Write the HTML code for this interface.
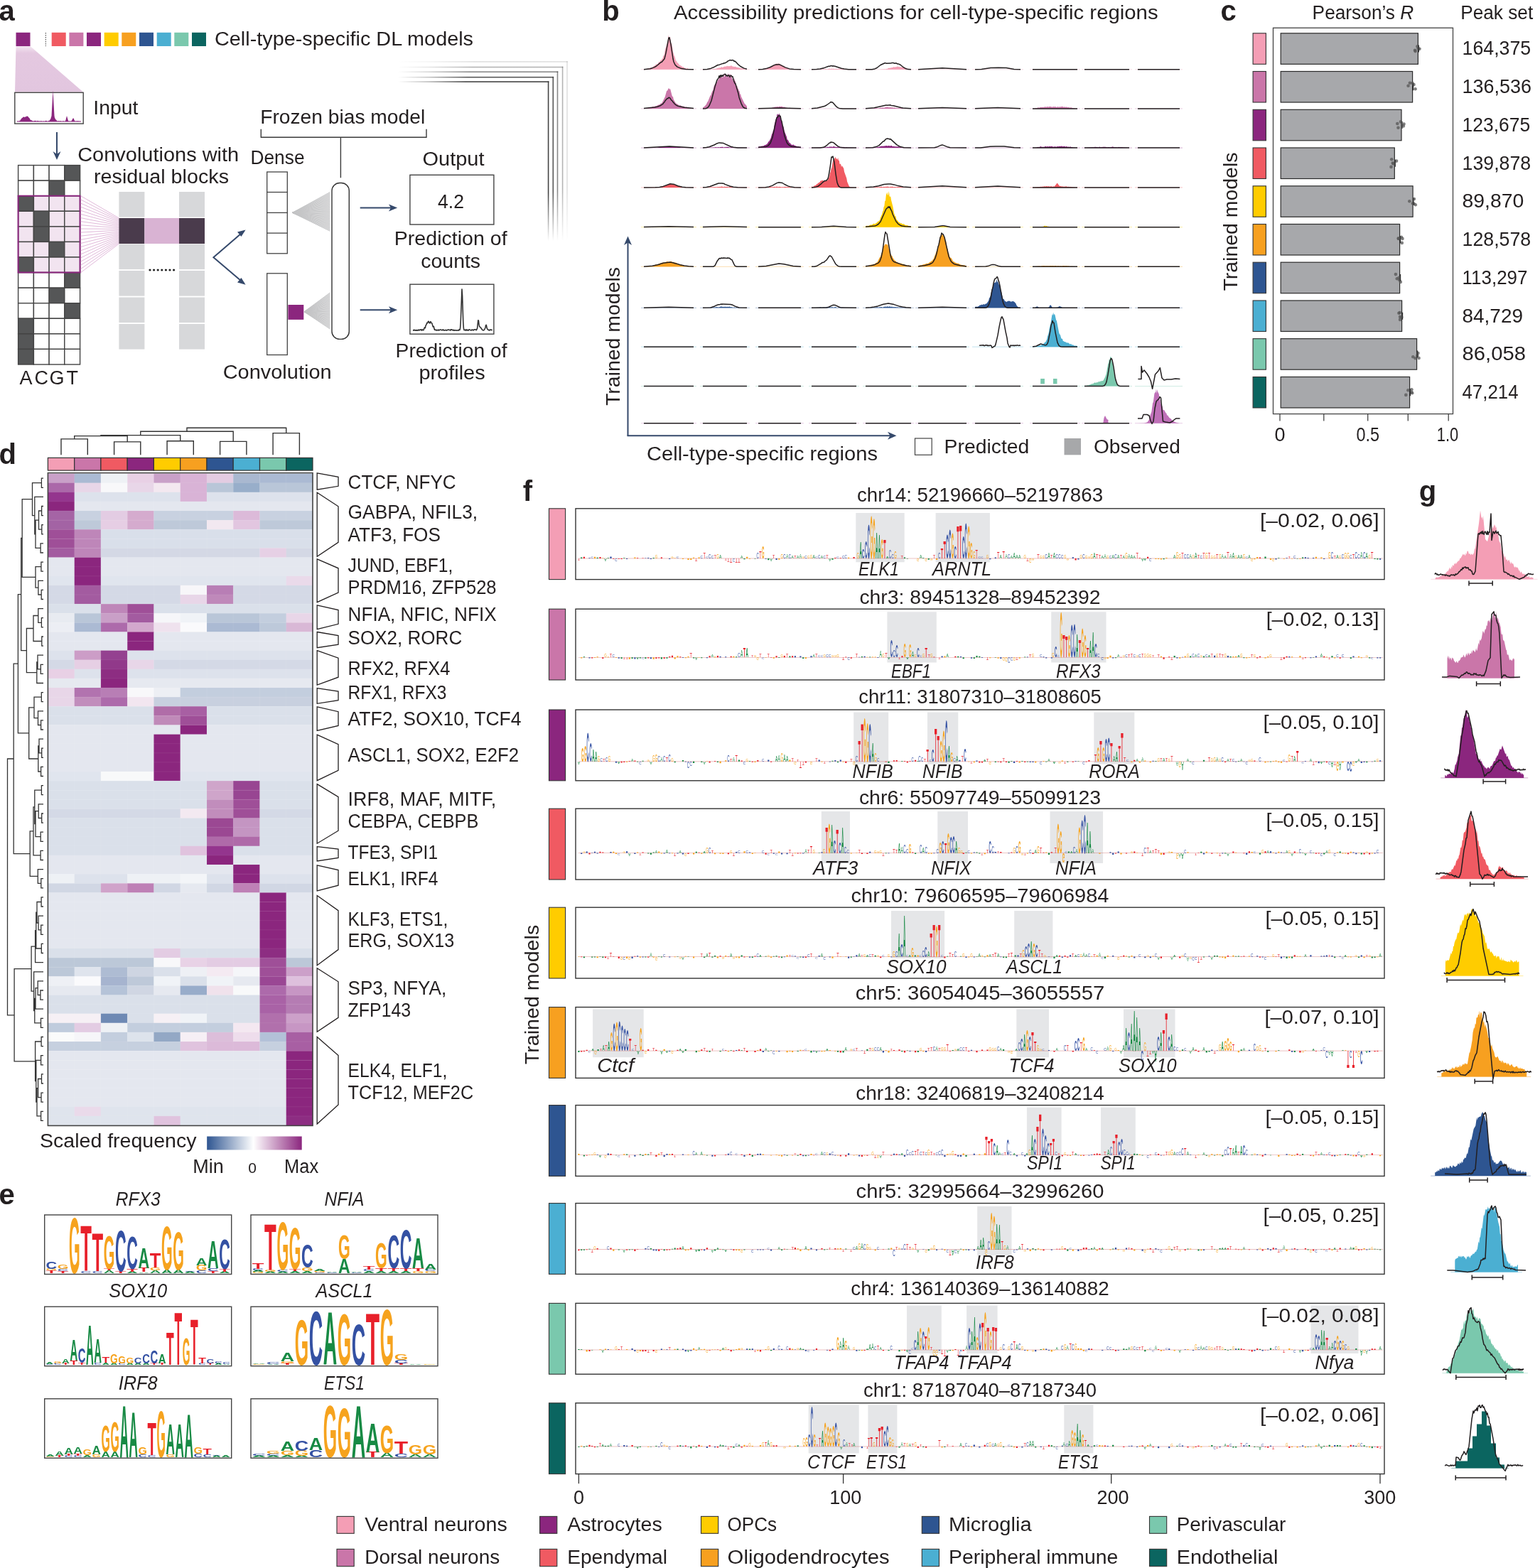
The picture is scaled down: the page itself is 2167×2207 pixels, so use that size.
<!DOCTYPE html>
<html><head><meta charset="utf-8"><title>Figure</title>
<style>
html,body{margin:0;padding:0;background:#fff;overflow:hidden;}
svg{display:block;}
svg{font-family:'Liberation Sans', Arial, sans-serif;font-size:27px;fill:#231f20;}
.L{font-weight:bold;font-size:100px}.M{font-size:100px}.a{fill:#178a44}.c{fill:#3451a3}.g{fill:#f6a31e}.t{fill:#e8202a}
</style></head><body>
<svg width="2167" height="2207" viewBox="0 0 2167 2207">
<rect width="2167" height="2207" fill="#fff"/>
<text x="-1.5" y="29" font-weight="bold" font-size="40">a</text>
<rect x="22.5" y="45.8" width="20" height="19.2" fill="#8B267E"/>
<line x1="64.3" y1="46" x2="64.3" y2="65" stroke="#333" stroke-width="1" stroke-dasharray="1.5,1.5"/>
<rect x="72.7" y="45.8" width="20" height="19.2" fill="#F05A62"/>
<rect x="97.4" y="45.8" width="20" height="19.2" fill="#CA76A9"/>
<rect x="122" y="45.8" width="20" height="19.2" fill="#8B267E"/>
<rect x="146.7" y="45.8" width="20" height="19.2" fill="#FFCC00"/>
<rect x="171.3" y="45.8" width="20" height="19.2" fill="#F7A020"/>
<rect x="196" y="45.8" width="20" height="19.2" fill="#2E5591"/>
<rect x="220.7" y="45.8" width="20" height="19.2" fill="#4BAFD2"/>
<rect x="245.3" y="45.8" width="20" height="19.2" fill="#7AC8AD"/>
<rect x="270" y="45.8" width="20" height="19.2" fill="#0B6560"/>
<text x="302" y="64" textLength="364" lengthAdjust="spacingAndGlyphs">Cell-type-specific DL models</text>
<defs><linearGradient id="trap" x1="0" y1="0" x2="0" y2="1"><stop offset="0" stop-color="#f3e6f1"/><stop offset="0.15" stop-color="#e4c8e0"/><stop offset="1" stop-color="#e2c6df"/></linearGradient></defs>
<polygon points="22.5,65 42.6,65 117,129.5 21,129.5" fill="url(#trap)"/>
<rect x="20.8" y="130.3" width="96.4" height="43.8" fill="#fff" stroke="#444" stroke-width="1.4"/>
<path d="M24,171.5l0,-0.9l0.5,-0.4l0.5,0.2l1,-0.3l0.5,0.6l0.5,-0.1l0.5,-1.2l0.5,0.5l0.5,-0.4l0.5,-1.4l0.5,0.1l0.5,-1.1l1,-1.1l0.5,0l1,-1.5l0.5,0.3l1,-0.2l0.5,0.7l0.5,-0.9l1.5,0.2l0.5,-1.2l0.5,0.4l1,-0.4l1,0.6l0.5,1.1l0.5,0.1l0.5,1l0.5,0l0.5,0.7l0.5,1.5l1,0.8l0.5,-0.6l0.5,1l0.5,-0l0.5,0.5l1.5,0.3l1.5,-0.6l0.5,0.3l1.5,-0.4l1,1l0.5,-0.8l0.5,-0.2l1,0.5l0.5,-0.2l0.5,0.6l0.5,-0.7l1.5,0.9l0.5,-0.9l0.5,-0.2l0.5,1.1l0.5,-0.9l1,0.8l1.5,-0.8l0.5,0.9l0.5,-0.6l0.5,0.6l0.5,-0.8l0.5,0.5l0.5,-0.7l0.5,-0.1l0.5,0.6l0.5,-0.6l1,1.1l0.5,-0.7l0.5,0.6l1.5,-1.1l0.5,0.2l0.5,-0.3l0.5,-1.5l0.5,-0.1l1.5,-4.7l2,-36l2,35.8l0.5,2.7l1.5,2.9l0.5,-0.2l1.5,2.1l1,-0.4l0.5,0.7l0.5,-0.7l0.5,0l0.5,0.7l0.5,-0.7l0.5,0.2l0.5,-0.2l0.5,0.4l1,-0.5l0.5,0.9l0.5,-0.1l1,-1.1l0.5,0.9l1,-0.4l0.5,0.3l1,-0.1l0.5,-0.4l0.5,-1.3l1.5,-5.7l2,7.1l0.5,0.4l0.5,-0.6l0.5,0.7l0.5,0.1l1,-0.6l0.5,0.7l1,-0.5l0.5,-1.1l0.5,-0.3l0.5,-1.6l1,-0.8l0.5,0l0.5,0.8l0.5,1.6l1,1.6l0.5,-0.3l0.5,0.5l0.5,-0.8l0.5,-0l0.5,0.8l0.5,-0.1l0.5,-0.7l1,0l1,0.8l1,-0.8l0.5,0.7l1.5,-0.2l0,1.1z" fill="#8B267E"/>
<text x="131.3" y="161" textLength="63" lengthAdjust="spacingAndGlyphs">Input</text>
<line x1="80" y1="186" x2="80" y2="220" stroke="#35496b" stroke-width="2"/>
<polygon points="74.5,213 80,225 85.5,213 80,217" fill="#35496b"/>
<text x="109.2" y="227" textLength="227" lengthAdjust="spacingAndGlyphs">Convolutions with</text>
<text x="132" y="258" textLength="190" lengthAdjust="spacingAndGlyphs">residual blocks</text>
<rect x="25.6" y="232.6" width="21.8" height="21.6" fill="#ffffff" stroke="#444" stroke-width="1.4"/>
<rect x="47.4" y="232.6" width="21.8" height="21.6" fill="#ffffff" stroke="#444" stroke-width="1.4"/>
<rect x="69.1" y="232.6" width="21.8" height="21.6" fill="#ffffff" stroke="#444" stroke-width="1.4"/>
<rect x="90.8" y="232.6" width="21.8" height="21.6" fill="#555657" stroke="#444" stroke-width="1.4"/>
<rect x="25.6" y="254.2" width="21.8" height="21.6" fill="#ffffff" stroke="#444" stroke-width="1.4"/>
<rect x="47.4" y="254.2" width="21.8" height="21.6" fill="#ffffff" stroke="#444" stroke-width="1.4"/>
<rect x="69.1" y="254.2" width="21.8" height="21.6" fill="#555657" stroke="#444" stroke-width="1.4"/>
<rect x="90.8" y="254.2" width="21.8" height="21.6" fill="#ffffff" stroke="#444" stroke-width="1.4"/>
<rect x="25.6" y="275.7" width="21.8" height="21.6" fill="#555657" stroke="#444" stroke-width="1.4"/>
<rect x="47.4" y="275.7" width="21.8" height="21.6" fill="#f2e4f0" stroke="#444" stroke-width="1.4"/>
<rect x="69.1" y="275.7" width="21.8" height="21.6" fill="#f2e4f0" stroke="#444" stroke-width="1.4"/>
<rect x="90.8" y="275.7" width="21.8" height="21.6" fill="#f2e4f0" stroke="#444" stroke-width="1.4"/>
<rect x="25.6" y="297.3" width="21.8" height="21.6" fill="#f2e4f0" stroke="#444" stroke-width="1.4"/>
<rect x="47.4" y="297.3" width="21.8" height="21.6" fill="#555657" stroke="#444" stroke-width="1.4"/>
<rect x="69.1" y="297.3" width="21.8" height="21.6" fill="#f2e4f0" stroke="#444" stroke-width="1.4"/>
<rect x="90.8" y="297.3" width="21.8" height="21.6" fill="#f2e4f0" stroke="#444" stroke-width="1.4"/>
<rect x="25.6" y="318.9" width="21.8" height="21.6" fill="#f2e4f0" stroke="#444" stroke-width="1.4"/>
<rect x="47.4" y="318.9" width="21.8" height="21.6" fill="#555657" stroke="#444" stroke-width="1.4"/>
<rect x="69.1" y="318.9" width="21.8" height="21.6" fill="#f2e4f0" stroke="#444" stroke-width="1.4"/>
<rect x="90.8" y="318.9" width="21.8" height="21.6" fill="#f2e4f0" stroke="#444" stroke-width="1.4"/>
<rect x="25.6" y="340.4" width="21.8" height="21.6" fill="#f2e4f0" stroke="#444" stroke-width="1.4"/>
<rect x="47.4" y="340.4" width="21.8" height="21.6" fill="#f2e4f0" stroke="#444" stroke-width="1.4"/>
<rect x="69.1" y="340.4" width="21.8" height="21.6" fill="#555657" stroke="#444" stroke-width="1.4"/>
<rect x="90.8" y="340.4" width="21.8" height="21.6" fill="#f2e4f0" stroke="#444" stroke-width="1.4"/>
<rect x="25.6" y="362" width="21.8" height="21.6" fill="#555657" stroke="#444" stroke-width="1.4"/>
<rect x="47.4" y="362" width="21.8" height="21.6" fill="#f2e4f0" stroke="#444" stroke-width="1.4"/>
<rect x="69.1" y="362" width="21.8" height="21.6" fill="#f2e4f0" stroke="#444" stroke-width="1.4"/>
<rect x="90.8" y="362" width="21.8" height="21.6" fill="#f2e4f0" stroke="#444" stroke-width="1.4"/>
<rect x="25.6" y="383.6" width="21.8" height="21.6" fill="#ffffff" stroke="#444" stroke-width="1.4"/>
<rect x="47.4" y="383.6" width="21.8" height="21.6" fill="#ffffff" stroke="#444" stroke-width="1.4"/>
<rect x="69.1" y="383.6" width="21.8" height="21.6" fill="#ffffff" stroke="#444" stroke-width="1.4"/>
<rect x="90.8" y="383.6" width="21.8" height="21.6" fill="#555657" stroke="#444" stroke-width="1.4"/>
<rect x="25.6" y="405.2" width="21.8" height="21.6" fill="#ffffff" stroke="#444" stroke-width="1.4"/>
<rect x="47.4" y="405.2" width="21.8" height="21.6" fill="#ffffff" stroke="#444" stroke-width="1.4"/>
<rect x="69.1" y="405.2" width="21.8" height="21.6" fill="#555657" stroke="#444" stroke-width="1.4"/>
<rect x="90.8" y="405.2" width="21.8" height="21.6" fill="#ffffff" stroke="#444" stroke-width="1.4"/>
<rect x="25.6" y="426.7" width="21.8" height="21.6" fill="#ffffff" stroke="#444" stroke-width="1.4"/>
<rect x="47.4" y="426.7" width="21.8" height="21.6" fill="#ffffff" stroke="#444" stroke-width="1.4"/>
<rect x="69.1" y="426.7" width="21.8" height="21.6" fill="#ffffff" stroke="#444" stroke-width="1.4"/>
<rect x="90.8" y="426.7" width="21.8" height="21.6" fill="#555657" stroke="#444" stroke-width="1.4"/>
<rect x="25.6" y="448.3" width="21.8" height="21.6" fill="#555657" stroke="#444" stroke-width="1.4"/>
<rect x="47.4" y="448.3" width="21.8" height="21.6" fill="#ffffff" stroke="#444" stroke-width="1.4"/>
<rect x="69.1" y="448.3" width="21.8" height="21.6" fill="#ffffff" stroke="#444" stroke-width="1.4"/>
<rect x="90.8" y="448.3" width="21.8" height="21.6" fill="#ffffff" stroke="#444" stroke-width="1.4"/>
<rect x="25.6" y="469.9" width="21.8" height="21.6" fill="#555657" stroke="#444" stroke-width="1.4"/>
<rect x="47.4" y="469.9" width="21.8" height="21.6" fill="#ffffff" stroke="#444" stroke-width="1.4"/>
<rect x="69.1" y="469.9" width="21.8" height="21.6" fill="#ffffff" stroke="#444" stroke-width="1.4"/>
<rect x="90.8" y="469.9" width="21.8" height="21.6" fill="#ffffff" stroke="#444" stroke-width="1.4"/>
<rect x="25.6" y="491.4" width="21.8" height="21.6" fill="#555657" stroke="#444" stroke-width="1.4"/>
<rect x="47.4" y="491.4" width="21.8" height="21.6" fill="#ffffff" stroke="#444" stroke-width="1.4"/>
<rect x="69.1" y="491.4" width="21.8" height="21.6" fill="#ffffff" stroke="#444" stroke-width="1.4"/>
<rect x="90.8" y="491.4" width="21.8" height="21.6" fill="#ffffff" stroke="#444" stroke-width="1.4"/>
<rect x="25.6" y="275.7" width="87" height="107.8" fill="none" stroke="#8B267E" stroke-width="2"/>
<text x="36.5" y="541.4" text-anchor="middle">A</text>
<text x="58.2" y="541.4" text-anchor="middle">C</text>
<text x="80" y="541.4" text-anchor="middle">G</text>
<text x="101.7" y="541.4" text-anchor="middle">T</text>
<path d="M113.6,275.7 L167.4,307 M113.6,280.9 L167.4,308.7 M113.6,286 L167.4,310.4 M113.6,291.1 L167.4,312.1 M113.6,296.3 L167.4,313.9 M113.6,301.4 L167.4,315.6 M113.6,306.6 L167.4,317.3 M113.6,311.7 L167.4,319 M113.6,316.8 L167.4,320.7 M113.6,322 L167.4,322.4 M113.6,327.1 L167.4,324.1 M113.6,332.2 L167.4,325.9 M113.6,337.4 L167.4,327.6 M113.6,342.5 L167.4,329.3 M113.6,347.6 L167.4,331 M113.6,352.8 L167.4,332.7 M113.6,357.9 L167.4,334.4 M113.6,363 L167.4,336.1 M113.6,368.2 L167.4,337.9 M113.6,373.3 L167.4,339.6 M113.6,378.5 L167.4,341.3 M113.6,383.6 L167.4,343" stroke="#d8a6cf" stroke-width="0.8" fill="none"/>
<rect x="167.4" y="270" width="36" height="35.6" fill="#d7d8da"/>
<rect x="167.4" y="307" width="36" height="36" fill="#4a3b4c"/>
<rect x="167.4" y="343.5" width="36" height="35.6" fill="#d7d8da"/>
<rect x="167.4" y="381" width="36" height="35.6" fill="#d7d8da"/>
<rect x="167.4" y="418.5" width="36" height="35.6" fill="#d7d8da"/>
<rect x="167.4" y="456" width="36" height="35.6" fill="#d7d8da"/>
<rect x="252" y="270" width="36" height="35.6" fill="#d7d8da"/>
<rect x="252" y="307" width="36" height="36" fill="#4a3b4c"/>
<rect x="252" y="343.5" width="36" height="35.6" fill="#d7d8da"/>
<rect x="252" y="381" width="36" height="35.6" fill="#d7d8da"/>
<rect x="252" y="418.5" width="36" height="35.6" fill="#d7d8da"/>
<rect x="252" y="456" width="36" height="35.6" fill="#d7d8da"/>
<rect x="203.4" y="307" width="48.6" height="36" fill="#d9b3d3"/>
<circle cx="211" cy="380" r="1.6" fill="#222"/>
<circle cx="216.6" cy="380" r="1.6" fill="#222"/>
<circle cx="222.2" cy="380" r="1.6" fill="#222"/>
<circle cx="227.8" cy="380" r="1.6" fill="#222"/>
<circle cx="233.4" cy="380" r="1.6" fill="#222"/>
<circle cx="239" cy="380" r="1.6" fill="#222"/>
<circle cx="244.6" cy="380" r="1.6" fill="#222"/>
<path d="M343,325.5 L300.4,362.2 L343,398.6" fill="none" stroke="#35496b" stroke-width="2"/>
<polygon points="345.6,323.4 334,326.5 339.5,333" fill="#35496b"/>
<polygon points="345.6,400.7 334,397.6 339.5,391" fill="#35496b"/>
<text x="366.2" y="173.7" textLength="232" lengthAdjust="spacingAndGlyphs">Frozen bias model</text>
<path d="M367.3,181.8 V193.3 H600 V181.8 M479.4,193.3 V250.2" fill="none" stroke="#3a3a3a" stroke-width="1.4"/>
<text x="352.5" y="231" textLength="76" lengthAdjust="spacingAndGlyphs">Dense</text>
<rect x="375.7" y="242" width="28.6" height="114.8" fill="#fff" stroke="#444" stroke-width="1.3"/>
<line x1="375.7" y1="270.5" x2="404.3" y2="270.5" stroke="#444" stroke-width="1.3"/>
<line x1="375.7" y1="299.4" x2="404.3" y2="299.4" stroke="#444" stroke-width="1.3"/>
<line x1="375.7" y1="328.1" x2="404.3" y2="328.1" stroke="#444" stroke-width="1.3"/>
<rect x="375.7" y="384.8" width="28.6" height="114.7" fill="#fff" stroke="#444" stroke-width="1.3"/>
<rect x="405.4" y="429" width="21.9" height="20.9" fill="#8B267E"/>
<path d="M411.4,299.4 L464.3,270.5 M411.4,299.4 L464.3,272.7 M411.4,299.4 L464.3,274.9 M411.4,299.4 L464.3,277.1 M411.4,299.4 L464.3,279.3 M411.4,299.4 L464.3,281.4 M411.4,299.4 L464.3,283.6 M411.4,299.4 L464.3,285.8 M411.4,299.4 L464.3,288 M411.4,299.4 L464.3,290.2 M411.4,299.4 L464.3,292.4 M411.4,299.4 L464.3,294.6 M411.4,299.4 L464.3,296.8 M411.4,299.4 L464.3,298.9 M411.4,299.4 L464.3,301.1 M411.4,299.4 L464.3,303.3 M411.4,299.4 L464.3,305.5 M411.4,299.4 L464.3,307.7 M411.4,299.4 L464.3,309.9 M411.4,299.4 L464.3,312.1 M411.4,299.4 L464.3,314.3 M411.4,299.4 L464.3,316.4 M411.4,299.4 L464.3,318.6 M411.4,299.4 L464.3,320.8 M411.4,299.4 L464.3,323 M411.4,299.4 L464.3,325.2" stroke="#bdbec0" stroke-width="0.9" fill="none"/>
<polygon points="411.4,299.4 464.3,270.5 464.3,325.2" fill="#c8c9cb" opacity="0.55"/>
<path d="M428,438.8 L464.3,412 M428,438.8 L464.3,414 M428,438.8 L464.3,416.1 M428,438.8 L464.3,418.1 M428,438.8 L464.3,420.2 M428,438.8 L464.3,422.2 M428,438.8 L464.3,424.2 M428,438.8 L464.3,426.3 M428,438.8 L464.3,428.3 M428,438.8 L464.3,430.4 M428,438.8 L464.3,432.4 M428,438.8 L464.3,434.4 M428,438.8 L464.3,436.5 M428,438.8 L464.3,438.5 M428,438.8 L464.3,440.6 M428,438.8 L464.3,442.6 M428,438.8 L464.3,444.6 M428,438.8 L464.3,446.7 M428,438.8 L464.3,448.7 M428,438.8 L464.3,450.8 M428,438.8 L464.3,452.8 M428,438.8 L464.3,454.8 M428,438.8 L464.3,456.9 M428,438.8 L464.3,458.9 M428,438.8 L464.3,461 M428,438.8 L464.3,463" stroke="#bdbec0" stroke-width="0.9" fill="none"/>
<polygon points="428,438.8 464.3,412 464.3,463" fill="#c8c9cb" opacity="0.55"/>
<rect x="467" y="257.5" width="24.3" height="219.9" rx="11" ry="11" fill="#fff" stroke="#333" stroke-width="1.4"/>
<line x1="506.7" y1="292.6" x2="552" y2="292.6" stroke="#35496b" stroke-width="2"/>
<polygon points="559.2,292.6 547,287.6 550,292.6 547,297.6" fill="#35496b"/>
<line x1="506.7" y1="436.2" x2="552" y2="436.2" stroke="#35496b" stroke-width="2"/>
<polygon points="559.2,436.2 547,431.2 550,436.2 547,441.2" fill="#35496b"/>
<text x="594.5" y="232.6" textLength="87" lengthAdjust="spacingAndGlyphs">Output</text>
<rect x="576.9" y="246.3" width="118" height="69.7" fill="#fff" stroke="#444" stroke-width="1.4"/>
<text x="634.5" y="292.8" text-anchor="middle" textLength="37" lengthAdjust="spacingAndGlyphs">4.2</text>
<text x="554.8" y="345" textLength="158.8" lengthAdjust="spacingAndGlyphs">Prediction of</text>
<text x="592.3" y="377" textLength="83.8" lengthAdjust="spacingAndGlyphs">counts</text>
<rect x="576.9" y="400.2" width="118" height="70" fill="#fff" stroke="#444" stroke-width="1.4"/>
<path d="M581,464.7l0.6,0.2l0.6,-0.6l0.6,0.8l0.6,-0.7l1.2,0.7l0.6,-0.6l0.6,0.6l0.6,-0.5l0.6,0.5l0.6,-0l1.2,-1.1l0.6,1l0.6,-0.1l1.2,-1l1.2,0.7l0.6,-0.8l0.6,1.3l0.6,-1.2l0.6,0.6l1.2,0.1l1.2,-3.2l0.6,-0.5l0.6,0.7l0.6,-3.4l0.6,-0.5l1.2,-3.3l0.6,0.4l1.2,-2.4l0.6,-0l0.6,1.9l0.6,-0.1l0.6,0.7l0.6,-2.2l0.6,0.1l0.6,1.4l1.2,1.2l1.2,4.5l0.6,-0.6l0.6,0.3l0.6,3.3l0.6,1.4l0.6,-0.6l0.6,0.8l1.2,0.5l0.6,-0.9l0.6,0.9l1.2,-0.3l0.6,-0.7l0.6,1.1l1.8,-1.1l1.2,-0l0.6,0.8l1.2,-0.1l0.6,-0.7l0.6,-0.1l0.6,1.1l1.8,-0.1l1.2,-0.5l1.2,0.8l0.6,-0.6l0.6,0.1l1.2,-0.8l1.2,0.6l1.2,-0.2l0.6,0.8l0.6,-1.2l1.8,0.2l0.6,0.6l0.6,-0.1l0.6,0.5l0.6,-0.8l0.6,0.8l2.4,-0.4l1.2,0.5l1.8,-0.5l0.6,0.5l0.6,-1.2l1.2,0.4l0.6,-2.6l0.6,-8l1.8,-46.8l0.6,9.4l1.2,37.2l0.6,8.5l0.6,2.4l1.2,0.3l0.6,-0.8l0.6,1l0.6,0.2l0.6,-1.3l1.2,1.1l0.6,-0.6l0.6,0.8l1.2,-1.4l1.2,0.4l0.6,0.6l0.6,-0.1l0.6,0.3l0.6,-0.9l0.6,0.4l0.6,-0.4l0.6,0.6l0.6,0.2l0.6,-0.8l0.6,-0.3l2.4,0.3l0.6,0.6l1.2,-2.5l1.2,-11.4l0.6,0.3l0.6,5.5l0.6,2.7l0.6,0.5l0.6,1.2l0.6,-0l2.4,3.5l1.8,0.4l1.2,-1.2l1.2,-2.7l0.6,-3l0.6,-0.7l1.2,5.2l1.2,1.5l1.8,1l0.6,-0.9l0.6,0.6l1.2,-0.9l0.6,0.8l0.6,0l0.6,-0.7" fill="none" stroke="#333" stroke-width="1.6" stroke-linejoin="round"/>
<text x="556.6" y="502.8" textLength="157" lengthAdjust="spacingAndGlyphs">Prediction of</text>
<text x="589.4" y="533.5" textLength="93.3" lengthAdjust="spacingAndGlyphs">profiles</text>
<text x="313.7" y="533" textLength="152.9" lengthAdjust="spacingAndGlyphs">Convolution</text>
<defs><linearGradient id="sh0" x1="0" y1="0" x2="1" y2="0"><stop offset="0" stop-color="#3a3a3a" stop-opacity="0"/><stop offset="0.2" stop-color="#3a3a3a" stop-opacity="0.33249999999999996"/><stop offset="0.45" stop-color="#3a3a3a" stop-opacity="0.95"/><stop offset="1" stop-color="#3a3a3a" stop-opacity="0.95"/></linearGradient><linearGradient id="sv0" x1="0" y1="0" x2="0" y2="1"><stop offset="0" stop-color="#3a3a3a" stop-opacity="0.95"/><stop offset="0.7" stop-color="#3a3a3a" stop-opacity="0.95"/><stop offset="1" stop-color="#3a3a3a" stop-opacity="0"/></linearGradient></defs>
<rect x="560" y="114.3" width="212.4" height="1.6" fill="url(#sh0)"/>
<rect x="770.8" y="114.3" width="1.6" height="224.9" fill="url(#sv0)"/>
<defs><linearGradient id="sh1" x1="0" y1="0" x2="1" y2="0"><stop offset="0" stop-color="#3a3a3a" stop-opacity="0"/><stop offset="0.2" stop-color="#3a3a3a" stop-opacity="0.2975"/><stop offset="0.45" stop-color="#3a3a3a" stop-opacity="0.85"/><stop offset="1" stop-color="#3a3a3a" stop-opacity="0.85"/></linearGradient><linearGradient id="sv1" x1="0" y1="0" x2="0" y2="1"><stop offset="0" stop-color="#3a3a3a" stop-opacity="0.85"/><stop offset="0.7" stop-color="#3a3a3a" stop-opacity="0.85"/><stop offset="1" stop-color="#3a3a3a" stop-opacity="0"/></linearGradient></defs>
<rect x="560" y="107.9" width="219.1" height="1.6" fill="url(#sh1)"/>
<rect x="777.5" y="107.9" width="1.6" height="231.3" fill="url(#sv1)"/>
<defs><linearGradient id="sh2" x1="0" y1="0" x2="1" y2="0"><stop offset="0" stop-color="#3a3a3a" stop-opacity="0"/><stop offset="0.2" stop-color="#3a3a3a" stop-opacity="0.21"/><stop offset="0.45" stop-color="#3a3a3a" stop-opacity="0.6"/><stop offset="1" stop-color="#3a3a3a" stop-opacity="0.6"/></linearGradient><linearGradient id="sv2" x1="0" y1="0" x2="0" y2="1"><stop offset="0" stop-color="#3a3a3a" stop-opacity="0.6"/><stop offset="0.7" stop-color="#3a3a3a" stop-opacity="0.6"/><stop offset="1" stop-color="#3a3a3a" stop-opacity="0"/></linearGradient></defs>
<rect x="560" y="100.4" width="225.3" height="1.6" fill="url(#sh2)"/>
<rect x="783.7" y="100.4" width="1.6" height="238.8" fill="url(#sv2)"/>
<defs><linearGradient id="sh3" x1="0" y1="0" x2="1" y2="0"><stop offset="0" stop-color="#3a3a3a" stop-opacity="0"/><stop offset="0.2" stop-color="#3a3a3a" stop-opacity="0.13299999999999998"/><stop offset="0.45" stop-color="#3a3a3a" stop-opacity="0.38"/><stop offset="1" stop-color="#3a3a3a" stop-opacity="0.38"/></linearGradient><linearGradient id="sv3" x1="0" y1="0" x2="0" y2="1"><stop offset="0" stop-color="#3a3a3a" stop-opacity="0.38"/><stop offset="0.7" stop-color="#3a3a3a" stop-opacity="0.38"/><stop offset="1" stop-color="#3a3a3a" stop-opacity="0"/></linearGradient></defs>
<rect x="560" y="93.7" width="232.4" height="1.6" fill="url(#sh3)"/>
<rect x="790.8" y="93.7" width="1.6" height="245.5" fill="url(#sv3)"/>
<defs><linearGradient id="sh4" x1="0" y1="0" x2="1" y2="0"><stop offset="0" stop-color="#3a3a3a" stop-opacity="0"/><stop offset="0.2" stop-color="#3a3a3a" stop-opacity="0.055999999999999994"/><stop offset="0.45" stop-color="#3a3a3a" stop-opacity="0.16"/><stop offset="1" stop-color="#3a3a3a" stop-opacity="0.16"/></linearGradient><linearGradient id="sv4" x1="0" y1="0" x2="0" y2="1"><stop offset="0" stop-color="#3a3a3a" stop-opacity="0.16"/><stop offset="0.7" stop-color="#3a3a3a" stop-opacity="0.16"/><stop offset="1" stop-color="#3a3a3a" stop-opacity="0"/></linearGradient></defs>
<rect x="560" y="86.1" width="238.8" height="1.6" fill="url(#sh4)"/>
<rect x="797.2" y="86.1" width="1.6" height="253.1" fill="url(#sv4)"/>
<text x="847.2" y="29" font-weight="bold" font-size="40">b</text>
<text x="948" y="27" textLength="681.6" lengthAdjust="spacingAndGlyphs">Accessibility predictions for cell-type-specific regions</text>
<line x1="902" y1="97.8" x2="980" y2="97.8" stroke="#F49EB5" stroke-width="1" opacity="0.35"/>
<line x1="985" y1="97.8" x2="1055" y2="97.8" stroke="#F49EB5" stroke-width="1" opacity="0.35"/>
<line x1="1063" y1="97.8" x2="1131" y2="97.8" stroke="#F49EB5" stroke-width="1" opacity="0.35"/>
<line x1="1138" y1="97.8" x2="1209" y2="97.8" stroke="#F49EB5" stroke-width="1" opacity="0.35"/>
<line x1="1214" y1="97.8" x2="1286" y2="97.8" stroke="#F49EB5" stroke-width="1" opacity="0.35"/>
<line x1="1288" y1="97.8" x2="1364" y2="97.8" stroke="#F49EB5" stroke-width="1" opacity="0.35"/>
<line x1="1368" y1="97.8" x2="1440" y2="97.8" stroke="#F49EB5" stroke-width="1" opacity="0.35"/>
<line x1="1449" y1="97.8" x2="1520" y2="97.8" stroke="#F49EB5" stroke-width="1" opacity="0.35"/>
<line x1="1522" y1="97.8" x2="1593" y2="97.8" stroke="#F49EB5" stroke-width="1" opacity="0.35"/>
<line x1="1597" y1="97.8" x2="1664" y2="97.8" stroke="#F49EB5" stroke-width="1" opacity="0.35"/>
<line x1="902" y1="152.9" x2="980" y2="152.9" stroke="#CA76A9" stroke-width="1" opacity="0.35"/>
<line x1="985" y1="152.9" x2="1055" y2="152.9" stroke="#CA76A9" stroke-width="1" opacity="0.35"/>
<line x1="1063" y1="152.9" x2="1131" y2="152.9" stroke="#CA76A9" stroke-width="1" opacity="0.35"/>
<line x1="1138" y1="152.9" x2="1209" y2="152.9" stroke="#CA76A9" stroke-width="1" opacity="0.35"/>
<line x1="1214" y1="152.9" x2="1286" y2="152.9" stroke="#CA76A9" stroke-width="1" opacity="0.35"/>
<line x1="1288" y1="152.9" x2="1364" y2="152.9" stroke="#CA76A9" stroke-width="1" opacity="0.35"/>
<line x1="1368" y1="152.9" x2="1440" y2="152.9" stroke="#CA76A9" stroke-width="1" opacity="0.35"/>
<line x1="1449" y1="152.9" x2="1520" y2="152.9" stroke="#CA76A9" stroke-width="1" opacity="0.35"/>
<line x1="1522" y1="152.9" x2="1593" y2="152.9" stroke="#CA76A9" stroke-width="1" opacity="0.35"/>
<line x1="1597" y1="152.9" x2="1664" y2="152.9" stroke="#CA76A9" stroke-width="1" opacity="0.35"/>
<line x1="902" y1="208.1" x2="980" y2="208.1" stroke="#8B267E" stroke-width="1" opacity="0.35"/>
<line x1="985" y1="208.1" x2="1055" y2="208.1" stroke="#8B267E" stroke-width="1" opacity="0.35"/>
<line x1="1063" y1="208.1" x2="1131" y2="208.1" stroke="#8B267E" stroke-width="1" opacity="0.35"/>
<line x1="1138" y1="208.1" x2="1209" y2="208.1" stroke="#8B267E" stroke-width="1" opacity="0.35"/>
<line x1="1214" y1="208.1" x2="1286" y2="208.1" stroke="#8B267E" stroke-width="1" opacity="0.35"/>
<line x1="1288" y1="208.1" x2="1364" y2="208.1" stroke="#8B267E" stroke-width="1" opacity="0.35"/>
<line x1="1368" y1="208.1" x2="1440" y2="208.1" stroke="#8B267E" stroke-width="1" opacity="0.35"/>
<line x1="1449" y1="208.1" x2="1520" y2="208.1" stroke="#8B267E" stroke-width="1" opacity="0.35"/>
<line x1="1522" y1="208.1" x2="1593" y2="208.1" stroke="#8B267E" stroke-width="1" opacity="0.35"/>
<line x1="1597" y1="208.1" x2="1664" y2="208.1" stroke="#8B267E" stroke-width="1" opacity="0.35"/>
<line x1="902" y1="263.9" x2="980" y2="263.9" stroke="#F05A62" stroke-width="1" opacity="0.35"/>
<line x1="985" y1="263.9" x2="1055" y2="263.9" stroke="#F05A62" stroke-width="1" opacity="0.35"/>
<line x1="1063" y1="263.9" x2="1131" y2="263.9" stroke="#F05A62" stroke-width="1" opacity="0.35"/>
<line x1="1138" y1="263.9" x2="1209" y2="263.9" stroke="#F05A62" stroke-width="1" opacity="0.35"/>
<line x1="1214" y1="263.9" x2="1286" y2="263.9" stroke="#F05A62" stroke-width="1" opacity="0.35"/>
<line x1="1288" y1="263.9" x2="1364" y2="263.9" stroke="#F05A62" stroke-width="1" opacity="0.35"/>
<line x1="1368" y1="263.9" x2="1440" y2="263.9" stroke="#F05A62" stroke-width="1" opacity="0.35"/>
<line x1="1449" y1="263.9" x2="1520" y2="263.9" stroke="#F05A62" stroke-width="1" opacity="0.35"/>
<line x1="1522" y1="263.9" x2="1593" y2="263.9" stroke="#F05A62" stroke-width="1" opacity="0.35"/>
<line x1="1597" y1="263.9" x2="1664" y2="263.9" stroke="#F05A62" stroke-width="1" opacity="0.35"/>
<line x1="902" y1="319.7" x2="980" y2="319.7" stroke="#FFCC00" stroke-width="1" opacity="0.35"/>
<line x1="985" y1="319.7" x2="1055" y2="319.7" stroke="#FFCC00" stroke-width="1" opacity="0.35"/>
<line x1="1063" y1="319.7" x2="1131" y2="319.7" stroke="#FFCC00" stroke-width="1" opacity="0.35"/>
<line x1="1138" y1="319.7" x2="1209" y2="319.7" stroke="#FFCC00" stroke-width="1" opacity="0.35"/>
<line x1="1214" y1="319.7" x2="1286" y2="319.7" stroke="#FFCC00" stroke-width="1" opacity="0.35"/>
<line x1="1288" y1="319.7" x2="1364" y2="319.7" stroke="#FFCC00" stroke-width="1" opacity="0.35"/>
<line x1="1368" y1="319.7" x2="1440" y2="319.7" stroke="#FFCC00" stroke-width="1" opacity="0.35"/>
<line x1="1449" y1="319.7" x2="1520" y2="319.7" stroke="#FFCC00" stroke-width="1" opacity="0.35"/>
<line x1="1522" y1="319.7" x2="1593" y2="319.7" stroke="#FFCC00" stroke-width="1" opacity="0.35"/>
<line x1="1597" y1="319.7" x2="1664" y2="319.7" stroke="#FFCC00" stroke-width="1" opacity="0.35"/>
<line x1="902" y1="375.3" x2="980" y2="375.3" stroke="#F7A020" stroke-width="1" opacity="0.35"/>
<line x1="985" y1="375.3" x2="1055" y2="375.3" stroke="#F7A020" stroke-width="1" opacity="0.35"/>
<line x1="1063" y1="375.3" x2="1131" y2="375.3" stroke="#F7A020" stroke-width="1" opacity="0.35"/>
<line x1="1138" y1="375.3" x2="1209" y2="375.3" stroke="#F7A020" stroke-width="1" opacity="0.35"/>
<line x1="1214" y1="375.3" x2="1286" y2="375.3" stroke="#F7A020" stroke-width="1" opacity="0.35"/>
<line x1="1288" y1="375.3" x2="1364" y2="375.3" stroke="#F7A020" stroke-width="1" opacity="0.35"/>
<line x1="1368" y1="375.3" x2="1440" y2="375.3" stroke="#F7A020" stroke-width="1" opacity="0.35"/>
<line x1="1449" y1="375.3" x2="1520" y2="375.3" stroke="#F7A020" stroke-width="1" opacity="0.35"/>
<line x1="1522" y1="375.3" x2="1593" y2="375.3" stroke="#F7A020" stroke-width="1" opacity="0.35"/>
<line x1="1597" y1="375.3" x2="1664" y2="375.3" stroke="#F7A020" stroke-width="1" opacity="0.35"/>
<line x1="902" y1="433.3" x2="980" y2="433.3" stroke="#2E5591" stroke-width="1" opacity="0.35"/>
<line x1="985" y1="433.3" x2="1055" y2="433.3" stroke="#2E5591" stroke-width="1" opacity="0.35"/>
<line x1="1063" y1="433.3" x2="1131" y2="433.3" stroke="#2E5591" stroke-width="1" opacity="0.35"/>
<line x1="1138" y1="433.3" x2="1209" y2="433.3" stroke="#2E5591" stroke-width="1" opacity="0.35"/>
<line x1="1214" y1="433.3" x2="1286" y2="433.3" stroke="#2E5591" stroke-width="1" opacity="0.35"/>
<line x1="1288" y1="433.3" x2="1364" y2="433.3" stroke="#2E5591" stroke-width="1" opacity="0.35"/>
<line x1="1368" y1="433.3" x2="1440" y2="433.3" stroke="#2E5591" stroke-width="1" opacity="0.35"/>
<line x1="1449" y1="433.3" x2="1520" y2="433.3" stroke="#2E5591" stroke-width="1" opacity="0.35"/>
<line x1="1522" y1="433.3" x2="1593" y2="433.3" stroke="#2E5591" stroke-width="1" opacity="0.35"/>
<line x1="1597" y1="433.3" x2="1664" y2="433.3" stroke="#2E5591" stroke-width="1" opacity="0.35"/>
<line x1="902" y1="488.2" x2="980" y2="488.2" stroke="#4BAFD2" stroke-width="1" opacity="0.35"/>
<line x1="985" y1="488.2" x2="1055" y2="488.2" stroke="#4BAFD2" stroke-width="1" opacity="0.35"/>
<line x1="1063" y1="488.2" x2="1131" y2="488.2" stroke="#4BAFD2" stroke-width="1" opacity="0.35"/>
<line x1="1138" y1="488.2" x2="1209" y2="488.2" stroke="#4BAFD2" stroke-width="1" opacity="0.35"/>
<line x1="1214" y1="488.2" x2="1286" y2="488.2" stroke="#4BAFD2" stroke-width="1" opacity="0.35"/>
<line x1="1288" y1="488.2" x2="1364" y2="488.2" stroke="#4BAFD2" stroke-width="1" opacity="0.35"/>
<line x1="1368" y1="488.2" x2="1440" y2="488.2" stroke="#4BAFD2" stroke-width="1" opacity="0.35"/>
<line x1="1449" y1="488.2" x2="1520" y2="488.2" stroke="#4BAFD2" stroke-width="1" opacity="0.35"/>
<line x1="1522" y1="488.2" x2="1593" y2="488.2" stroke="#4BAFD2" stroke-width="1" opacity="0.35"/>
<line x1="1597" y1="488.2" x2="1664" y2="488.2" stroke="#4BAFD2" stroke-width="1" opacity="0.35"/>
<line x1="902" y1="543.6" x2="980" y2="543.6" stroke="#7AC8AD" stroke-width="1" opacity="0.35"/>
<line x1="985" y1="543.6" x2="1055" y2="543.6" stroke="#7AC8AD" stroke-width="1" opacity="0.35"/>
<line x1="1063" y1="543.6" x2="1131" y2="543.6" stroke="#7AC8AD" stroke-width="1" opacity="0.35"/>
<line x1="1138" y1="543.6" x2="1209" y2="543.6" stroke="#7AC8AD" stroke-width="1" opacity="0.35"/>
<line x1="1214" y1="543.6" x2="1286" y2="543.6" stroke="#7AC8AD" stroke-width="1" opacity="0.35"/>
<line x1="1288" y1="543.6" x2="1364" y2="543.6" stroke="#7AC8AD" stroke-width="1" opacity="0.35"/>
<line x1="1368" y1="543.6" x2="1440" y2="543.6" stroke="#7AC8AD" stroke-width="1" opacity="0.35"/>
<line x1="1449" y1="543.6" x2="1520" y2="543.6" stroke="#7AC8AD" stroke-width="1" opacity="0.35"/>
<line x1="1522" y1="543.6" x2="1593" y2="543.6" stroke="#7AC8AD" stroke-width="1" opacity="0.35"/>
<line x1="1597" y1="543.6" x2="1664" y2="543.6" stroke="#7AC8AD" stroke-width="1" opacity="0.35"/>
<line x1="902" y1="595.7" x2="980" y2="595.7" stroke="#BF70B8" stroke-width="1" opacity="0.35"/>
<line x1="985" y1="595.7" x2="1055" y2="595.7" stroke="#BF70B8" stroke-width="1" opacity="0.35"/>
<line x1="1063" y1="595.7" x2="1131" y2="595.7" stroke="#BF70B8" stroke-width="1" opacity="0.35"/>
<line x1="1138" y1="595.7" x2="1209" y2="595.7" stroke="#BF70B8" stroke-width="1" opacity="0.35"/>
<line x1="1214" y1="595.7" x2="1286" y2="595.7" stroke="#BF70B8" stroke-width="1" opacity="0.35"/>
<line x1="1288" y1="595.7" x2="1364" y2="595.7" stroke="#BF70B8" stroke-width="1" opacity="0.35"/>
<line x1="1368" y1="595.7" x2="1440" y2="595.7" stroke="#BF70B8" stroke-width="1" opacity="0.35"/>
<line x1="1449" y1="595.7" x2="1520" y2="595.7" stroke="#BF70B8" stroke-width="1" opacity="0.35"/>
<line x1="1522" y1="595.7" x2="1593" y2="595.7" stroke="#BF70B8" stroke-width="1" opacity="0.35"/>
<line x1="1597" y1="595.7" x2="1664" y2="595.7" stroke="#BF70B8" stroke-width="1" opacity="0.35"/>
<path d="M906,97.8l0,-0.4l4.8,-0.6l0.8,-0.6l0.8,0.5l0.8,-0.8l0.8,0.4l0.9,-1.3l1.6,0.7l2.4,-1.5l0.8,-1.1l2.4,-0.9l0.8,-1.8l0.8,-0.2l0.8,0.5l0.8,-0.4l2.4,-3.8l0.8,1.5l0.8,-2.7l0.8,-1l0.8,0.6l0.8,-2.4l0.9,0.1l0.8,-4.7l0.8,0.9l0.8,-2.3l0.8,-6l4,-13.6l0.8,-7.7l0.8,3.9l0.8,1.5l0.8,-3.4l0.8,7.2l0.8,3.1l0.8,0.4l1.6,10.8l1.6,5.6l0.8,1.1l1.7,6.5l0.8,-0.6l0.8,3.1l0.8,-0.5l0.8,1.6l0.8,0.2l0.8,1.7l2.4,1.2l2.4,2l0.8,-0.5l0.8,0.9l1.6,0.9l2.4,0.7l0.8,-0.5l1.7,0.6l0.8,0.8l0.8,-0.8l0.8,0l0.8,0.6l4,0.5z M989,97.8l12.1,-0.4l3.2,-0.3l0.8,-0.5l0.8,0.8l0.8,-0.8l0.8,0.4l1.6,-1.1l1.6,0.2l0.8,-0.9l0.9,0.3l1.6,-0.2l1.6,-1.2l0.8,0.8l4,-1.7l0.8,0.9l1.6,-1.3l0.8,-0l0.8,0.8l1.6,-0.8l0.8,0.7l0.8,-0.7l1.7,-0.5l0.8,1l0.8,0.3l2.4,0.4l1.6,-0.2l1.6,1l0.8,-0.4l0.8,0.8l0.8,-0.4l0.8,0.6l0.8,-0.2l1.6,1.1l0.8,-0.4l2.5,0.3l2.4,1l3.2,0.2l0,0.4z M1067,97.8l7.2,-0.5l1.6,-0.3l0.8,-0.6l1.6,0.4l0.8,-1l1.6,0.1l0.8,-1.2l1.6,0.2l0.8,-1l5.6,-2.9l0.8,0.3l0.8,-1.3l1.6,-0.6l0.8,0.5l0.8,-0.9l0.8,1.3l1.6,-1.1l0.8,1.9l0.8,-0.4l1.6,0.6l0.8,1l0.8,0.4l0.8,0.1l0.8,-0.3l0.8,1.4l0.8,0.1l1.6,1.5l1.6,0.1l0.8,0.8l1.6,-0.4l0.8,1.2l0.8,-0.3l5.6,0.7l9.6,0.2z M1142,97.8l18.6,-0.6l0.8,-0.5l2.4,0.7l3.2,-0.9l0.8,0.5l3.3,-0.5l0.8,0.7l0.8,-0.7l2.4,0.7l0.8,-0.8l0.8,0.4l1.6,-0.1l0.9,0.6l0.8,-0.7l0.8,-0l2.4,0.9l1.6,-0.5l0.8,0.4l0.8,-0.3l18.6,0.7z M1218,97.8l19.2,-0.1l8,-0.5l0.8,0.4l1.6,-0.9l0.8,0.2l2.4,-1.3l0.8,0.5l0.8,-0.6l1.6,0.1l0.8,-0.7l1.6,-0l1.6,-1.2l0.8,1.2l0.8,-0.6l1.6,-0l1.6,-0.7l1.6,0.6l0.8,-0.8l0.8,1.3l0.8,-0.8l1.6,0.9l1.6,-0.5l0.8,0.8l0.8,-0.3l0.8,0.9l0.8,-0.2l0.8,1l0.8,-0.4l1.6,0.8l0.8,-0.3l0.8,0.5l0.8,-0.4l0.8,0.8l0.8,-0.5l1.6,0.4l0,0.4z" fill="#F49EB5"/>
<path d="M906,152.9l0,-0.5l1.6,0.3l2.4,-0.8l1.6,0.2l1.6,-0.9l0.8,0.4l0.9,-0.9l0.8,0.3l0.8,-0.3l0.8,0.5l0.8,-1.2l1.6,0.3l0.8,-0.9l0.8,0.8l1.6,-1.5l0.8,0.4l0.8,-0.1l0.8,-0.9l1.6,-0.6l0.8,0.1l0.8,-0.5l0.8,-1.4l0.8,0.1l1.6,-1.2l4.1,-8.4l2.4,-8.6l0.8,0.5l1.6,-3.9l0.8,0.3l0.8,1.6l0.8,-1.5l2.4,9.2l0.8,2.1l0.8,0.1l0.8,4.1l2.5,4.2l1.6,1.6l2.4,1.2l0.8,1.3l2.4,-0.1l1.6,1.3l1.6,-0.2l0.8,0.4l0.8,-0.1l2.4,1.2l0.8,-0.6l1.6,1.4l1.7,0.2l1.6,-0.5l0.8,0.8l0.8,-0.6l1.6,0.9l0.8,-0.7l1.6,0.6l0,0.5z M989,152.9l0,-1.4l2.4,-1.8l2.4,-2.7l1.6,-3.6l0.8,-0.6l3.3,-8.3l0.8,-0.3l0.8,-3l1.6,-3.6l0.8,-0.7l0.8,-4.7l1.6,-3.5l0.8,-0.7l0.8,0.6l0.8,-3.7l0.8,1.1l0.8,-3.8l1.6,-0l0.9,-6.5l2.4,3.2l0.8,-3.1l0.8,3.3l0.8,-0.1l0.8,-5.8l0.8,4.9l0.8,-0.4l0.8,-5.1l0.8,4.2l0.8,-1.1l0.8,3.3l0.8,-1.6l0.8,-5.1l0.8,4.4l0.8,0.8l0.8,-3.4l0.8,0.7l0.9,3.3l0.8,-3.1l0.8,5.9l0.8,0.7l0.8,2.7l0.8,-3.6l0.8,-0.3l0.8,3.4l0.8,0.9l1.6,6.7l0.8,-0.6l0.8,4.5l0.8,-0.8l0.8,3.4l0.8,0.2l0.8,4.7l0.8,-0.6l0.8,3.9l4.9,10l0.8,0.4l2.4,3l0,3.4z M1067,152.9l14.4,-0.6l0.8,0.4l0.8,-0.7l1.6,0.3l1.6,-0.3l0.8,-1l0.8,0.6l1.6,-1.1l0.8,0.4l0.8,-0.9l0.8,0.6l0.8,0l0.8,-0.7l2.4,0.7l0.8,-1.2l0.8,0.7l3.2,-0.4l0.8,1l0.8,-0.4l0.8,0.6l0.8,-0.6l1.6,0.9l4,1l0.8,0l0.8,-0.6l1.6,0.7l2.4,0.3l12,0.3z M1218,152.9l11.2,-0.4l4,-0.5l0.8,0.6l2.4,-0.2l0.8,-0.4l0.8,0.1l1.6,-0.7l0.8,0.5l0.8,-0.6l3.2,0.4l1.6,-1l0.8,0.3l0.8,-0.5l0.8,0.3l0.8,-0.4l1.6,0.9l2.4,-0.3l0.8,0.4l1.6,-0.3l0.8,0.6l2.4,-0.4l0.8,0.6l22.4,1z M1453,152.9l4,-0.5l0.8,-0.6l0.9,0.5l2.4,-1.2l0.8,0.6l2.4,-0.9l0.8,0.3l1.6,-0.3l1.6,0.3l1.7,-0.9l0.8,0.6l0.8,-0.9l0.8,1l0.8,-0.8l2.4,0.5l0.8,-0.6l2.4,0l0.9,0.7l0.8,-0.4l0.8,0.5l1.6,-1l0.8,0.6l1.6,-0.4l0.8,0.7l1.6,0.1l0.8,-1l0.8,0.9l2.5,-0.5l0.8,0.3l1.6,-0.7l0.8,0.5l0.8,-0.2l0.8,0.8l0.8,-0.7l1.6,0.6l1.7,-0.2l2.4,0.7l0.8,-0.7l0.8,0.9l3.2,-0.2l0.8,0.9l0.8,-0.4l0.8,0.5l0.9,-0.4l0.8,0.5l4,0.5z" fill="#CA76A9"/>
<path d="M906,208.1l15.3,-0.6l0.8,-0.3l0.8,0.7l2.4,-0.5l0.8,0.3l0.8,-1l0.8,0.4l0.8,-0.4l0.8,0.4l1.6,-0.7l2.5,0l1.6,0.5l0.8,-0.3l1.6,0.2l0.8,-0.5l0.8,0.8l0.8,-0.7l1.6,0l0.8,0.7l0.8,-0.3l0.8,0.3l1.6,-0.4l4,0.3l0.9,-0.3l0.8,0.5l0.8,-0.7l0.8,0.8l0.8,-0.7l0.8,0.4l2.4,-0.2l1.6,0.9l0.8,-0.5l1.6,0.4l15.3,0.5z M989,208.1l16.9,-0.6l1.6,-0.4l1.6,0.7l0.8,-0.7l2.5,0.4l0.8,-0.4l4,-0.4l0.8,0.7l0.8,0.1l1.6,-0.8l0.8,0.8l0.8,-0.7l0.8,-0.1l3.2,0.4l0.8,0.6l2.5,-0.6l0.8,0.7l0.8,-0.4l0.8,0.4l0.8,-0.5l0.8,0.5l0.8,-0.3l16.9,0.6z M1067,208.1l0,-1.4l1.6,-0.6l0.8,0.3l0.8,-0.6l0.8,0.3l1.6,-0.8l0.8,0.4l3.2,-1.7l0.8,0.1l2.4,-1.9l1.6,-2.9l0.8,-0.2l2.4,-4.7l1.6,-6l0.8,-0.8l0.8,-3.5l0.8,-1.1l0.8,-6.2l1.6,-7.4l0.8,-2.2l0.8,-0.4l0.8,-5.8l0.8,-1l0.8,2.5l1.6,-3l0.8,3.2l0.8,1.1l0.8,4.9l0.8,0.7l1.6,7.5l0.8,0.6l0.8,2.8l0.8,4.4l3.2,8l0.8,4.2l0.8,-0.4l2.4,5l0.8,-0.5l0.8,1.4l1.6,1.5l2.4,-0.3l0.8,0.9l4.8,1.7l1.6,-0.2l0.8,0.5l2.4,-0.1l0,1.7z M1142,208.1l12.9,-0.6l0.8,0.4l0.8,-0.8l0.8,0.8l1.7,-1.1l0.8,0.8l0.8,-0.4l3.2,0.1l0.8,-0.7l1.6,0.7l0.8,-0.9l0.8,-0.1l0.9,0.5l0.8,-0.5l0.8,0.1l0.8,0.7l1.6,-1l4,0.8l2.5,-0.2l3.2,0.4l0.8,-0.3l0.8,0.4l0.8,-0.4l1.6,0.3l0.8,-0.4l2.5,1l0.8,-0.6l1.6,0.4l12.9,0.6z M1218,208.1l10.4,-0.5l2.4,-0.5l1.6,0.6l2.4,-0.7l2.4,-0.2l0.8,-0.9l0.8,0.3l1.6,-0.7l0.8,0.5l0.8,-0.5l1.6,0.2l1.6,-0.5l0.8,0.2l0.8,-0.5l0.8,0l0.8,0.6l2.4,-0.4l1.6,0.4l1.6,-0.6l0.8,0l0.8,1l3.2,-0l0.8,0.5l1.6,-0.3l0.8,0.6l1.6,-0.6l1.6,0.3l0.8,0.7l1.6,-0l0.8,0.6l0.8,-0.8l0.8,1l0.8,-0.4l11.2,0.6z M1453,208.1l5.7,-0.3l0.8,-1l1.6,0.5l0.8,-0.9l0.8,0.8l0.8,-1l0.8,-0.1l1.6,0.6l3.3,-0l2.4,-1l0.8,0.8l0.8,-0.1l0.8,-0.8l0.8,0.8l3.2,-0.7l0.8,0.7l0.9,-0.9l1.6,1.1l2.4,-0.1l0.8,-0.5l1.6,0.7l1.6,-0.6l1.6,0.1l0.9,-0.4l1.6,0.3l2.4,-0.5l0.8,0.6l3.2,-0.4l0.8,0.8l2.5,-0.5l0.8,0.8l1.6,-0.6l0.8,0.7l1.6,-0.7l0.8,0.7l1.6,-0.1l0.8,0.6l6.5,0.6z M1526,208.1l12.1,-0.9l0.8,0.4l1.6,-0.9l3.3,0.2l1.6,0.6l2.4,-0.9l0.8,0.9l0.8,-0l0.8,-0.8l0.8,0.7l0.8,-0.6l3.3,-0l1.6,0.1l1.6,0.7l0.8,-0.7l1.6,-0l1.6,0.5l0.9,-0.5l0.8,0.3l0.8,-0.6l1.6,0l0.8,0.6l0.8,-0.1l0.8,0.5l1.6,-0.7l0.8,0.6l1.6,0.1l1.7,-0.9l1.6,0.8l0.8,-0.7l0.8,0.6l0.8,-0.3l1.6,0.4l8.9,0.6z" fill="#8B267E"/>
<path d="M906,263.9l17.7,-0.1l4.8,-0.4l0.8,-0.6l0.8,0.3l1.6,-0.6l0.9,0.5l1.6,-1.3l3.2,-0.7l0.8,-1.2l0.8,1l0.8,-1l0.8,0.2l2.4,-1.3l0.8,0.6l0.8,-0.2l1.6,0.7l0.8,-0.5l1.6,0.1l2.5,1.5l0.8,-0.2l0.8,0.6l1.6,0.2l0.8,0.7l2.4,0.8l1.6,-0.2l0.8,0.5l4.8,0.5l11.3,0.1z M989,263.9l17.7,-0.7l2.4,0.4l0.8,-0.8l0.8,0.4l1.7,-0.4l0.8,0.5l1.6,-0.8l4,0.7l0.8,-0.7l0.8,0.6l3.2,-0.3l1.6,0.6l1.6,-0.7l0.8,0.6l0.9,-0.2l1.6,0.4l0.8,-0.7l1.6,0.9l0.8,-0.7l0.8,0.3l16.9,0.6z M1067,263.9l17.6,-0.8l1.6,0.4l0.8,-0.8l0.8,0.6l2.4,-0.5l1.6,0.7l0.8,-1l0.8,0.1l0.8,0.8l0.8,-0.6l0.8,0.4l0.8,-0.5l4,0.8l0.8,-0.6l0.8,0.5l2.4,-0.6l2.4,0.5l2.4,-0.4l0.8,0.4l16.8,0.6z M1142,263.9l0,-1.1l0.8,-0.2l0.8,0.7l0.8,-0.9l2.4,-1.3l0.9,-0.1l0.8,-1.3l0.8,-0.1l3.2,-2.9l0.8,-0l1.6,-2.7l0.8,0.8l1.6,-1.5l0.9,1.7l0.8,-1.2l0.8,1.2l0.8,-0.2l0.8,-0.9l1.6,0.8l0.8,-1.3l0.8,0.5l2.4,-5.2l0.8,-4.8l0.9,-1.7l0.8,-4.1l0.8,-1.5l1.6,-9.7l0.8,-2.1l0.8,-0.3l1.6,-2.8l0.8,-0.4l0.8,2.7l0.8,-1.1l0.8,2.2l0.9,-3.1l0.8,3.9l0.8,0.2l0.8,5.2l0.8,-0.9l0.8,0.9l0.8,4l0.8,-2.4l2.4,4.1l0.8,4.7l3.3,9.3l0.8,4.8l2.4,5.8l1.6,1.9l8.9,0.4z M1218,263.9l17.6,-0.6l0.8,0.4l0.8,-0.7l0.8,0.3l0.8,-0.6l0.8,0.3l0.8,-0.4l1.6,0.8l1.6,-0.6l2.4,0.4l0.8,-0.6l0.8,0.5l1.6,-0.5l2.4,0.9l1.6,-0.8l1.6,0.3l0.8,-0.4l1.6,0.6l2.4,-0.3l1.6,0.6l1.6,-0.4l19.2,0.8z M1453,263.9l6.5,-0.6l0.8,-0.4l2.4,0.4l1.6,-0.8l0.8,0.7l1.6,-1l0.8,0.9l1.7,-1l0.8,0.3l3.2,-0.4l0.8,0.5l1.6,-0.6l1.6,0.9l0.8,-0.7l0.8,0.4l0.9,-0.4l0.8,0.7l0.8,0l0.8,-0.5l1.6,0.1l4,-4.8l3.3,4.3l0.8,-0.2l2.4,0.9l0.8,-0.4l1.6,0.6l0.8,-0.4l0.8,0.4l1.6,-0.6l3.3,0.8l0.8,-0.6l1.6,0.9l0.8,-0.5l1.6,0.5l8.1,0.6z" fill="#F05A62"/>
<path d="M1218,319.7l0,-1.7l2.4,-0.2l1.6,0.3l2.4,-1.7l2.4,0.1l3.2,-1.9l0.8,0.9l0.8,-0.3l0.8,-1.3l1.6,-0.5l1.6,-2.2l0.8,0.6l0.8,-1.4l0.8,-0.5l0.8,-3.1l2.4,-5.5l0.8,-3.5l0.8,-1.2l0.8,-5.3l0.8,-1.3l0.8,-7.3l0.8,0.1l0.8,-7.7l1.6,-4.7l0.8,4.9l0.8,-1.9l0.8,-4.4l0.8,7.3l0.8,0.7l0.8,-0.8l0.8,5.3l2.4,9.2l1.6,9l1.6,4.9l0.8,-0.4l0.8,4.3l1.6,2.1l0.8,0.2l0.8,2l1.6,0.5l1.6,1.3l0.8,-0.6l0.8,1l1.6,0.5l0.8,-0.4l1.6,1.3l1.6,0.6l1.6,-0.1l2.4,1.2l1.6,-0.2l0.8,0.7l0.8,-0.4l0,1.5z M1292,319.7l22.4,-0.1l4.8,-0.5l1.6,-0.6l2.4,0.3l3.2,-0.6l1.6,0.5l1.6,-0.5l0.8,1l0.8,-0.6l0.8,0l0.8,0.5l4.8,0.5l22.4,0.1z M1453,319.7l12.9,-0.5l0.8,-0.4l0.8,0.2l2.5,-1.2l0.8,0l0.8,0.7l0.8,-0.4l1.6,0.3l0.8,0.6l0.8,-0.5l0.8,0.7l6.5,0.4l33.1,0.1z" fill="#FFCC00"/>
<path d="M906,375.3l7.2,-0.6l0.8,-0.5l0.9,0.8l0.8,-1.1l0.8,0.4l0.8,-0.4l0.8,0.4l2.4,-1.1l0.8,0.5l0.8,-1.2l1.6,-0.3l0.8,0.6l0.8,-1.1l0.8,0.5l1.6,-1.2l1.6,-0.5l1.6,0.1l0.8,-1.2l1.7,0.4l0.8,-0.7l0.8,0.9l0.8,-0.7l0.8,-0l1.6,-1.4l0.8,0.7l0.8,-0.6l1.6,0.9l1.6,-1.1l0.8,0.4l1.6,-0.3l0.8,1.5l0.8,-0.6l0.8,0l0.8,1.3l0.8,-0.8l1.7,0.4l1.6,0.9l0.8,1l0.8,-0.6l0.8,0.9l0.8,0.3l3.2,0.3l1.6,1.4l0.8,-0.7l2.4,1.3l1.6,-0.5l1.6,0.3l0.9,0.8l0.8,-0.4l7.2,0.6z M1218,375.3l0,-1l0.8,-0.4l0.8,-0.2l0.8,0.6l1.6,-0.3l0.8,-0.5l0.8,0.3l0.8,-1.2l1.6,0.3l0.8,-0.9l0.8,0.9l0.8,-0.2l0.8,-1.2l0.8,0.4l1.6,-1l0.8,-1l1.6,-0.3l0.8,-1l3.2,-6.7l0.8,-0.1l1.6,-5.5l0.8,-1.2l0.8,-4.9l1.6,-4.1l0.8,-0.2l0.8,-2.5l0.8,0.7l0.8,-0.6l1.6,1l0.8,-0.5l1.6,6.6l0.8,0.3l1.6,6.3l1.6,2.9l0.8,0.6l0.8,2.4l3.2,4.5l0.8,-0.6l0.8,1.5l0.8,0.7l0.8,-0.3l1.6,1.9l0.8,-1.2l0.8,1.6l1.6,-0.7l1.6,1.1l1.6,-0.1l0.8,0.6l0.8,-0l1.6,1.1l0.8,-0.2l0.8,0.6l1.6,0l0.8,-0.4l3.2,1.1l0.8,-0.1l0,1.1z M1292,375.3l0,-1.1l1.6,-0.7l2.4,-0.5l0.8,0.5l1.6,-1l4,-0.9l1.6,-0.9l1.6,0.2l1.6,-1l0.8,-1l0.8,0.1l1.6,-1.6l1.6,-0.4l0.8,-2l0.8,-0.2l1.6,-4.7l0.8,-1.2l1.6,-5.4l0.8,-0.7l0.8,-4.4l0.8,-1.5l3.2,-15.7l0.8,1.6l0.8,-2.9l0.8,1.1l0.8,-1.3l3.2,5.7l0.8,3l0.8,0.7l1.6,11.6l0.8,-0.6l0.8,5.8l0.8,0.4l0.8,4.2l0.8,2l1.6,0.6l1.6,2.5l0.8,2l0.8,0.7l0.8,-0.3l0.8,1.3l0.8,0l1.6,1.3l0.8,-0.4l0.8,0.5l0.8,0l1.6,0.6l0.8,0.8l0.8,0l0.8,0.8l0.8,-0.3l0.8,0.5l4,0.1l0.8,0.7l1.6,0.2l0,1.2z M1453,375.3l9.7,-0.8l1.6,0.4l0.8,-0.5l4.1,-0.5l1.6,0.7l0.8,-0.4l1.6,-0l0.8,0.4l0.8,-0.5l0.8,0.3l2.4,-0.4l1.7,0.3l1.6,-0.3l2.4,0.6l0.8,-0.7l1.6,0l0.8,0.9l0.8,-0.1l0.8,-0.8l2.5,0.8l0.8,-0.4l2.4,0.5l0.8,-0.6l2.4,-0.3l0.8,0.7l2.5,-0.6l0.8,0.7l0.8,-0.4l4,0.8l0.8,-0.4l8.9,0.6z" fill="#F7A020"/>
<path d="M989,433.3l15.3,-0.9l2.4,0.2l0.8,-0.5l4,0.4l2.5,-1l1.6,-0.1l1.6,0.7l1.6,-0.4l0.8,0.3l0.8,-0.5l0.8,0.6l2.4,-0.3l0.8,0.3l2.4,-0.6l0.8,0.8l1.7,-0.4l0.8,0.8l0.8,-0.2l1.6,0.4l0.8,-0.8l0.8,0.8l2.4,-0.5l1.6,0.3l12.9,0.6z M1142,433.3l11.3,-0.6l0.8,-0.4l2.4,0.6l1.7,-0.5l4,0.3l0.8,-0.8l1.6,-0.1l1.6,0.9l1.6,-0.6l1.7,0.6l0.8,-0.8l2.4,0.8l3.2,-0.6l1.6,0.8l1.7,0.2l0.8,-0.6l8.8,0.5l16.2,0.3z M1218,433.3l13.6,-0.6l2.4,-0.4l2.4,0.4l1.6,-0.6l0.8,0.6l0.8,-0.9l1.6,0.7l1.6,-0.1l0.8,-0.6l0.8,0.3l1.6,-0.8l0.8,0.9l0.8,-0.6l1.6,-0.3l0.8,0.6l1.6,-0.6l2.4,0.6l0.8,-0.5l1.6,0.8l0.8,-0.2l0.8,0.3l0.8,-0.4l0.8,0.4l1.6,-0.4l0.8,0.8l1.6,-0.6l0.8,0.9l1.6,-0.5l16,0.8z M1372,433.3l0,-1.3l1.6,-0.4l1.6,0.3l0.8,-0.7l1.6,-0.1l0.8,-1.6l1.6,-0.1l1.6,-0.8l0.8,0.6l1.6,-1.3l1.6,0.8l0.8,-1l1.6,-0.3l1.6,-1.8l1.6,-2.7l0.8,-3.4l0.8,-0.7l0.8,-2.2l1.6,-7.6l1.6,-5.1l0.8,-1.3l0.8,-3.5l0.8,-1.1l0.8,-0.1l0.8,-0.8l0.8,0.6l0.8,-5.1l0.8,4.7l0.8,-1.8l1.6,5.2l0.8,-1.1l0.8,2.2l0.8,6.2l0.8,1.4l2.4,10.8l0.8,0.9l0.8,0.1l0.8,2.1l0.8,0.7l2.4,0.9l0.8,-0.8l1.6,-0.5l0.8,0.3l0.8,-0.3l1.6,1.2l2.4,-0.7l1.6,0.2l1.6,1.1l1.6,2.2l0.8,2.1l2.4,2.9l3.2,0.7z M1453,433.3l3.2,-0.1l3.3,-2.3l0.8,1.2l2.4,1.1l11.3,0.1l0.8,-0.2l1.6,-1.2l0.8,-2.2l1.6,-0.3l1.7,3.4l1.6,0.4l5.6,-0.4l1.6,-0.6l0.9,-1.2l2.4,0.5l2.4,1.5l1.6,0.2l19.4,0.1z" fill="#2E5591"/>
<path d="M1453,488.2l0,-0.3l3.2,-0.3l0.8,0.3l0.8,-0.6l0.9,0.2l1.6,-0.6l0.8,0.3l0.8,-0.6l3.2,-0.3l0.8,-1.4l1.6,-0.2l1.7,-1.4l0.8,-1.4l0.8,0.2l0.8,-1.3l1.6,-3.4l0.8,-3.8l1.6,-4.6l0.8,-5.4l2.4,-10.4l1.7,-11l0.8,1.9l0.8,-4.5l0.8,3.8l0.8,-1.6l0.8,1.5l1.6,7.2l0.8,1l3.3,17.1l0.8,2l0.8,0.4l1.6,5.5l1.6,0.6l0.8,3l0.8,-0.2l0.8,1l0.8,-0.2l0.8,0.9l0.8,-0.1l1.7,1.3l0.8,-0.8l0.8,1l0.8,-0.4l0.8,1.3l0.8,0.5l1.6,-0.3l1.6,1.6l0.8,-0.5l0.8,0.3l0.9,1l4,0.2l0.8,0.7l0,0.8z" fill="#4BAFD2"/>
<path d="M1526,543.6l0,-0.5l0.8,-0.4l1.6,0.2l0.8,-0.6l0.8,0.5l0.8,-0.7l0.9,0.5l0.8,-1.1l0.8,0.3l3.2,-1.5l1.6,0l1.6,-1.6l0.8,-0.3l0.8,0.1l0.9,0.5l1.6,-1.2l0.8,0.6l1.6,-1.7l0.8,0.8l1.6,-0.9l3.2,-0.6l0.9,-0.8l2.4,-4.5l1.6,-4.4l2.4,-13.7l0.8,-1.7l0.8,-5.1l0.8,1.3l0.8,-4.9l0.9,0.1l0.8,1.3l0.8,7.2l0.8,0l2.4,17l2.4,9.8l0.8,1.6l1.6,2.2l3.3,1.7l12.9,0.5z" fill="#7AC8AD"/>
<path d="M1601,595.7l8.9,-0.1l3.2,-0.8l1.6,-0.7l2.5,-3.8l0.8,-4.1l2.4,-6.7l1.6,-12.1l0.8,-1.5l1.6,-11.6l0.8,-2.1l0.9,0.3l0.8,-5l0.8,6.2l0.8,-5.8l0.8,4l0.8,1l0.8,2.4l0.8,7l0.8,0.7l0.8,5.5l0.8,1.4l0.8,0.5l0.9,2.2l0.8,4.3l1.6,0.4l2.4,4.3l0.8,0.1l0.8,3.2l0.8,-0.9l0.8,1.8l1.7,2.1l1.6,1.4l0.8,0.2l0.8,1.6l0.8,0.2l0.8,1.2l4,2.1l5.7,1.1z" fill="#BF70B8"/>
<rect x="1464.2" y="533" width="5.7" height="7.4" fill="#7AC8AD"/>
<rect x="1482" y="533" width="5.5" height="7.4" fill="#7AC8AD"/>
<path d="M1552.2,596 L1553.5,588 L1555,585.1 L1556.5,588 L1557.5,590 L1559.5,591 L1559.5,596 Z" fill="#BF70B8"/>
<path d="M906,97.7l9,-0.9l6,-2.2l1,-0.8l1,-0.3l7,-5.9l1,-0.2l4,-4.7l2,-8.1l4,-21.5l1,-0.3l2,9.6l3,20.1l1,4.5l2,4.2l3,2.9l6,2.5l6,0.9l11,0.3 M989,97.8l6,-0.3l5,-1.1l4,-1.6l6,-3.3l1,0.1l6,-2.2l1,0l1,-0.8l1,0.3l3,-1.8l1,-1l3,-1.5l2,0.4l2,-0.4l1,0.3l1,1.3l1,-0.1l1,0.7l3,3.3l4,3.4l5,2.6l4,1.1 M1067,97.8l6,-0.3l5,-0.9l6,-2.1l5,-2.7l4,-1l1,0.3l1,-0.5l3,0.7l7,3.6l6,2l6,0.7l10,0.2 M1142,97.8l7,-0.3l5,-0.6l6,-1.5l6,-2.2l2,-0l1,-0.6l1,-0l1,0.4l1,-0.3l3,0.5l9,3.1l4,0.8l6,0.6l11,0.1 M1218,97.8l9,-0.1l4,-0.8l3,-1.4l5,-4l6,-2.7l1,-0.1l1,0.5l6,-0.1l2,-0.6l2,0l2,0.7l2,-0.4l2,1.2l1,-0.1l3,1.3l3,2.6l5,3l3,0.8l4,0.2 M1292,97.7l34,-1.9l34,1.9 M1372,97.8l9,-0.3l13,-2.1l11,-0.2l11,0.4l11,1.9l9,0.3 M1453,97.8l63,0 M1526,97.8l63,0 M1601,97.8l59,0 M906,152.6l15,-1.6l4,-0.8l4,-1.4l4,-2.7l1,-1.7l1,-0.6l1,-2.1l3,-3.1l1,-0.1l1,-1.2l1,0.1l1,0.9l2,3l1,0.5l1,1.9l1,0.7l1,1.6l3,2.4l2,0.9l9,2l13,1.3 M989,152.9l4,-0.2l2,-0.7l1,-0.7l2,-2.5l3,-7.1l5,-19.6l3,-9.5l2,-2.7l1,-3.2l1,2.5l1,-3.5l1,2.3l1,-2.3l1,1.6l2,-2.7l2,-0.1l1,2.6l1,-1.1l1,1.2l1,-1.6l1,0.5l1,2.4l1,-2.2l1,0l1,1.5l1,-0.1l1,4.5l2,4.9l1,1l4,13.7l1,5.1l3,8.7l2,4.1l1,1.2l2,1.4l3,0.5 M1067,152.8l30,-0.9l30,0.9 M1142,152.8l8,-0.7l10,-2.5l3,-1.6l5,-3.5l1,-1.1l1,0.5l1,-0.1l1,0.7l5,5.7l2,1.4l2,0.8l5,0.5l19,-0 M1218,152.8l12,-1l17,-3.9l1,0.3l5,-0.4l1,0.6l3,0.3l13,3.2l12,0.9 M1292,152.8l34,-1.4l34,1.4 M1372,152.8l32,-1.4l32,1.4 M1453,152.9l63,0 M1526,152.9l63,0 M1601,152.9l59,0 M906,208l36,-2l34,2 M989,208l5,-0.4l4,-0.9l7,-2.7l3,-1.7l4,-1.4l6,0.7l10,4.7l4,1l6,0.6l13,0.2 M1067,207.5l11,-1.1l3,-1.3l3,-3.6l3,-7.9l6,-28.2l1,0l2,-3.1l1,0.9l1,-0l1,5l1,2.7l4,20.6l3,8.6l1,1.9l3,2.9l3,1.3l13,1.3 M1142,208.1l12,-0.1l5,-0.7l4,-2.3l4,-3.7l1,-0.2l1,-1l3,0.3l1,0.5l6,5l4,1.7l5,0.5l17,-0 M1218,208.1l10,-0.3l5,-1.2l4,-2l6,-5.8l1,-0.1l2,-2.5l2,-1.1l3,0.3l1,0.7l1,-0.5l9,8.3l5,2.7l5,1.2l10,0.3 M1292,208.1l23,-0.3l3,-0.7l6,-2.7l2,-0.5l8,3.2l3,0.7l23,0.3 M1372,208.1l8,-0.2l13,-1.6l8,-0.3l12,0.1l14,1.7l9,0.3 M1453,208.1l63,0 M1526,208.1l63,0 M1601,208.1l59,0 M906,263.9l16,-0.1l6,-0.3l5,-1.1l10,-3.6l6,0.8l5,2.2l6,1.5l5,0.5l11,0.1 M989,263.8l5,-0.4l5,-0.9l12,-4.5l5,-0.1l3,0.7l1,0.8l7,2.6l5,1.2l6,0.6l13,0.1 M1067,263.9l10,-0.2l5,-0.8l5,-1.8l6,-3.5l3,-0.8l5,0.7l3,2l5,2.4l4,1.2l5,0.6l9,0.2 M1142,263.9l5,-0.3l4,-1.3l4,-3.1l3,-3l1,-0.4l1,-1.2l2,-0.1l1,-0.6l2,-2.4l1,-3.9l2,-11.6l2,-15.1l1,0.3l1,-1.1l2,8.4l2,16.3l2,12.2l2,4.9l2,1.6l2,0.4l21,0 M1218,263.8l11,-0.8l7,-1.3l8,-2.2l6,-0.6l3,0l5,1l6,1.7l7,1.4l11,0.8 M1292,263.8l34,-2l34,2 M1372,263.8l32,-1.9l32,1.9 M1453,263.9l63,0 M1526,263.9l63,0 M1601,263.9l59,0 M906,319.6l35,-0.9l35,0.9 M989,319.6l31,-0.9l31,0.9 M1067,319.7l60,0 M1142,319.7l14,-0.2l17,-1.3l18,1.3l14,0.2 M1218,319.3l13,-1.3l2,-0.6l3,-1.9l3,-3.5l8,-18l2,-1.6l1,-1.6l1,1.6l1,-1.5l1,3l2,3.8l1,3.5l4,8.6l1,1.9l3,3.6l3,1.9l2,0.8l5,0.7l8,0.6 M1292,319.7l23,-0.1l11,-1.9l2,0.1l9,1.8l23,0.1 M1372,319.7l64,0 M1453,319.7l63,0 M1526,319.7l63,0 M1601,319.7l59,0 M906,375.2l12,-1l7,-1.4l4,-1.1l1,-0.6l2,-0.3l1,-0.6l10,-1.1l5,0.9l1,0.6l4,0.8l4,1.4l6,1.3l6,0.7l7,0.4 M989,375.3l15,-0.1l2,-1.4l3,-6l3,-4.1l1,-0.2l1,0.4l1,-0.8l2,0.4l1,-0.5l5,0.6l1,-0.8l1,0.7l1,-0.4l3,2.3l1,0.4l3,6.3l1,1.8l1,0.9l2,0.5l14,0 M1067,375.2l11,-0.7l18,-3.4l7,0.7l13,2.7l11,0.7 M1142,375.3l4,-0.1l3,-0.6l6,-3.4l2,-1.6l1,0l2,-0.9l1,-1.2l2,-1.4l4,-5.8l1,-0.5l1,1l1,0.2l6,10.8l3,2.6l2,0.6l3,0.3l21,-0 M1218,374.8l8,-1.1l5,-1.3l5,-2.3l2,-2.3l2,-5.5l2,-9.7l3,-21.8l1,-4.3l1,2l1,0.7l5,29.8l1,3.5l2,4.2l2,1.8l11,3.9l7,1.6l6,0.8 M1292,374.9l9,-1.1l7,-1.8l4,-2.1l1,-1.3l3,-5.3l2,-6.5l2,-9.7l1,-2.4l2,-10.4l1,-1.6l1,-4.7l1,1.5l1,-0l2,4.5l6,26.7l3,6.8l2,2.2l2,1.5l2,0.9l7,1.7l9,1.1 M1372,375.3l15,-0.2l3,-0.5l6,-2.2l3,-0l6,2.1l4,0.7l27,0.1 M1453,375.3l63,0 M1526,375.3l63,0 M1601,375.3l59,0 M906,433.2l35,-0.9l35,0.9 M989,433.3l11,-0.3l5,-1.7l3,-1.6l3,-0.9l2,-0.1l1,-0.5l2,-0.1l12,0.4l3,0.8l5,2.5l4,1.2l11,0.3 M1067,433.3l60,0 M1142,433.3l21,-0.2l3,-0.8l6,-2.9l1,-0.1l2,0.1l6,2.9l3,0.8l21,0.2 M1218,433.2l7,-0.4l5,-0.8l5,-1.1l8,-2.7l7,-1.2l8,1.6l7,2.3l5,1.1l5,0.8l7,0.4 M1292,433.2l34,-0.9l34,0.9 M1372,433.3l14,-0.1l2,-0.3l2,-1.5l2,-4l2,-7.1l2,-12.2l1,-3l1,-6.4l1,-3.8l1,-2.5l2,-1.1l1,-1.8l1,1.6l1,4l1,2.2l5,26.5l1,3.4l2,3.9l2,1.7l2,0.4l18,0.1 M1453,433.3l63,0 M1526,433.3l63,0 M1601,433.3l59,0 M906,488.2l70,0 M989,488.2l62,0 M1067,488.2l60,0 M1142,488.2l63,0 M1218,488.2l64,0 M1292,488.2l68,0 M1453,488.1l5,-0.9l6,-2.9l1,-0.2l6,1.8l1,-0.3l1,-0.7l1,-1.5l1,-2.9l3,-15.3l1,-7.4l1,-2.3l1,-4l1,2.8l1,0.2l2,13.1l3,14.5l2,4.1l1,1.1l2,0.7l2,0.2l21,0 M1526,488.2l63,0 M1601,488.2l59,0 M906,543.6l70,0 M989,543.6l62,0 M1067,543.6l60,0 M1142,543.6l63,0 M1218,543.6l64,0 M1292,543.6l68,0 M1372,543.6l64,0 M1453,543.6l63,0 M1526,543.6l24,-0l2,-0.2l2,-0.7l2,-2.7l1,-2.7l2,-10l3,-19.3l1,-3l1,-0.4l1,2l2,9.8l2,13.9l1,4.5l2,5.9l2,2.2l2,0.6l13,0.1 M906,595.7l70,0 M989,595.7l62,0 M1067,595.7l60,0 M1142,595.7l63,0 M1218,595.7l64,0 M1292,595.7l68,0 M1372,595.7l64,0 M1453,595.7l63,0 M1526,595.7l63,0 M1378,486.2l6,-0.5l1,1.1l2,-1.1l1,0.3l1,-0.3l1,1l1,-0.5l1,0.3l2,-0.4l1,0.6l1,2.7l1,-0.3l1,-1.1l2,-0.9l1,-2.5l3,-12.7l2,-11.8l2,-9.4l1,-4l1,-0.9l2,4.1l3,16.7l2,9.1l1,7.2l2,5.1l1,1l1,-3.1l2,0.6l2,-0.5l1,0.8l1,-0.8l2,0.4l1,-0.6l2,0.6l2,-0.4l1,0.7 M1601.4,533.4l4.6,0l0,-18l1.5,8.6l2.5,-3l4,5l3,5l2.5,6l2.1,10.3l3.9,-20.3l4.5,-5l2.3,-4.3l2.7,14.3l3,3l4,-1l6,0l6,-1l6.4,0.4 M1601,588.9l6,0l2,-5.4l5,0l3,1.5l2,7l2,4.5l2,-3.5l2,-18l2,-10l4,-4l1,-2.4l1.5,1.4l3,33l3.5,1l6,1l4,-2l2,-2l3,-2.1l5.4,0" fill="none" stroke="#231f20" stroke-width="1.5" stroke-linejoin="round"/>
<line x1="883.5" y1="340" x2="883.5" y2="613.3" stroke="#35496b" stroke-width="2"/>
<line x1="882.5" y1="613.3" x2="1254" y2="613.3" stroke="#35496b" stroke-width="2"/>
<polygon points="883.5,332.5 878,345 883.5,341.5 889,345" fill="#35496b"/>
<polygon points="1261.5,613.3 1249,607.8 1252.5,613.3 1249,618.8" fill="#35496b"/>
<text x="871.5" y="473.5" text-anchor="middle" textLength="195" lengthAdjust="spacingAndGlyphs" transform="rotate(-90 871.5 473.5)">Trained models</text>
<text x="910" y="647.5" textLength="325" lengthAdjust="spacingAndGlyphs">Cell-type-specific regions</text>
<rect x="1287.5" y="617" width="23.7" height="23.3" fill="#fff" stroke="#444" stroke-width="1.2"/>
<text x="1328.6" y="637.8" textLength="119.7" lengthAdjust="spacingAndGlyphs">Predicted</text>
<rect x="1497.5" y="617" width="23.5" height="23.3" fill="#a7a8aa"/>
<text x="1539" y="637.8" textLength="121.8" lengthAdjust="spacingAndGlyphs">Observed</text>
<text x="1717.6" y="28.8" font-weight="bold" font-size="40">c</text>
<text x="1846.6" y="26.8" textLength="142.7" lengthAdjust="spacingAndGlyphs">Pearson’s <tspan font-style="italic">R</tspan></text>
<text x="2055.2" y="26.8" textLength="102" lengthAdjust="spacingAndGlyphs">Peak set</text>
<rect x="1791.5" y="39.3" width="253" height="543.3" fill="none" stroke="#444" stroke-width="1.3"/>
<rect x="1763.1" y="46.8" width="18.3" height="43.5" fill="#F49EB5" stroke="#333" stroke-width="1.1"/>
<rect x="1802.2" y="46.8" width="193.2" height="43.5" fill="#a7a8ab" stroke="#2b2b2b" stroke-width="1.2"/>
<circle cx="1991" cy="70.8" r="2.3" fill="#555" opacity="0.75"/>
<circle cx="1995.7" cy="68.3" r="2.3" fill="#555" opacity="0.75"/>
<circle cx="1991.6" cy="72.1" r="2.3" fill="#555" opacity="0.75"/>
<circle cx="1997.5" cy="68.7" r="2.3" fill="#555" opacity="0.75"/>
<circle cx="1994.5" cy="65.4" r="2.3" fill="#555" opacity="0.75"/>
<line x1="1996.4" y1="63.5" x2="1996.4" y2="73.5" stroke="#333" stroke-width="1.2"/>
<text x="2057.5" y="77.3" textLength="96.7" lengthAdjust="spacingAndGlyphs">164,375</text>
<rect x="1763.1" y="100.5" width="18.3" height="43.5" fill="#CA76A9" stroke="#333" stroke-width="1.1"/>
<rect x="1802.2" y="100.5" width="185.4" height="43.5" fill="#a7a8ab" stroke="#2b2b2b" stroke-width="1.2"/>
<circle cx="1981.6" cy="120.7" r="2.3" fill="#555" opacity="0.75"/>
<circle cx="1987.5" cy="117.1" r="2.3" fill="#555" opacity="0.75"/>
<circle cx="1989.5" cy="119.1" r="2.3" fill="#555" opacity="0.75"/>
<circle cx="1983.9" cy="116.8" r="2.3" fill="#555" opacity="0.75"/>
<circle cx="1991.6" cy="125.2" r="2.3" fill="#555" opacity="0.75"/>
<line x1="1988.6" y1="117.3" x2="1988.6" y2="127.3" stroke="#333" stroke-width="1.2"/>
<text x="2057.5" y="131.1" textLength="97.5" lengthAdjust="spacingAndGlyphs">136,536</text>
<rect x="1763.1" y="154.3" width="18.3" height="43.5" fill="#8B267E" stroke="#333" stroke-width="1.1"/>
<rect x="1802.2" y="154.3" width="169.8" height="43.5" fill="#a7a8ab" stroke="#2b2b2b" stroke-width="1.2"/>
<circle cx="1974.8" cy="177.4" r="2.3" fill="#555" opacity="0.75"/>
<circle cx="1966.3" cy="174" r="2.3" fill="#555" opacity="0.75"/>
<circle cx="1971" cy="171.4" r="2.3" fill="#555" opacity="0.75"/>
<circle cx="1975.5" cy="174.5" r="2.3" fill="#555" opacity="0.75"/>
<circle cx="1967.5" cy="179.8" r="2.3" fill="#555" opacity="0.75"/>
<line x1="1973" y1="171" x2="1973" y2="181" stroke="#333" stroke-width="1.2"/>
<text x="2057.5" y="184.8" textLength="95.7" lengthAdjust="spacingAndGlyphs">123,675</text>
<rect x="1763.1" y="208" width="18.3" height="43.5" fill="#F05A62" stroke="#333" stroke-width="1.1"/>
<rect x="1802.2" y="208" width="160.1" height="43.5" fill="#a7a8ab" stroke="#2b2b2b" stroke-width="1.2"/>
<circle cx="1957.5" cy="234.9" r="2.3" fill="#555" opacity="0.75"/>
<circle cx="1960.8" cy="230.4" r="2.3" fill="#555" opacity="0.75"/>
<circle cx="1959.7" cy="229.6" r="2.3" fill="#555" opacity="0.75"/>
<circle cx="1958.2" cy="224.2" r="2.3" fill="#555" opacity="0.75"/>
<circle cx="1965" cy="226.6" r="2.3" fill="#555" opacity="0.75"/>
<line x1="1963.3" y1="224.8" x2="1963.3" y2="234.8" stroke="#333" stroke-width="1.2"/>
<text x="2057.5" y="238.6" textLength="96.7" lengthAdjust="spacingAndGlyphs">139,878</text>
<rect x="1763.1" y="261.8" width="18.3" height="43.5" fill="#FFCC00" stroke="#333" stroke-width="1.1"/>
<rect x="1802.2" y="261.8" width="185.9" height="43.5" fill="#a7a8ab" stroke="#2b2b2b" stroke-width="1.2"/>
<circle cx="1989.9" cy="280" r="2.3" fill="#555" opacity="0.75"/>
<circle cx="1991.8" cy="288.2" r="2.3" fill="#555" opacity="0.75"/>
<circle cx="1989.6" cy="286.7" r="2.3" fill="#555" opacity="0.75"/>
<circle cx="1987.9" cy="286.3" r="2.3" fill="#555" opacity="0.75"/>
<circle cx="1983.3" cy="283.2" r="2.3" fill="#555" opacity="0.75"/>
<line x1="1989.1" y1="278.5" x2="1989.1" y2="288.5" stroke="#333" stroke-width="1.2"/>
<text x="2057.5" y="292.3" textLength="86.9" lengthAdjust="spacingAndGlyphs">89,870</text>
<rect x="1763.1" y="315.5" width="18.3" height="43.5" fill="#F7A020" stroke="#333" stroke-width="1.1"/>
<rect x="1802.2" y="315.5" width="167.4" height="43.5" fill="#a7a8ab" stroke="#2b2b2b" stroke-width="1.2"/>
<circle cx="1971.9" cy="333.7" r="2.3" fill="#555" opacity="0.75"/>
<circle cx="1972.8" cy="341.9" r="2.3" fill="#555" opacity="0.75"/>
<circle cx="1967.7" cy="335.6" r="2.3" fill="#555" opacity="0.75"/>
<circle cx="1968.1" cy="335.9" r="2.3" fill="#555" opacity="0.75"/>
<circle cx="1973.5" cy="335.9" r="2.3" fill="#555" opacity="0.75"/>
<line x1="1970.6" y1="332.2" x2="1970.6" y2="342.2" stroke="#333" stroke-width="1.2"/>
<text x="2057.5" y="346.1" textLength="96.7" lengthAdjust="spacingAndGlyphs">128,578</text>
<rect x="1763.1" y="369.2" width="18.3" height="43.5" fill="#2E5591" stroke="#333" stroke-width="1.1"/>
<rect x="1802.2" y="369.2" width="167.4" height="43.5" fill="#a7a8ab" stroke="#2b2b2b" stroke-width="1.2"/>
<circle cx="1963.9" cy="386.1" r="2.3" fill="#555" opacity="0.75"/>
<circle cx="1970.8" cy="396.9" r="2.3" fill="#555" opacity="0.75"/>
<circle cx="1968.6" cy="390.9" r="2.3" fill="#555" opacity="0.75"/>
<circle cx="1969.1" cy="394" r="2.3" fill="#555" opacity="0.75"/>
<circle cx="1965.8" cy="392.3" r="2.3" fill="#555" opacity="0.75"/>
<line x1="1970.6" y1="386" x2="1970.6" y2="396" stroke="#333" stroke-width="1.2"/>
<text x="2057.5" y="399.8" textLength="92" lengthAdjust="spacingAndGlyphs">113,297</text>
<rect x="1763.1" y="423" width="18.3" height="43.5" fill="#4BAFD2" stroke="#333" stroke-width="1.1"/>
<rect x="1802.2" y="423" width="170.4" height="43.5" fill="#a7a8ab" stroke="#2b2b2b" stroke-width="1.2"/>
<circle cx="1972.2" cy="446.2" r="2.3" fill="#555" opacity="0.75"/>
<circle cx="1968.4" cy="440.8" r="2.3" fill="#555" opacity="0.75"/>
<circle cx="1970.1" cy="449.9" r="2.3" fill="#555" opacity="0.75"/>
<circle cx="1970.1" cy="445.9" r="2.3" fill="#555" opacity="0.75"/>
<circle cx="1969.7" cy="440" r="2.3" fill="#555" opacity="0.75"/>
<line x1="1973.6" y1="439.7" x2="1973.6" y2="449.7" stroke="#333" stroke-width="1.2"/>
<text x="2057.5" y="453.5" textLength="85.5" lengthAdjust="spacingAndGlyphs">84,729</text>
<rect x="1763.1" y="476.7" width="18.3" height="43.5" fill="#7AC8AD" stroke="#333" stroke-width="1.1"/>
<rect x="1802.2" y="476.7" width="191.4" height="43.5" fill="#a7a8ab" stroke="#2b2b2b" stroke-width="1.2"/>
<circle cx="1988.3" cy="502.2" r="2.3" fill="#555" opacity="0.75"/>
<circle cx="1995.4" cy="497" r="2.3" fill="#555" opacity="0.75"/>
<circle cx="1994.4" cy="500.6" r="2.3" fill="#555" opacity="0.75"/>
<circle cx="1996.6" cy="504" r="2.3" fill="#555" opacity="0.75"/>
<circle cx="1991.7" cy="504.3" r="2.3" fill="#555" opacity="0.75"/>
<line x1="1994.6" y1="493.5" x2="1994.6" y2="503.5" stroke="#333" stroke-width="1.2"/>
<text x="2057.5" y="507.3" textLength="89.4" lengthAdjust="spacingAndGlyphs">86,058</text>
<rect x="1763.1" y="530.5" width="18.3" height="43.5" fill="#0B6560" stroke="#333" stroke-width="1.1"/>
<rect x="1802.2" y="530.5" width="181.4" height="43.5" fill="#a7a8ab" stroke="#2b2b2b" stroke-width="1.2"/>
<circle cx="1987.2" cy="553.3" r="2.3" fill="#555" opacity="0.75"/>
<circle cx="1986.4" cy="552.1" r="2.3" fill="#555" opacity="0.75"/>
<circle cx="1981.4" cy="549.2" r="2.3" fill="#555" opacity="0.75"/>
<circle cx="1986.4" cy="548.2" r="2.3" fill="#555" opacity="0.75"/>
<circle cx="1978.3" cy="555.9" r="2.3" fill="#555" opacity="0.75"/>
<line x1="1984.6" y1="547.2" x2="1984.6" y2="557.2" stroke="#333" stroke-width="1.2"/>
<text x="2057.5" y="561" textLength="79" lengthAdjust="spacingAndGlyphs">47,214</text>
<line x1="1801" y1="582.6" x2="1801" y2="592.6" stroke="#444" stroke-width="1.3"/>
<line x1="1862.8" y1="582.6" x2="1862.8" y2="592.6" stroke="#444" stroke-width="1.3"/>
<line x1="1924.7" y1="582.6" x2="1924.7" y2="592.6" stroke="#444" stroke-width="1.3"/>
<line x1="1981.3" y1="582.6" x2="1981.3" y2="592.6" stroke="#444" stroke-width="1.3"/>
<line x1="2038.2" y1="582.6" x2="2038.2" y2="592.6" stroke="#444" stroke-width="1.3"/>
<text x="1801" y="621.2" text-anchor="middle">0</text>
<text x="1924.7" y="621.2" text-anchor="middle" textLength="32.6" lengthAdjust="spacingAndGlyphs">0.5</text>
<text x="2037" y="621.2" text-anchor="middle" textLength="30.5" lengthAdjust="spacingAndGlyphs">1.0</text>
<text x="1741.4" y="312" text-anchor="middle" textLength="195" lengthAdjust="spacingAndGlyphs" transform="rotate(-90 1741.4 312)">Trained models</text>
<text x="-1.5" y="653.3" font-weight="bold" font-size="40">d</text>
<rect x="67.4" y="644.4" width="37.3" height="17.7" fill="#F49EB5" stroke="#333" stroke-width="1.2"/>
<rect x="104.7" y="644.4" width="37.3" height="17.7" fill="#CA76A9" stroke="#333" stroke-width="1.2"/>
<rect x="141.9" y="644.4" width="37.3" height="17.7" fill="#F05A62" stroke="#333" stroke-width="1.2"/>
<rect x="179.2" y="644.4" width="37.3" height="17.7" fill="#8B267E" stroke="#333" stroke-width="1.2"/>
<rect x="216.4" y="644.4" width="37.3" height="17.7" fill="#FFCC00" stroke="#333" stroke-width="1.2"/>
<rect x="253.7" y="644.4" width="37.3" height="17.7" fill="#F7A020" stroke="#333" stroke-width="1.2"/>
<rect x="291" y="644.4" width="37.3" height="17.7" fill="#2E5591" stroke="#333" stroke-width="1.2"/>
<rect x="328.2" y="644.4" width="37.3" height="17.7" fill="#4BAFD2" stroke="#333" stroke-width="1.2"/>
<rect x="365.5" y="644.4" width="37.3" height="17.7" fill="#7AC8AD" stroke="#333" stroke-width="1.2"/>
<rect x="402.7" y="644.4" width="37.3" height="17.7" fill="#0B6560" stroke="#333" stroke-width="1.2"/>
<rect x="67.4" y="666.6" width="37.6" height="13.4" fill="#C9A0C8"/>
<rect x="104.7" y="666.6" width="37.6" height="13.4" fill="#ABBAD3"/>
<rect x="141.9" y="666.6" width="37.6" height="13.4" fill="#EEF1F5"/>
<rect x="179.2" y="666.6" width="37.6" height="13.4" fill="#E8D0E5"/>
<rect x="216.4" y="666.6" width="37.6" height="13.4" fill="#C9A0C8"/>
<rect x="253.7" y="666.6" width="37.6" height="13.4" fill="#D9B3D6"/>
<rect x="291" y="666.6" width="37.6" height="13.4" fill="#E3CCE2"/>
<rect x="328.2" y="666.6" width="37.6" height="13.4" fill="#A9B8D0"/>
<rect x="365.5" y="666.6" width="74.8" height="13.4" fill="#ABBAD3"/>
<rect x="67.4" y="679.7" width="37.6" height="13.4" fill="#AB68A9"/>
<rect x="104.7" y="679.7" width="37.6" height="13.4" fill="#E8D6E8"/>
<rect x="141.9" y="679.7" width="37.6" height="13.4" fill="#F8F8FA"/>
<rect x="179.2" y="679.7" width="37.6" height="13.4" fill="#E8D6E8"/>
<rect x="216.4" y="679.7" width="37.6" height="13.4" fill="#F3E8F0"/>
<rect x="253.7" y="679.7" width="37.6" height="13.4" fill="#D9B3D6"/>
<rect x="291" y="679.7" width="37.6" height="13.4" fill="#B9C6D8"/>
<rect x="328.2" y="679.7" width="37.6" height="13.4" fill="#98AECA"/>
<rect x="365.5" y="679.7" width="74.8" height="13.4" fill="#B9C6D8"/>
<rect x="67.4" y="692.8" width="37.6" height="13.4" fill="#94358E"/>
<rect x="104.7" y="692.8" width="149.3" height="13.4" fill="#DDE2EC"/>
<rect x="253.7" y="692.8" width="37.6" height="13.4" fill="#D9B3D6"/>
<rect x="291" y="692.8" width="149.3" height="13.4" fill="#DDE2EC"/>
<rect x="67.4" y="705.9" width="37.6" height="13.4" fill="#8B267E"/>
<rect x="104.7" y="705.9" width="335.6" height="13.4" fill="#E4E7EF"/>
<rect x="67.4" y="719" width="37.6" height="13.4" fill="#A564A5"/>
<rect x="104.7" y="719" width="37.6" height="13.4" fill="#C8D1E0"/>
<rect x="141.9" y="719" width="37.6" height="13.4" fill="#E3CCE3"/>
<rect x="179.2" y="719" width="37.6" height="13.4" fill="#D5ABCE"/>
<rect x="216.4" y="719" width="112.1" height="13.4" fill="#C8D1E0"/>
<rect x="328.2" y="719" width="37.6" height="13.4" fill="#DCBAD9"/>
<rect x="365.5" y="719" width="74.8" height="13.4" fill="#C8D1E0"/>
<rect x="67.4" y="732.1" width="37.6" height="13.4" fill="#A363A4"/>
<rect x="104.7" y="732.1" width="37.6" height="13.4" fill="#BEC9D9"/>
<rect x="141.9" y="732.1" width="37.6" height="13.4" fill="#E6CEE4"/>
<rect x="179.2" y="732.1" width="37.6" height="13.4" fill="#D5ABCE"/>
<rect x="216.4" y="732.1" width="74.8" height="13.4" fill="#BEC9D9"/>
<rect x="291" y="732.1" width="37.6" height="13.4" fill="#F2E8F0"/>
<rect x="328.2" y="732.1" width="37.6" height="13.4" fill="#E2C6E0"/>
<rect x="365.5" y="732.1" width="74.8" height="13.4" fill="#BEC9D9"/>
<rect x="67.4" y="745.2" width="37.6" height="13.4" fill="#9F4F98"/>
<rect x="104.7" y="745.2" width="37.6" height="13.4" fill="#BE86B9"/>
<rect x="141.9" y="745.2" width="298.4" height="13.4" fill="#D9DFEA"/>
<rect x="67.4" y="758.3" width="37.6" height="13.4" fill="#9F4F98"/>
<rect x="104.7" y="758.3" width="37.6" height="13.4" fill="#BE86B9"/>
<rect x="141.9" y="758.3" width="298.4" height="13.4" fill="#D9DFEA"/>
<rect x="67.4" y="771.4" width="37.6" height="13.4" fill="#A35BA0"/>
<rect x="104.7" y="771.4" width="37.6" height="13.4" fill="#BE86B9"/>
<rect x="141.9" y="771.4" width="223.9" height="13.4" fill="#D4D8E5"/>
<rect x="365.5" y="771.4" width="37.6" height="13.4" fill="#E6D0E5"/>
<rect x="402.7" y="771.4" width="37.6" height="13.4" fill="#D4D8E5"/>
<rect x="67.4" y="784.6" width="37.6" height="13.4" fill="#E4E7EF"/>
<rect x="104.7" y="784.6" width="37.6" height="13.4" fill="#8B267E"/>
<rect x="141.9" y="784.6" width="298.4" height="13.4" fill="#E4E7EF"/>
<rect x="67.4" y="797.7" width="37.6" height="13.4" fill="#E4E7EF"/>
<rect x="104.7" y="797.7" width="37.6" height="13.4" fill="#8B267E"/>
<rect x="141.9" y="797.7" width="298.4" height="13.4" fill="#E4E7EF"/>
<rect x="67.4" y="810.8" width="37.6" height="13.4" fill="#E0E5EE"/>
<rect x="104.7" y="810.8" width="37.6" height="13.4" fill="#8B267E"/>
<rect x="141.9" y="810.8" width="261.1" height="13.4" fill="#E0E5EE"/>
<rect x="402.7" y="810.8" width="37.6" height="13.4" fill="#EADAEA"/>
<rect x="67.4" y="823.9" width="37.6" height="13.4" fill="#D4D9E6"/>
<rect x="104.7" y="823.9" width="37.6" height="13.4" fill="#A35BA0"/>
<rect x="141.9" y="823.9" width="112.1" height="13.4" fill="#D4D9E6"/>
<rect x="253.7" y="823.9" width="37.6" height="13.4" fill="#F7F6F9"/>
<rect x="291" y="823.9" width="37.6" height="13.4" fill="#B87EB5"/>
<rect x="328.2" y="823.9" width="112.1" height="13.4" fill="#D4D9E6"/>
<rect x="67.4" y="837" width="37.6" height="13.4" fill="#D4D9E6"/>
<rect x="104.7" y="837" width="37.6" height="13.4" fill="#A35BA0"/>
<rect x="141.9" y="837" width="112.1" height="13.4" fill="#D4D9E6"/>
<rect x="253.7" y="837" width="37.6" height="13.4" fill="#E8D6E8"/>
<rect x="291" y="837" width="37.6" height="13.4" fill="#BF89BA"/>
<rect x="328.2" y="837" width="112.1" height="13.4" fill="#D4D9E6"/>
<rect x="67.4" y="850.1" width="74.8" height="13.4" fill="#DAE0EA"/>
<rect x="141.9" y="850.1" width="37.6" height="13.4" fill="#BE86B9"/>
<rect x="179.2" y="850.1" width="37.6" height="13.4" fill="#9F4F98"/>
<rect x="216.4" y="850.1" width="223.9" height="13.4" fill="#DAE0EA"/>
<rect x="67.4" y="863.2" width="37.6" height="13.4" fill="#E8EBF1"/>
<rect x="104.7" y="863.2" width="37.6" height="13.4" fill="#B9C6D8"/>
<rect x="141.9" y="863.2" width="37.6" height="13.4" fill="#C99FC7"/>
<rect x="179.2" y="863.2" width="37.6" height="13.4" fill="#A35BA0"/>
<rect x="216.4" y="863.2" width="37.6" height="13.4" fill="#F6F6F9"/>
<rect x="253.7" y="863.2" width="37.6" height="13.4" fill="#F0F3F7"/>
<rect x="291" y="863.2" width="74.8" height="13.4" fill="#B9C6D8"/>
<rect x="365.5" y="863.2" width="37.6" height="13.4" fill="#C3CEDE"/>
<rect x="402.7" y="863.2" width="37.6" height="13.4" fill="#E8D6E8"/>
<rect x="67.4" y="876.3" width="37.6" height="13.4" fill="#ECEEF4"/>
<rect x="104.7" y="876.3" width="37.6" height="13.4" fill="#ABBAD3"/>
<rect x="141.9" y="876.3" width="37.6" height="13.4" fill="#AD6AAB"/>
<rect x="179.2" y="876.3" width="37.6" height="13.4" fill="#D3A8CD"/>
<rect x="216.4" y="876.3" width="37.6" height="13.4" fill="#EFE2EE"/>
<rect x="253.7" y="876.3" width="37.6" height="13.4" fill="#FAFAFC"/>
<rect x="291" y="876.3" width="74.8" height="13.4" fill="#ABBAD3"/>
<rect x="365.5" y="876.3" width="37.6" height="13.4" fill="#BDC9DA"/>
<rect x="402.7" y="876.3" width="37.6" height="13.4" fill="#D9B8D6"/>
<rect x="67.4" y="889.4" width="112.1" height="13.4" fill="#E4E7EF"/>
<rect x="179.2" y="889.4" width="37.6" height="13.4" fill="#8B267E"/>
<rect x="216.4" y="889.4" width="223.9" height="13.4" fill="#E4E7EF"/>
<rect x="67.4" y="902.5" width="112.1" height="13.4" fill="#E4E7EF"/>
<rect x="179.2" y="902.5" width="37.6" height="13.4" fill="#8B267E"/>
<rect x="216.4" y="902.5" width="223.9" height="13.4" fill="#E4E7EF"/>
<rect x="67.4" y="915.6" width="37.6" height="13.4" fill="#DDE2EC"/>
<rect x="104.7" y="915.6" width="37.6" height="13.4" fill="#CC9DC7"/>
<rect x="141.9" y="915.6" width="37.6" height="13.4" fill="#944190"/>
<rect x="179.2" y="915.6" width="261.1" height="13.4" fill="#DDE2EC"/>
<rect x="67.4" y="928.7" width="37.6" height="13.4" fill="#D4D9E6"/>
<rect x="104.7" y="928.7" width="37.6" height="13.4" fill="#E6CFE4"/>
<rect x="141.9" y="928.7" width="37.6" height="13.4" fill="#91398A"/>
<rect x="179.2" y="928.7" width="37.6" height="13.4" fill="#E8D6E8"/>
<rect x="216.4" y="928.7" width="223.9" height="13.4" fill="#D4D9E6"/>
<rect x="67.4" y="941.8" width="37.6" height="13.4" fill="#E8D0E5"/>
<rect x="104.7" y="941.8" width="37.6" height="13.4" fill="#DDE2EC"/>
<rect x="141.9" y="941.8" width="37.6" height="13.4" fill="#8D2D82"/>
<rect x="179.2" y="941.8" width="261.1" height="13.4" fill="#DDE2EC"/>
<rect x="67.4" y="954.9" width="74.8" height="13.4" fill="#E6E9F0"/>
<rect x="141.9" y="954.9" width="37.6" height="13.4" fill="#8B267E"/>
<rect x="179.2" y="954.9" width="261.1" height="13.4" fill="#E6E9F0"/>
<rect x="67.4" y="968" width="37.6" height="13.4" fill="#E8D6E8"/>
<rect x="104.7" y="968" width="37.6" height="13.4" fill="#B273AF"/>
<rect x="141.9" y="968" width="37.6" height="13.4" fill="#B87EB5"/>
<rect x="179.2" y="968" width="37.6" height="13.4" fill="#F8F8FA"/>
<rect x="216.4" y="968" width="37.6" height="13.4" fill="#EDEFF4"/>
<rect x="253.7" y="968" width="186.6" height="13.4" fill="#C3CEDE"/>
<rect x="67.4" y="981.1" width="37.6" height="13.4" fill="#E8D6E8"/>
<rect x="104.7" y="981.1" width="37.6" height="13.4" fill="#C18DBC"/>
<rect x="141.9" y="981.1" width="37.6" height="13.4" fill="#AD6AAB"/>
<rect x="179.2" y="981.1" width="37.6" height="13.4" fill="#F2E6F0"/>
<rect x="216.4" y="981.1" width="223.9" height="13.4" fill="#C8D0DF"/>
<rect x="67.4" y="994.2" width="149.3" height="13.4" fill="#DAE0EA"/>
<rect x="216.4" y="994.2" width="37.6" height="13.4" fill="#B06DA8"/>
<rect x="253.7" y="994.2" width="37.6" height="13.4" fill="#A85FA3"/>
<rect x="291" y="994.2" width="149.3" height="13.4" fill="#DAE0EA"/>
<rect x="67.4" y="1007.3" width="149.3" height="13.4" fill="#DAE0EA"/>
<rect x="216.4" y="1007.3" width="37.6" height="13.4" fill="#C08AB9"/>
<rect x="253.7" y="1007.3" width="37.6" height="13.4" fill="#9F4F98"/>
<rect x="291" y="1007.3" width="149.3" height="13.4" fill="#DAE0EA"/>
<rect x="67.4" y="1020.5" width="186.6" height="13.4" fill="#E4E7EF"/>
<rect x="253.7" y="1020.5" width="37.6" height="13.4" fill="#8B267E"/>
<rect x="291" y="1020.5" width="149.3" height="13.4" fill="#E4E7EF"/>
<rect x="67.4" y="1033.6" width="149.3" height="13.4" fill="#E4E7EF"/>
<rect x="216.4" y="1033.6" width="37.6" height="13.4" fill="#8B267E"/>
<rect x="253.7" y="1033.6" width="186.6" height="13.4" fill="#E4E7EF"/>
<rect x="67.4" y="1046.7" width="149.3" height="13.4" fill="#E4E7EF"/>
<rect x="216.4" y="1046.7" width="37.6" height="13.4" fill="#8B267E"/>
<rect x="253.7" y="1046.7" width="186.6" height="13.4" fill="#E4E7EF"/>
<rect x="67.4" y="1059.8" width="149.3" height="13.4" fill="#E4E7EF"/>
<rect x="216.4" y="1059.8" width="37.6" height="13.4" fill="#8B267E"/>
<rect x="253.7" y="1059.8" width="186.6" height="13.4" fill="#E4E7EF"/>
<rect x="67.4" y="1072.9" width="149.3" height="13.4" fill="#E4E7EF"/>
<rect x="216.4" y="1072.9" width="37.6" height="13.4" fill="#8B267E"/>
<rect x="253.7" y="1072.9" width="186.6" height="13.4" fill="#E4E7EF"/>
<rect x="67.4" y="1086" width="74.8" height="13.4" fill="#E0E5EE"/>
<rect x="141.9" y="1086" width="74.8" height="13.4" fill="#F8F9FA"/>
<rect x="216.4" y="1086" width="37.6" height="13.4" fill="#8B267E"/>
<rect x="253.7" y="1086" width="186.6" height="13.4" fill="#E0E5EE"/>
<rect x="67.4" y="1099.1" width="223.9" height="13.4" fill="#DAE0EA"/>
<rect x="291" y="1099.1" width="37.6" height="13.4" fill="#CFA5CA"/>
<rect x="328.2" y="1099.1" width="37.6" height="13.4" fill="#984592"/>
<rect x="365.5" y="1099.1" width="74.8" height="13.4" fill="#DAE0EA"/>
<rect x="67.4" y="1112.2" width="223.9" height="13.4" fill="#DAE0EA"/>
<rect x="291" y="1112.2" width="37.6" height="13.4" fill="#CFA5CA"/>
<rect x="328.2" y="1112.2" width="37.6" height="13.4" fill="#984592"/>
<rect x="365.5" y="1112.2" width="74.8" height="13.4" fill="#DAE0EA"/>
<rect x="67.4" y="1125.3" width="223.9" height="13.4" fill="#DAE0EA"/>
<rect x="291" y="1125.3" width="37.6" height="13.4" fill="#C18DBC"/>
<rect x="328.2" y="1125.3" width="37.6" height="13.4" fill="#9F4F98"/>
<rect x="365.5" y="1125.3" width="74.8" height="13.4" fill="#DAE0EA"/>
<rect x="67.4" y="1138.4" width="186.6" height="13.4" fill="#D4D9E6"/>
<rect x="253.7" y="1138.4" width="37.6" height="13.4" fill="#F3E9F1"/>
<rect x="291" y="1138.4" width="37.6" height="13.4" fill="#C18DBC"/>
<rect x="328.2" y="1138.4" width="37.6" height="13.4" fill="#9F4F98"/>
<rect x="365.5" y="1138.4" width="74.8" height="13.4" fill="#D4D9E6"/>
<rect x="67.4" y="1151.5" width="223.9" height="13.4" fill="#DAE0EA"/>
<rect x="291" y="1151.5" width="37.6" height="13.4" fill="#9B4893"/>
<rect x="328.2" y="1151.5" width="37.6" height="13.4" fill="#C495C2"/>
<rect x="365.5" y="1151.5" width="74.8" height="13.4" fill="#DAE0EA"/>
<rect x="67.4" y="1164.6" width="223.9" height="13.4" fill="#DAE0EA"/>
<rect x="291" y="1164.6" width="37.6" height="13.4" fill="#9B4893"/>
<rect x="328.2" y="1164.6" width="37.6" height="13.4" fill="#C495C2"/>
<rect x="365.5" y="1164.6" width="74.8" height="13.4" fill="#DAE0EA"/>
<rect x="67.4" y="1177.7" width="223.9" height="13.4" fill="#DAE0EA"/>
<rect x="291" y="1177.7" width="74.8" height="13.4" fill="#AF6AA9"/>
<rect x="365.5" y="1177.7" width="74.8" height="13.4" fill="#DAE0EA"/>
<rect x="67.4" y="1190.8" width="186.6" height="13.4" fill="#DAE0EA"/>
<rect x="253.7" y="1190.8" width="37.6" height="13.4" fill="#E0C3DE"/>
<rect x="291" y="1190.8" width="37.6" height="13.4" fill="#94358E"/>
<rect x="328.2" y="1190.8" width="112.1" height="13.4" fill="#DAE0EA"/>
<rect x="67.4" y="1203.9" width="223.9" height="13.4" fill="#E4E7EF"/>
<rect x="291" y="1203.9" width="37.6" height="13.4" fill="#8B267E"/>
<rect x="328.2" y="1203.9" width="112.1" height="13.4" fill="#E4E7EF"/>
<rect x="67.4" y="1217" width="261.1" height="13.4" fill="#E4E7EF"/>
<rect x="328.2" y="1217" width="37.6" height="13.4" fill="#8B267E"/>
<rect x="365.5" y="1217" width="74.8" height="13.4" fill="#E4E7EF"/>
<rect x="67.4" y="1230.1" width="37.6" height="13.4" fill="#EEF1F5"/>
<rect x="104.7" y="1230.1" width="74.8" height="13.4" fill="#DDE2EC"/>
<rect x="179.2" y="1230.1" width="74.8" height="13.4" fill="#EEF1F5"/>
<rect x="253.7" y="1230.1" width="37.6" height="13.4" fill="#F3F5F8"/>
<rect x="291" y="1230.1" width="37.6" height="13.4" fill="#DDE2EC"/>
<rect x="328.2" y="1230.1" width="37.6" height="13.4" fill="#8B267E"/>
<rect x="365.5" y="1230.1" width="74.8" height="13.4" fill="#DDE2EC"/>
<rect x="67.4" y="1243.3" width="74.8" height="13.4" fill="#D1D7E4"/>
<rect x="141.9" y="1243.3" width="37.6" height="13.4" fill="#D0A3CA"/>
<rect x="179.2" y="1243.3" width="37.6" height="13.4" fill="#BE80B6"/>
<rect x="216.4" y="1243.3" width="37.6" height="13.4" fill="#D1D7E4"/>
<rect x="253.7" y="1243.3" width="37.6" height="13.4" fill="#E6E9F0"/>
<rect x="291" y="1243.3" width="37.6" height="13.4" fill="#D1D7E4"/>
<rect x="328.2" y="1243.3" width="37.6" height="13.4" fill="#BE80B6"/>
<rect x="365.5" y="1243.3" width="74.8" height="13.4" fill="#D1D7E4"/>
<rect x="67.4" y="1256.4" width="298.4" height="13.4" fill="#E4E7EF"/>
<rect x="365.5" y="1256.4" width="37.6" height="13.4" fill="#8B267E"/>
<rect x="402.7" y="1256.4" width="37.6" height="13.4" fill="#E4E7EF"/>
<rect x="67.4" y="1269.5" width="298.4" height="13.4" fill="#E4E7EF"/>
<rect x="365.5" y="1269.5" width="37.6" height="13.4" fill="#8B267E"/>
<rect x="402.7" y="1269.5" width="37.6" height="13.4" fill="#E4E7EF"/>
<rect x="67.4" y="1282.6" width="298.4" height="13.4" fill="#E4E7EF"/>
<rect x="365.5" y="1282.6" width="37.6" height="13.4" fill="#8B267E"/>
<rect x="402.7" y="1282.6" width="37.6" height="13.4" fill="#E4E7EF"/>
<rect x="67.4" y="1295.7" width="298.4" height="13.4" fill="#E4E7EF"/>
<rect x="365.5" y="1295.7" width="37.6" height="13.4" fill="#8B267E"/>
<rect x="402.7" y="1295.7" width="37.6" height="13.4" fill="#E4E7EF"/>
<rect x="67.4" y="1308.8" width="298.4" height="13.4" fill="#E4E7EF"/>
<rect x="365.5" y="1308.8" width="37.6" height="13.4" fill="#8B267E"/>
<rect x="402.7" y="1308.8" width="37.6" height="13.4" fill="#E4E7EF"/>
<rect x="67.4" y="1321.9" width="298.4" height="13.4" fill="#E4E7EF"/>
<rect x="365.5" y="1321.9" width="37.6" height="13.4" fill="#8B267E"/>
<rect x="402.7" y="1321.9" width="37.6" height="13.4" fill="#E4E7EF"/>
<rect x="67.4" y="1335" width="149.3" height="13.4" fill="#DAE0EA"/>
<rect x="216.4" y="1335" width="37.6" height="13.4" fill="#E3CCE3"/>
<rect x="253.7" y="1335" width="112.1" height="13.4" fill="#DAE0EA"/>
<rect x="365.5" y="1335" width="37.6" height="13.4" fill="#8D2D82"/>
<rect x="402.7" y="1335" width="37.6" height="13.4" fill="#DAE0EA"/>
<rect x="67.4" y="1348.1" width="149.3" height="13.4" fill="#BCC8D8"/>
<rect x="216.4" y="1348.1" width="37.6" height="13.4" fill="#F8F8FA"/>
<rect x="253.7" y="1348.1" width="37.6" height="13.4" fill="#E8D2E6"/>
<rect x="291" y="1348.1" width="74.8" height="13.4" fill="#E3CCE3"/>
<rect x="365.5" y="1348.1" width="37.6" height="13.4" fill="#9F4F98"/>
<rect x="402.7" y="1348.1" width="37.6" height="13.4" fill="#BCC8D8"/>
<rect x="67.4" y="1361.2" width="37.6" height="13.4" fill="#BCC8D8"/>
<rect x="104.7" y="1361.2" width="37.6" height="13.4" fill="#DFE4ED"/>
<rect x="141.9" y="1361.2" width="37.6" height="13.4" fill="#AEBCD3"/>
<rect x="179.2" y="1361.2" width="37.6" height="13.4" fill="#CED5E2"/>
<rect x="216.4" y="1361.2" width="37.6" height="13.4" fill="#DAE0EA"/>
<rect x="253.7" y="1361.2" width="37.6" height="13.4" fill="#EEF0F5"/>
<rect x="291" y="1361.2" width="37.6" height="13.4" fill="#F4EAF2"/>
<rect x="328.2" y="1361.2" width="37.6" height="13.4" fill="#F5F6F9"/>
<rect x="365.5" y="1361.2" width="37.6" height="13.4" fill="#9F4F98"/>
<rect x="402.7" y="1361.2" width="37.6" height="13.4" fill="#CCA0C9"/>
<rect x="67.4" y="1374.3" width="37.6" height="13.4" fill="#EEF0F5"/>
<rect x="104.7" y="1374.3" width="37.6" height="13.4" fill="#FAFAFC"/>
<rect x="141.9" y="1374.3" width="37.6" height="13.4" fill="#A6B4CF"/>
<rect x="179.2" y="1374.3" width="37.6" height="13.4" fill="#BEC9D9"/>
<rect x="216.4" y="1374.3" width="37.6" height="13.4" fill="#F0F3F7"/>
<rect x="253.7" y="1374.3" width="37.6" height="13.4" fill="#DAE0EA"/>
<rect x="291" y="1374.3" width="37.6" height="13.4" fill="#F0F3F7"/>
<rect x="328.2" y="1374.3" width="37.6" height="13.4" fill="#E6E9F0"/>
<rect x="365.5" y="1374.3" width="37.6" height="13.4" fill="#9A4794"/>
<rect x="402.7" y="1374.3" width="37.6" height="13.4" fill="#DEC0DD"/>
<rect x="67.4" y="1387.4" width="74.8" height="13.4" fill="#E6E9F0"/>
<rect x="141.9" y="1387.4" width="37.6" height="13.4" fill="#B5C3D8"/>
<rect x="179.2" y="1387.4" width="37.6" height="13.4" fill="#D0D6E3"/>
<rect x="216.4" y="1387.4" width="37.6" height="13.4" fill="#E6E9F0"/>
<rect x="253.7" y="1387.4" width="37.6" height="13.4" fill="#98ACCA"/>
<rect x="291" y="1387.4" width="37.6" height="13.4" fill="#F0E2EC"/>
<rect x="328.2" y="1387.4" width="37.6" height="13.4" fill="#F8F9FA"/>
<rect x="365.5" y="1387.4" width="37.6" height="13.4" fill="#AD6AAB"/>
<rect x="402.7" y="1387.4" width="37.6" height="13.4" fill="#C796C4"/>
<rect x="67.4" y="1400.5" width="298.4" height="13.4" fill="#DAE0EA"/>
<rect x="365.5" y="1400.5" width="37.6" height="13.4" fill="#A962A6"/>
<rect x="402.7" y="1400.5" width="37.6" height="13.4" fill="#B57CB3"/>
<rect x="67.4" y="1413.6" width="298.4" height="13.4" fill="#DAE0EA"/>
<rect x="365.5" y="1413.6" width="37.6" height="13.4" fill="#A962A6"/>
<rect x="402.7" y="1413.6" width="37.6" height="13.4" fill="#B57CB3"/>
<rect x="67.4" y="1426.7" width="74.8" height="13.4" fill="#F6F0F5"/>
<rect x="141.9" y="1426.7" width="37.6" height="13.4" fill="#6E89B4"/>
<rect x="179.2" y="1426.7" width="37.6" height="13.4" fill="#DAE0EA"/>
<rect x="216.4" y="1426.7" width="37.6" height="13.4" fill="#F6F0F5"/>
<rect x="253.7" y="1426.7" width="37.6" height="13.4" fill="#F0F3F7"/>
<rect x="291" y="1426.7" width="74.8" height="13.4" fill="#DAE0EA"/>
<rect x="365.5" y="1426.7" width="37.6" height="13.4" fill="#B170AC"/>
<rect x="402.7" y="1426.7" width="37.6" height="13.4" fill="#CCA0C9"/>
<rect x="67.4" y="1439.8" width="37.6" height="13.4" fill="#C0CCDD"/>
<rect x="104.7" y="1439.8" width="37.6" height="13.4" fill="#E3CCE3"/>
<rect x="141.9" y="1439.8" width="37.6" height="13.4" fill="#EEF1F5"/>
<rect x="179.2" y="1439.8" width="149.3" height="13.4" fill="#C3CEDE"/>
<rect x="328.2" y="1439.8" width="37.6" height="13.4" fill="#F4E8F1"/>
<rect x="365.5" y="1439.8" width="37.6" height="13.4" fill="#B170AC"/>
<rect x="402.7" y="1439.8" width="37.6" height="13.4" fill="#C796C4"/>
<rect x="67.4" y="1452.9" width="37.6" height="13.4" fill="#FAFBFB"/>
<rect x="104.7" y="1452.9" width="37.6" height="13.4" fill="#F6F6F9"/>
<rect x="141.9" y="1452.9" width="37.6" height="13.4" fill="#C3CEDE"/>
<rect x="179.2" y="1452.9" width="37.6" height="13.4" fill="#DDE3EC"/>
<rect x="216.4" y="1452.9" width="37.6" height="13.4" fill="#93A8C5"/>
<rect x="253.7" y="1452.9" width="37.6" height="13.4" fill="#F6EFF5"/>
<rect x="291" y="1452.9" width="37.6" height="13.4" fill="#DCBEDA"/>
<rect x="328.2" y="1452.9" width="37.6" height="13.4" fill="#EEDDEC"/>
<rect x="365.5" y="1452.9" width="37.6" height="13.4" fill="#B3C1D8"/>
<rect x="402.7" y="1452.9" width="37.6" height="13.4" fill="#A85FA3"/>
<rect x="67.4" y="1466" width="186.6" height="13.4" fill="#C6D0DF"/>
<rect x="253.7" y="1466" width="37.6" height="13.4" fill="#E0C3DE"/>
<rect x="291" y="1466" width="74.8" height="13.4" fill="#DCBAD9"/>
<rect x="365.5" y="1466" width="37.6" height="13.4" fill="#C6D0DF"/>
<rect x="402.7" y="1466" width="37.6" height="13.4" fill="#A85FA3"/>
<rect x="67.4" y="1479.2" width="335.6" height="13.4" fill="#E4E7EF"/>
<rect x="402.7" y="1479.2" width="37.6" height="13.4" fill="#8B267E"/>
<rect x="67.4" y="1492.3" width="335.6" height="13.4" fill="#E4E7EF"/>
<rect x="402.7" y="1492.3" width="37.6" height="13.4" fill="#8B267E"/>
<rect x="67.4" y="1505.4" width="335.6" height="13.4" fill="#E4E7EF"/>
<rect x="402.7" y="1505.4" width="37.6" height="13.4" fill="#8B267E"/>
<rect x="67.4" y="1518.5" width="335.6" height="13.4" fill="#E4E7EF"/>
<rect x="402.7" y="1518.5" width="37.6" height="13.4" fill="#8B267E"/>
<rect x="67.4" y="1531.6" width="335.6" height="13.4" fill="#E4E7EF"/>
<rect x="402.7" y="1531.6" width="37.6" height="13.4" fill="#8B267E"/>
<rect x="67.4" y="1544.7" width="335.6" height="13.4" fill="#E4E7EF"/>
<rect x="402.7" y="1544.7" width="37.6" height="13.4" fill="#8B267E"/>
<rect x="67.4" y="1557.8" width="37.6" height="13.4" fill="#DFE4ED"/>
<rect x="104.7" y="1557.8" width="37.6" height="13.4" fill="#EADAEA"/>
<rect x="141.9" y="1557.8" width="261.1" height="13.4" fill="#DFE4ED"/>
<rect x="402.7" y="1557.8" width="37.6" height="13.4" fill="#8B267E"/>
<rect x="67.4" y="1570.9" width="149.3" height="13.4" fill="#DFE4ED"/>
<rect x="216.4" y="1570.9" width="37.6" height="13.4" fill="#E0C3DE"/>
<rect x="253.7" y="1570.9" width="149.3" height="13.4" fill="#DFE4ED"/>
<rect x="402.7" y="1570.9" width="37.6" height="13.4" fill="#8D2D82"/>
<path d="M104.7,666.6 V1584 M141.9,666.6 V1584 M179.2,666.6 V1584 M216.4,666.6 V1584 M253.7,666.6 V1584 M291,666.6 V1584 M328.2,666.6 V1584 M365.5,666.6 V1584 M402.7,666.6 V1584 M67.4,679.7 H440 M67.4,692.8 H440 M67.4,705.9 H440 M67.4,719 H440 M67.4,732.1 H440 M67.4,745.2 H440 M67.4,758.3 H440 M67.4,771.4 H440 M67.4,784.6 H440 M67.4,797.7 H440 M67.4,810.8 H440 M67.4,823.9 H440 M67.4,837 H440 M67.4,850.1 H440 M67.4,863.2 H440 M67.4,876.3 H440 M67.4,889.4 H440 M67.4,902.5 H440 M67.4,915.6 H440 M67.4,928.7 H440 M67.4,941.8 H440 M67.4,954.9 H440 M67.4,968 H440 M67.4,981.1 H440 M67.4,994.2 H440 M67.4,1007.3 H440 M67.4,1020.5 H440 M67.4,1033.6 H440 M67.4,1046.7 H440 M67.4,1059.8 H440 M67.4,1072.9 H440 M67.4,1086 H440 M67.4,1099.1 H440 M67.4,1112.2 H440 M67.4,1125.3 H440 M67.4,1138.4 H440 M67.4,1151.5 H440 M67.4,1164.6 H440 M67.4,1177.7 H440 M67.4,1190.8 H440 M67.4,1203.9 H440 M67.4,1217 H440 M67.4,1230.1 H440 M67.4,1243.3 H440 M67.4,1256.4 H440 M67.4,1269.5 H440 M67.4,1282.6 H440 M67.4,1295.7 H440 M67.4,1308.8 H440 M67.4,1321.9 H440 M67.4,1335 H440 M67.4,1348.1 H440 M67.4,1361.2 H440 M67.4,1374.3 H440 M67.4,1387.4 H440 M67.4,1400.5 H440 M67.4,1413.6 H440 M67.4,1426.7 H440 M67.4,1439.8 H440 M67.4,1452.9 H440 M67.4,1466 H440 M67.4,1479.2 H440 M67.4,1492.3 H440 M67.4,1505.4 H440 M67.4,1518.5 H440 M67.4,1531.6 H440 M67.4,1544.7 H440 M67.4,1557.8 H440 M67.4,1570.9 H440" stroke="#ffffff" stroke-width="0.5" opacity="0.15" fill="none"/>
<rect x="67.4" y="665.6" width="372.6" height="918.8" fill="none" stroke="#444" stroke-width="1.6"/>
<path d="M86,640.3 V617.9 H123.3 V640.3 M160.6,640.3 V621.9 H197.8 V640.3 M235.1,640.3 V620.7 H272.3 V640.3 M309.6,640.3 V621.4 H346.9 V640.3 M384.1,640.3 V609.6 H421.4 V640.3 M104.7,617.9 V613.6 H179.2 V621.9 M141.9,613.6 V612.6 H253.7 V620.7 M197.8,612.6 V607.3 H328.2 V621.4 M263,607.3 V602.3 H402.7 V609.6" fill="none" stroke="#333" stroke-width="1.4"/>
<path d="M61,673.2 H58.4 V686.3 H61 M61,712.5 H58.6 V725.6 H61 M61,738.7 H58.8 V751.8 H61 M58.6,719 H54.5 V745.2 H58.8 M61,764.9 H57.1 V778 H61 M54.5,732.1 H50 V771.4 H57.1 M61,699.4 H48.8 V751.8 H50 M58.4,679.7 H45.5 V725.6 H48.8 M61,791.1 H57.9 V804.2 H61 M61,830.4 H58.2 V843.5 H61 M61,817.3 H53.9 V837 H58.2 M57.9,797.7 H50 V827.1 H53.9 M45.5,702.6 H31.2 V812.4 H50 M61,869.7 H58.4 V882.8 H61 M61,856.6 H53.8 V876.3 H58.4 M61,896 H58.8 V909.1 H61 M53.8,866.5 H47 V902.5 H58.8 M61,935.3 H57.3 V948.4 H61 M61,922.2 H53 V941.8 H57.3 M53,932 H51.8 V961.5 H61 M47,884.5 H37.4 V946.7 H51.8 M31.2,757.5 H29.7 V915.6 H37.4 M61,974.6 H58.3 V987.7 H61 M61,1013.9 H57.6 V1027 H61 M61,1000.8 H53.5 V1020.5 H57.6 M58.3,981.1 H48 V1010.6 H53.5 M61,1053.2 H58.7 V1066.3 H61 M61,1040.1 H55 V1059.8 H58.7 M61,1079.4 H57.6 V1092.5 H61 M55,1049.9 H53.8 V1086 H57.6 M48,995.9 H40.7 V1068 H53.8 M29.7,836.6 H25.4 V1031.9 H40.7 M61,1105.6 H58.4 V1118.7 H61 M61,1145 H58.7 V1158.1 H61 M61,1131.9 H54.2 V1151.5 H58.7 M61,1171.2 H57.2 V1184.3 H61 M54.2,1141.7 H50 V1177.7 H57.2 M58.4,1112.2 H48.8 V1159.7 H50 M61,1197.4 H57.1 V1210.5 H61 M48.8,1135.9 H47 V1203.9 H57.1 M61,1236.7 H57.8 V1249.8 H61 M61,1223.6 H53.3 V1243.3 H57.8 M47,1169.9 H42.2 V1233.4 H53.3 M25.4,934.2 H19.2 V1201.7 H42.2 M61,1262.9 H58.1 V1276 H61 M61,1302.2 H57.7 V1315.3 H61 M61,1289.1 H54.1 V1308.8 H57.7 M58.1,1269.5 H52 V1299 H54.1 M61,1328.4 H58.3 V1341.5 H61 M52,1284.2 H50.8 V1335 H58.3 M50.8,1309.6 H49.6 V1354.7 H61 M61,1394 H56.9 V1407.1 H61 M61,1380.9 H53.2 V1400.5 H56.9 M53.2,1390.7 H50 V1420.2 H61 M61,1433.3 H57.5 V1446.4 H61 M50,1405.4 H48.8 V1439.8 H57.5 M61,1367.8 H47.6 V1422.6 H48.8 M49.6,1332.1 H44.1 V1395.2 H47.6 M61,1459.5 H58.1 V1472.6 H61 M61,1485.7 H57.6 V1498.8 H61 M61,1511.9 H58.5 V1525 H61 M61,1538.1 H58 V1551.2 H61 M58.5,1518.5 H53.6 V1544.7 H58 M61,1564.3 H57.6 V1577.4 H61 M53.6,1531.6 H52 V1570.9 H57.6 M57.6,1492.3 H50.8 V1551.2 H52 M58.1,1466 H49.6 V1521.7 H50.8 M44.1,1363.7 H20.1 V1493.9 H49.6 M19.2,1068 H10.5 V1428.8 H20.1" fill="none" stroke="#333" stroke-width="1.3"/>
<path d="M446.2,665.9 L476,671.3 L476,684.3 L446.2,689.2 Z M446.2,693.3 L476,712.8 L476,763.4 L446.2,783.2 Z M446.2,786.8 L476,799.8 L476,834.1 L446.2,847.7 Z M446.2,851.8 L476,858.5 L476,878.3 L446.2,885.6 Z M446.2,889.5 L476,894.6 L476,907.2 L446.2,911.7 Z M446.2,915.7 L476,926.2 L476,953.2 L446.2,964.1 Z M446.2,968.6 L476,973.1 L476,985.7 L446.2,990.3 Z M446.2,994.8 L476,1001.7 L476,1021.5 L446.2,1028.4 Z M446.2,1034.2 L476,1047.7 L476,1084.3 L446.2,1098.6 Z M446.2,1103.6 L476,1121.7 L476,1169.2 L446.2,1187.2 Z M446.2,1191.6 L476,1195.2 L476,1207.4 L446.2,1212 Z M446.2,1217.9 L476,1224.6 L476,1246.2 L446.2,1253.8 Z M446.2,1260.5 L476,1281.6 L476,1336.6 L446.2,1358.7 Z M446.2,1362.8 L476,1381.8 L476,1432.3 L446.2,1452.2 Z M446.2,1459.4 L476,1485.6 L476,1555 L446.2,1582.1 Z" fill="#fff" stroke="#231f20" stroke-width="1.3" stroke-linejoin="miter"/>
<text x="489.6" y="687.9" textLength="152" lengthAdjust="spacingAndGlyphs">CTCF, NFYC</text>
<text x="489.6" y="730" textLength="182.6" lengthAdjust="spacingAndGlyphs">GABPA, NFIL3,</text>
<text x="489.6" y="762.3" textLength="130.3" lengthAdjust="spacingAndGlyphs">ATF3, FOS</text>
<text x="489.6" y="805.2" textLength="147.7" lengthAdjust="spacingAndGlyphs">JUND, EBF1,</text>
<text x="489.6" y="835.9" textLength="209" lengthAdjust="spacingAndGlyphs">PRDM16, ZFP528</text>
<text x="489.6" y="874.4" textLength="209" lengthAdjust="spacingAndGlyphs">NFIA, NFIC, NFIX</text>
<text x="489.6" y="906.7" textLength="160.6" lengthAdjust="spacingAndGlyphs">SOX2, RORC</text>
<text x="489.6" y="949.6" textLength="143.7" lengthAdjust="spacingAndGlyphs">RFX2, RFX4</text>
<text x="489.6" y="983.9" textLength="138.9" lengthAdjust="spacingAndGlyphs">RFX1, RFX3</text>
<text x="489.6" y="1020.6" textLength="244" lengthAdjust="spacingAndGlyphs">ATF2, SOX10, TCF4</text>
<text x="489.6" y="1071.7" textLength="240.5" lengthAdjust="spacingAndGlyphs">ASCL1, SOX2, E2F2</text>
<text x="489.6" y="1134.3" textLength="208.7" lengthAdjust="spacingAndGlyphs">IRF8, MAF, MITF,</text>
<text x="489.6" y="1165" textLength="183.8" lengthAdjust="spacingAndGlyphs">CEBPA, CEBPB</text>
<text x="489.6" y="1208.9" textLength="126.4" lengthAdjust="spacingAndGlyphs">TFE3, SPI1</text>
<text x="489.6" y="1245.7" textLength="126.9" lengthAdjust="spacingAndGlyphs">ELK1, IRF4</text>
<text x="489.6" y="1302.9" textLength="140.8" lengthAdjust="spacingAndGlyphs">KLF3, ETS1,</text>
<text x="489.6" y="1333.4" textLength="149.6" lengthAdjust="spacingAndGlyphs">ERG, SOX13</text>
<text x="489.6" y="1400.2" textLength="138.6" lengthAdjust="spacingAndGlyphs">SP3, NFYA,</text>
<text x="489.6" y="1431.4" textLength="88.6" lengthAdjust="spacingAndGlyphs">ZFP143</text>
<text x="489.6" y="1515.9" textLength="139.7" lengthAdjust="spacingAndGlyphs">ELK4, ELF1,</text>
<text x="489.6" y="1546.6" textLength="176.5" lengthAdjust="spacingAndGlyphs">TCF12, MEF2C</text>
<text x="56" y="1615.4" textLength="220.5" lengthAdjust="spacingAndGlyphs">Scaled frequency</text>
<defs><linearGradient id="sfg" x1="0" y1="0" x2="1" y2="0"><stop offset="0" stop-color="#2E5591"/><stop offset="0.49" stop-color="#ffffff"/><stop offset="1" stop-color="#8B267E"/></linearGradient></defs>
<rect x="291.2" y="1599.5" width="133.5" height="19" fill="url(#sfg)"/>
<text x="271.3" y="1651" textLength="43.5" lengthAdjust="spacingAndGlyphs">Min</text>
<text x="349.3" y="1651" font-size="21">0</text>
<text x="400.1" y="1651" textLength="48" lengthAdjust="spacingAndGlyphs">Max</text>
<text x="-1.5" y="1694.8" font-weight="bold" font-size="40">e</text>
<text x="194.2" y="1696.9" text-anchor="middle" font-style="italic" textLength="62.7" lengthAdjust="spacingAndGlyphs">RFX3</text>
<text class="L t" transform="matrix(.2561 0 0 .0509 64.5 1791.8)">T</text>
<text class="L g" transform="matrix(.2012 0 0 .0291 64.5 1788.3)">G</text>
<text class="L c" transform="matrix(.2168 0 0 .1526 64.5 1786.3)">C</text>
<text class="L t" transform="matrix(.2561 0 0 .0436 80.8 1791.8)">T</text>
<text class="L c" transform="matrix(.2168 0 0 .0407 80.8 1788.8)">C</text>
<text class="L g" transform="matrix(.2012 0 0 .0828 80.8 1786)">G</text>
<text class="L g" transform="matrix(.2012 0 0 1.1192 97 1791.8)">G</text>
<text class="L c" transform="matrix(.2168 0 0 .0407 113.2 1791.8)">C</text>
<text class="L t" transform="matrix(.2561 0 0 .907 113.2 1789)">T</text>
<text class="L c" transform="matrix(.2168 0 0 .0363 129.5 1791.8)">C</text>
<text class="L t" transform="matrix(.2561 0 0 .7631 129.5 1789.3)">T</text>
<text class="L a" transform="matrix(.2168 0 0 .0509 145.8 1791.8)">A</text>
<text class="L t" transform="matrix(.2561 0 0 .0291 145.8 1788.3)">T</text>
<text class="L g" transform="matrix(.2012 0 0 .6599 145.8 1786.3)">G</text>
<text class="L t" transform="matrix(.2561 0 0 .0363 162 1791.8)">T</text>
<text class="L c" transform="matrix(.2168 0 0 .814 162 1789.3)">C</text>
<text class="L a" transform="matrix(.2168 0 0 .0291 178.2 1791.8)">A</text>
<text class="L t" transform="matrix(.2561 0 0 .0581 178.2 1789.8)">T</text>
<text class="L c" transform="matrix(.2168 0 0 .6497 178.2 1785.8)">C</text>
<text class="L a" transform="matrix(.2168 0 0 .0218 194.5 1791.8)">A</text>
<text class="L t" transform="matrix(.2561 0 0 .0814 194.5 1790.3)">T</text>
<text class="L a" transform="matrix(.2168 0 0 .4128 194.5 1784.7)">A</text>
<text class="L a" transform="matrix(.2168 0 0 .0509 210.8 1791.8)">A</text>
<text class="L g" transform="matrix(.2012 0 0 .0625 210.8 1788.3)">G</text>
<text class="L t" transform="matrix(.2561 0 0 .2994 210.8 1784)">T</text>
<text class="L a" transform="matrix(.2168 0 0 .0727 227 1791.8)">A</text>
<text class="L g" transform="matrix(.2012 0 0 .8663 227 1786.8)">G</text>
<text class="L a" transform="matrix(.2168 0 0 .0727 243.2 1791.8)">A</text>
<text class="L g" transform="matrix(.2012 0 0 .7631 243.2 1786.8)">G</text>
<text class="L a" transform="matrix(.2168 0 0 .0291 259.5 1791.8)">A</text>
<text class="L c" transform="matrix(.2168 0 0 .0218 259.5 1789.8)">C</text>
<text class="L c" transform="matrix(.2168 0 0 .0509 275.8 1791.8)">C</text>
<text class="L g" transform="matrix(.2012 0 0 .1017 275.8 1788.3)">G</text>
<text class="L a" transform="matrix(.2168 0 0 .1541 275.8 1781.3)">A</text>
<text class="L t" transform="matrix(.2561 0 0 .0436 292 1791.8)">T</text>
<text class="L c" transform="matrix(.2168 0 0 .0509 292 1788.8)">C</text>
<text class="L a" transform="matrix(.2168 0 0 .5567 292 1785.3)">A</text>
<text class="L a" transform="matrix(.2168 0 0 .0291 308.2 1791.8)">A</text>
<text class="L t" transform="matrix(.2561 0 0 .0509 308.2 1789.8)">T</text>
<text class="L c" transform="matrix(.2168 0 0 .5959 308.2 1786.3)">C</text>
<rect x="62.7" y="1710" width="263" height="83.5" fill="none" stroke="#444" stroke-width="1.4"/>
<text x="484.5" y="1696.9" text-anchor="middle" font-style="italic" textLength="56" lengthAdjust="spacingAndGlyphs">NFIA</text>
<text class="L g" transform="matrix(.2151 0 0 .0291 354.8 1791.8)">G</text>
<text class="L a" transform="matrix(.2318 0 0 .0291 354.8 1789.8)">A</text>
<text class="L c" transform="matrix(.2318 0 0 .0291 354.8 1787.8)">C</text>
<text class="L t" transform="matrix(.2739 0 0 .1163 354.8 1785.8)">T</text>
<text class="L a" transform="matrix(.2318 0 0 .0291 372.1 1791.8)">A</text>
<text class="L g" transform="matrix(.2151 0 0 .0291 372.1 1789.8)">G</text>
<text class="L t" transform="matrix(.2739 0 0 .9302 372.1 1787.8)">T</text>
<text class="L a" transform="matrix(.2318 0 0 .0291 389.5 1791.8)">A</text>
<text class="L c" transform="matrix(.2318 0 0 .0436 389.5 1789.8)">C</text>
<text class="L g" transform="matrix(.2151 0 0 .9593 389.5 1786.8)">G</text>
<text class="L a" transform="matrix(.2318 0 0 .0436 406.8 1791.8)">A</text>
<text class="L t" transform="matrix(.2739 0 0 .0436 406.8 1788.8)">T</text>
<text class="L g" transform="matrix(.2151 0 0 .843 406.8 1785.8)">G</text>
<text class="L a" transform="matrix(.2318 0 0 .0436 424.1 1791.8)">A</text>
<text class="L g" transform="matrix(.2151 0 0 .0727 424.1 1788.8)">G</text>
<text class="L c" transform="matrix(.2318 0 0 .4651 424.1 1783.8)">C</text>
<text class="L c" transform="matrix(.2318 0 0 .0145 441.5 1791.8)">C</text>
<text class="L g" transform="matrix(.2151 0 0 .0291 441.5 1790.8)">G</text>
<text class="L a" transform="matrix(.2318 0 0 .0436 441.5 1788.8)">A</text>
<text class="L c" transform="matrix(.2318 0 0 .0145 458.8 1791.8)">C</text>
<text class="L a" transform="matrix(.2318 0 0 .0145 458.8 1790.8)">A</text>
<text class="L a" transform="matrix(.2318 0 0 .2907 476.1 1791.8)">A</text>
<text class="L g" transform="matrix(.2151 0 0 .4797 476.1 1771.8)">G</text>
<text class="L c" transform="matrix(.2318 0 0 .0145 493.5 1791.8)">C</text>
<text class="L a" transform="matrix(.2318 0 0 .0145 493.5 1790.8)">A</text>
<text class="L a" transform="matrix(.2318 0 0 .0436 510.8 1791.8)">A</text>
<text class="L c" transform="matrix(.2318 0 0 .0291 510.8 1788.8)">C</text>
<text class="L t" transform="matrix(.2739 0 0 .0727 510.8 1786.8)">T</text>
<text class="L a" transform="matrix(.2318 0 0 .0436 528.1 1791.8)">A</text>
<text class="L t" transform="matrix(.2739 0 0 .0581 528.1 1788.8)">T</text>
<text class="L g" transform="matrix(.2151 0 0 .5087 528.1 1784.8)">G</text>
<text class="L a" transform="matrix(.2318 0 0 .0436 545.5 1791.8)">A</text>
<text class="L t" transform="matrix(.2739 0 0 .0581 545.5 1788.8)">T</text>
<text class="L c" transform="matrix(.2318 0 0 .6686 545.5 1784.8)">C</text>
<text class="L a" transform="matrix(.2318 0 0 .0436 562.8 1791.8)">A</text>
<text class="L t" transform="matrix(.2739 0 0 .0581 562.8 1788.8)">T</text>
<text class="L c" transform="matrix(.2318 0 0 .7703 562.8 1784.8)">C</text>
<text class="L g" transform="matrix(.2151 0 0 .0436 580.1 1791.8)">G</text>
<text class="L t" transform="matrix(.2739 0 0 .0581 580.1 1788.8)">T</text>
<text class="L a" transform="matrix(.2318 0 0 .6105 580.1 1784.8)">A</text>
<text class="L g" transform="matrix(.2151 0 0 .0436 597.5 1791.8)">G</text>
<text class="L c" transform="matrix(.2318 0 0 .0291 597.5 1788.8)">C</text>
<text class="L a" transform="matrix(.2318 0 0 .1163 597.5 1786.8)">A</text>
<rect x="353" y="1710" width="263" height="83.5" fill="none" stroke="#444" stroke-width="1.4"/>
<text x="194.2" y="1826.1" text-anchor="middle" font-style="italic" textLength="82" lengthAdjust="spacingAndGlyphs">SOX10</text>
<text class="L c" transform="matrix(.1483 0 0 .0145 64.5 1921)">C</text>
<text class="L a" transform="matrix(.1483 0 0 .0291 64.5 1920)">A</text>
<text class="L c" transform="matrix(.1483 0 0 .0291 75.8 1921)">C</text>
<text class="L g" transform="matrix(.1376 0 0 .0291 75.8 1919)">G</text>
<text class="L t" transform="matrix(.1752 0 0 .0291 87.1 1921)">T</text>
<text class="L a" transform="matrix(.1483 0 0 .0872 87.1 1919)">A</text>
<text class="L t" transform="matrix(.1752 0 0 .0872 98.4 1921)">T</text>
<text class="L a" transform="matrix(.1483 0 0 .4215 98.4 1915)">A</text>
<text class="L t" transform="matrix(.1752 0 0 .0436 109.7 1921)">T</text>
<text class="L c" transform="matrix(.1483 0 0 .2907 109.7 1918)">C</text>
<text class="L a" transform="matrix(.1483 0 0 .7994 121 1921)">A</text>
<text class="L c" transform="matrix(.1483 0 0 .0436 132.3 1921)">C</text>
<text class="L a" transform="matrix(.1483 0 0 .4797 132.3 1918)">A</text>
<text class="L a" transform="matrix(.1483 0 0 .0436 143.6 1921)">A</text>
<text class="L t" transform="matrix(.1752 0 0 .1163 143.6 1918)">T</text>
<text class="L a" transform="matrix(.1483 0 0 .0291 154.9 1921)">A</text>
<text class="L g" transform="matrix(.1376 0 0 .189 154.9 1919)">G</text>
<text class="L c" transform="matrix(.1483 0 0 .0291 166.2 1921)">C</text>
<text class="L g" transform="matrix(.1376 0 0 .1453 166.2 1919)">G</text>
<text class="L a" transform="matrix(.1483 0 0 .0291 177.5 1921)">A</text>
<text class="L g" transform="matrix(.1376 0 0 .1017 177.5 1919)">G</text>
<text class="L a" transform="matrix(.1483 0 0 .0291 188.8 1921)">A</text>
<text class="L c" transform="matrix(.1483 0 0 .1017 188.8 1919)">C</text>
<text class="L a" transform="matrix(.1483 0 0 .0291 200.2 1921)">A</text>
<text class="L c" transform="matrix(.1483 0 0 .189 200.2 1919)">C</text>
<text class="L t" transform="matrix(.1752 0 0 .0291 211.5 1921)">T</text>
<text class="L c" transform="matrix(.1483 0 0 .2616 211.5 1919)">C</text>
<text class="L t" transform="matrix(.1752 0 0 .0291 222.8 1921)">T</text>
<text class="L a" transform="matrix(.1483 0 0 .189 222.8 1919)">A</text>
<text class="L t" transform="matrix(.1752 0 0 .6541 234.1 1921)">T</text>
<text class="L t" transform="matrix(.1752 0 0 1.061 245.4 1921)">T</text>
<text class="L g" transform="matrix(.1376 0 0 .5378 256.7 1921)">G</text>
<text class="L t" transform="matrix(.1752 0 0 .9012 268 1921)">T</text>
<text class="L c" transform="matrix(.1483 0 0 .0291 279.3 1921)">C</text>
<text class="L t" transform="matrix(.1752 0 0 .1163 279.3 1919)">T</text>
<text class="L t" transform="matrix(.1752 0 0 .0291 290.6 1921)">T</text>
<text class="L c" transform="matrix(.1483 0 0 .0872 290.6 1919)">C</text>
<text class="L a" transform="matrix(.1483 0 0 .0291 301.9 1921)">A</text>
<text class="L c" transform="matrix(.1483 0 0 .0291 301.9 1919)">C</text>
<text class="L a" transform="matrix(.1483 0 0 .0145 313.2 1921)">A</text>
<text class="L c" transform="matrix(.1483 0 0 .0291 313.2 1920)">C</text>
<rect x="62.7" y="1839.2" width="263" height="83.5" fill="none" stroke="#444" stroke-width="1.4"/>
<text x="484.5" y="1826.1" text-anchor="middle" font-style="italic" textLength="80" lengthAdjust="spacingAndGlyphs">ASCL1</text>
<text class="L g" transform="matrix(.2494 0 0 .0145 354.8 1921)">G</text>
<text class="L a" transform="matrix(.2687 0 0 .0145 354.8 1920)">A</text>
<text class="L a" transform="matrix(.2687 0 0 .0145 374.8 1921)">A</text>
<text class="L c" transform="matrix(.2687 0 0 .0291 374.8 1920)">C</text>
<text class="L t" transform="matrix(.3175 0 0 .0291 394.8 1921)">T</text>
<text class="L g" transform="matrix(.2494 0 0 .0436 394.8 1919)">G</text>
<text class="L a" transform="matrix(.2687 0 0 .1599 394.8 1916)">A</text>
<text class="L g" transform="matrix(.2494 0 0 .9157 414.8 1921)">G</text>
<text class="L c" transform="matrix(.2687 0 0 1.0756 434.8 1921)">C</text>
<text class="L a" transform="matrix(.2687 0 0 1.061 454.8 1921)">A</text>
<text class="L g" transform="matrix(.2494 0 0 1.0174 474.8 1921)">G</text>
<text class="L c" transform="matrix(.2687 0 0 .814 494.8 1921)">C</text>
<text class="L t" transform="matrix(.3175 0 0 1.0465 514.8 1921)">T</text>
<text class="L g" transform="matrix(.2494 0 0 1.1047 534.8 1921)">G</text>
<text class="L t" transform="matrix(.3175 0 0 .0291 554.8 1921)">T</text>
<text class="L c" transform="matrix(.2687 0 0 .0727 554.8 1919)">C</text>
<text class="L g" transform="matrix(.2494 0 0 .1163 554.8 1914)">G</text>
<text class="L a" transform="matrix(.2687 0 0 .0145 574.8 1921)">A</text>
<text class="L g" transform="matrix(.2494 0 0 .0145 594.8 1921)">G</text>
<rect x="353" y="1839.2" width="263" height="83.5" fill="none" stroke="#444" stroke-width="1.4"/>
<text x="194.2" y="1955.7" text-anchor="middle" font-style="italic" textLength="55" lengthAdjust="spacingAndGlyphs">IRF8</text>
<text class="L g" transform="matrix(.1594 0 0 .0145 64.5 2050.6)">G</text>
<text class="L a" transform="matrix(.1717 0 0 .0291 64.5 2049.6)">A</text>
<text class="L t" transform="matrix(.2029 0 0 .0291 77.5 2050.6)">T</text>
<text class="L a" transform="matrix(.1717 0 0 .0872 77.5 2048.6)">A</text>
<text class="L c" transform="matrix(.1717 0 0 .0291 90.5 2050.6)">C</text>
<text class="L t" transform="matrix(.2029 0 0 .0291 90.5 2048.6)">T</text>
<text class="L a" transform="matrix(.1717 0 0 .1308 90.5 2046.6)">A</text>
<text class="L c" transform="matrix(.1717 0 0 .0291 103.5 2050.6)">C</text>
<text class="L t" transform="matrix(.2029 0 0 .0436 103.5 2048.6)">T</text>
<text class="L a" transform="matrix(.1717 0 0 .1308 103.5 2045.6)">A</text>
<text class="L a" transform="matrix(.1717 0 0 .0436 116.5 2050.6)">A</text>
<text class="L g" transform="matrix(.1594 0 0 .1017 116.5 2047.6)">G</text>
<text class="L g" transform="matrix(.1594 0 0 .0581 129.5 2050.6)">G</text>
<text class="L a" transform="matrix(.1717 0 0 .1599 129.5 2046.6)">A</text>
<text class="L a" transform="matrix(.1717 0 0 .1163 142.5 2050.6)">A</text>
<text class="L g" transform="matrix(.1594 0 0 .5233 142.5 2042.6)">G</text>
<text class="L a" transform="matrix(.1717 0 0 .1163 155.5 2050.6)">A</text>
<text class="L g" transform="matrix(.1594 0 0 .5959 155.5 2042.6)">G</text>
<text class="L a" transform="matrix(.1717 0 0 1.032 168.5 2050.6)">A</text>
<text class="L a" transform="matrix(.1717 0 0 .9157 181.5 2050.6)">A</text>
<text class="L c" transform="matrix(.1717 0 0 .0581 194.5 2050.6)">C</text>
<text class="L g" transform="matrix(.1594 0 0 .1453 194.5 2046.6)">G</text>
<text class="L c" transform="matrix(.1717 0 0 .0436 207.5 2050.6)">C</text>
<text class="L t" transform="matrix(.2029 0 0 .6395 207.5 2047.6)">T</text>
<text class="L g" transform="matrix(.1594 0 0 .9302 220.5 2050.6)">G</text>
<text class="L g" transform="matrix(.1594 0 0 .0581 233.5 2050.6)">G</text>
<text class="L a" transform="matrix(.1717 0 0 .6105 233.5 2046.6)">A</text>
<text class="L a" transform="matrix(.1717 0 0 .6686 246.5 2050.6)">A</text>
<text class="L a" transform="matrix(.1717 0 0 .8721 259.5 2050.6)">A</text>
<text class="L c" transform="matrix(.1717 0 0 .0727 272.5 2050.6)">C</text>
<text class="L g" transform="matrix(.1594 0 0 .1308 272.5 2045.6)">G</text>
<text class="L c" transform="matrix(.1717 0 0 .0581 285.5 2050.6)">C</text>
<text class="L t" transform="matrix(.2029 0 0 .1163 285.5 2046.6)">T</text>
<text class="L a" transform="matrix(.1717 0 0 .0291 298.5 2050.6)">A</text>
<text class="L c" transform="matrix(.1717 0 0 .0145 298.5 2048.6)">C</text>
<text class="L a" transform="matrix(.1717 0 0 .0291 311.5 2050.6)">A</text>
<rect x="62.7" y="1968.8" width="263" height="83.5" fill="none" stroke="#444" stroke-width="1.4"/>
<text x="484.5" y="1955.7" text-anchor="middle" font-style="italic" textLength="57" lengthAdjust="spacingAndGlyphs">ETS1</text>
<text class="L a" transform="matrix(.2687 0 0 .0291 354.8 2050.6)">A</text>
<text class="L c" transform="matrix(.2687 0 0 .0291 354.8 2048.6)">C</text>
<text class="L a" transform="matrix(.2687 0 0 .0291 374.8 2050.6)">A</text>
<text class="L c" transform="matrix(.2687 0 0 .0436 374.8 2048.6)">C</text>
<text class="L g" transform="matrix(.2494 0 0 .0581 374.8 2045.6)">G</text>
<text class="L a" transform="matrix(.2687 0 0 .0436 394.8 2050.6)">A</text>
<text class="L g" transform="matrix(.2494 0 0 .0872 394.8 2047.6)">G</text>
<text class="L a" transform="matrix(.2687 0 0 .1744 394.8 2041.6)">A</text>
<text class="L a" transform="matrix(.2687 0 0 .0291 414.8 2050.6)">A</text>
<text class="L g" transform="matrix(.2494 0 0 .1017 414.8 2048.6)">G</text>
<text class="L c" transform="matrix(.2687 0 0 .2035 414.8 2041.6)">C</text>
<text class="L c" transform="matrix(.2687 0 0 .1453 434.8 2050.6)">C</text>
<text class="L a" transform="matrix(.2687 0 0 .2471 434.8 2040.6)">A</text>
<text class="L g" transform="matrix(.2494 0 0 1.032 454.8 2050.6)">G</text>
<text class="L g" transform="matrix(.2494 0 0 .9884 474.8 2050.6)">G</text>
<text class="L a" transform="matrix(.2687 0 0 1.032 494.8 2050.6)">A</text>
<text class="L t" transform="matrix(.3175 0 0 .1017 514.8 2050.6)">T</text>
<text class="L a" transform="matrix(.2687 0 0 .5669 514.8 2043.6)">A</text>
<text class="L a" transform="matrix(.2687 0 0 .0872 534.8 2050.6)">A</text>
<text class="L g" transform="matrix(.2494 0 0 .5523 534.8 2044.6)">G</text>
<text class="L c" transform="matrix(.2687 0 0 .0727 554.8 2050.6)">C</text>
<text class="L t" transform="matrix(.3175 0 0 .2471 554.8 2045.6)">T</text>
<text class="L a" transform="matrix(.2687 0 0 .0581 574.8 2050.6)">A</text>
<text class="L g" transform="matrix(.2494 0 0 .1744 574.8 2046.6)">G</text>
<text class="L a" transform="matrix(.2687 0 0 .0581 594.8 2050.6)">A</text>
<text class="L g" transform="matrix(.2494 0 0 .1744 594.8 2046.6)">G</text>
<rect x="353" y="1968.8" width="263" height="83.5" fill="none" stroke="#444" stroke-width="1.4"/>
<text x="735.7" y="704.7" font-weight="bold" font-size="40">f</text>
<rect x="772.5" y="715.8" width="23.1" height="99.8" fill="#F49EB5" stroke="#333" stroke-width="1.1"/>
<rect x="1204.3" y="722" width="68.4" height="69.3" fill="#e5e6e8"/>
<rect x="1316.6" y="722" width="76.3" height="69.3" fill="#e5e6e8"/>
<line x1="814" y1="786" x2="1946" y2="786" stroke="#c85050" stroke-width="0.6" opacity="0.6"/>
<path d="M817.1,784.5h2.2v1.5h-2.2zM839.6,784.7h2.2v1.3h-2.2zM854.7,785.2h2.2v0.8h-2.2zM877.2,785.2h2.2v0.8h-2.2zM918.6,785h2.2v1h-2.2zM1046.4,786h2.2v1.3h-2.2zM1061.4,786h2.2v0.6h-2.2zM1080.2,786h2.2v2.2h-2.2zM1170.4,786h2.2v1.7h-2.2zM1271.9,784.4h2.2v1.6h-2.2zM1275.7,786h2.2v0.6h-2.2zM1298.2,785.3h2.2v0.7h-2.2zM1305.7,786h2.2v1.8h-2.2zM1636.5,786h2.2v1.3h-2.2zM1779.4,783.6h2.2v2.4h-2.2zM1798.2,785.2h2.2v0.8h-2.2zM1824.5,786h2.2v0.5h-2.2zM1832,784.5h2.2v1.5h-2.2zM1933.5,786h2.2v0.9h-2.2zM1937.3,786h2.2v1.6h-2.2z" fill="#178a44"/>
<path d="M828.4,785.3h2.2v0.7h-2.2zM858.4,783.6h2.2v2.4h-2.2zM881,786h2.2v1.1h-2.2zM907.3,785.4h2.2v0.6h-2.2zM911.1,785h2.2v1h-2.2zM914.8,786h2.2v1h-2.2zM941.1,786h2.2v0.9h-2.2zM1076.5,786h2.2v0.7h-2.2zM1091.5,786h2.2v2h-2.2zM1392.2,786h2.2v1.2h-2.2zM1399.7,784.6h2.2v1.4h-2.2zM1508.7,784.3h2.2v1.7h-2.2zM1516.3,786h2.2v1.6h-2.2zM1794.4,786h2.2v1.5h-2.2zM1809.5,785.2h2.2v0.8h-2.2zM1835.8,784.2h2.2v1.8h-2.2zM1839.5,784.9h2.2v1.1h-2.2zM1847,785.1h2.2v0.9h-2.2zM1862.1,786h2.2v1.1h-2.2zM1941,786h2.2v1.7h-2.2z" fill="#3451a3"/>
<path d="M835.9,783.8h2.2v2.2h-2.2zM847.2,785.5h2.2v0.5h-2.2zM892.3,784.4h2.2v1.6h-2.2zM948.6,785.4h2.2v0.6h-2.2zM959.9,786h2.2v1.1h-2.2zM967.4,786h2.2v1.9h-2.2zM971.2,786h2.2v2h-2.2zM975,784.7h2.2v1.3h-2.2zM982.5,784.6h2.2v1.4h-2.2zM1050.1,783.8h2.2v2.2h-2.2zM1053.9,786h2.2v0.8h-2.2zM1095.2,786h2.2v1.8h-2.2zM1193,784.8h2.2v1.2h-2.2zM1317,786h2.2v2h-2.2zM1625.3,786h2.2v0.9h-2.2zM1629,786h2.2v1h-2.2zM1632.8,786h2.2v1.5h-2.2zM1640.3,784.9h2.2v1.1h-2.2zM1764.3,786h2.2v1.3h-2.2zM1768.1,783.9h2.2v2.1h-2.2zM1786.9,786h2.2v1.9h-2.2zM1805.7,786h2.2v0.7h-2.2zM1817,786h2.2v0.6h-2.2zM1828.3,786h2.2v0.8h-2.2zM1850.8,783.8h2.2v2.2h-2.2zM1858.3,784.4h2.2v1.6h-2.2z" fill="#f6a31e"/>
<path d="M820.8,783.8h2.2v2.2h-2.2zM843.4,784h2.2v2h-2.2zM862.2,786h2.2v0.7h-2.2zM869.7,786h2.2v0.8h-2.2zM873.5,786h2.2v0.9h-2.2zM896,785.3h2.2v0.7h-2.2zM903.5,785.4h2.2v0.6h-2.2zM929.8,784.4h2.2v1.6h-2.2zM1174.2,785h2.2v1h-2.2zM1181.7,785.2h2.2v0.8h-2.2zM1200.5,784.1h2.2v1.9h-2.2zM1512.5,786h2.2v2.4h-2.2zM1602.7,785.2h2.2v0.8h-2.2zM1614,783.8h2.2v2.2h-2.2zM1771.9,784.6h2.2v1.4h-2.2z" fill="#e8202a"/>
<text class="M g" transform="matrix(.0432 0 0 .1017 1205.6 786)">G</text>
<text class="L a" transform="matrix(.0465 0 0 .3343 1209.4 786)">A</text>
<text class="L c" transform="matrix(.0465 0 0 .189 1213.1 786)">C</text>
<text class="L c" transform="matrix(.0465 0 0 .3488 1216.9 786)">C</text>
<text class="L c" transform="matrix(.0465 0 0 .6831 1220.7 786)">C</text>
<text class="L g" transform="matrix(.0432 0 0 .8576 1224.4 786)">G</text>
<text class="L g" transform="matrix(.0432 0 0 .7994 1228.2 786)">G</text>
<text class="L a" transform="matrix(.0465 0 0 .5233 1231.9 786)">A</text>
<text class="L a" transform="matrix(.0465 0 0 .4797 1235.7 786)">A</text>
<text class="L g" transform="matrix(.0432 0 0 .3924 1239.5 786)">G</text>
<text class="L t" transform="matrix(.055 0 0 .3634 1243.2 786)">T</text>
<text class="M a" transform="matrix(.0504 0 0 .0436 1247 786)">A</text>
<text class="M c" transform="matrix(.0465 0 0 .1599 1250.7 786)">C</text>
<text class="M c" transform="matrix(.0465 0 0 .0872 1254.5 786)">C</text>
<text class="M g" transform="matrix(.0432 0 0 .1453 1258.2 786)">G</text>
<text class="M c" transform="matrix(.0465 0 0 .1017 1320 786)">C</text>
<text class="L t" transform="matrix(.055 0 0 .2035 1323.8 786)">T</text>
<text class="L t" transform="matrix(.055 0 0 .3488 1327.5 786)">T</text>
<text class="L c" transform="matrix(.0465 0 0 .4797 1331.3 786)">C</text>
<text class="L c" transform="matrix(.0465 0 0 .5814 1335.1 786)">C</text>
<text class="L g" transform="matrix(.0432 0 0 .5087 1338.8 786)">G</text>
<text class="L c" transform="matrix(.0465 0 0 .2471 1342.6 786)">C</text>
<text class="L t" transform="matrix(.055 0 0 .6395 1346.3 786)">T</text>
<text class="L t" transform="matrix(.055 0 0 .6686 1350.1 786)">T</text>
<text class="L c" transform="matrix(.0465 0 0 .436 1353.9 786)">C</text>
<text class="L c" transform="matrix(.0465 0 0 .7122 1357.6 786)">C</text>
<text class="L g" transform="matrix(.0432 0 0 .6395 1361.4 786)">G</text>
<text class="L g" transform="matrix(.0432 0 0 .3198 1365.1 786)">G</text>
<text class="M g" transform="matrix(.0432 0 0 .1453 1368.9 786)">G</text>
<text class="M t" transform="matrix(.055 0 0 .1599 1372.6 786)">T</text>
<text class="M c" transform="matrix(.0465 0 0 .0436 1376.4 786)">C</text>
<text class="M c" transform="matrix(.0465 0 0 .0436 1380.2 786)">C</text>
<text class="M t" transform="matrix(.055 0 0 -.0388 812.7 786)">T</text>
<text class="M c" transform="matrix(.0465 0 0 .0379 831.5 786)">C</text>
<text class="M a" transform="matrix(.0504 0 0 -.0485 850.3 786)">A</text>
<text class="M c" transform="matrix(.0465 0 0 -.0548 865.3 786)">C</text>
<text class="M g" transform="matrix(.0432 0 0 .0629 921.7 786)">G</text>
<text class="M g" transform="matrix(.0432 0 0 .0418 944.3 786)">G</text>
<text class="M c" transform="matrix(.0465 0 0 .0415 951.8 786)">C</text>
<text class="M t" transform="matrix(.055 0 0 -.0575 978.1 786)">T</text>
<text class="M c" transform="matrix(.0465 0 0 .0604 985.6 786)">C</text>
<text class="M t" transform="matrix(.055 0 0 .1062 989.4 786)">T</text>
<text class="M c" transform="matrix(.0465 0 0 .041 993.2 786)">C</text>
<text class="M c" transform="matrix(.0465 0 0 .0915 996.9 786)">C</text>
<text class="M c" transform="matrix(.0465 0 0 .0606 1000.7 786)">C</text>
<text class="M t" transform="matrix(.055 0 0 .0808 1004.4 786)">T</text>
<text class="M g" transform="matrix(.0432 0 0 .0846 1008.2 786)">G</text>
<text class="M a" transform="matrix(.0504 0 0 .0686 1011.9 786)">A</text>
<text class="M t" transform="matrix(.055 0 0 -.0403 1019.5 786)">T</text>
<text class="M t" transform="matrix(.055 0 0 -.0797 1023.2 786)">T</text>
<text class="M t" transform="matrix(.055 0 0 -.0846 1027 786)">T</text>
<text class="M c" transform="matrix(.0465 0 0 -.0784 1030.7 786)">C</text>
<text class="M t" transform="matrix(.055 0 0 -.0871 1034.5 786)">T</text>
<text class="M t" transform="matrix(.055 0 0 -.087 1038.3 786)">T</text>
<text class="M a" transform="matrix(.0504 0 0 .0576 1042 786)">A</text>
<text class="M c" transform="matrix(.0465 0 0 .1126 1064.6 786)">C</text>
<text class="M t" transform="matrix(.055 0 0 .1533 1068.3 786)">T</text>
<text class="L g" transform="matrix(.0432 0 0 .2483 1072.1 786)">G</text>
<text class="M a" transform="matrix(.0504 0 0 -.0456 1083.4 786)">A</text>
<text class="M t" transform="matrix(.055 0 0 .0684 1087.1 786)">T</text>
<text class="M g" transform="matrix(.0432 0 0 .0845 1098.4 786)">G</text>
<text class="M c" transform="matrix(.0465 0 0 .0995 1102.2 786)">C</text>
<text class="M a" transform="matrix(.0504 0 0 .0874 1105.9 786)">A</text>
<text class="M c" transform="matrix(.0465 0 0 .0841 1109.7 786)">C</text>
<text class="M a" transform="matrix(.0504 0 0 .0466 1113.4 786)">A</text>
<text class="M t" transform="matrix(.055 0 0 .0563 1117.2 786)">T</text>
<text class="M a" transform="matrix(.0504 0 0 .0444 1121 786)">A</text>
<text class="M a" transform="matrix(.0504 0 0 .0892 1124.7 786)">A</text>
<text class="M g" transform="matrix(.0432 0 0 .0383 1128.5 786)">G</text>
<text class="M c" transform="matrix(.0465 0 0 .0566 1132.2 786)">C</text>
<text class="M g" transform="matrix(.0432 0 0 .0605 1136 786)">G</text>
<text class="M g" transform="matrix(.0432 0 0 .0719 1139.8 786)">G</text>
<text class="M a" transform="matrix(.0504 0 0 .0633 1143.5 786)">A</text>
<text class="M c" transform="matrix(.0465 0 0 .0392 1147.3 786)">C</text>
<text class="M c" transform="matrix(.0465 0 0 .0644 1151 786)">C</text>
<text class="M a" transform="matrix(.0504 0 0 .0443 1154.8 786)">A</text>
<text class="M c" transform="matrix(.0465 0 0 .0477 1158.5 786)">C</text>
<text class="M t" transform="matrix(.055 0 0 .0774 1162.3 786)">T</text>
<text class="M a" transform="matrix(.0504 0 0 -.0547 1166.1 786)">A</text>
<text class="M c" transform="matrix(.0465 0 0 .0383 1177.3 786)">C</text>
<text class="M c" transform="matrix(.0465 0 0 .0441 1184.9 786)">C</text>
<text class="M c" transform="matrix(.0465 0 0 .0641 1188.6 786)">C</text>
<text class="M t" transform="matrix(.055 0 0 .0572 1267.6 786)">T</text>
<text class="M g" transform="matrix(.0432 0 0 -.05 1290.1 786)">G</text>
<text class="M a" transform="matrix(.0504 0 0 .067 1293.9 786)">A</text>
<text class="M g" transform="matrix(.0432 0 0 -.0474 1301.4 786)">G</text>
<text class="M g" transform="matrix(.0432 0 0 -.0416 1308.9 786)">G</text>
<text class="M t" transform="matrix(.055 0 0 .0645 1312.7 786)">T</text>
<text class="M g" transform="matrix(.0432 0 0 .0771 1387.8 786)">G</text>
<text class="M t" transform="matrix(.055 0 0 .1243 1402.9 786)">T</text>
<text class="M a" transform="matrix(.0504 0 0 .0775 1406.6 786)">A</text>
<text class="M t" transform="matrix(.055 0 0 .145 1410.4 786)">T</text>
<text class="M a" transform="matrix(.0504 0 0 .0885 1414.2 786)">A</text>
<text class="M c" transform="matrix(.0465 0 0 .0972 1417.9 786)">C</text>
<text class="M a" transform="matrix(.0504 0 0 .0554 1421.7 786)">A</text>
<text class="M a" transform="matrix(.0504 0 0 .113 1425.4 786)">A</text>
<text class="M a" transform="matrix(.0504 0 0 .0715 1429.2 786)">A</text>
<text class="M a" transform="matrix(.0504 0 0 .078 1433 786)">A</text>
<text class="M g" transform="matrix(.0432 0 0 .0642 1440.5 786)">G</text>
<text class="M t" transform="matrix(.055 0 0 -.048 1444.2 786)">T</text>
<text class="M g" transform="matrix(.0432 0 0 -.0957 1448 786)">G</text>
<text class="M g" transform="matrix(.0432 0 0 -.0434 1451.8 786)">G</text>
<text class="M t" transform="matrix(.055 0 0 .0989 1459.3 786)">T</text>
<text class="M g" transform="matrix(.0432 0 0 .0546 1463 786)">G</text>
<text class="M g" transform="matrix(.0432 0 0 .0504 1466.8 786)">G</text>
<text class="M c" transform="matrix(.0465 0 0 .0998 1470.5 786)">C</text>
<text class="M a" transform="matrix(.0504 0 0 .1001 1474.3 786)">A</text>
<text class="M t" transform="matrix(.055 0 0 .0729 1478.1 786)">T</text>
<text class="M a" transform="matrix(.0504 0 0 .1112 1481.8 786)">A</text>
<text class="M c" transform="matrix(.0465 0 0 .0942 1485.6 786)">C</text>
<text class="M c" transform="matrix(.0465 0 0 .0918 1489.3 786)">C</text>
<text class="M c" transform="matrix(.0465 0 0 .0632 1493.1 786)">C</text>
<text class="M g" transform="matrix(.0432 0 0 .0742 1496.9 786)">G</text>
<text class="M g" transform="matrix(.0432 0 0 -.0391 1500.6 786)">G</text>
<text class="M g" transform="matrix(.0432 0 0 .0667 1519.4 786)">G</text>
<text class="M c" transform="matrix(.0465 0 0 .0916 1523.2 786)">C</text>
<text class="M g" transform="matrix(.0432 0 0 .0538 1526.9 786)">G</text>
<text class="M g" transform="matrix(.0432 0 0 .0432 1530.7 786)">G</text>
<text class="M g" transform="matrix(.0432 0 0 .0887 1534.4 786)">G</text>
<text class="M a" transform="matrix(.0504 0 0 .1063 1538.2 786)">A</text>
<text class="M t" transform="matrix(.055 0 0 .0892 1542 786)">T</text>
<text class="M t" transform="matrix(.055 0 0 .0673 1545.7 786)">T</text>
<text class="M a" transform="matrix(.0504 0 0 .0482 1549.5 786)">A</text>
<text class="M a" transform="matrix(.0504 0 0 .0909 1553.2 786)">A</text>
<text class="M g" transform="matrix(.0432 0 0 .0616 1557 786)">G</text>
<text class="M c" transform="matrix(.0465 0 0 .0624 1560.8 786)">C</text>
<text class="M a" transform="matrix(.0504 0 0 .0811 1564.5 786)">A</text>
<text class="M c" transform="matrix(.0465 0 0 .0968 1568.3 786)">C</text>
<text class="M a" transform="matrix(.0504 0 0 .0668 1572 786)">A</text>
<text class="M t" transform="matrix(.055 0 0 .0635 1575.8 786)">T</text>
<text class="M a" transform="matrix(.0504 0 0 .046 1579.6 786)">A</text>
<text class="M g" transform="matrix(.0432 0 0 .1157 1583.3 786)">G</text>
<text class="M a" transform="matrix(.0504 0 0 .0954 1587.1 786)">A</text>
<text class="M a" transform="matrix(.0504 0 0 .0782 1590.8 786)">A</text>
<text class="M a" transform="matrix(.0504 0 0 .0573 1594.6 786)">A</text>
<text class="M t" transform="matrix(.055 0 0 .1017 1598.4 786)">T</text>
<text class="M a" transform="matrix(.0504 0 0 -.0499 1605.9 786)">A</text>
<text class="M a" transform="matrix(.0504 0 0 -.0369 1609.6 786)">A</text>
<text class="M c" transform="matrix(.0465 0 0 -.0447 1617.1 786)">C</text>
<text class="M a" transform="matrix(.0504 0 0 .0732 1651 786)">A</text>
<text class="M g" transform="matrix(.0432 0 0 .121 1654.7 786)">G</text>
<text class="M g" transform="matrix(.0432 0 0 .0853 1658.5 786)">G</text>
<text class="M t" transform="matrix(.055 0 0 .108 1662.3 786)">T</text>
<text class="M c" transform="matrix(.0465 0 0 .0886 1666 786)">C</text>
<text class="M c" transform="matrix(.0465 0 0 .0855 1669.8 786)">C</text>
<text class="M a" transform="matrix(.0504 0 0 .0818 1673.5 786)">A</text>
<text class="M g" transform="matrix(.0432 0 0 .0641 1677.3 786)">G</text>
<text class="M a" transform="matrix(.0504 0 0 .1134 1681 786)">A</text>
<text class="M t" transform="matrix(.055 0 0 .0804 1684.8 786)">T</text>
<text class="M c" transform="matrix(.0465 0 0 .0531 1688.6 786)">C</text>
<text class="M t" transform="matrix(.055 0 0 .1078 1692.3 786)">T</text>
<text class="M g" transform="matrix(.0432 0 0 .1013 1696.1 786)">G</text>
<text class="M t" transform="matrix(.055 0 0 .1005 1699.8 786)">T</text>
<text class="M g" transform="matrix(.0432 0 0 .058 1703.6 786)">G</text>
<text class="M g" transform="matrix(.0432 0 0 .0573 1707.4 786)">G</text>
<text class="M t" transform="matrix(.055 0 0 .0899 1711.1 786)">T</text>
<text class="M g" transform="matrix(.0432 0 0 .098 1714.9 786)">G</text>
<text class="M a" transform="matrix(.0504 0 0 .0844 1718.6 786)">A</text>
<text class="M a" transform="matrix(.0504 0 0 .0468 1722.4 786)">A</text>
<text class="M t" transform="matrix(.055 0 0 .1204 1726.2 786)">T</text>
<text class="M a" transform="matrix(.0504 0 0 .0924 1729.9 786)">A</text>
<text class="M a" transform="matrix(.0504 0 0 .1114 1733.7 786)">A</text>
<text class="M g" transform="matrix(.0432 0 0 .0509 1737.4 786)">G</text>
<text class="M a" transform="matrix(.0504 0 0 .0634 1741.2 786)">A</text>
<text class="M a" transform="matrix(.0504 0 0 .0758 1745 786)">A</text>
<text class="M g" transform="matrix(.0432 0 0 .0842 1748.7 786)">G</text>
<text class="M c" transform="matrix(.0465 0 0 .041 1752.5 786)">C</text>
<text class="M a" transform="matrix(.0504 0 0 .069 1756.2 786)">A</text>
<text class="M g" transform="matrix(.0432 0 0 -.049 1760 786)">G</text>
<text class="M g" transform="matrix(.0432 0 0 -.0523 1790.1 786)">G</text>
<text class="M t" transform="matrix(.055 0 0 .0365 1812.6 786)">T</text>
<text class="M c" transform="matrix(.0465 0 0 .0451 1820.1 786)">C</text>
<text class="M g" transform="matrix(.0432 0 0 .1187 1869 786)">G</text>
<text class="M c" transform="matrix(.0465 0 0 .1323 1872.8 786)">C</text>
<text class="M t" transform="matrix(.055 0 0 .0579 1876.5 786)">T</text>
<text class="M a" transform="matrix(.0504 0 0 .0763 1880.3 786)">A</text>
<text class="M g" transform="matrix(.0432 0 0 .0553 1884 786)">G</text>
<text class="M c" transform="matrix(.0465 0 0 .0993 1887.8 786)">C</text>
<text class="M g" transform="matrix(.0432 0 0 .1132 1891.6 786)">G</text>
<text class="M g" transform="matrix(.0432 0 0 .1111 1895.3 786)">G</text>
<text class="M c" transform="matrix(.0465 0 0 .0731 1899.1 786)">C</text>
<text class="M t" transform="matrix(.055 0 0 .0902 1902.8 786)">T</text>
<text class="M c" transform="matrix(.0465 0 0 .1257 1906.6 786)">C</text>
<text class="M c" transform="matrix(.0465 0 0 .0911 1910.3 786)">C</text>
<text class="M a" transform="matrix(.0504 0 0 .1249 1914.1 786)">A</text>
<text class="M c" transform="matrix(.0465 0 0 .1234 1917.9 786)">C</text>
<text class="M a" transform="matrix(.0504 0 0 .1094 1921.6 786)">A</text>
<text class="M g" transform="matrix(.0432 0 0 .0631 1925.4 786)">G</text>
<text class="M t" transform="matrix(.055 0 0 .1218 1929.1 786)">T</text>
<rect x="810" y="715.8" width="1138" height="99.8" fill="none" stroke="#333" stroke-width="1.4"/>
<text x="1379" y="706.4" text-anchor="middle" textLength="346.1" lengthAdjust="spacingAndGlyphs">chr14: 52196660–52197863</text>
<text x="1940.5" y="741.8" text-anchor="end" textLength="167.5" lengthAdjust="spacingAndGlyphs">[–0.02, 0.06]</text>
<text x="1208.1" y="810.2" font-style="italic" textLength="56.7" lengthAdjust="spacingAndGlyphs">ELK1</text>
<text x="1312" y="810.2" font-style="italic" textLength="83" lengthAdjust="spacingAndGlyphs">ARNTL</text>
<rect x="772.5" y="857.2" width="23.1" height="99.8" fill="#CA76A9" stroke="#333" stroke-width="1.1"/>
<rect x="1248.4" y="861.3" width="69.4" height="71.2" fill="#e5e6e8"/>
<rect x="1479.2" y="861.3" width="77.3" height="71.2" fill="#e5e6e8"/>
<line x1="814" y1="925.3" x2="1946" y2="925.3" stroke="#c85050" stroke-width="0.6" opacity="0.6"/>
<path d="M820.8,924.3h2.2v1h-2.2zM873.5,925.3h2.2v1.6h-2.2zM888.5,925.3h2.2v1.6h-2.2zM899.8,925.3h2.2v1.2h-2.2zM907.3,925.3h2.2v1.7h-2.2zM929.8,925.3h2.2v2.1h-2.2zM937.4,925.3h2.2v1.5h-2.2zM975,925.3h2.2v1.1h-2.2zM986.2,925.3h2.2v0.9h-2.2zM1035.1,924.2h2.2v1.1h-2.2zM1095.2,925.3h2.2v0.6h-2.2zM1110.3,923.4h2.2v1.9h-2.2zM1129.1,925.3h2.2v1.8h-2.2zM1211.8,924.1h2.2v1.2h-2.2zM1223.1,924.5h2.2v0.8h-2.2zM1347.1,923.7h2.2v1.6h-2.2zM1354.6,925.3h2.2v2h-2.2zM1369.7,925.3h2.2v1.8h-2.2zM1373.4,922.9h2.2v2.4h-2.2zM1377.2,923.7h2.2v1.6h-2.2zM1399.7,925.3h2.2v0.5h-2.2zM1441.1,924.4h2.2v0.9h-2.2zM1568.9,925.3h2.2v1h-2.2zM1651.6,923h2.2v2.3h-2.2zM1674.1,923.5h2.2v1.8h-2.2zM1692.9,923.4h2.2v1.9h-2.2zM1730.5,923.9h2.2v1.4h-2.2zM1749.3,925.3h2.2v1h-2.2zM1847,925.3h2.2v0.5h-2.2zM1873.4,923.3h2.2v2h-2.2zM1899.7,925.3h2.2v1.7h-2.2zM1926,925.3h2.2v1.1h-2.2z" fill="#178a44"/>
<path d="M828.4,925.3h2.2v1.3h-2.2zM869.7,925.3h2.2v1.4h-2.2zM892.3,925.3h2.2v2.2h-2.2zM914.8,925.3h2.2v2h-2.2zM959.9,925.3h2.2v0.8h-2.2zM993.8,925.3h2.2v1h-2.2zM1012.5,924h2.2v1.3h-2.2zM1020.1,924.2h2.2v1.1h-2.2zM1117.8,923.3h2.2v2h-2.2zM1125.3,923.5h2.2v1.8h-2.2zM1140.4,923.2h2.2v2.1h-2.2zM1208,924.7h2.2v0.6h-2.2zM1215.5,923.7h2.2v1.6h-2.2zM1234.3,925.3h2.2v0.7h-2.2zM1324.5,923.6h2.2v1.7h-2.2zM1350.9,924.1h2.2v1.2h-2.2zM1365.9,925.3h2.2v1.5h-2.2zM1380.9,925.3h2.2v0.7h-2.2zM1407.2,925.3h2.2v1.6h-2.2zM1444.8,924.6h2.2v0.7h-2.2zM1467.4,924.3h2.2v1h-2.2zM1471.1,925.3h2.2v1.2h-2.2zM1478.7,925.3h2.2v1.3h-2.2zM1565.1,925.3h2.2v1.2h-2.2zM1655.3,925.3h2.2v1.3h-2.2zM1662.9,924.7h2.2v0.6h-2.2zM1708,922.8h2.2v2.5h-2.2zM1726.8,922.9h2.2v2.4h-2.2zM1813.2,923.9h2.2v1.4h-2.2zM1843.3,925.3h2.2v0.9h-2.2zM1850.8,923.4h2.2v1.9h-2.2zM1903.4,923.4h2.2v1.9h-2.2zM1937.3,925.3h2.2v1.2h-2.2zM1941,925.3h2.2v1.1h-2.2z" fill="#3451a3"/>
<path d="M817.1,925.3h2.2v1.3h-2.2zM835.9,925.3h2.2v0.8h-2.2zM839.6,924.2h2.2v1.1h-2.2zM854.7,924.5h2.2v0.8h-2.2zM865.9,925.3h2.2v0.8h-2.2zM884.7,925.3h2.2v2.4h-2.2zM918.6,925.3h2.2v2.5h-2.2zM948.6,925.3h2.2v2.3h-2.2zM952.4,923.2h2.2v2.1h-2.2zM963.7,925.3h2.2v1h-2.2zM967.4,923.9h2.2v1.4h-2.2zM982.5,925.3h2.2v0.5h-2.2zM1005,924.3h2.2v1h-2.2zM1031.3,923.8h2.2v1.5h-2.2zM1076.5,925.3h2.2v0.5h-2.2zM1087.7,925.3h2.2v1.4h-2.2zM1132.8,925.3h2.2v1.8h-2.2zM1219.3,924.7h2.2v0.6h-2.2zM1226.8,924.5h2.2v0.8h-2.2zM1230.6,924.6h2.2v0.7h-2.2zM1328.3,923.6h2.2v1.7h-2.2zM1392.2,925.3h2.2v1h-2.2zM1403.5,925.3h2.2v1.4h-2.2zM1433.6,925.3h2.2v1.5h-2.2zM1557.6,925.3h2.2v1.6h-2.2zM1561.4,922.8h2.2v2.5h-2.2zM1632.8,923.7h2.2v1.6h-2.2zM1659.1,925.3h2.2v1.4h-2.2zM1666.6,923.5h2.2v1.8h-2.2zM1734.3,924.1h2.2v1.2h-2.2zM1738,923.7h2.2v1.6h-2.2zM1753.1,925.3h2.2v1.3h-2.2zM1756.8,925.3h2.2v0.7h-2.2zM1779.4,925.3h2.2v1.1h-2.2zM1783.1,924.1h2.2v1.2h-2.2zM1817,924.2h2.2v1.1h-2.2zM1828.3,923.2h2.2v2.1h-2.2zM1865.8,924.5h2.2v0.8h-2.2zM1877.1,925.3h2.2v1.2h-2.2zM1910.9,923.7h2.2v1.6h-2.2zM1914.7,925.3h2.2v0.9h-2.2z" fill="#f6a31e"/>
<path d="M1268.4,923.3h2.2v2h-2.2zM832.1,925.3h2.2v1.3h-2.2zM847.2,925.3h2.2v1.8h-2.2zM911.1,925.3h2.2v1.2h-2.2zM922.3,925.3h2.2v1.8h-2.2zM926.1,925.3h2.2v1.2h-2.2zM933.6,925.3h2.2v1.8h-2.2zM941.1,924h2.2v1.3h-2.2zM944.9,922.8h2.2v2.5h-2.2zM956.2,924.3h2.2v1h-2.2zM997.5,923.3h2.2v2h-2.2zM1008.8,923.1h2.2v2.2h-2.2zM1027.6,923.8h2.2v1.5h-2.2zM1084,925.3h2.2v0.5h-2.2zM1091.5,923.2h2.2v2.1h-2.2zM1102.8,923h2.2v2.3h-2.2zM1114,923.3h2.2v2h-2.2zM1189.2,924.4h2.2v0.9h-2.2zM1196.7,925.3h2.2v1.4h-2.2zM1313.3,924.6h2.2v0.7h-2.2zM1343.3,923.7h2.2v1.6h-2.2zM1576.4,924.7h2.2v0.6h-2.2zM1636.5,925.3h2.2v2.4h-2.2zM1644.1,924.3h2.2v1h-2.2zM1768.1,925.3h2.2v1.3h-2.2zM1771.9,923.8h2.2v1.5h-2.2zM1805.7,925.3h2.2v2.3h-2.2zM1809.5,923.8h2.2v1.5h-2.2zM1835.8,925.3h2.2v0.9h-2.2zM1862.1,923.7h2.2v1.6h-2.2zM1884.6,925.3h2.2v1.4h-2.2z" fill="#e8202a"/>
<text class="M t" transform="matrix(.055 0 0 .0872 1245.2 925.3)">T</text>
<text class="M a" transform="matrix(.0504 0 0 -.0436 1249 925.3)">A</text>
<text class="L c" transform="matrix(.0465 0 0 .3488 1252.7 925.3)">C</text>
<text class="M c" transform="matrix(.0465 0 0 .1453 1256.5 925.3)">C</text>
<text class="L c" transform="matrix(.0465 0 0 .2326 1260.3 925.3)">C</text>
<text class="M t" transform="matrix(.055 0 0 -.0436 1264 925.3)">T</text>
<text class="L g" transform="matrix(.0432 0 0 .2762 1271.5 925.3)">G</text>
<text class="M a" transform="matrix(.0504 0 0 -.0436 1275.3 925.3)">A</text>
<text class="L g" transform="matrix(.0432 0 0 .2616 1279.1 925.3)">G</text>
<text class="M a" transform="matrix(.0504 0 0 .1163 1282.8 925.3)">A</text>
<text class="M g" transform="matrix(.0432 0 0 .0581 1286.6 925.3)">G</text>
<text class="L c" transform="matrix(.0465 0 0 .189 1290.3 925.3)">C</text>
<text class="M c" transform="matrix(.0465 0 0 .0436 1294.1 925.3)">C</text>
<text class="M g" transform="matrix(.0432 0 0 .0727 1297.8 925.3)">G</text>
<text class="L t" transform="matrix(.055 0 0 .189 1301.6 925.3)">T</text>
<text class="M t" transform="matrix(.055 0 0 .0581 1305.4 925.3)">T</text>
<text class="M g" transform="matrix(.0432 0 0 .0872 1480.1 925.3)">G</text>
<text class="L c" transform="matrix(.0465 0 0 .218 1483.9 925.3)">C</text>
<text class="M c" transform="matrix(.0465 0 0 .0436 1487.6 925.3)">C</text>
<text class="L g" transform="matrix(.0432 0 0 .9157 1491.4 925.3)">G</text>
<text class="L t" transform="matrix(.055 0 0 .436 1495.2 925.3)">T</text>
<text class="L t" transform="matrix(.055 0 0 .4215 1498.9 925.3)">T</text>
<text class="L g" transform="matrix(.0432 0 0 .4506 1502.7 925.3)">G</text>
<text class="L c" transform="matrix(.0465 0 0 .6541 1506.4 925.3)">C</text>
<text class="L c" transform="matrix(.0465 0 0 .6686 1510.2 925.3)">C</text>
<text class="L a" transform="matrix(.0465 0 0 .4651 1514 925.3)">A</text>
<text class="L t" transform="matrix(.055 0 0 .3488 1517.7 925.3)">T</text>
<text class="L g" transform="matrix(.0432 0 0 .5669 1521.5 925.3)">G</text>
<text class="L g" transform="matrix(.0432 0 0 .436 1525.2 925.3)">G</text>
<text class="L t" transform="matrix(.055 0 0 .1744 1529 925.3)">T</text>
<text class="L a" transform="matrix(.0465 0 0 .3343 1532.7 925.3)">A</text>
<text class="L a" transform="matrix(.0465 0 0 .5087 1536.5 925.3)">A</text>
<text class="L c" transform="matrix(.0465 0 0 .2762 1540.3 925.3)">C</text>
<text class="M c" transform="matrix(.0465 0 0 .0727 1544 925.3)">C</text>
<text class="M g" transform="matrix(.0432 0 0 .0763 850.3 925.3)">G</text>
<text class="M t" transform="matrix(.055 0 0 .078 857.8 925.3)">T</text>
<text class="M c" transform="matrix(.0465 0 0 .0445 861.6 925.3)">C</text>
<text class="M t" transform="matrix(.055 0 0 -.0401 876.6 925.3)">T</text>
<text class="M t" transform="matrix(.055 0 0 -.0397 880.4 925.3)">T</text>
<text class="M a" transform="matrix(.0504 0 0 -.039 895.4 925.3)">A</text>
<text class="M c" transform="matrix(.0465 0 0 -.0405 902.9 925.3)">C</text>
<text class="M t" transform="matrix(.055 0 0 .0872 970.6 925.3)">T</text>
<text class="M a" transform="matrix(.0504 0 0 -.0502 978.1 925.3)">A</text>
<text class="M a" transform="matrix(.0504 0 0 .0552 1000.7 925.3)">A</text>
<text class="M c" transform="matrix(.0465 0 0 .0951 1038.3 925.3)">C</text>
<text class="M a" transform="matrix(.0504 0 0 .138 1042 925.3)">A</text>
<text class="L t" transform="matrix(.055 0 0 .1851 1045.8 925.3)">T</text>
<text class="L a" transform="matrix(.0465 0 0 .177 1049.5 925.3)">A</text>
<text class="M t" transform="matrix(.055 0 0 .0418 1057.1 925.3)">T</text>
<text class="M g" transform="matrix(.0432 0 0 .0373 1060.8 925.3)">G</text>
<text class="M g" transform="matrix(.0432 0 0 -.0459 1064.6 925.3)">G</text>
<text class="M t" transform="matrix(.055 0 0 .0688 1068.3 925.3)">T</text>
<text class="M c" transform="matrix(.0465 0 0 -.0384 1072.1 925.3)">C</text>
<text class="M t" transform="matrix(.055 0 0 .0697 1079.6 925.3)">T</text>
<text class="M g" transform="matrix(.0432 0 0 .0555 1098.4 925.3)">G</text>
<text class="M t" transform="matrix(.055 0 0 .0664 1105.9 925.3)">T</text>
<text class="M a" transform="matrix(.0504 0 0 .0541 1143.5 925.3)">A</text>
<text class="M t" transform="matrix(.055 0 0 .0711 1147.3 925.3)">T</text>
<text class="M c" transform="matrix(.0465 0 0 .0375 1151 925.3)">C</text>
<text class="M c" transform="matrix(.0465 0 0 .0435 1154.8 925.3)">C</text>
<text class="M g" transform="matrix(.0432 0 0 .0542 1158.5 925.3)">G</text>
<text class="M c" transform="matrix(.0465 0 0 .0584 1162.3 925.3)">C</text>
<text class="M c" transform="matrix(.0465 0 0 .0452 1166.1 925.3)">C</text>
<text class="M g" transform="matrix(.0432 0 0 .0393 1169.8 925.3)">G</text>
<text class="M g" transform="matrix(.0432 0 0 .0395 1173.6 925.3)">G</text>
<text class="M g" transform="matrix(.0432 0 0 .0572 1177.3 925.3)">G</text>
<text class="M t" transform="matrix(.055 0 0 -.0441 1184.9 925.3)">T</text>
<text class="M c" transform="matrix(.0465 0 0 -.0496 1192.4 925.3)">C</text>
<text class="M t" transform="matrix(.055 0 0 .0712 1203.7 925.3)">T</text>
<text class="M a" transform="matrix(.0504 0 0 .1341 1237.5 925.3)">A</text>
<text class="M g" transform="matrix(.0432 0 0 .0729 1241.2 925.3)">G</text>
<text class="M g" transform="matrix(.0432 0 0 .0629 1308.9 925.3)">G</text>
<text class="M t" transform="matrix(.055 0 0 -.0406 1320.2 925.3)">T</text>
<text class="M a" transform="matrix(.0504 0 0 .0759 1331.5 925.3)">A</text>
<text class="M t" transform="matrix(.055 0 0 -.0522 1387.8 925.3)">T</text>
<text class="M g" transform="matrix(.0432 0 0 -.0691 1410.4 925.3)">G</text>
<text class="M g" transform="matrix(.0432 0 0 -.0923 1414.2 925.3)">G</text>
<text class="M c" transform="matrix(.0465 0 0 -.1119 1417.9 925.3)">C</text>
<text class="M c" transform="matrix(.0465 0 0 -.072 1421.7 925.3)">C</text>
<text class="M g" transform="matrix(.0432 0 0 -.0812 1425.4 925.3)">G</text>
<text class="M t" transform="matrix(.055 0 0 -.0494 1429.2 925.3)">T</text>
<text class="M t" transform="matrix(.055 0 0 .045 1448 925.3)">T</text>
<text class="M g" transform="matrix(.0432 0 0 .0631 1451.8 925.3)">G</text>
<text class="M c" transform="matrix(.0465 0 0 .0542 1463 925.3)">C</text>
<text class="M c" transform="matrix(.0465 0 0 -.0473 1549.5 925.3)">C</text>
<text class="M g" transform="matrix(.0432 0 0 -.0405 1553.2 925.3)">G</text>
<text class="M a" transform="matrix(.0504 0 0 .0506 1572 925.3)">A</text>
<text class="M g" transform="matrix(.0432 0 0 .0369 1579.6 925.3)">G</text>
<text class="M c" transform="matrix(.0465 0 0 .0499 1583.3 925.3)">C</text>
<text class="M t" transform="matrix(.055 0 0 .0555 1587.1 925.3)">T</text>
<text class="M t" transform="matrix(.055 0 0 .0721 1590.8 925.3)">T</text>
<text class="M c" transform="matrix(.0465 0 0 .0486 1594.6 925.3)">C</text>
<text class="M g" transform="matrix(.0432 0 0 .0392 1598.4 925.3)">G</text>
<text class="M c" transform="matrix(.0465 0 0 .0578 1602.1 925.3)">C</text>
<text class="M t" transform="matrix(.055 0 0 .0629 1605.9 925.3)">T</text>
<text class="M g" transform="matrix(.0432 0 0 .068 1609.6 925.3)">G</text>
<text class="M g" transform="matrix(.0432 0 0 .076 1613.4 925.3)">G</text>
<text class="M g" transform="matrix(.0432 0 0 .0524 1617.1 925.3)">G</text>
<text class="M t" transform="matrix(.055 0 0 .0429 1620.9 925.3)">T</text>
<text class="M t" transform="matrix(.055 0 0 .0585 1628.4 925.3)">T</text>
<text class="M t" transform="matrix(.055 0 0 -.0529 1647.2 925.3)">T</text>
<text class="M g" transform="matrix(.0432 0 0 .0667 1669.8 925.3)">G</text>
<text class="M c" transform="matrix(.0465 0 0 .0708 1677.3 925.3)">C</text>
<text class="M a" transform="matrix(.0504 0 0 .0517 1681 925.3)">A</text>
<text class="M c" transform="matrix(.0465 0 0 .0656 1684.8 925.3)">C</text>
<text class="M g" transform="matrix(.0432 0 0 .0378 1688.6 925.3)">G</text>
<text class="M c" transform="matrix(.0465 0 0 .0453 1696.1 925.3)">C</text>
<text class="M a" transform="matrix(.0504 0 0 .0437 1699.8 925.3)">A</text>
<text class="M t" transform="matrix(.055 0 0 .0634 1703.6 925.3)">T</text>
<text class="M g" transform="matrix(.0432 0 0 .0722 1711.1 925.3)">G</text>
<text class="M t" transform="matrix(.055 0 0 .0658 1714.9 925.3)">T</text>
<text class="M t" transform="matrix(.055 0 0 .0557 1718.6 925.3)">T</text>
<text class="M g" transform="matrix(.0432 0 0 .0675 1722.4 925.3)">G</text>
<text class="M a" transform="matrix(.0504 0 0 .0401 1741.2 925.3)">A</text>
<text class="M g" transform="matrix(.0432 0 0 .0774 1745 925.3)">G</text>
<text class="M t" transform="matrix(.055 0 0 .044 1760 925.3)">T</text>
<text class="M g" transform="matrix(.0432 0 0 .0585 1763.7 925.3)">G</text>
<text class="M g" transform="matrix(.0432 0 0 .0622 1786.3 925.3)">G</text>
<text class="M t" transform="matrix(.055 0 0 -.0453 1801.3 925.3)">T</text>
<text class="M t" transform="matrix(.055 0 0 -.04 1831.4 925.3)">T</text>
<text class="M a" transform="matrix(.0504 0 0 .0776 1857.7 925.3)">A</text>
<text class="M t" transform="matrix(.055 0 0 -.0369 1869 925.3)">T</text>
<text class="M c" transform="matrix(.0465 0 0 .055 1880.3 925.3)">C</text>
<text class="M c" transform="matrix(.0465 0 0 .0516 1887.8 925.3)">C</text>
<text class="M g" transform="matrix(.0432 0 0 .0387 1921.6 925.3)">G</text>
<text class="M c" transform="matrix(.0465 0 0 -.0376 1929.1 925.3)">C</text>
<rect x="810" y="857.2" width="1138" height="99.8" fill="none" stroke="#333" stroke-width="1.4"/>
<text x="1379" y="849.6" text-anchor="middle" textLength="339.2" lengthAdjust="spacingAndGlyphs">chr3: 89451328–89452392</text>
<text x="1940.5" y="881.4" text-anchor="end" textLength="158.8" lengthAdjust="spacingAndGlyphs">[–0.02, 0.13]</text>
<text x="1254.1" y="953.5" font-style="italic" textLength="55.8" lengthAdjust="spacingAndGlyphs">EBF1</text>
<text x="1486.1" y="953.5" font-style="italic" textLength="62.4" lengthAdjust="spacingAndGlyphs">RFX3</text>
<rect x="772.5" y="999" width="23.1" height="99.8" fill="#8B267E" stroke="#333" stroke-width="1.1"/>
<rect x="1201.2" y="1002.6" width="49" height="73.1" fill="#e5e6e8"/>
<rect x="1305" y="1002.6" width="43.3" height="73.1" fill="#e5e6e8"/>
<rect x="1539.3" y="1002.6" width="57" height="73.1" fill="#e5e6e8"/>
<line x1="814" y1="1071.8" x2="1946" y2="1071.8" stroke="#c85050" stroke-width="0.6" opacity="0.6"/>
<path d="M896,1071.8h2.2v0.6h-2.2zM903.5,1070.7h2.2v1.1h-2.2zM948.6,1071.8h2.2v1.5h-2.2zM959.9,1069.9h2.2v1.9h-2.2zM975,1071.8h2.2v2.2h-2.2zM986.2,1071.8h2.2v1.2h-2.2zM1008.8,1071.8h2.2v1.1h-2.2zM1038.9,1069.4h2.2v2.4h-2.2zM1053.9,1071h2.2v0.8h-2.2zM1170.4,1070.8h2.2v1h-2.2zM1177.9,1071.8h2.2v1.5h-2.2zM1249.4,1071.8h2.2v2.2h-2.2zM1268.2,1070.9h2.2v0.9h-2.2zM1290.7,1070.9h2.2v0.9h-2.2zM1399.7,1071.8h2.2v1.2h-2.2zM1418.5,1071.8h2.2v1.9h-2.2zM1422.3,1071.1h2.2v0.7h-2.2zM1437.3,1071h2.2v0.8h-2.2zM1444.8,1071.8h2.2v0.6h-2.2zM1471.1,1071.8h2.2v0.6h-2.2zM1501.2,1071.8h2.2v1h-2.2zM1516.3,1071.2h2.2v0.6h-2.2zM1625.3,1071.1h2.2v0.7h-2.2zM1674.1,1071.8h2.2v0.7h-2.2zM1692.9,1069.7h2.2v2.1h-2.2zM1741.8,1071h2.2v0.8h-2.2zM1786.9,1071.8h2.2v0.7h-2.2zM1862.1,1071.8h2.2v0.6h-2.2zM1907.2,1071.8h2.2v1.4h-2.2zM1922.2,1071.8h2.2v1.5h-2.2zM1933.5,1070.7h2.2v1.1h-2.2z" fill="#178a44"/>
<path d="M1349.3,1069.8h2.2v2h-2.2zM865.9,1071.8h2.2v1.9h-2.2zM963.7,1071.8h2.2v0.7h-2.2zM1080.2,1069.6h2.2v2.2h-2.2zM1151.6,1069.5h2.2v2.3h-2.2zM1166.7,1071.8h2.2v0.8h-2.2zM1174.2,1070.1h2.2v1.7h-2.2zM1181.7,1069.5h2.2v2.3h-2.2zM1373.4,1070.6h2.2v1.2h-2.2zM1426,1071.8h2.2v2.1h-2.2zM1448.6,1071.8h2.2v1.3h-2.2zM1452.4,1071.8h2.2v1.1h-2.2zM1512.5,1070.9h2.2v0.9h-2.2zM1621.5,1070.8h2.2v1h-2.2zM1738,1071.8h2.2v0.6h-2.2zM1749.3,1071.8h2.2v0.5h-2.2zM1835.8,1071h2.2v0.8h-2.2zM1854.6,1071.8h2.2v2.4h-2.2zM1914.7,1071.8h2.2v2.3h-2.2zM1918.5,1071.8h2.2v1.3h-2.2zM1929.7,1071.8h2.2v0.5h-2.2zM1941,1070.3h2.2v1.5h-2.2z" fill="#3451a3"/>
<path d="M881,1071.8h2.2v0.9h-2.2zM993.8,1071.2h2.2v0.6h-2.2zM1012.5,1071.8h2.2v2.5h-2.2zM1020.1,1070.2h2.2v1.6h-2.2zM1061.4,1071.8h2.2v1.3h-2.2zM1110.3,1069.5h2.2v2.3h-2.2zM1155.4,1071.8h2.2v0.7h-2.2zM1185.5,1071.8h2.2v0.6h-2.2zM1362.1,1071.8h2.2v0.5h-2.2zM1369.7,1071.8h2.2v1.5h-2.2zM1433.6,1071.8h2.2v1.6h-2.2zM1456.1,1071.8h2.2v1.6h-2.2zM1467.4,1071.1h2.2v0.7h-2.2zM1493.7,1070.6h2.2v1.2h-2.2zM1591.4,1071.8h2.2v1.3h-2.2zM1602.7,1071.8h2.2v1.6h-2.2zM1610.2,1070.6h2.2v1.2h-2.2zM1617.7,1071.8h2.2v1.4h-2.2zM1779.4,1071.8h2.2v1.8h-2.2zM1783.1,1071.8h2.2v0.6h-2.2zM1790.7,1070.9h2.2v0.9h-2.2zM1794.4,1070.4h2.2v1.4h-2.2zM1798.2,1071.8h2.2v1.1h-2.2zM1801.9,1071.8h2.2v2h-2.2zM1888.4,1071.8h2.2v1.6h-2.2z" fill="#f6a31e"/>
<path d="M873.5,1071.8h2.2v1.8h-2.2zM877.2,1071.8h2.2v1.3h-2.2zM884.7,1071h2.2v0.8h-2.2zM892.3,1070.5h2.2v1.3h-2.2zM997.5,1071.8h2.2v1.6h-2.2zM1005,1071.1h2.2v0.7h-2.2zM1042.6,1070.5h2.2v1.3h-2.2zM1057.7,1071.8h2.2v0.9h-2.2zM1065.2,1070.1h2.2v1.7h-2.2zM1084,1071.8h2.2v1h-2.2zM1132.8,1071.8h2.2v1.8h-2.2zM1189.2,1071.8h2.2v2.2h-2.2zM1245.6,1071.8h2.2v0.8h-2.2zM1256.9,1070.3h2.2v1.5h-2.2zM1260.6,1069.9h2.2v1.9h-2.2zM1271.9,1071h2.2v0.8h-2.2zM1275.7,1071.8h2.2v1.6h-2.2zM1279.4,1071.1h2.2v0.7h-2.2zM1287,1069.8h2.2v2h-2.2zM1377.2,1071.8h2.2v1.6h-2.2zM1380.9,1071.8h2.2v1.8h-2.2zM1403.5,1071.8h2.2v0.6h-2.2zM1407.2,1071.8h2.2v1.5h-2.2zM1414.8,1071.8h2.2v1.1h-2.2zM1429.8,1071h2.2v0.8h-2.2zM1441.1,1071.8h2.2v1.2h-2.2zM1508.7,1071.8h2.2v1h-2.2zM1527.5,1071.8h2.2v0.7h-2.2zM1531.3,1069.9h2.2v1.9h-2.2zM1595.2,1069.7h2.2v2.1h-2.2zM1723,1071.8h2.2v1.1h-2.2zM1764.3,1070.5h2.2v1.3h-2.2zM1809.5,1071.8h2.2v0.6h-2.2zM1850.8,1071.8h2.2v0.6h-2.2zM1865.8,1071.8h2.2v1.5h-2.2z" fill="#e8202a"/>
<text class="L g" transform="matrix(.0432 0 0 .2762 818.1 1071.8)">G</text>
<text class="L g" transform="matrix(.0432 0 0 .3198 821.9 1071.8)">G</text>
<text class="L c" transform="matrix(.0465 0 0 .5814 825.6 1071.8)">C</text>
<text class="L c" transform="matrix(.0465 0 0 .3634 829.4 1071.8)">C</text>
<text class="L a" transform="matrix(.0465 0 0 .2326 833.2 1071.8)">A</text>
<text class="L a" transform="matrix(.0465 0 0 .2035 836.9 1071.8)">A</text>
<text class="M g" transform="matrix(.0432 0 0 .1163 840.7 1071.8)">G</text>
<text class="M c" transform="matrix(.0465 0 0 .0727 844.4 1071.8)">C</text>
<text class="M t" transform="matrix(.055 0 0 .0581 848.2 1071.8)">T</text>
<text class="M c" transform="matrix(.0465 0 0 .0872 852 1071.8)">C</text>
<text class="M g" transform="matrix(.0432 0 0 .1017 855.7 1071.8)">G</text>
<text class="M t" transform="matrix(.055 0 0 .0581 1196.3 1071.8)">T</text>
<text class="M g" transform="matrix(.0432 0 0 -.0727 1200.1 1071.8)">G</text>
<text class="M c" transform="matrix(.0465 0 0 .1163 1203.8 1071.8)">C</text>
<text class="L t" transform="matrix(.055 0 0 .4215 1207.6 1071.8)">T</text>
<text class="L t" transform="matrix(.055 0 0 .7558 1211.4 1071.8)">T</text>
<text class="L g" transform="matrix(.0432 0 0 .8721 1215.1 1071.8)">G</text>
<text class="L g" transform="matrix(.0432 0 0 .7849 1218.9 1071.8)">G</text>
<text class="L c" transform="matrix(.0465 0 0 .7558 1222.6 1071.8)">C</text>
<text class="L a" transform="matrix(.0465 0 0 .3634 1226.4 1071.8)">A</text>
<text class="M g" transform="matrix(.0432 0 0 .1599 1230.2 1071.8)">G</text>
<text class="M c" transform="matrix(.0465 0 0 .0727 1233.9 1071.8)">C</text>
<text class="M c" transform="matrix(.0465 0 0 .1163 1292.3 1071.8)">C</text>
<text class="M c" transform="matrix(.0465 0 0 .0872 1296.1 1071.8)">C</text>
<text class="M t" transform="matrix(.055 0 0 .0581 1299.8 1071.8)">T</text>
<text class="L t" transform="matrix(.055 0 0 .2471 1303.6 1071.8)">T</text>
<text class="M c" transform="matrix(.0465 0 0 .0436 1307.4 1071.8)">C</text>
<text class="L c" transform="matrix(.0465 0 0 .2326 1311.1 1071.8)">C</text>
<text class="L t" transform="matrix(.055 0 0 .6686 1314.9 1071.8)">T</text>
<text class="L t" transform="matrix(.055 0 0 .5087 1318.6 1071.8)">T</text>
<text class="L g" transform="matrix(.0432 0 0 .4215 1322.4 1071.8)">G</text>
<text class="L g" transform="matrix(.0432 0 0 .625 1326.2 1071.8)">G</text>
<text class="L c" transform="matrix(.0465 0 0 .8285 1329.9 1071.8)">C</text>
<text class="L a" transform="matrix(.0465 0 0 .3198 1333.7 1071.8)">A</text>
<text class="L g" transform="matrix(.0432 0 0 .189 1337.4 1071.8)">G</text>
<text class="M c" transform="matrix(.0465 0 0 .0727 1341.2 1071.8)">C</text>
<text class="M a" transform="matrix(.0504 0 0 .1163 1344.9 1071.8)">A</text>
<text class="M t" transform="matrix(.055 0 0 .1163 1352.5 1071.8)">T</text>
<text class="L c" transform="matrix(.0465 0 0 .2616 1356.2 1071.8)">C</text>
<text class="M t" transform="matrix(.055 0 0 .1453 1539.7 1071.8)">T</text>
<text class="L g" transform="matrix(.0432 0 0 .2907 1543.5 1071.8)">G</text>
<text class="L t" transform="matrix(.055 0 0 .4215 1547.2 1071.8)">T</text>
<text class="L g" transform="matrix(.0432 0 0 .2907 1551 1071.8)">G</text>
<text class="L c" transform="matrix(.0465 0 0 .4651 1554.8 1071.8)">C</text>
<text class="L c" transform="matrix(.0465 0 0 .4797 1558.5 1071.8)">C</text>
<text class="L t" transform="matrix(.055 0 0 .3634 1562.3 1071.8)">T</text>
<text class="M a" transform="matrix(.0504 0 0 .1163 1566 1071.8)">A</text>
<text class="L a" transform="matrix(.0465 0 0 .2035 1569.8 1071.8)">A</text>
<text class="L t" transform="matrix(.055 0 0 .3052 1573.6 1071.8)">T</text>
<text class="L t" transform="matrix(.055 0 0 .5814 1577.3 1071.8)">T</text>
<text class="M t" transform="matrix(.055 0 0 .0872 1581.1 1071.8)">T</text>
<text class="M c" transform="matrix(.0465 0 0 .0436 1584.8 1071.8)">C</text>
<text class="M a" transform="matrix(.0504 0 0 -.0549 812.7 1071.8)">A</text>
<text class="M a" transform="matrix(.0504 0 0 -.0428 869.1 1071.8)">A</text>
<text class="M a" transform="matrix(.0504 0 0 .0464 887.9 1071.8)">A</text>
<text class="M c" transform="matrix(.0465 0 0 -.0567 899.2 1071.8)">C</text>
<text class="M g" transform="matrix(.0432 0 0 .0376 910.5 1071.8)">G</text>
<text class="M a" transform="matrix(.0504 0 0 -.045 914.2 1071.8)">A</text>
<text class="M g" transform="matrix(.0432 0 0 .1293 918 1071.8)">G</text>
<text class="M g" transform="matrix(.0432 0 0 .1513 921.7 1071.8)">G</text>
<text class="M c" transform="matrix(.0465 0 0 .1184 925.5 1071.8)">C</text>
<text class="M a" transform="matrix(.0504 0 0 .0962 929.2 1071.8)">A</text>
<text class="M c" transform="matrix(.0465 0 0 .1176 933 1071.8)">C</text>
<text class="M t" transform="matrix(.055 0 0 .091 936.8 1071.8)">T</text>
<text class="M c" transform="matrix(.0465 0 0 .1514 940.5 1071.8)">C</text>
<text class="M g" transform="matrix(.0432 0 0 .0627 944.3 1071.8)">G</text>
<text class="M c" transform="matrix(.0465 0 0 -.1356 966.8 1071.8)">C</text>
<text class="M c" transform="matrix(.0465 0 0 -.092 970.6 1071.8)">C</text>
<text class="M a" transform="matrix(.0504 0 0 -.0571 989.4 1071.8)">A</text>
<text class="M c" transform="matrix(.0465 0 0 .1244 1023.2 1071.8)">C</text>
<text class="M t" transform="matrix(.055 0 0 .0619 1027 1071.8)">T</text>
<text class="M a" transform="matrix(.0504 0 0 .0921 1030.7 1071.8)">A</text>
<text class="M t" transform="matrix(.055 0 0 .1265 1034.5 1071.8)">T</text>
<text class="M c" transform="matrix(.0465 0 0 -.052 1045.8 1071.8)">C</text>
<text class="M g" transform="matrix(.0432 0 0 .0514 1049.5 1071.8)">G</text>
<text class="M c" transform="matrix(.0465 0 0 .0624 1072.1 1071.8)">C</text>
<text class="M a" transform="matrix(.0504 0 0 .1182 1090.9 1071.8)">A</text>
<text class="M a" transform="matrix(.0504 0 0 .1219 1094.6 1071.8)">A</text>
<text class="M g" transform="matrix(.0432 0 0 .1563 1098.4 1071.8)">G</text>
<text class="M a" transform="matrix(.0504 0 0 .1373 1102.2 1071.8)">A</text>
<text class="M a" transform="matrix(.0504 0 0 .1118 1105.9 1071.8)">A</text>
<text class="M t" transform="matrix(.055 0 0 .0707 1113.4 1071.8)">T</text>
<text class="M g" transform="matrix(.0432 0 0 -.0536 1117.2 1071.8)">G</text>
<text class="M t" transform="matrix(.055 0 0 .0407 1121 1071.8)">T</text>
<text class="M t" transform="matrix(.055 0 0 -.1203 1124.7 1071.8)">T</text>
<text class="M t" transform="matrix(.055 0 0 -.0736 1128.5 1071.8)">T</text>
<text class="M g" transform="matrix(.0432 0 0 -.0552 1139.8 1071.8)">G</text>
<text class="M t" transform="matrix(.055 0 0 .0636 1147.3 1071.8)">T</text>
<text class="M t" transform="matrix(.055 0 0 -.0407 1158.5 1071.8)">T</text>
<text class="M c" transform="matrix(.0465 0 0 .0856 1282.6 1071.8)">C</text>
<text class="M t" transform="matrix(.055 0 0 -.0416 1365.3 1071.8)">T</text>
<text class="M a" transform="matrix(.0504 0 0 .0393 1384.1 1071.8)">A</text>
<text class="M t" transform="matrix(.055 0 0 .051 1387.8 1071.8)">T</text>
<text class="M g" transform="matrix(.0432 0 0 -.0523 1391.6 1071.8)">G</text>
<text class="M t" transform="matrix(.055 0 0 .0796 1410.4 1071.8)">T</text>
<text class="M c" transform="matrix(.0465 0 0 -.0556 1463 1071.8)">C</text>
<text class="M a" transform="matrix(.0504 0 0 .0501 1474.3 1071.8)">A</text>
<text class="M a" transform="matrix(.0504 0 0 -.0396 1481.8 1071.8)">A</text>
<text class="M g" transform="matrix(.0432 0 0 -.0389 1489.3 1071.8)">G</text>
<text class="M t" transform="matrix(.055 0 0 -.0417 1496.9 1071.8)">T</text>
<text class="M c" transform="matrix(.0465 0 0 -.0536 1523.2 1071.8)">C</text>
<text class="M a" transform="matrix(.0504 0 0 .0451 1598.4 1071.8)">A</text>
<text class="M a" transform="matrix(.0504 0 0 .0828 1605.9 1071.8)">A</text>
<text class="M g" transform="matrix(.0432 0 0 .0632 1628.4 1071.8)">G</text>
<text class="M t" transform="matrix(.055 0 0 .0717 1632.2 1071.8)">T</text>
<text class="M a" transform="matrix(.0504 0 0 .0734 1635.9 1071.8)">A</text>
<text class="M t" transform="matrix(.055 0 0 .0662 1639.7 1071.8)">T</text>
<text class="M g" transform="matrix(.0432 0 0 .0443 1643.5 1071.8)">G</text>
<text class="M t" transform="matrix(.055 0 0 .1149 1647.2 1071.8)">T</text>
<text class="M a" transform="matrix(.0504 0 0 -.0995 1654.7 1071.8)">A</text>
<text class="M g" transform="matrix(.0432 0 0 -.1036 1658.5 1071.8)">G</text>
<text class="M a" transform="matrix(.0504 0 0 -.1676 1662.3 1071.8)">A</text>
<text class="M a" transform="matrix(.0504 0 0 .051 1669.8 1071.8)">A</text>
<text class="M c" transform="matrix(.0465 0 0 -.0472 1677.3 1071.8)">C</text>
<text class="M t" transform="matrix(.055 0 0 .0994 1699.8 1071.8)">T</text>
<text class="M g" transform="matrix(.0432 0 0 .081 1703.6 1071.8)">G</text>
<text class="M g" transform="matrix(.0432 0 0 .0997 1707.4 1071.8)">G</text>
<text class="M a" transform="matrix(.0504 0 0 .091 1711.1 1071.8)">A</text>
<text class="M g" transform="matrix(.0432 0 0 .0501 1714.9 1071.8)">G</text>
<text class="M c" transform="matrix(.0465 0 0 .0902 1718.6 1071.8)">C</text>
<text class="M a" transform="matrix(.0504 0 0 .0479 1726.2 1071.8)">A</text>
<text class="M t" transform="matrix(.055 0 0 .0489 1729.9 1071.8)">T</text>
<text class="M c" transform="matrix(.0465 0 0 .0491 1733.7 1071.8)">C</text>
<text class="M a" transform="matrix(.0504 0 0 .0513 1745 1071.8)">A</text>
<text class="M c" transform="matrix(.0465 0 0 -.0499 1752.5 1071.8)">C</text>
<text class="M g" transform="matrix(.0432 0 0 .0398 1756.2 1071.8)">G</text>
<text class="M g" transform="matrix(.0432 0 0 .0461 1760 1071.8)">G</text>
<text class="M c" transform="matrix(.0465 0 0 .0837 1771.3 1071.8)">C</text>
<text class="M c" transform="matrix(.0465 0 0 .043 1805.1 1071.8)">C</text>
<text class="M g" transform="matrix(.0432 0 0 .1461 1812.6 1071.8)">G</text>
<text class="M t" transform="matrix(.055 0 0 .1086 1816.4 1071.8)">T</text>
<text class="M a" transform="matrix(.0504 0 0 .1105 1820.1 1071.8)">A</text>
<text class="L t" transform="matrix(.055 0 0 .2263 1823.9 1071.8)">T</text>
<text class="M c" transform="matrix(.0465 0 0 -.0425 1831.4 1071.8)">C</text>
<text class="M a" transform="matrix(.0504 0 0 .057 1842.7 1071.8)">A</text>
<text class="M t" transform="matrix(.055 0 0 -.0644 1846.4 1071.8)">T</text>
<text class="M a" transform="matrix(.0504 0 0 -.0391 1857.7 1071.8)">A</text>
<text class="M c" transform="matrix(.0465 0 0 -.049 1869 1071.8)">C</text>
<text class="M a" transform="matrix(.0504 0 0 -.1021 1872.8 1071.8)">A</text>
<text class="M t" transform="matrix(.055 0 0 -.0717 1876.5 1071.8)">T</text>
<text class="L g" transform="matrix(.0432 0 0 -.1891 1880.3 1071.8)">G</text>
<text class="M a" transform="matrix(.0504 0 0 -.1655 1884 1071.8)">A</text>
<text class="L c" transform="matrix(.0465 0 0 -.1811 1895.3 1071.8)">C</text>
<text class="L c" transform="matrix(.0465 0 0 -.2009 1899.1 1071.8)">C</text>
<text class="M g" transform="matrix(.0432 0 0 -.0892 1902.8 1071.8)">G</text>
<text class="M a" transform="matrix(.0504 0 0 .0483 1910.3 1071.8)">A</text>
<text class="M g" transform="matrix(.0432 0 0 .0548 1936.7 1071.8)">G</text>
<rect x="810" y="999" width="1138" height="99.8" fill="none" stroke="#333" stroke-width="1.4"/>
<text x="1379" y="989.5" text-anchor="middle" textLength="341.4" lengthAdjust="spacingAndGlyphs">chr11: 31807310–31808605</text>
<text x="1940.5" y="1025.5" text-anchor="end" textLength="163" lengthAdjust="spacingAndGlyphs">[–0.05, 0.10]</text>
<text x="1199.6" y="1095" font-style="italic" textLength="57.3" lengthAdjust="spacingAndGlyphs">NFIB</text>
<text x="1298" y="1095" font-style="italic" textLength="56.4" lengthAdjust="spacingAndGlyphs">NFIB</text>
<text x="1532.3" y="1095" font-style="italic" textLength="71.6" lengthAdjust="spacingAndGlyphs">RORA</text>
<rect x="772.5" y="1138.2" width="23.1" height="99.8" fill="#F05A62" stroke="#333" stroke-width="1.1"/>
<rect x="1155.8" y="1142.1" width="40.2" height="72.9" fill="#e5e6e8"/>
<rect x="1319.3" y="1142.1" width="42.7" height="72.9" fill="#e5e6e8"/>
<rect x="1477.5" y="1142.1" width="74.6" height="72.9" fill="#e5e6e8"/>
<line x1="814" y1="1200.6" x2="1946" y2="1200.6" stroke="#c85050" stroke-width="0.6" opacity="0.6"/>
<path d="M1502.8,1198.6h2.2v2h-2.2zM911.1,1200.6h2.2v1h-2.2zM914.8,1200.6h2.2v2.1h-2.2zM918.6,1199.6h2.2v1h-2.2zM978.7,1198.7h2.2v1.9h-2.2zM1151.6,1200.6h2.2v0.5h-2.2zM1245.6,1200.6h2.2v0.7h-2.2zM1287,1200.6h2.2v1.3h-2.2zM1358.4,1199.7h2.2v0.9h-2.2zM1373.4,1199.6h2.2v1h-2.2zM1377.2,1200.6h2.2v0.9h-2.2zM1474.9,1200.6h2.2v2.4h-2.2zM1689.2,1198.7h2.2v1.9h-2.2zM1723,1200.6h2.2v0.9h-2.2zM1771.9,1200.6h2.2v2.1h-2.2zM1832,1199.9h2.2v0.7h-2.2zM1847,1200.6h2.2v0.5h-2.2zM1862.1,1200.6h2.2v2h-2.2zM1884.6,1198.5h2.2v2.1h-2.2zM1914.7,1200.6h2.2v2h-2.2z" fill="#178a44"/>
<path d="M817.1,1200.6h2.2v1.5h-2.2zM824.6,1198.5h2.2v2.1h-2.2zM832.1,1200.1h2.2v0.5h-2.2zM835.9,1198.7h2.2v1.9h-2.2zM839.6,1200.6h2.2v0.8h-2.2zM858.4,1199h2.2v1.6h-2.2zM881,1198.3h2.2v2.3h-2.2zM892.3,1200.6h2.2v1.4h-2.2zM933.6,1200.6h2.2v0.9h-2.2zM941.1,1200.6h2.2v0.6h-2.2zM952.4,1200.6h2.2v0.8h-2.2zM959.9,1200.6h2.2v1.9h-2.2zM1035.1,1198.9h2.2v1.7h-2.2zM1053.9,1199.6h2.2v1h-2.2zM1087.7,1200.6h2.2v1.1h-2.2zM1099,1200.6h2.2v1.8h-2.2zM1106.5,1200.6h2.2v1.6h-2.2zM1129.1,1200.6h2.2v1h-2.2zM1155.4,1199.2h2.2v1.4h-2.2zM1223.1,1198.8h2.2v1.8h-2.2zM1249.4,1200.6h2.2v0.7h-2.2zM1313.3,1200.6h2.2v0.6h-2.2zM1369.7,1199.4h2.2v1.2h-2.2zM1399.7,1199h2.2v1.6h-2.2zM1418.5,1200.6h2.2v0.7h-2.2zM1561.4,1199.3h2.2v1.3h-2.2zM1565.1,1200.6h2.2v2.5h-2.2zM1572.6,1198.5h2.2v2.1h-2.2zM1692.9,1200.6h2.2v2h-2.2zM1719.2,1200.6h2.2v1h-2.2zM1753.1,1200.6h2.2v2.4h-2.2zM1786.9,1198.2h2.2v2.4h-2.2zM1794.4,1200.6h2.2v1h-2.2zM1801.9,1199.5h2.2v1.1h-2.2zM1805.7,1199.9h2.2v0.7h-2.2zM1903.4,1199.4h2.2v1.2h-2.2zM1907.2,1200.6h2.2v1.6h-2.2zM1933.5,1200.6h2.2v1h-2.2z" fill="#3451a3"/>
<path d="M862.2,1198.7h2.2v1.9h-2.2zM865.9,1200.6h2.2v1.5h-2.2zM896,1199.5h2.2v1.1h-2.2zM926.1,1198.4h2.2v2.2h-2.2zM929.8,1200.6h2.2v0.9h-2.2zM944.9,1200.6h2.2v0.6h-2.2zM975,1200.6h2.2v2h-2.2zM986.2,1200.6h2.2v1.1h-2.2zM1005,1200.6h2.2v1.7h-2.2zM1012.5,1200.6h2.2v1.2h-2.2zM1016.3,1200.6h2.2v1.3h-2.2zM1046.4,1198.3h2.2v2.3h-2.2zM1057.7,1200.6h2.2v1.3h-2.2zM1061.4,1200.6h2.2v0.5h-2.2zM1095.2,1198.4h2.2v2.2h-2.2zM1117.8,1200.6h2.2v0.7h-2.2zM1196.7,1200.6h2.2v0.9h-2.2zM1204.3,1200.6h2.2v0.5h-2.2zM1305.7,1200.6h2.2v1.2h-2.2zM1309.5,1200.6h2.2v1.2h-2.2zM1365.9,1200.6h2.2v0.9h-2.2zM1384.7,1200.6h2.2v1.7h-2.2zM1444.8,1200.6h2.2v0.8h-2.2zM1471.1,1199.4h2.2v1.2h-2.2zM1546.3,1200.6h2.2v1.2h-2.2zM1576.4,1200.6h2.2v2h-2.2zM1599,1199.9h2.2v0.7h-2.2zM1632.8,1200.6h2.2v2.5h-2.2zM1647.8,1199.1h2.2v1.5h-2.2zM1670.4,1199.2h2.2v1.4h-2.2zM1696.7,1198.8h2.2v1.8h-2.2zM1711.7,1200.6h2.2v0.6h-2.2zM1738,1199.7h2.2v0.9h-2.2zM1760.6,1198.9h2.2v1.7h-2.2zM1790.7,1199.7h2.2v0.9h-2.2zM1798.2,1198.8h2.2v1.8h-2.2zM1824.5,1200h2.2v0.6h-2.2zM1880.9,1199.5h2.2v1.1h-2.2zM1888.4,1200.6h2.2v0.9h-2.2zM1892.2,1200.6h2.2v0.8h-2.2zM1899.7,1198.7h2.2v1.9h-2.2zM1910.9,1199.9h2.2v0.7h-2.2zM1929.7,1200.6h2.2v0.8h-2.2z" fill="#f6a31e"/>
<path d="M828.4,1200.6h2.2v1.8h-2.2zM843.4,1198.8h2.2v1.8h-2.2zM847.2,1199.6h2.2v1h-2.2zM903.5,1199.4h2.2v1.2h-2.2zM967.4,1200.6h2.2v1.4h-2.2zM982.5,1199.7h2.2v0.9h-2.2zM1023.8,1200.6h2.2v1.7h-2.2zM1076.5,1200.6h2.2v2.1h-2.2zM1121.6,1200.6h2.2v1h-2.2zM1125.3,1200.6h2.2v0.7h-2.2zM1211.8,1200.6h2.2v1.4h-2.2zM1219.3,1200.6h2.2v1.5h-2.2zM1283.2,1199.4h2.2v1.2h-2.2zM1354.6,1200.6h2.2v1.4h-2.2zM1407.2,1198.9h2.2v1.7h-2.2zM1422.3,1199.6h2.2v1h-2.2zM1452.4,1200.6h2.2v1.4h-2.2zM1467.4,1199.8h2.2v0.8h-2.2zM1478.7,1199.2h2.2v1.4h-2.2zM1568.9,1200.6h2.2v0.8h-2.2zM1583.9,1200.6h2.2v1h-2.2zM1595.2,1198.6h2.2v2h-2.2zM1636.5,1200.6h2.2v2.3h-2.2zM1685.4,1200.6h2.2v0.5h-2.2zM1704.2,1200.6h2.2v1.1h-2.2zM1734.3,1198.5h2.2v2.1h-2.2zM1749.3,1200.6h2.2v0.6h-2.2zM1756.8,1198.2h2.2v2.4h-2.2zM1779.4,1198.2h2.2v2.4h-2.2zM1820.7,1198.4h2.2v2.2h-2.2zM1850.8,1200.6h2.2v1.1h-2.2zM1854.6,1200.6h2.2v0.9h-2.2zM1895.9,1200.6h2.2v1.7h-2.2zM1918.5,1200.6h2.2v1.9h-2.2zM1926,1200.6h2.2v1.8h-2.2z" fill="#e8202a"/>
<text class="M g" transform="matrix(.0432 0 0 .0872 1157.7 1200.6)">G</text>
<text class="L t" transform="matrix(.055 0 0 .5233 1161.5 1200.6)">T</text>
<text class="L g" transform="matrix(.0432 0 0 .5959 1165.2 1200.6)">G</text>
<text class="L a" transform="matrix(.0465 0 0 .5814 1169 1200.6)">A</text>
<text class="L c" transform="matrix(.0465 0 0 .2616 1172.8 1200.6)">C</text>
<text class="L t" transform="matrix(.055 0 0 .4797 1176.5 1200.6)">T</text>
<text class="L c" transform="matrix(.0465 0 0 .218 1180.3 1200.6)">C</text>
<text class="L a" transform="matrix(.0465 0 0 .5233 1184 1200.6)">A</text>
<text class="M c" transform="matrix(.0465 0 0 .1308 1187.8 1200.6)">C</text>
<text class="M c" transform="matrix(.0465 0 0 .0727 1191.6 1200.6)">C</text>
<text class="M c" transform="matrix(.0465 0 0 .0872 1317.6 1200.6)">C</text>
<text class="L g" transform="matrix(.0432 0 0 .218 1321.4 1200.6)">G</text>
<text class="L c" transform="matrix(.0465 0 0 .2471 1325.1 1200.6)">C</text>
<text class="L t" transform="matrix(.055 0 0 .2035 1328.9 1200.6)">T</text>
<text class="L g" transform="matrix(.0432 0 0 .407 1332.7 1200.6)">G</text>
<text class="L c" transform="matrix(.0465 0 0 .3343 1336.4 1200.6)">C</text>
<text class="L c" transform="matrix(.0465 0 0 .3488 1340.2 1200.6)">C</text>
<text class="L a" transform="matrix(.0465 0 0 .2471 1343.9 1200.6)">A</text>
<text class="M g" transform="matrix(.0432 0 0 .1017 1347.7 1200.6)">G</text>
<text class="M g" transform="matrix(.0432 0 0 .0581 1351.5 1200.6)">G</text>
<text class="M t" transform="matrix(.055 0 0 .1017 1483.4 1200.6)">T</text>
<text class="L g" transform="matrix(.0432 0 0 .5959 1487.2 1200.6)">G</text>
<text class="L g" transform="matrix(.0432 0 0 .436 1490.9 1200.6)">G</text>
<text class="L g" transform="matrix(.0432 0 0 -.1744 1494.7 1200.6)">G</text>
<text class="M c" transform="matrix(.0465 0 0 .0436 1498.5 1200.6)">C</text>
<text class="M a" transform="matrix(.0504 0 0 .0436 1506 1200.6)">A</text>
<text class="M c" transform="matrix(.0465 0 0 .1308 1509.7 1200.6)">C</text>
<text class="M a" transform="matrix(.0504 0 0 .0872 1513.5 1200.6)">A</text>
<text class="L g" transform="matrix(.0432 0 0 .5233 1517.3 1200.6)">G</text>
<text class="L c" transform="matrix(.0465 0 0 .6686 1521 1200.6)">C</text>
<text class="L c" transform="matrix(.0465 0 0 .7849 1524.8 1200.6)">C</text>
<text class="L a" transform="matrix(.0465 0 0 .625 1528.5 1200.6)">A</text>
<text class="L a" transform="matrix(.0465 0 0 .436 1532.3 1200.6)">A</text>
<text class="M a" transform="matrix(.0504 0 0 .0872 1536 1200.6)">A</text>
<text class="M g" transform="matrix(.0432 0 0 .041 820.2 1200.6)">G</text>
<text class="M c" transform="matrix(.0465 0 0 -.0427 869.1 1200.6)">C</text>
<text class="M g" transform="matrix(.0432 0 0 .0414 876.6 1200.6)">G</text>
<text class="M a" transform="matrix(.0504 0 0 -.0443 884.1 1200.6)">A</text>
<text class="M t" transform="matrix(.055 0 0 -.0431 899.2 1200.6)">T</text>
<text class="M a" transform="matrix(.0504 0 0 .0604 921.7 1200.6)">A</text>
<text class="M a" transform="matrix(.0504 0 0 .0669 936.8 1200.6)">A</text>
<text class="M t" transform="matrix(.055 0 0 -.045 948 1200.6)">T</text>
<text class="M a" transform="matrix(.0504 0 0 .0498 955.6 1200.6)">A</text>
<text class="M g" transform="matrix(.0432 0 0 -.0571 963.1 1200.6)">G</text>
<text class="M a" transform="matrix(.0504 0 0 .0421 989.4 1200.6)">A</text>
<text class="M g" transform="matrix(.0432 0 0 .1113 993.2 1200.6)">G</text>
<text class="M c" transform="matrix(.0465 0 0 .1071 996.9 1200.6)">C</text>
<text class="M t" transform="matrix(.055 0 0 .0458 1000.7 1200.6)">T</text>
<text class="M g" transform="matrix(.0432 0 0 .0483 1027 1200.6)">G</text>
<text class="M t" transform="matrix(.055 0 0 -.05 1030.7 1200.6)">T</text>
<text class="M c" transform="matrix(.0465 0 0 .0465 1038.3 1200.6)">C</text>
<text class="M c" transform="matrix(.0465 0 0 .0455 1049.5 1200.6)">C</text>
<text class="M c" transform="matrix(.0465 0 0 .0473 1072.1 1200.6)">C</text>
<text class="M c" transform="matrix(.0465 0 0 -.0384 1079.6 1200.6)">C</text>
<text class="M t" transform="matrix(.055 0 0 .0737 1083.4 1200.6)">T</text>
<text class="M c" transform="matrix(.0465 0 0 -.0421 1090.9 1200.6)">C</text>
<text class="M t" transform="matrix(.055 0 0 .078 1109.7 1200.6)">T</text>
<text class="M t" transform="matrix(.055 0 0 -.0482 1113.4 1200.6)">T</text>
<text class="M a" transform="matrix(.0504 0 0 .0901 1132.2 1200.6)">A</text>
<text class="M t" transform="matrix(.055 0 0 .0694 1136 1200.6)">T</text>
<text class="M t" transform="matrix(.055 0 0 .1429 1139.8 1200.6)">T</text>
<text class="M g" transform="matrix(.0432 0 0 .0738 1143.5 1200.6)">G</text>
<text class="M t" transform="matrix(.055 0 0 .0745 1207.4 1200.6)">T</text>
<text class="M g" transform="matrix(.0432 0 0 .0564 1230 1200.6)">G</text>
<text class="M g" transform="matrix(.0432 0 0 .0412 1233.7 1200.6)">G</text>
<text class="M g" transform="matrix(.0432 0 0 .0544 1237.5 1200.6)">G</text>
<text class="M t" transform="matrix(.055 0 0 -.0579 1241.2 1200.6)">T</text>
<text class="M t" transform="matrix(.055 0 0 .0965 1256.3 1200.6)">T</text>
<text class="M t" transform="matrix(.055 0 0 .0748 1260 1200.6)">T</text>
<text class="L a" transform="matrix(.0465 0 0 .1994 1263.8 1200.6)">A</text>
<text class="M a" transform="matrix(.0504 0 0 .129 1267.6 1200.6)">A</text>
<text class="M c" transform="matrix(.0465 0 0 .1674 1271.3 1200.6)">C</text>
<text class="M c" transform="matrix(.0465 0 0 .0953 1275.1 1200.6)">C</text>
<text class="L g" transform="matrix(.0432 0 0 .1755 1278.8 1200.6)">G</text>
<text class="M c" transform="matrix(.0465 0 0 .1687 1293.9 1200.6)">C</text>
<text class="M a" transform="matrix(.0504 0 0 .101 1297.6 1200.6)">A</text>
<text class="M c" transform="matrix(.0465 0 0 .1345 1301.4 1200.6)">C</text>
<text class="M c" transform="matrix(.0465 0 0 .0452 1361.5 1200.6)">C</text>
<text class="M t" transform="matrix(.055 0 0 -.0389 1380.3 1200.6)">T</text>
<text class="M t" transform="matrix(.055 0 0 .0812 1387.8 1200.6)">T</text>
<text class="L c" transform="matrix(.0465 0 0 .2317 1391.6 1200.6)">C</text>
<text class="M c" transform="matrix(.0465 0 0 .1556 1395.4 1200.6)">C</text>
<text class="M t" transform="matrix(.055 0 0 .0421 1402.9 1200.6)">T</text>
<text class="M g" transform="matrix(.0432 0 0 .1041 1425.4 1200.6)">G</text>
<text class="M c" transform="matrix(.0465 0 0 .1456 1429.2 1200.6)">C</text>
<text class="L g" transform="matrix(.0432 0 0 .2337 1433 1200.6)">G</text>
<text class="M g" transform="matrix(.0432 0 0 -.0398 1436.7 1200.6)">G</text>
<text class="M t" transform="matrix(.055 0 0 -.0432 1440.5 1200.6)">T</text>
<text class="M c" transform="matrix(.0465 0 0 .0774 1448 1200.6)">C</text>
<text class="M a" transform="matrix(.0504 0 0 .073 1455.5 1200.6)">A</text>
<text class="M g" transform="matrix(.0432 0 0 .144 1459.3 1200.6)">G</text>
<text class="M t" transform="matrix(.055 0 0 .1055 1463 1200.6)">T</text>
<text class="M g" transform="matrix(.0432 0 0 .0423 1590.8 1200.6)">G</text>
<text class="M t" transform="matrix(.055 0 0 -.0591 1605.9 1200.6)">T</text>
<text class="M c" transform="matrix(.0465 0 0 .1137 1609.6 1200.6)">C</text>
<text class="M t" transform="matrix(.055 0 0 .1115 1613.4 1200.6)">T</text>
<text class="M a" transform="matrix(.0504 0 0 .0614 1617.1 1200.6)">A</text>
<text class="M t" transform="matrix(.055 0 0 .0467 1620.9 1200.6)">T</text>
<text class="M t" transform="matrix(.055 0 0 .0889 1624.7 1200.6)">T</text>
<text class="M t" transform="matrix(.055 0 0 .0536 1628.4 1200.6)">T</text>
<text class="M g" transform="matrix(.0432 0 0 .0364 1643.5 1200.6)">G</text>
<text class="M g" transform="matrix(.0432 0 0 -.1042 1654.7 1200.6)">G</text>
<text class="M a" transform="matrix(.0504 0 0 -.0894 1658.5 1200.6)">A</text>
<text class="M a" transform="matrix(.0504 0 0 -.1117 1662.3 1200.6)">A</text>
<text class="M c" transform="matrix(.0465 0 0 .0775 1666 1200.6)">C</text>
<text class="M t" transform="matrix(.055 0 0 -.042 1681 1200.6)">T</text>
<text class="M t" transform="matrix(.055 0 0 -.0482 1714.9 1200.6)">T</text>
<text class="M a" transform="matrix(.0504 0 0 -.0512 1726.2 1200.6)">A</text>
<text class="M c" transform="matrix(.0465 0 0 .0394 1763.7 1200.6)">C</text>
<text class="M g" transform="matrix(.0432 0 0 .0785 1775 1200.6)">G</text>
<text class="M a" transform="matrix(.0504 0 0 .0446 1782.5 1200.6)">A</text>
<text class="M a" transform="matrix(.0504 0 0 .0556 1808.9 1200.6)">A</text>
<text class="M g" transform="matrix(.0432 0 0 .0456 1812.6 1200.6)">G</text>
<text class="M a" transform="matrix(.0504 0 0 -.0538 1816.4 1200.6)">A</text>
<text class="M c" transform="matrix(.0465 0 0 .0849 1827.7 1200.6)">C</text>
<text class="M a" transform="matrix(.0504 0 0 -.0421 1835.2 1200.6)">A</text>
<text class="M c" transform="matrix(.0465 0 0 .0586 1842.7 1200.6)">C</text>
<text class="M c" transform="matrix(.0465 0 0 -.0545 1857.7 1200.6)">C</text>
<text class="M a" transform="matrix(.0504 0 0 .0534 1865.2 1200.6)">A</text>
<text class="M g" transform="matrix(.0432 0 0 .0738 1869 1200.6)">G</text>
<text class="M c" transform="matrix(.0465 0 0 -.0542 1876.5 1200.6)">C</text>
<text class="M g" transform="matrix(.0432 0 0 .042 1921.6 1200.6)">G</text>
<text class="M c" transform="matrix(.0465 0 0 .0629 1936.7 1200.6)">C</text>
<rect x="810" y="1138.2" width="1138" height="99.8" fill="none" stroke="#333" stroke-width="1.4"/>
<text x="1379" y="1131.5" text-anchor="middle" textLength="340.2" lengthAdjust="spacingAndGlyphs">chr6: 55097749–55099123</text>
<text x="1940.5" y="1163.5" text-anchor="end" textLength="159" lengthAdjust="spacingAndGlyphs">[–0.05, 0.15]</text>
<text x="1144.2" y="1231.1" font-style="italic" textLength="63" lengthAdjust="spacingAndGlyphs">ATF3</text>
<text x="1310.2" y="1231.1" font-style="italic" textLength="56.4" lengthAdjust="spacingAndGlyphs">NFIX</text>
<text x="1485" y="1231.1" font-style="italic" textLength="58" lengthAdjust="spacingAndGlyphs">NFIA</text>
<rect x="772.5" y="1277.2" width="23.1" height="99.8" fill="#FFCC00" stroke="#333" stroke-width="1.1"/>
<rect x="1253.9" y="1282" width="75.2" height="67" fill="#e5e6e8"/>
<rect x="1427.2" y="1282" width="54.2" height="67" fill="#e5e6e8"/>
<line x1="814" y1="1346.6" x2="1946" y2="1346.6" stroke="#c85050" stroke-width="0.6" opacity="0.6"/>
<path d="M1286.7,1344.6h2.2v2h-2.2zM1427.6,1344.6h2.2v2h-2.2zM820.8,1346.6h2.2v1.7h-2.2zM832.1,1346.6h2.2v1.1h-2.2zM835.9,1346.6h2.2v0.8h-2.2zM843.4,1346.6h2.2v0.5h-2.2zM847.2,1346.6h2.2v1.5h-2.2zM907.3,1346.6h2.2v0.9h-2.2zM926.1,1345.9h2.2v0.7h-2.2zM929.8,1346.6h2.2v0.8h-2.2zM952.4,1345.9h2.2v0.7h-2.2zM967.4,1346h2.2v0.6h-2.2zM990,1346.6h2.2v1.5h-2.2zM1001.3,1346.6h2.2v1.1h-2.2zM1005,1345.1h2.2v1.5h-2.2zM1042.6,1344.4h2.2v2.2h-2.2zM1057.7,1346.6h2.2v1.3h-2.2zM1076.5,1345.7h2.2v0.9h-2.2zM1087.7,1345.8h2.2v0.8h-2.2zM1091.5,1345.3h2.2v1.3h-2.2zM1099,1346.6h2.2v1.6h-2.2zM1125.3,1346.6h2.2v0.8h-2.2zM1196.7,1346.6h2.2v1.2h-2.2zM1230.6,1344.8h2.2v1.8h-2.2zM1332.1,1345.7h2.2v0.9h-2.2zM1350.9,1345.7h2.2v0.9h-2.2zM1373.4,1346h2.2v0.6h-2.2zM1384.7,1346.6h2.2v0.6h-2.2zM1411,1346.6h2.2v1.4h-2.2zM1414.8,1346.6h2.2v1.6h-2.2zM1482.4,1346.6h2.2v2.4h-2.2zM1553.8,1346.6h2.2v2.4h-2.2zM1587.7,1346.6h2.2v0.9h-2.2zM1692.9,1346.6h2.2v0.9h-2.2zM1708,1345h2.2v1.6h-2.2zM1711.7,1345h2.2v1.6h-2.2zM1738,1345.7h2.2v0.9h-2.2zM1741.8,1345.5h2.2v1.1h-2.2zM1809.5,1346.6h2.2v2.5h-2.2zM1817,1346.6h2.2v2.2h-2.2zM1877.1,1346.6h2.2v1.6h-2.2zM1910.9,1346.6h2.2v1.5h-2.2zM1929.7,1346.6h2.2v1.9h-2.2zM1933.5,1346.6h2.2v1.5h-2.2z" fill="#178a44"/>
<path d="M1431.4,1344.6h2.2v2h-2.2zM888.5,1346.6h2.2v2.4h-2.2zM896,1345.3h2.2v1.3h-2.2zM903.5,1346.6h2.2v0.8h-2.2zM941.1,1346.6h2.2v0.9h-2.2zM1053.9,1346.6h2.2v1.1h-2.2zM1102.8,1346.6h2.2v0.6h-2.2zM1117.8,1345.4h2.2v1.2h-2.2zM1129.1,1346.6h2.2v1.3h-2.2zM1151.6,1345h2.2v1.6h-2.2zM1166.7,1346.6h2.2v0.9h-2.2zM1193,1346.6h2.2v2.2h-2.2zM1200.5,1346.1h2.2v0.5h-2.2zM1204.3,1344.3h2.2v2.3h-2.2zM1253.1,1346.6h2.2v0.7h-2.2zM1358.4,1346.6h2.2v1.4h-2.2zM1369.7,1346.6h2.2v1h-2.2zM1407.2,1346.6h2.2v0.7h-2.2zM1474.9,1345.9h2.2v0.7h-2.2zM1493.7,1346.6h2.2v1.4h-2.2zM1505,1344.3h2.2v2.3h-2.2zM1565.1,1345.1h2.2v1.5h-2.2zM1595.2,1346.6h2.2v1.8h-2.2zM1610.2,1346.6h2.2v1.6h-2.2zM1617.7,1346.6h2.2v1.6h-2.2zM1700.4,1345.6h2.2v1h-2.2zM1768.1,1345.2h2.2v1.4h-2.2zM1775.6,1346.6h2.2v0.9h-2.2zM1801.9,1346.6h2.2v2.3h-2.2zM1805.7,1346.6h2.2v0.7h-2.2zM1843.3,1344.2h2.2v2.4h-2.2zM1858.3,1345.6h2.2v1h-2.2zM1862.1,1345.2h2.2v1.4h-2.2zM1865.8,1344.4h2.2v2.2h-2.2zM1873.4,1344.9h2.2v1.7h-2.2zM1884.6,1345.7h2.2v0.9h-2.2zM1914.7,1344.5h2.2v2.1h-2.2z" fill="#3451a3"/>
<path d="M1290.5,1344.6h2.2v2h-2.2zM813.3,1345.9h2.2v0.7h-2.2zM839.6,1346.6h2.2v1.7h-2.2zM881,1346.6h2.2v2.5h-2.2zM899.8,1346.6h2.2v1.1h-2.2zM918.6,1346.6h2.2v1.2h-2.2zM948.6,1346.6h2.2v0.7h-2.2zM963.7,1345.8h2.2v0.8h-2.2zM975,1346.6h2.2v1.8h-2.2zM1008.8,1346.6h2.2v1.9h-2.2zM1020.1,1345h2.2v1.6h-2.2zM1035.1,1346.6h2.2v1.1h-2.2zM1038.9,1346.6h2.2v1.8h-2.2zM1050.1,1345.9h2.2v0.7h-2.2zM1084,1346.6h2.2v1.4h-2.2zM1106.5,1344.4h2.2v2.2h-2.2zM1170.4,1346.6h2.2v2.2h-2.2zM1181.7,1346.1h2.2v0.5h-2.2zM1189.2,1345.9h2.2v0.7h-2.2zM1362.1,1346.6h2.2v0.8h-2.2zM1388.4,1344.2h2.2v2.4h-2.2zM1535,1345.7h2.2v0.9h-2.2zM1542.6,1344.8h2.2v1.8h-2.2zM1557.6,1344.9h2.2v1.7h-2.2zM1583.9,1345.4h2.2v1.2h-2.2zM1591.4,1345.1h2.2v1.5h-2.2zM1621.5,1345.6h2.2v1h-2.2zM1715.5,1346.6h2.2v1h-2.2zM1719.2,1346.6h2.2v1.3h-2.2zM1723,1346.6h2.2v2.3h-2.2zM1734.3,1344.8h2.2v1.8h-2.2zM1756.8,1345.4h2.2v1.2h-2.2zM1783.1,1345.9h2.2v0.7h-2.2zM1813.2,1346.6h2.2v1.7h-2.2zM1824.5,1345.8h2.2v0.8h-2.2zM1828.3,1345.8h2.2v0.8h-2.2zM1895.9,1346.6h2.2v0.6h-2.2zM1899.7,1346.6h2.2v1h-2.2zM1918.5,1346.6h2.2v1.7h-2.2zM1937.3,1346.6h2.2v0.6h-2.2z" fill="#f6a31e"/>
<path d="M817.1,1346.6h2.2v0.6h-2.2zM850.9,1346.6h2.2v1.6h-2.2zM862.2,1345.9h2.2v0.7h-2.2zM869.7,1346.6h2.2v2.3h-2.2zM892.3,1345.8h2.2v0.8h-2.2zM911.1,1346.6h2.2v1.1h-2.2zM1012.5,1345.3h2.2v1.3h-2.2zM1023.8,1345.9h2.2v0.7h-2.2zM1046.4,1346.6h2.2v1h-2.2zM1061.4,1345.4h2.2v1.2h-2.2zM1095.2,1346.6h2.2v0.8h-2.2zM1132.8,1346.6h2.2v1.3h-2.2zM1238.1,1346.6h2.2v1.6h-2.2zM1328.3,1346.6h2.2v2h-2.2zM1489.9,1345h2.2v1.6h-2.2zM1497.5,1345.1h2.2v1.5h-2.2zM1501.2,1346.6h2.2v1.2h-2.2zM1576.4,1346h2.2v0.6h-2.2zM1580.2,1344.8h2.2v1.8h-2.2zM1632.8,1346.6h2.2v2.2h-2.2zM1659.1,1346.6h2.2v1.9h-2.2zM1726.8,1345.1h2.2v1.5h-2.2zM1745.6,1346h2.2v0.6h-2.2zM1749.3,1345.5h2.2v1.1h-2.2zM1771.9,1346.6h2.2v1.2h-2.2zM1794.4,1346.1h2.2v0.5h-2.2zM1820.7,1344.2h2.2v2.4h-2.2z" fill="#e8202a"/>
<text class="M g" transform="matrix(.0432 0 0 .1017 1256 1346.6)">G</text>
<text class="M c" transform="matrix(.0465 0 0 .1017 1259.8 1346.6)">C</text>
<text class="L a" transform="matrix(.0465 0 0 .4797 1263.5 1346.6)">A</text>
<text class="L c" transform="matrix(.0465 0 0 .2616 1267.3 1346.6)">C</text>
<text class="L a" transform="matrix(.0465 0 0 .843 1271.1 1346.6)">A</text>
<text class="M c" transform="matrix(.0465 0 0 .0436 1274.8 1346.6)">C</text>
<text class="M a" transform="matrix(.0504 0 0 .0436 1278.6 1346.6)">A</text>
<text class="L g" transform="matrix(.0432 0 0 .1744 1282.3 1346.6)">G</text>
<text class="M c" transform="matrix(.0465 0 0 .0436 1293.6 1346.6)">C</text>
<text class="M c" transform="matrix(.0465 0 0 .1308 1297.4 1346.6)">C</text>
<text class="L c" transform="matrix(.0465 0 0 .2035 1301.1 1346.6)">C</text>
<text class="M a" transform="matrix(.0504 0 0 .1163 1304.9 1346.6)">A</text>
<text class="L t" transform="matrix(.055 0 0 .4797 1308.6 1346.6)">T</text>
<text class="L t" transform="matrix(.055 0 0 .6395 1312.4 1346.6)">T</text>
<text class="L g" transform="matrix(.0432 0 0 .625 1316.2 1346.6)">G</text>
<text class="L t" transform="matrix(.055 0 0 .6395 1319.9 1346.6)">T</text>
<text class="M c" transform="matrix(.0465 0 0 .0436 1323.7 1346.6)">C</text>
<text class="M t" transform="matrix(.055 0 0 .0727 1434.5 1346.6)">T</text>
<text class="M g" transform="matrix(.0432 0 0 .1453 1438.3 1346.6)">G</text>
<text class="L c" transform="matrix(.0465 0 0 .218 1442.1 1346.6)">C</text>
<text class="L c" transform="matrix(.0465 0 0 .2762 1445.8 1346.6)">C</text>
<text class="L a" transform="matrix(.0465 0 0 .3052 1449.6 1346.6)">A</text>
<text class="L g" transform="matrix(.0432 0 0 .2762 1453.3 1346.6)">G</text>
<text class="L c" transform="matrix(.0465 0 0 .2326 1457.1 1346.6)">C</text>
<text class="M t" transform="matrix(.055 0 0 .1453 1460.9 1346.6)">T</text>
<text class="M t" transform="matrix(.055 0 0 .0727 1464.6 1346.6)">T</text>
<text class="M g" transform="matrix(.0432 0 0 .0436 1468.4 1346.6)">G</text>
<text class="M t" transform="matrix(.055 0 0 -.0424 854.1 1346.6)">T</text>
<text class="M t" transform="matrix(.055 0 0 .0861 857.8 1346.6)">T</text>
<text class="M g" transform="matrix(.0432 0 0 -.0532 872.9 1346.6)">G</text>
<text class="M c" transform="matrix(.0465 0 0 -.0535 876.6 1346.6)">C</text>
<text class="M g" transform="matrix(.0432 0 0 -.0472 884.1 1346.6)">G</text>
<text class="M a" transform="matrix(.0504 0 0 .0818 914.2 1346.6)">A</text>
<text class="M g" transform="matrix(.0432 0 0 -.0793 921.7 1346.6)">G</text>
<text class="M c" transform="matrix(.0465 0 0 .0585 933 1346.6)">C</text>
<text class="M g" transform="matrix(.0432 0 0 -.0406 955.6 1346.6)">G</text>
<text class="M a" transform="matrix(.0504 0 0 -.0513 959.3 1346.6)">A</text>
<text class="M t" transform="matrix(.055 0 0 .0657 985.6 1346.6)">T</text>
<text class="M a" transform="matrix(.0504 0 0 .0731 993.2 1346.6)">A</text>
<text class="M t" transform="matrix(.055 0 0 .0846 996.9 1346.6)">T</text>
<text class="M g" transform="matrix(.0432 0 0 -.0409 1015.7 1346.6)">G</text>
<text class="M a" transform="matrix(.0504 0 0 .0659 1027 1346.6)">A</text>
<text class="M g" transform="matrix(.0432 0 0 -.0395 1030.7 1346.6)">G</text>
<text class="M c" transform="matrix(.0465 0 0 .0643 1064.6 1346.6)">C</text>
<text class="M a" transform="matrix(.0504 0 0 .0389 1068.3 1346.6)">A</text>
<text class="M g" transform="matrix(.0432 0 0 .039 1079.6 1346.6)">G</text>
<text class="M t" transform="matrix(.055 0 0 .0434 1109.7 1346.6)">T</text>
<text class="M c" transform="matrix(.0465 0 0 .0376 1113.4 1346.6)">C</text>
<text class="M c" transform="matrix(.0465 0 0 -.0368 1121 1346.6)">C</text>
<text class="M c" transform="matrix(.0465 0 0 .0589 1136 1346.6)">C</text>
<text class="M t" transform="matrix(.055 0 0 .0655 1139.8 1346.6)">T</text>
<text class="M c" transform="matrix(.0465 0 0 -.0428 1147.3 1346.6)">C</text>
<text class="M a" transform="matrix(.0504 0 0 .0778 1154.8 1346.6)">A</text>
<text class="M c" transform="matrix(.0465 0 0 -.0515 1158.5 1346.6)">C</text>
<text class="M t" transform="matrix(.055 0 0 .0845 1177.3 1346.6)">T</text>
<text class="M a" transform="matrix(.0504 0 0 .0726 1207.4 1346.6)">A</text>
<text class="M t" transform="matrix(.055 0 0 .0407 1211.2 1346.6)">T</text>
<text class="M g" transform="matrix(.0432 0 0 .0461 1214.9 1346.6)">G</text>
<text class="M a" transform="matrix(.0504 0 0 .041 1218.7 1346.6)">A</text>
<text class="M c" transform="matrix(.0465 0 0 .0453 1222.5 1346.6)">C</text>
<text class="M t" transform="matrix(.055 0 0 .0613 1226.2 1346.6)">T</text>
<text class="M g" transform="matrix(.0432 0 0 .0398 1233.7 1346.6)">G</text>
<text class="M c" transform="matrix(.0465 0 0 .0385 1241.2 1346.6)">C</text>
<text class="M g" transform="matrix(.0432 0 0 .046 1248.8 1346.6)">G</text>
<text class="M t" transform="matrix(.055 0 0 .0979 1335.2 1346.6)">T</text>
<text class="M t" transform="matrix(.055 0 0 .0497 1339 1346.6)">T</text>
<text class="M c" transform="matrix(.0465 0 0 .1086 1342.7 1346.6)">C</text>
<text class="M g" transform="matrix(.0432 0 0 .0678 1354 1346.6)">G</text>
<text class="M g" transform="matrix(.0432 0 0 .0644 1365.3 1346.6)">G</text>
<text class="M a" transform="matrix(.0504 0 0 .0682 1376.6 1346.6)">A</text>
<text class="M g" transform="matrix(.0432 0 0 .0369 1380.3 1346.6)">G</text>
<text class="M a" transform="matrix(.0504 0 0 .0616 1391.6 1346.6)">A</text>
<text class="M t" transform="matrix(.055 0 0 .0513 1395.4 1346.6)">T</text>
<text class="M t" transform="matrix(.055 0 0 .0929 1399.1 1346.6)">T</text>
<text class="M a" transform="matrix(.0504 0 0 .0759 1402.9 1346.6)">A</text>
<text class="M t" transform="matrix(.055 0 0 .0807 1417.9 1346.6)">T</text>
<text class="M t" transform="matrix(.055 0 0 .0857 1421.7 1346.6)">T</text>
<text class="M a" transform="matrix(.0504 0 0 .0419 1485.6 1346.6)">A</text>
<text class="M t" transform="matrix(.055 0 0 .0805 1508.1 1346.6)">T</text>
<text class="M a" transform="matrix(.0504 0 0 .0405 1511.9 1346.6)">A</text>
<text class="M c" transform="matrix(.0465 0 0 .0531 1515.7 1346.6)">C</text>
<text class="M g" transform="matrix(.0432 0 0 .0467 1519.4 1346.6)">G</text>
<text class="M a" transform="matrix(.0504 0 0 .0833 1523.2 1346.6)">A</text>
<text class="M a" transform="matrix(.0504 0 0 .0503 1526.9 1346.6)">A</text>
<text class="M c" transform="matrix(.0465 0 0 .0755 1530.7 1346.6)">C</text>
<text class="M t" transform="matrix(.055 0 0 .0441 1538.2 1346.6)">T</text>
<text class="M a" transform="matrix(.0504 0 0 .0856 1545.7 1346.6)">A</text>
<text class="M c" transform="matrix(.0465 0 0 -.0391 1549.5 1346.6)">C</text>
<text class="M g" transform="matrix(.0432 0 0 -.0531 1572 1346.6)">G</text>
<text class="M c" transform="matrix(.0465 0 0 .0524 1602.1 1346.6)">C</text>
<text class="M g" transform="matrix(.0432 0 0 .0374 1613.4 1346.6)">G</text>
<text class="M c" transform="matrix(.0465 0 0 .067 1624.7 1346.6)">C</text>
<text class="M a" transform="matrix(.0504 0 0 -.0557 1628.4 1346.6)">A</text>
<text class="M a" transform="matrix(.0504 0 0 -.0565 1647.2 1346.6)">A</text>
<text class="M a" transform="matrix(.0504 0 0 .042 1651 1346.6)">A</text>
<text class="M g" transform="matrix(.0432 0 0 .0386 1662.3 1346.6)">G</text>
<text class="M c" transform="matrix(.0465 0 0 .0771 1666 1346.6)">C</text>
<text class="M a" transform="matrix(.0504 0 0 -.0831 1669.8 1346.6)">A</text>
<text class="M g" transform="matrix(.0432 0 0 -.0382 1673.5 1346.6)">G</text>
<text class="M c" transform="matrix(.0465 0 0 -.0671 1677.3 1346.6)">C</text>
<text class="M c" transform="matrix(.0465 0 0 -.0537 1681 1346.6)">C</text>
<text class="M t" transform="matrix(.055 0 0 -.1012 1684.8 1346.6)">T</text>
<text class="M t" transform="matrix(.055 0 0 -.0486 1688.6 1346.6)">T</text>
<text class="M a" transform="matrix(.0504 0 0 -.0446 1703.6 1346.6)">A</text>
<text class="M c" transform="matrix(.0465 0 0 .0679 1760 1346.6)">C</text>
<text class="M c" transform="matrix(.0465 0 0 -.0594 1778.8 1346.6)">C</text>
<text class="M g" transform="matrix(.0432 0 0 .0551 1790.1 1346.6)">G</text>
<text class="M t" transform="matrix(.055 0 0 .0571 1797.6 1346.6)">T</text>
<text class="M a" transform="matrix(.0504 0 0 .048 1835.2 1346.6)">A</text>
<text class="M t" transform="matrix(.055 0 0 .0393 1869 1346.6)">T</text>
<text class="M c" transform="matrix(.0465 0 0 -.0375 1887.8 1346.6)">C</text>
<text class="M a" transform="matrix(.0504 0 0 .0392 1891.6 1346.6)">A</text>
<text class="M g" transform="matrix(.0432 0 0 .041 1906.6 1346.6)">G</text>
<text class="M t" transform="matrix(.055 0 0 .0434 1921.6 1346.6)">T</text>
<text class="M g" transform="matrix(.0432 0 0 .0396 1925.4 1346.6)">G</text>
<text class="M a" transform="matrix(.0504 0 0 .0792 1940.4 1346.6)">A</text>
<rect x="810" y="1277.2" width="1138" height="99.8" fill="none" stroke="#333" stroke-width="1.4"/>
<text x="1379" y="1269.5" text-anchor="middle" textLength="362.8" lengthAdjust="spacingAndGlyphs">chr10: 79606595–79606984</text>
<text x="1940.5" y="1302.4" text-anchor="end" textLength="160" lengthAdjust="spacingAndGlyphs">[–0.05, 0.15]</text>
<text x="1247.2" y="1370.4" font-style="italic" textLength="84.3" lengthAdjust="spacingAndGlyphs">SOX10</text>
<text x="1416" y="1370.4" font-style="italic" textLength="79.1" lengthAdjust="spacingAndGlyphs">ASCL1</text>
<rect x="772.5" y="1417.6" width="23.1" height="99.8" fill="#F7A020" stroke="#333" stroke-width="1.1"/>
<rect x="834.1" y="1420.5" width="71.6" height="67.7" fill="#e5e6e8"/>
<rect x="1430.3" y="1420.5" width="45.7" height="67.7" fill="#e5e6e8"/>
<rect x="1581" y="1420.5" width="72.5" height="67.7" fill="#e5e6e8"/>
<line x1="814" y1="1479.1" x2="1946" y2="1479.1" stroke="#c85050" stroke-width="0.6" opacity="0.6"/>
<path d="M840.5,1477.1h2.2v2h-2.2zM813.3,1479.1h2.2v1.9h-2.2zM963.7,1476.8h2.2v2.3h-2.2zM978.7,1479.1h2.2v2.2h-2.2zM997.5,1479.1h2.2v1.7h-2.2zM1012.5,1479.1h2.2v1.2h-2.2zM1027.6,1478.3h2.2v0.8h-2.2zM1042.6,1478.3h2.2v0.8h-2.2zM1080.2,1479.1h2.2v0.6h-2.2zM1084,1478.5h2.2v0.6h-2.2zM1121.6,1479.1h2.2v0.9h-2.2zM1140.4,1479.1h2.2v2.4h-2.2zM1177.9,1479.1h2.2v1.7h-2.2zM1185.5,1479.1h2.2v2.3h-2.2zM1219.3,1476.8h2.2v2.3h-2.2zM1268.2,1479.1h2.2v1.2h-2.2zM1275.7,1478.5h2.2v0.6h-2.2zM1290.7,1479.1h2.2v1.9h-2.2zM1339.6,1478.1h2.2v1h-2.2zM1411,1477.1h2.2v2h-2.2zM1662.9,1477.2h2.2v1.9h-2.2zM1696.7,1479.1h2.2v2.4h-2.2zM1700.4,1479.1h2.2v1.5h-2.2zM1745.6,1477.3h2.2v1.8h-2.2zM1783.1,1479.1h2.2v1.6h-2.2zM1798.2,1478.2h2.2v0.9h-2.2zM1820.7,1479.1h2.2v1.8h-2.2zM1888.4,1478.2h2.2v0.9h-2.2z" fill="#178a44"/>
<path d="M941.1,1479.1h2.2v1h-2.2zM1035.1,1477.9h2.2v1.2h-2.2zM1072.7,1479.1h2.2v1.8h-2.2zM1095.2,1479.1h2.2v1.2h-2.2zM1144.1,1479.1h2.2v0.8h-2.2zM1151.6,1479.1h2.2v0.5h-2.2zM1211.8,1478.4h2.2v0.7h-2.2zM1241.8,1479.1h2.2v2.3h-2.2zM1279.4,1479.1h2.2v0.8h-2.2zM1302,1479.1h2.2v1.9h-2.2zM1365.9,1477.7h2.2v1.4h-2.2zM1474.9,1477.9h2.2v1.2h-2.2zM1565.1,1479.1h2.2v0.9h-2.2zM1704.2,1477.5h2.2v1.6h-2.2zM1711.7,1478.5h2.2v0.6h-2.2zM1756.8,1477.8h2.2v1.3h-2.2zM1817,1479.1h2.2v1.7h-2.2zM1858.3,1478.3h2.2v0.8h-2.2zM1926,1479.1h2.2v1.9h-2.2z" fill="#3451a3"/>
<path d="M933.6,1476.7h2.2v2.4h-2.2zM982.5,1479.1h2.2v0.8h-2.2zM1023.8,1479.1h2.2v1.2h-2.2zM1065.2,1477.9h2.2v1.2h-2.2zM1091.5,1479.1h2.2v0.6h-2.2zM1106.5,1479.1h2.2v2.2h-2.2zM1110.3,1479.1h2.2v0.9h-2.2zM1114,1479.1h2.2v1.9h-2.2zM1125.3,1477.7h2.2v1.4h-2.2zM1136.6,1478.5h2.2v0.6h-2.2zM1155.4,1479.1h2.2v1.2h-2.2zM1159.1,1479.1h2.2v0.9h-2.2zM1166.7,1478h2.2v1.1h-2.2zM1174.2,1479.1h2.2v0.6h-2.2zM1245.6,1478.2h2.2v0.9h-2.2zM1249.4,1479.1h2.2v2.5h-2.2zM1298.2,1479.1h2.2v1h-2.2zM1572.6,1478.1h2.2v1h-2.2zM1659.1,1479.1h2.2v0.8h-2.2zM1741.8,1479.1h2.2v2.2h-2.2zM1775.6,1479.1h2.2v0.6h-2.2zM1794.4,1479.1h2.2v1.1h-2.2zM1835.8,1478.5h2.2v0.6h-2.2zM1892.2,1478.3h2.2v0.8h-2.2z" fill="#f6a31e"/>
<path d="M817.1,1479.1h2.2v1.3h-2.2zM820.8,1479.1h2.2v1h-2.2zM824.6,1477.7h2.2v1.4h-2.2zM903.5,1477.7h2.2v1.4h-2.2zM911.1,1477h2.2v2.1h-2.2zM922.3,1477.8h2.2v1.3h-2.2zM952.4,1477.7h2.2v1.4h-2.2zM986.2,1477.3h2.2v1.8h-2.2zM993.8,1479.1h2.2v1.1h-2.2zM1020.1,1478.2h2.2v0.9h-2.2zM1031.3,1479.1h2.2v1h-2.2zM1038.9,1477.3h2.2v1.8h-2.2zM1050.1,1479.1h2.2v2h-2.2zM1061.4,1479.1h2.2v1.9h-2.2zM1068.9,1476.6h2.2v2.5h-2.2zM1129.1,1478.5h2.2v0.6h-2.2zM1181.7,1479.1h2.2v2.3h-2.2zM1256.9,1478h2.2v1.1h-2.2zM1264.4,1477.3h2.2v1.8h-2.2zM1271.9,1479.1h2.2v2.4h-2.2zM1287,1479.1h2.2v2.2h-2.2zM1335.8,1479.1h2.2v0.7h-2.2zM1362.1,1479.1h2.2v0.9h-2.2zM1373.4,1479.1h2.2v2.1h-2.2zM1380.9,1477.4h2.2v1.7h-2.2zM1388.4,1477.5h2.2v1.6h-2.2zM1482.4,1479.1h2.2v1.5h-2.2zM1508.7,1479.1h2.2v1.4h-2.2zM1538.8,1478.2h2.2v0.9h-2.2zM1681.6,1477.4h2.2v1.7h-2.2zM1685.4,1479.1h2.2v1.4h-2.2zM1813.2,1477.2h2.2v1.9h-2.2zM1828.3,1479.1h2.2v2.3h-2.2zM1850.8,1479.1h2.2v0.7h-2.2zM1933.5,1479.1h2.2v1.1h-2.2zM1937.3,1479.1h2.2v0.8h-2.2z" fill="#e8202a"/>
<text class="M a" transform="matrix(.0504 0 0 .0436 832.4 1479.1)">A</text>
<text class="M g" transform="matrix(.0432 0 0 -.0727 836.2 1479.1)">G</text>
<text class="M t" transform="matrix(.055 0 0 .0436 843.7 1479.1)">T</text>
<text class="M a" transform="matrix(.0504 0 0 .1163 847.5 1479.1)">A</text>
<text class="M t" transform="matrix(.055 0 0 .1163 851.2 1479.1)">T</text>
<text class="L a" transform="matrix(.0465 0 0 .1744 855 1479.1)">A</text>
<text class="L g" transform="matrix(.0432 0 0 .3779 858.7 1479.1)">G</text>
<text class="L c" transform="matrix(.0465 0 0 .5523 862.5 1479.1)">C</text>
<text class="L g" transform="matrix(.0432 0 0 .5669 866.3 1479.1)">G</text>
<text class="L c" transform="matrix(.0465 0 0 .5959 870 1479.1)">C</text>
<text class="L c" transform="matrix(.0465 0 0 .5087 873.8 1479.1)">C</text>
<text class="L c" transform="matrix(.0465 0 0 .436 877.5 1479.1)">C</text>
<text class="L c" transform="matrix(.0465 0 0 .4215 881.3 1479.1)">C</text>
<text class="L t" transform="matrix(.055 0 0 .2471 885 1479.1)">T</text>
<text class="M c" transform="matrix(.0465 0 0 .0436 888.8 1479.1)">C</text>
<text class="M t" transform="matrix(.055 0 0 .1163 892.6 1479.1)">T</text>
<text class="M a" transform="matrix(.0504 0 0 -.0727 896.3 1479.1)">A</text>
<text class="L g" transform="matrix(.0432 0 0 .4651 900.1 1479.1)">G</text>
<text class="M a" transform="matrix(.0504 0 0 .0436 1428.6 1479.1)">A</text>
<text class="M c" transform="matrix(.0465 0 0 .1599 1432.4 1479.1)">C</text>
<text class="L c" transform="matrix(.0465 0 0 .2471 1436.1 1479.1)">C</text>
<text class="L a" transform="matrix(.0465 0 0 .3343 1439.9 1479.1)">A</text>
<text class="L g" transform="matrix(.0432 0 0 .4215 1443.7 1479.1)">G</text>
<text class="L c" transform="matrix(.0465 0 0 .2907 1447.4 1479.1)">C</text>
<text class="L t" transform="matrix(.055 0 0 .3779 1451.2 1479.1)">T</text>
<text class="L t" transform="matrix(.055 0 0 .1744 1454.9 1479.1)">T</text>
<text class="M g" transform="matrix(.0432 0 0 .1163 1458.7 1479.1)">G</text>
<text class="M g" transform="matrix(.0432 0 0 .0436 1462.5 1479.1)">G</text>
<text class="M c" transform="matrix(.0465 0 0 .0436 1466.2 1479.1)">C</text>
<text class="M a" transform="matrix(.0504 0 0 .1163 1579.3 1479.1)">A</text>
<text class="L a" transform="matrix(.0465 0 0 .4651 1583.1 1479.1)">A</text>
<text class="L c" transform="matrix(.0465 0 0 .3779 1586.8 1479.1)">C</text>
<text class="L a" transform="matrix(.0465 0 0 .5523 1590.6 1479.1)">A</text>
<text class="L a" transform="matrix(.0465 0 0 .814 1594.4 1479.1)">A</text>
<text class="L a" transform="matrix(.0465 0 0 .6831 1598.1 1479.1)">A</text>
<text class="L a" transform="matrix(.0465 0 0 .4651 1601.9 1479.1)">A</text>
<text class="L c" transform="matrix(.0465 0 0 -.218 1605.6 1479.1)">C</text>
<text class="M g" transform="matrix(.0432 0 0 .1599 1609.4 1479.1)">G</text>
<text class="M t" transform="matrix(.055 0 0 -.1163 1613.2 1479.1)">T</text>
<text class="M t" transform="matrix(.055 0 0 -.0727 1616.9 1479.1)">T</text>
<text class="M a" transform="matrix(.0504 0 0 -.0581 1620.7 1479.1)">A</text>
<text class="L a" transform="matrix(.0465 0 0 -.218 1624.4 1479.1)">A</text>
<text class="L c" transform="matrix(.0465 0 0 .2907 1628.2 1479.1)">C</text>
<text class="L a" transform="matrix(.0465 0 0 .3779 1631.9 1479.1)">A</text>
<text class="L t" transform="matrix(.055 0 0 .4215 1635.7 1479.1)">T</text>
<text class="L t" transform="matrix(.055 0 0 .7558 1639.5 1479.1)">T</text>
<text class="L c" transform="matrix(.0465 0 0 .2907 1643.2 1479.1)">C</text>
<text class="L a" transform="matrix(.0465 0 0 .3343 1647 1479.1)">A</text>
<text class="M c" transform="matrix(.0465 0 0 -.0387 827.8 1479.1)">C</text>
<text class="M g" transform="matrix(.0432 0 0 -.058 906.7 1479.1)">G</text>
<text class="M t" transform="matrix(.055 0 0 .0552 918 1479.1)">T</text>
<text class="M a" transform="matrix(.0504 0 0 -.0761 929.2 1479.1)">A</text>
<text class="M a" transform="matrix(.0504 0 0 -.0401 936.8 1479.1)">A</text>
<text class="M g" transform="matrix(.0432 0 0 -.047 944.3 1479.1)">G</text>
<text class="M a" transform="matrix(.0504 0 0 .0432 955.6 1479.1)">A</text>
<text class="M a" transform="matrix(.0504 0 0 -.0372 959.3 1479.1)">A</text>
<text class="M t" transform="matrix(.055 0 0 .0517 989.4 1479.1)">T</text>
<text class="M t" transform="matrix(.055 0 0 .0369 1000.7 1479.1)">T</text>
<text class="M c" transform="matrix(.0465 0 0 .0406 1015.7 1479.1)">C</text>
<text class="M t" transform="matrix(.055 0 0 .0443 1045.8 1479.1)">T</text>
<text class="M a" transform="matrix(.0504 0 0 .0598 1075.9 1479.1)">A</text>
<text class="M c" transform="matrix(.0465 0 0 -.0682 1087.1 1479.1)">C</text>
<text class="M c" transform="matrix(.0465 0 0 .0384 1132.2 1479.1)">C</text>
<text class="M a" transform="matrix(.0504 0 0 -.038 1147.3 1479.1)">A</text>
<text class="M a" transform="matrix(.0504 0 0 .0413 1162.3 1479.1)">A</text>
<text class="M a" transform="matrix(.0504 0 0 .0743 1188.6 1479.1)">A</text>
<text class="M g" transform="matrix(.0432 0 0 .0418 1196.1 1479.1)">G</text>
<text class="M c" transform="matrix(.0465 0 0 .0395 1199.9 1479.1)">C</text>
<text class="M t" transform="matrix(.055 0 0 .0508 1203.7 1479.1)">T</text>
<text class="M t" transform="matrix(.055 0 0 -.0451 1214.9 1479.1)">T</text>
<text class="M t" transform="matrix(.055 0 0 .0465 1222.5 1479.1)">T</text>
<text class="M g" transform="matrix(.0432 0 0 .0589 1226.2 1479.1)">G</text>
<text class="M c" transform="matrix(.0465 0 0 .0704 1230 1479.1)">C</text>
<text class="M c" transform="matrix(.0465 0 0 .0703 1233.7 1479.1)">C</text>
<text class="M a" transform="matrix(.0504 0 0 .0695 1237.5 1479.1)">A</text>
<text class="M t" transform="matrix(.055 0 0 .0383 1252.5 1479.1)">T</text>
<text class="M g" transform="matrix(.0432 0 0 .0517 1293.9 1479.1)">G</text>
<text class="M t" transform="matrix(.055 0 0 .0593 1305.1 1479.1)">T</text>
<text class="M t" transform="matrix(.055 0 0 .0754 1308.9 1479.1)">T</text>
<text class="M c" transform="matrix(.0465 0 0 .0854 1312.7 1479.1)">C</text>
<text class="M a" transform="matrix(.0504 0 0 .0974 1316.4 1479.1)">A</text>
<text class="M t" transform="matrix(.055 0 0 .056 1320.2 1479.1)">T</text>
<text class="M g" transform="matrix(.0432 0 0 .0709 1323.9 1479.1)">G</text>
<text class="M g" transform="matrix(.0432 0 0 .0799 1327.7 1479.1)">G</text>
<text class="M t" transform="matrix(.055 0 0 .1299 1331.5 1479.1)">T</text>
<text class="M g" transform="matrix(.0432 0 0 .0365 1342.7 1479.1)">G</text>
<text class="M a" transform="matrix(.0504 0 0 .0365 1346.5 1479.1)">A</text>
<text class="M c" transform="matrix(.0465 0 0 .0714 1350.3 1479.1)">C</text>
<text class="M c" transform="matrix(.0465 0 0 .0809 1354 1479.1)">C</text>
<text class="M t" transform="matrix(.055 0 0 .0656 1357.8 1479.1)">T</text>
<text class="M g" transform="matrix(.0432 0 0 .0693 1391.6 1479.1)">G</text>
<text class="M g" transform="matrix(.0432 0 0 .0547 1395.4 1479.1)">G</text>
<text class="M g" transform="matrix(.0432 0 0 .0613 1399.1 1479.1)">G</text>
<text class="M c" transform="matrix(.0465 0 0 .0911 1402.9 1479.1)">C</text>
<text class="M a" transform="matrix(.0504 0 0 .0615 1406.6 1479.1)">A</text>
<text class="M g" transform="matrix(.0432 0 0 -.0385 1417.9 1479.1)">G</text>
<text class="M g" transform="matrix(.0432 0 0 -.0529 1421.7 1479.1)">G</text>
<text class="M a" transform="matrix(.0504 0 0 .0494 1485.6 1479.1)">A</text>
<text class="M c" transform="matrix(.0465 0 0 .1042 1496.9 1479.1)">C</text>
<text class="M t" transform="matrix(.055 0 0 .1161 1500.6 1479.1)">T</text>
<text class="L c" transform="matrix(.0465 0 0 .2035 1511.9 1479.1)">C</text>
<text class="L c" transform="matrix(.0465 0 0 .2591 1515.7 1479.1)">C</text>
<text class="M t" transform="matrix(.055 0 0 .1686 1519.4 1479.1)">T</text>
<text class="L g" transform="matrix(.0432 0 0 .2855 1523.2 1479.1)">G</text>
<text class="M a" transform="matrix(.0504 0 0 .0508 1526.9 1479.1)">A</text>
<text class="M c" transform="matrix(.0465 0 0 .0713 1534.4 1479.1)">C</text>
<text class="M c" transform="matrix(.0465 0 0 -.0471 1542 1479.1)">C</text>
<text class="M c" transform="matrix(.0465 0 0 .0578 1553.2 1479.1)">C</text>
<text class="M a" transform="matrix(.0504 0 0 .0819 1557 1479.1)">A</text>
<text class="M g" transform="matrix(.0432 0 0 .1019 1560.8 1479.1)">G</text>
<text class="M g" transform="matrix(.0432 0 0 .0521 1568.3 1479.1)">G</text>
<text class="M a" transform="matrix(.0504 0 0 -.0579 1575.8 1479.1)">A</text>
<text class="M c" transform="matrix(.0465 0 0 .0848 1651 1479.1)">C</text>
<text class="M c" transform="matrix(.0465 0 0 .077 1654.7 1479.1)">C</text>
<text class="M c" transform="matrix(.0465 0 0 .0601 1666 1479.1)">C</text>
<text class="M a" transform="matrix(.0504 0 0 -.0504 1673.5 1479.1)">A</text>
<text class="M a" transform="matrix(.0504 0 0 .0665 1677.3 1479.1)">A</text>
<text class="M a" transform="matrix(.0504 0 0 .0706 1692.3 1479.1)">A</text>
<text class="M t" transform="matrix(.055 0 0 -.0521 1707.4 1479.1)">T</text>
<text class="M g" transform="matrix(.0432 0 0 .1367 1714.9 1479.1)">G</text>
<text class="L a" transform="matrix(.0465 0 0 .1805 1718.6 1479.1)">A</text>
<text class="L g" transform="matrix(.0432 0 0 .2012 1722.4 1479.1)">G</text>
<text class="L g" transform="matrix(.0432 0 0 .2512 1726.2 1479.1)">G</text>
<text class="L g" transform="matrix(.0432 0 0 .1902 1729.9 1479.1)">G</text>
<text class="M t" transform="matrix(.055 0 0 .1219 1733.7 1479.1)">T</text>
<text class="M a" transform="matrix(.0504 0 0 .0539 1748.7 1479.1)">A</text>
<text class="M c" transform="matrix(.0465 0 0 .1407 1763.7 1479.1)">C</text>
<text class="M g" transform="matrix(.0432 0 0 .0971 1767.5 1479.1)">G</text>
<text class="M g" transform="matrix(.0432 0 0 .1149 1771.3 1479.1)">G</text>
<text class="M t" transform="matrix(.055 0 0 .0582 1778.8 1479.1)">T</text>
<text class="M g" transform="matrix(.0432 0 0 -.0402 1831.4 1479.1)">G</text>
<text class="M a" transform="matrix(.0504 0 0 .0439 1846.4 1479.1)">A</text>
<text class="M c" transform="matrix(.0465 0 0 .0671 1861.5 1479.1)">C</text>
<text class="M c" transform="matrix(.0465 0 0 -.1373 1865.2 1479.1)">C</text>
<text class="M a" transform="matrix(.0504 0 0 -.0868 1869 1479.1)">A</text>
<text class="M a" transform="matrix(.0504 0 0 -.1022 1872.8 1479.1)">A</text>
<text class="L t" transform="matrix(.055 0 0 -.3563 1895.3 1479.1)">T</text>
<text class="M c" transform="matrix(.0465 0 0 -.1434 1899.1 1479.1)">C</text>
<text class="L t" transform="matrix(.055 0 0 -.3434 1902.8 1479.1)">T</text>
<text class="M t" transform="matrix(.055 0 0 -.0411 1906.6 1479.1)">T</text>
<text class="M g" transform="matrix(.0432 0 0 -.1246 1910.3 1479.1)">G</text>
<text class="L c" transform="matrix(.0465 0 0 -.2737 1914.1 1479.1)">C</text>
<text class="M a" transform="matrix(.0504 0 0 -.0394 1921.6 1479.1)">A</text>
<rect x="810" y="1417.6" width="1138" height="99.8" fill="none" stroke="#333" stroke-width="1.4"/>
<text x="1379" y="1406.9" text-anchor="middle" textLength="350.6" lengthAdjust="spacingAndGlyphs">chr5: 36054045–36055557</text>
<text x="1940.5" y="1441" text-anchor="end" textLength="161" lengthAdjust="spacingAndGlyphs">[–0.07, 0.10]</text>
<text x="840.2" y="1508.7" font-style="italic" textLength="51.8" lengthAdjust="spacingAndGlyphs">Ctcf</text>
<text x="1419.6" y="1508.7" font-style="italic" textLength="64" lengthAdjust="spacingAndGlyphs">TCF4</text>
<text x="1574" y="1508.7" font-style="italic" textLength="81.7" lengthAdjust="spacingAndGlyphs">SOX10</text>
<rect x="772.5" y="1555.6" width="23.1" height="99.8" fill="#2E5591" stroke="#333" stroke-width="1.1"/>
<rect x="1444.9" y="1558.7" width="48.7" height="67.9" fill="#e5e6e8"/>
<rect x="1549" y="1558.7" width="48.8" height="67.9" fill="#e5e6e8"/>
<line x1="814" y1="1625.7" x2="1946" y2="1625.7" stroke="#c85050" stroke-width="0.6" opacity="0.6"/>
<path d="M820.8,1625.7h2.2v1.7h-2.2zM865.9,1625.7h2.2v0.6h-2.2zM881,1624.5h2.2v1.2h-2.2zM899.8,1624.6h2.2v1.1h-2.2zM903.5,1625.7h2.2v1.2h-2.2zM911.1,1624.6h2.2v1.1h-2.2zM993.8,1625.7h2.2v0.9h-2.2zM1057.7,1625.7h2.2v2.2h-2.2zM1106.5,1625.7h2.2v1.1h-2.2zM1121.6,1625.7h2.2v1.1h-2.2zM1132.8,1625.7h2.2v1.5h-2.2zM1358.4,1625.7h2.2v2.3h-2.2zM1595.2,1623.8h2.2v1.9h-2.2zM1599,1624.3h2.2v1.4h-2.2zM1606.5,1625.7h2.2v0.9h-2.2zM1696.7,1625.7h2.2v1.1h-2.2zM1708,1625.7h2.2v0.8h-2.2zM1719.2,1625.7h2.2v1.9h-2.2zM1760.6,1625h2.2v0.7h-2.2zM1786.9,1625.7h2.2v0.6h-2.2zM1832,1623.9h2.2v1.8h-2.2zM1884.6,1625.1h2.2v0.6h-2.2zM1895.9,1624.5h2.2v1.2h-2.2zM1922.2,1624.8h2.2v0.9h-2.2z" fill="#178a44"/>
<path d="M839.6,1625h2.2v0.7h-2.2zM854.7,1623.4h2.2v2.3h-2.2zM892.3,1625.7h2.2v2h-2.2zM933.6,1625.7h2.2v2.5h-2.2zM937.4,1623.9h2.2v1.8h-2.2zM959.9,1624.6h2.2v1.1h-2.2zM1001.3,1625.7h2.2v2h-2.2zM1023.8,1623.8h2.2v1.9h-2.2zM1046.4,1625.7h2.2v2.4h-2.2zM1065.2,1623.9h2.2v1.8h-2.2zM1068.9,1623.8h2.2v1.9h-2.2zM1102.8,1624.9h2.2v0.8h-2.2zM1129.1,1625.7h2.2v1.5h-2.2zM1136.6,1625.7h2.2v0.8h-2.2zM1166.7,1623.5h2.2v2.2h-2.2zM1174.2,1625.7h2.2v0.7h-2.2zM1193,1623.3h2.2v2.4h-2.2zM1208,1625.7h2.2v1.7h-2.2zM1256.9,1623.7h2.2v2h-2.2zM1264.4,1624.7h2.2v1h-2.2zM1271.9,1625.7h2.2v2.2h-2.2zM1328.3,1625.7h2.2v2.5h-2.2zM1347.1,1625.7h2.2v2.1h-2.2zM1350.9,1625.7h2.2v2.4h-2.2zM1369.7,1623.7h2.2v2h-2.2zM1429.8,1625.7h2.2v1.9h-2.2zM1441.1,1625.7h2.2v1.8h-2.2zM1516.3,1625.7h2.2v0.6h-2.2zM1531.3,1625.7h2.2v0.7h-2.2zM1535,1625.1h2.2v0.6h-2.2zM1632.8,1625.7h2.2v0.9h-2.2zM1674.1,1624.9h2.2v0.8h-2.2zM1768.1,1624.7h2.2v1h-2.2zM1779.4,1624.2h2.2v1.5h-2.2zM1809.5,1624.3h2.2v1.4h-2.2zM1862.1,1624.9h2.2v0.8h-2.2zM1877.1,1625.7h2.2v1.7h-2.2zM1899.7,1625.7h2.2v0.9h-2.2z" fill="#3451a3"/>
<path d="M813.3,1624h2.2v1.7h-2.2zM828.4,1625.2h2.2v0.5h-2.2zM832.1,1624.9h2.2v0.8h-2.2zM877.2,1624.2h2.2v1.5h-2.2zM907.3,1624h2.2v1.7h-2.2zM926.1,1623.7h2.2v2h-2.2zM941.1,1624.3h2.2v1.4h-2.2zM967.4,1624.9h2.2v0.8h-2.2zM990,1625.2h2.2v0.5h-2.2zM1050.1,1625.2h2.2v0.5h-2.2zM1072.7,1624.6h2.2v1.1h-2.2zM1084,1625.7h2.2v0.8h-2.2zM1091.5,1625.1h2.2v0.6h-2.2zM1095.2,1625.7h2.2v1h-2.2zM1099,1625.7h2.2v2h-2.2zM1114,1625.7h2.2v0.8h-2.2zM1140.4,1623.9h2.2v1.8h-2.2zM1177.9,1625.7h2.2v0.9h-2.2zM1200.5,1625.7h2.2v0.8h-2.2zM1204.3,1625.2h2.2v0.5h-2.2zM1215.5,1625.7h2.2v0.7h-2.2zM1332.1,1624.2h2.2v1.5h-2.2zM1354.6,1623.6h2.2v2.1h-2.2zM1377.2,1624.4h2.2v1.3h-2.2zM1384.7,1623.3h2.2v2.4h-2.2zM1505,1625.7h2.2v1.4h-2.2zM1520,1625.7h2.2v1.3h-2.2zM1591.4,1625.7h2.2v0.6h-2.2zM1602.7,1624.7h2.2v1h-2.2zM1685.4,1625.1h2.2v0.6h-2.2zM1704.2,1624.2h2.2v1.5h-2.2zM1711.7,1624.6h2.2v1.1h-2.2zM1715.5,1624.7h2.2v1h-2.2zM1771.9,1625.1h2.2v0.6h-2.2zM1798.2,1625.7h2.2v2.2h-2.2zM1813.2,1624.8h2.2v0.9h-2.2zM1817,1625.7h2.2v1.3h-2.2zM1820.7,1625.7h2.2v1h-2.2zM1847,1625.7h2.2v1.8h-2.2zM1880.9,1625.7h2.2v1.1h-2.2zM1903.4,1625.7h2.2v1.7h-2.2zM1941,1625.7h2.2v1.5h-2.2z" fill="#f6a31e"/>
<path d="M824.6,1625.7h2.2v0.9h-2.2zM858.4,1623.9h2.2v1.8h-2.2zM922.3,1625.7h2.2v2.4h-2.2zM944.9,1624.1h2.2v1.6h-2.2zM1005,1625.7h2.2v1.7h-2.2zM1020.1,1624.9h2.2v0.8h-2.2zM1042.6,1624.7h2.2v1h-2.2zM1053.9,1623.9h2.2v1.8h-2.2zM1061.4,1625.7h2.2v0.6h-2.2zM1125.3,1623.9h2.2v1.8h-2.2zM1144.1,1625.7h2.2v0.6h-2.2zM1181.7,1625.7h2.2v1.8h-2.2zM1189.2,1625.7h2.2v2.1h-2.2zM1211.8,1625.7h2.2v2.3h-2.2zM1219.3,1625.7h2.2v1h-2.2zM1253.1,1625.7h2.2v0.9h-2.2zM1260.6,1624.3h2.2v1.4h-2.2zM1343.3,1624.4h2.2v1.3h-2.2zM1493.7,1625.7h2.2v1.8h-2.2zM1501.2,1625.7h2.2v0.9h-2.2zM1523.8,1625.7h2.2v1h-2.2zM1538.8,1624.2h2.2v1.5h-2.2zM1542.6,1623.5h2.2v2.2h-2.2zM1546.3,1623.9h2.2v1.8h-2.2zM1617.7,1624.9h2.2v0.8h-2.2zM1629,1623.9h2.2v1.8h-2.2zM1636.5,1625.7h2.2v0.6h-2.2zM1775.6,1625.7h2.2v2h-2.2zM1824.5,1623.8h2.2v1.9h-2.2zM1828.3,1625.7h2.2v0.7h-2.2zM1843.3,1625.7h2.2v1.1h-2.2zM1854.6,1624.7h2.2v1h-2.2zM1865.8,1624.9h2.2v0.8h-2.2zM1873.4,1625.7h2.2v1.6h-2.2zM1892.2,1624.3h2.2v1.4h-2.2zM1907.2,1625.7h2.2v1.8h-2.2zM1929.7,1623.3h2.2v2.4h-2.2z" fill="#e8202a"/>
<text class="L t" transform="matrix(.055 0 0 .3779 1386.3 1625.7)">T</text>
<text class="L t" transform="matrix(.055 0 0 .2907 1390.1 1625.7)">T</text>
<text class="L t" transform="matrix(.055 0 0 .3343 1393.8 1625.7)">T</text>
<text class="L c" transform="matrix(.0465 0 0 .2471 1397.6 1625.7)">C</text>
<text class="L a" transform="matrix(.0465 0 0 .2035 1401.4 1625.7)">A</text>
<text class="M a" transform="matrix(.0504 0 0 .0581 1405.1 1625.7)">A</text>
<text class="M c" transform="matrix(.0465 0 0 .0436 1408.9 1625.7)">C</text>
<text class="M t" transform="matrix(.055 0 0 .0581 1412.6 1625.7)">T</text>
<text class="L c" transform="matrix(.0465 0 0 .3198 1416.4 1625.7)">C</text>
<text class="M c" transform="matrix(.0465 0 0 .0727 1420.2 1625.7)">C</text>
<text class="M a" transform="matrix(.0504 0 0 .0436 1443.2 1625.7)">A</text>
<text class="M g" transform="matrix(.0432 0 0 .1163 1447 1625.7)">G</text>
<text class="L a" transform="matrix(.0465 0 0 .407 1450.7 1625.7)">A</text>
<text class="L c" transform="matrix(.0465 0 0 .3343 1454.5 1625.7)">C</text>
<text class="L t" transform="matrix(.055 0 0 .5669 1458.3 1625.7)">T</text>
<text class="L t" transform="matrix(.055 0 0 .843 1462 1625.7)">T</text>
<text class="L c" transform="matrix(.0465 0 0 .5378 1465.8 1625.7)">C</text>
<text class="L c" transform="matrix(.0465 0 0 .407 1469.5 1625.7)">C</text>
<text class="L c" transform="matrix(.0465 0 0 .2471 1473.3 1625.7)">C</text>
<text class="L t" transform="matrix(.055 0 0 .2471 1477.1 1625.7)">T</text>
<text class="L t" transform="matrix(.055 0 0 .3343 1480.8 1625.7)">T</text>
<text class="M c" transform="matrix(.0465 0 0 .0727 1484.6 1625.7)">C</text>
<text class="M t" transform="matrix(.055 0 0 .0436 1488.3 1625.7)">T</text>
<text class="M a" transform="matrix(.0504 0 0 .1163 1558 1625.7)">A</text>
<text class="M c" transform="matrix(.0465 0 0 .1599 1561.8 1625.7)">C</text>
<text class="L t" transform="matrix(.055 0 0 .2907 1565.5 1625.7)">T</text>
<text class="L t" transform="matrix(.055 0 0 .4215 1569.3 1625.7)">T</text>
<text class="L c" transform="matrix(.0465 0 0 .2762 1573.1 1625.7)">C</text>
<text class="L c" transform="matrix(.0465 0 0 .3343 1576.8 1625.7)">C</text>
<text class="M c" transform="matrix(.0465 0 0 .1163 1580.6 1625.7)">C</text>
<text class="M c" transform="matrix(.0465 0 0 .0727 1584.3 1625.7)">C</text>
<text class="M g" transform="matrix(.0432 0 0 .0442 835.3 1625.7)">G</text>
<text class="M a" transform="matrix(.0504 0 0 -.0414 842.8 1625.7)">A</text>
<text class="M g" transform="matrix(.0432 0 0 -.0451 850.3 1625.7)">G</text>
<text class="M c" transform="matrix(.0465 0 0 -.0392 869.1 1625.7)">C</text>
<text class="M t" transform="matrix(.055 0 0 -.0389 884.1 1625.7)">T</text>
<text class="M t" transform="matrix(.055 0 0 .0559 914.2 1625.7)">T</text>
<text class="M t" transform="matrix(.055 0 0 .0448 929.2 1625.7)">T</text>
<text class="M t" transform="matrix(.055 0 0 -.0405 948 1625.7)">T</text>
<text class="M c" transform="matrix(.0465 0 0 .0826 974.4 1625.7)">C</text>
<text class="M a" transform="matrix(.0504 0 0 .059 978.1 1625.7)">A</text>
<text class="M a" transform="matrix(.0504 0 0 .0808 985.6 1625.7)">A</text>
<text class="M c" transform="matrix(.0465 0 0 .0798 1027 1625.7)">C</text>
<text class="M c" transform="matrix(.0465 0 0 .0404 1034.5 1625.7)">C</text>
<text class="M t" transform="matrix(.055 0 0 .0368 1117.2 1625.7)">T</text>
<text class="M c" transform="matrix(.0465 0 0 .0393 1147.3 1625.7)">C</text>
<text class="M a" transform="matrix(.0504 0 0 .0633 1154.8 1625.7)">A</text>
<text class="M c" transform="matrix(.0465 0 0 .0503 1158.5 1625.7)">C</text>
<text class="M g" transform="matrix(.0432 0 0 .0527 1162.3 1625.7)">G</text>
<text class="M c" transform="matrix(.0465 0 0 .0671 1169.8 1625.7)">C</text>
<text class="M g" transform="matrix(.0432 0 0 .0771 1226.2 1625.7)">G</text>
<text class="M t" transform="matrix(.055 0 0 -.0609 1230 1625.7)">T</text>
<text class="M g" transform="matrix(.0432 0 0 -.0612 1233.7 1625.7)">G</text>
<text class="M a" transform="matrix(.0504 0 0 -.0593 1237.5 1625.7)">A</text>
<text class="M t" transform="matrix(.055 0 0 .0753 1241.2 1625.7)">T</text>
<text class="M a" transform="matrix(.0504 0 0 .0375 1267.6 1625.7)">A</text>
<text class="M c" transform="matrix(.0465 0 0 .1046 1275.1 1625.7)">C</text>
<text class="M c" transform="matrix(.0465 0 0 .0543 1278.8 1625.7)">C</text>
<text class="M c" transform="matrix(.0465 0 0 .0912 1282.6 1625.7)">C</text>
<text class="M t" transform="matrix(.055 0 0 .0954 1286.4 1625.7)">T</text>
<text class="M t" transform="matrix(.055 0 0 .1087 1290.1 1625.7)">T</text>
<text class="M c" transform="matrix(.0465 0 0 .0679 1293.9 1625.7)">C</text>
<text class="M t" transform="matrix(.055 0 0 .0681 1297.6 1625.7)">T</text>
<text class="M c" transform="matrix(.0465 0 0 .0537 1301.4 1625.7)">C</text>
<text class="M g" transform="matrix(.0432 0 0 .1094 1305.1 1625.7)">G</text>
<text class="M t" transform="matrix(.055 0 0 .0769 1308.9 1625.7)">T</text>
<text class="M t" transform="matrix(.055 0 0 .0434 1312.7 1625.7)">T</text>
<text class="M c" transform="matrix(.0465 0 0 .0607 1316.4 1625.7)">C</text>
<text class="M c" transform="matrix(.0465 0 0 .0816 1320.2 1625.7)">C</text>
<text class="M c" transform="matrix(.0465 0 0 .1035 1323.9 1625.7)">C</text>
<text class="M g" transform="matrix(.0432 0 0 .042 1335.2 1625.7)">G</text>
<text class="M g" transform="matrix(.0432 0 0 .0863 1339 1625.7)">G</text>
<text class="M a" transform="matrix(.0504 0 0 .0437 1425.4 1625.7)">A</text>
<text class="M c" transform="matrix(.0465 0 0 .0503 1436.7 1625.7)">C</text>
<text class="M g" transform="matrix(.0432 0 0 .0573 1496.9 1625.7)">G</text>
<text class="M t" transform="matrix(.055 0 0 .0708 1508.1 1625.7)">T</text>
<text class="M a" transform="matrix(.0504 0 0 .043 1511.9 1625.7)">A</text>
<text class="M t" transform="matrix(.055 0 0 .0807 1553.2 1625.7)">T</text>
<text class="M c" transform="matrix(.0465 0 0 .0403 1587.1 1625.7)">C</text>
<text class="M c" transform="matrix(.0465 0 0 -.0485 1613.4 1625.7)">C</text>
<text class="M c" transform="matrix(.0465 0 0 .0593 1624.7 1625.7)">C</text>
<text class="M t" transform="matrix(.055 0 0 .0783 1639.7 1625.7)">T</text>
<text class="M g" transform="matrix(.0432 0 0 .0733 1643.5 1625.7)">G</text>
<text class="M g" transform="matrix(.0432 0 0 .1087 1647.2 1625.7)">G</text>
<text class="M a" transform="matrix(.0504 0 0 .0706 1651 1625.7)">A</text>
<text class="M c" transform="matrix(.0465 0 0 .0595 1654.7 1625.7)">C</text>
<text class="M c" transform="matrix(.0465 0 0 .0764 1658.5 1625.7)">C</text>
<text class="M c" transform="matrix(.0465 0 0 .1475 1662.3 1625.7)">C</text>
<text class="M t" transform="matrix(.055 0 0 .1465 1666 1625.7)">T</text>
<text class="M a" transform="matrix(.0504 0 0 .0744 1669.8 1625.7)">A</text>
<text class="M t" transform="matrix(.055 0 0 -.0542 1681 1625.7)">T</text>
<text class="M a" transform="matrix(.0504 0 0 .0587 1692.3 1625.7)">A</text>
<text class="M g" transform="matrix(.0432 0 0 -.0377 1699.8 1625.7)">G</text>
<text class="M c" transform="matrix(.0465 0 0 .1035 1722.4 1625.7)">C</text>
<text class="M c" transform="matrix(.0465 0 0 .17 1726.2 1625.7)">C</text>
<text class="M t" transform="matrix(.055 0 0 .1449 1729.9 1625.7)">T</text>
<text class="M a" transform="matrix(.0504 0 0 .1545 1733.7 1625.7)">A</text>
<text class="L a" transform="matrix(.0465 0 0 .2002 1737.4 1625.7)">A</text>
<text class="M t" transform="matrix(.055 0 0 .078 1741.2 1625.7)">T</text>
<text class="L a" transform="matrix(.0465 0 0 .1894 1745 1625.7)">A</text>
<text class="L c" transform="matrix(.0465 0 0 .1974 1748.7 1625.7)">C</text>
<text class="M c" transform="matrix(.0465 0 0 .1139 1752.5 1625.7)">C</text>
<text class="M g" transform="matrix(.0432 0 0 .0427 1763.7 1625.7)">G</text>
<text class="M t" transform="matrix(.055 0 0 .0665 1850.2 1625.7)">T</text>
<text class="M a" transform="matrix(.0504 0 0 .0565 1857.7 1625.7)">A</text>
<text class="M c" transform="matrix(.0465 0 0 .0514 1869 1625.7)">C</text>
<text class="M c" transform="matrix(.0465 0 0 .065 1910.3 1625.7)">C</text>
<text class="M a" transform="matrix(.0504 0 0 -.0371 1914.1 1625.7)">A</text>
<text class="M g" transform="matrix(.0432 0 0 -.0427 1917.9 1625.7)">G</text>
<rect x="810" y="1555.6" width="1138" height="99.8" fill="none" stroke="#333" stroke-width="1.4"/>
<text x="1379" y="1548" text-anchor="middle" textLength="349.4" lengthAdjust="spacingAndGlyphs">chr18: 32406819–32408214</text>
<text x="1940.5" y="1582.4" text-anchor="end" textLength="160" lengthAdjust="spacingAndGlyphs">[–0.05, 0.15]</text>
<text x="1444.9" y="1646.4" font-style="italic" textLength="50.2" lengthAdjust="spacingAndGlyphs">SPI1</text>
<text x="1548.4" y="1646.4" font-style="italic" textLength="49.4" lengthAdjust="spacingAndGlyphs">SPI1</text>
<rect x="772.5" y="1693.6" width="23.1" height="99.8" fill="#4BAFD2" stroke="#333" stroke-width="1.1"/>
<rect x="1375.2" y="1697.9" width="48.3" height="69.3" fill="#e5e6e8"/>
<line x1="814" y1="1758.5" x2="1946" y2="1758.5" stroke="#c85050" stroke-width="0.6" opacity="0.6"/>
<path d="M817.1,1758.5h2.2v1.4h-2.2zM820.8,1758.5h2.2v1.3h-2.2zM828.4,1757.8h2.2v0.7h-2.2zM869.7,1758.5h2.2v1.1h-2.2zM884.7,1758.5h2.2v0.9h-2.2zM888.5,1758.5h2.2v0.7h-2.2zM914.8,1757h2.2v1.5h-2.2zM933.6,1758.5h2.2v1.8h-2.2zM944.9,1757.8h2.2v0.7h-2.2zM948.6,1756.6h2.2v1.9h-2.2zM982.5,1758.5h2.2v2.4h-2.2zM1005,1758.5h2.2v1.9h-2.2zM1016.3,1758.5h2.2v0.7h-2.2zM1046.4,1758.5h2.2v1h-2.2zM1099,1758.5h2.2v1.4h-2.2zM1106.5,1757.9h2.2v0.6h-2.2zM1159.1,1758.5h2.2v0.9h-2.2zM1162.9,1757.9h2.2v0.6h-2.2zM1189.2,1757.6h2.2v0.9h-2.2zM1249.4,1757.4h2.2v1.1h-2.2zM1305.7,1758.5h2.2v1.7h-2.2zM1350.9,1757.8h2.2v0.7h-2.2zM1358.4,1758.5h2.2v1.1h-2.2zM1452.4,1756.9h2.2v1.6h-2.2zM1456.1,1758.5h2.2v1.2h-2.2zM1501.2,1758.5h2.2v2.2h-2.2zM1535,1756.9h2.2v1.6h-2.2zM1565.1,1757.4h2.2v1.1h-2.2zM1647.8,1758.5h2.2v1.3h-2.2zM1670.4,1757.4h2.2v1.1h-2.2zM1685.4,1758.5h2.2v1.9h-2.2zM1708,1758.5h2.2v0.5h-2.2zM1715.5,1756.9h2.2v1.6h-2.2zM1839.5,1758.5h2.2v1.1h-2.2zM1858.3,1758.5h2.2v0.6h-2.2zM1903.4,1756.2h2.2v2.3h-2.2zM1926,1757.8h2.2v0.7h-2.2zM1933.5,1757.7h2.2v0.8h-2.2zM1937.3,1758.5h2.2v0.6h-2.2zM1941,1758.5h2.2v1.1h-2.2z" fill="#178a44"/>
<path d="M907.3,1756.9h2.2v1.6h-2.2zM918.6,1758.5h2.2v1.7h-2.2zM922.3,1758.5h2.2v1.9h-2.2zM990,1758.5h2.2v1.7h-2.2zM1027.6,1757.9h2.2v0.6h-2.2zM1065.2,1758.5h2.2v1.1h-2.2zM1068.9,1758.5h2.2v0.9h-2.2zM1072.7,1758.5h2.2v1.1h-2.2zM1084,1758.5h2.2v1.9h-2.2zM1140.4,1756.6h2.2v1.9h-2.2zM1147.9,1758.5h2.2v1.8h-2.2zM1268.2,1757.6h2.2v0.9h-2.2zM1298.2,1758.5h2.2v0.6h-2.2zM1317,1758.5h2.2v1.5h-2.2zM1324.5,1757.8h2.2v0.7h-2.2zM1362.1,1758.5h2.2v1.4h-2.2zM1369.7,1758.5h2.2v1.8h-2.2zM1429.8,1758.5h2.2v0.9h-2.2zM1444.8,1757.3h2.2v1.2h-2.2zM1478.7,1758.5h2.2v1.3h-2.2zM1516.3,1758.5h2.2v2.4h-2.2zM1531.3,1758.5h2.2v0.7h-2.2zM1568.9,1756.1h2.2v2.4h-2.2zM1583.9,1756.6h2.2v1.9h-2.2zM1606.5,1758.5h2.2v2.3h-2.2zM1625.3,1757h2.2v1.5h-2.2zM1629,1758.5h2.2v0.8h-2.2zM1692.9,1758.5h2.2v1.5h-2.2zM1768.1,1758.5h2.2v0.9h-2.2zM1783.1,1757.1h2.2v1.4h-2.2zM1786.9,1758.5h2.2v1.6h-2.2zM1794.4,1757.1h2.2v1.4h-2.2zM1817,1757.7h2.2v0.8h-2.2zM1824.5,1758.5h2.2v1h-2.2zM1892.2,1757.6h2.2v0.9h-2.2zM1922.2,1758.5h2.2v0.9h-2.2z" fill="#3451a3"/>
<path d="M862.2,1758.5h2.2v2.2h-2.2zM963.7,1758.5h2.2v1.7h-2.2zM967.4,1758.5h2.2v1.3h-2.2zM1035.1,1758.5h2.2v1.6h-2.2zM1038.9,1758.5h2.2v1.8h-2.2zM1121.6,1757.3h2.2v1.2h-2.2zM1125.3,1758.5h2.2v2.5h-2.2zM1136.6,1758.5h2.2v1.6h-2.2zM1177.9,1757.2h2.2v1.3h-2.2zM1181.7,1756.8h2.2v1.7h-2.2zM1230.6,1758.5h2.2v1.7h-2.2zM1253.1,1756.5h2.2v2h-2.2zM1328.3,1758.5h2.2v1.6h-2.2zM1354.6,1758.5h2.2v1.5h-2.2zM1448.6,1758.5h2.2v2.4h-2.2zM1459.9,1757.2h2.2v1.3h-2.2zM1463.6,1758.5h2.2v1.1h-2.2zM1508.7,1758.5h2.2v2.2h-2.2zM1542.6,1758.5h2.2v1.9h-2.2zM1561.4,1758.5h2.2v1h-2.2zM1572.6,1758.5h2.2v1.1h-2.2zM1595.2,1758.5h2.2v2.1h-2.2zM1614,1757.8h2.2v0.7h-2.2zM1674.1,1757.5h2.2v1h-2.2zM1689.2,1758.5h2.2v1.8h-2.2zM1745.6,1758.5h2.2v1.1h-2.2zM1779.4,1758.5h2.2v0.5h-2.2zM1809.5,1758.5h2.2v2.4h-2.2zM1873.4,1758.5h2.2v1.6h-2.2zM1918.5,1757h2.2v1.5h-2.2z" fill="#f6a31e"/>
<path d="M813.3,1758.5h2.2v1.8h-2.2zM824.6,1758.5h2.2v0.8h-2.2zM839.6,1756.9h2.2v1.6h-2.2zM858.4,1756.5h2.2v2h-2.2zM881,1758.5h2.2v1.3h-2.2zM892.3,1758.5h2.2v2.4h-2.2zM896,1757.9h2.2v0.6h-2.2zM926.1,1758.5h2.2v2.4h-2.2zM929.8,1758h2.2v0.5h-2.2zM937.4,1758.5h2.2v1.2h-2.2zM941.1,1758.5h2.2v1.1h-2.2zM952.4,1757h2.2v1.5h-2.2zM956.2,1756.1h2.2v2.4h-2.2zM971.2,1756.3h2.2v2.2h-2.2zM986.2,1758.5h2.2v1h-2.2zM993.8,1756.3h2.2v2.2h-2.2zM1012.5,1758h2.2v0.5h-2.2zM1031.3,1758.5h2.2v1.6h-2.2zM1102.8,1757.8h2.2v0.7h-2.2zM1117.8,1756.1h2.2v2.4h-2.2zM1155.4,1757.1h2.2v1.4h-2.2zM1174.2,1757h2.2v1.5h-2.2zM1241.8,1757.9h2.2v0.6h-2.2zM1467.4,1758.5h2.2v1.8h-2.2zM1486.2,1757.8h2.2v0.7h-2.2zM1489.9,1757.7h2.2v0.8h-2.2zM1497.5,1756.9h2.2v1.6h-2.2zM1520,1758.5h2.2v1h-2.2zM1523.8,1756.2h2.2v2.3h-2.2zM1527.5,1756.1h2.2v2.4h-2.2zM1546.3,1757.1h2.2v1.4h-2.2zM1591.4,1756.9h2.2v1.6h-2.2zM1617.7,1756.9h2.2v1.6h-2.2zM1640.3,1758.5h2.2v0.6h-2.2zM1666.6,1758.5h2.2v1.6h-2.2zM1726.8,1756.9h2.2v1.6h-2.2zM1738,1757.7h2.2v0.8h-2.2zM1741.8,1758.5h2.2v0.8h-2.2zM1756.8,1758.5h2.2v0.7h-2.2zM1775.6,1758.5h2.2v1.9h-2.2zM1790.7,1756.3h2.2v2.2h-2.2zM1820.7,1757.1h2.2v1.4h-2.2zM1835.8,1757h2.2v1.5h-2.2zM1847,1758.5h2.2v1.9h-2.2zM1862.1,1758.5h2.2v0.8h-2.2zM1869.6,1757.2h2.2v1.3h-2.2zM1884.6,1756.5h2.2v2h-2.2zM1910.9,1758.5h2.2v1.5h-2.2zM1914.7,1758.5h2.2v1.1h-2.2z" fill="#e8202a"/>
<text class="M a" transform="matrix(.0504 0 0 .0727 1374.6 1758.5)">A</text>
<text class="L a" transform="matrix(.0465 0 0 .2035 1378.4 1758.5)">A</text>
<text class="L a" transform="matrix(.0465 0 0 .2326 1382.1 1758.5)">A</text>
<text class="M g" transform="matrix(.0432 0 0 -.1163 1385.9 1758.5)">G</text>
<text class="M c" transform="matrix(.0465 0 0 .1599 1389.7 1758.5)">C</text>
<text class="L g" transform="matrix(.0432 0 0 .7413 1393.4 1758.5)">G</text>
<text class="L g" transform="matrix(.0432 0 0 .6831 1397.2 1758.5)">G</text>
<text class="L a" transform="matrix(.0465 0 0 .5233 1400.9 1758.5)">A</text>
<text class="L a" transform="matrix(.0465 0 0 .5087 1404.7 1758.5)">A</text>
<text class="M t" transform="matrix(.055 0 0 .1599 1408.5 1758.5)">T</text>
<text class="M g" transform="matrix(.0432 0 0 .0872 1412.2 1758.5)">G</text>
<text class="M a" transform="matrix(.0504 0 0 .0872 1416 1758.5)">A</text>
<text class="M t" transform="matrix(.055 0 0 -.0473 831.5 1758.5)">T</text>
<text class="M g" transform="matrix(.0432 0 0 .072 835.3 1758.5)">G</text>
<text class="M c" transform="matrix(.0465 0 0 .0692 854.1 1758.5)">C</text>
<text class="M a" transform="matrix(.0504 0 0 -.0578 876.6 1758.5)">A</text>
<text class="M c" transform="matrix(.0465 0 0 .0677 910.5 1758.5)">C</text>
<text class="M a" transform="matrix(.0504 0 0 .0781 959.3 1758.5)">A</text>
<text class="M a" transform="matrix(.0504 0 0 -.0384 978.1 1758.5)">A</text>
<text class="M a" transform="matrix(.0504 0 0 -.0503 1000.7 1758.5)">A</text>
<text class="M a" transform="matrix(.0504 0 0 .042 1008.2 1758.5)">A</text>
<text class="M a" transform="matrix(.0504 0 0 -.0413 1019.5 1758.5)">A</text>
<text class="M g" transform="matrix(.0432 0 0 -.0602 1042 1758.5)">G</text>
<text class="M c" transform="matrix(.0465 0 0 -.0455 1057.1 1758.5)">C</text>
<text class="M c" transform="matrix(.0465 0 0 .0429 1079.6 1758.5)">C</text>
<text class="M a" transform="matrix(.0504 0 0 .0496 1094.6 1758.5)">A</text>
<text class="M t" transform="matrix(.055 0 0 .0586 1113.4 1758.5)">T</text>
<text class="M a" transform="matrix(.0504 0 0 .078 1132.2 1758.5)">A</text>
<text class="M t" transform="matrix(.055 0 0 .041 1166.1 1758.5)">T</text>
<text class="M t" transform="matrix(.055 0 0 -.0372 1184.9 1758.5)">T</text>
<text class="M t" transform="matrix(.055 0 0 -.0425 1196.1 1758.5)">T</text>
<text class="M c" transform="matrix(.0465 0 0 .0599 1199.9 1758.5)">C</text>
<text class="M a" transform="matrix(.0504 0 0 .0653 1203.7 1758.5)">A</text>
<text class="M g" transform="matrix(.0432 0 0 .129 1207.4 1758.5)">G</text>
<text class="M a" transform="matrix(.0504 0 0 .1347 1211.2 1758.5)">A</text>
<text class="M c" transform="matrix(.0465 0 0 .116 1214.9 1758.5)">C</text>
<text class="M g" transform="matrix(.0432 0 0 .1157 1218.7 1758.5)">G</text>
<text class="M g" transform="matrix(.0432 0 0 .0527 1222.5 1758.5)">G</text>
<text class="M c" transform="matrix(.0465 0 0 .0448 1233.7 1758.5)">C</text>
<text class="M c" transform="matrix(.0465 0 0 -.1354 1256.3 1758.5)">C</text>
<text class="M t" transform="matrix(.055 0 0 .0528 1260 1758.5)">T</text>
<text class="M g" transform="matrix(.0432 0 0 .0398 1263.8 1758.5)">G</text>
<text class="M c" transform="matrix(.0465 0 0 .1102 1271.3 1758.5)">C</text>
<text class="M t" transform="matrix(.055 0 0 .1073 1275.1 1758.5)">T</text>
<text class="M t" transform="matrix(.055 0 0 .0623 1278.8 1758.5)">T</text>
<text class="M g" transform="matrix(.0432 0 0 .0411 1282.6 1758.5)">G</text>
<text class="M t" transform="matrix(.055 0 0 .1035 1286.4 1758.5)">T</text>
<text class="M a" transform="matrix(.0504 0 0 -.0576 1290.1 1758.5)">A</text>
<text class="M g" transform="matrix(.0432 0 0 -.0469 1301.4 1758.5)">G</text>
<text class="M g" transform="matrix(.0432 0 0 .0403 1308.9 1758.5)">G</text>
<text class="M g" transform="matrix(.0432 0 0 .0825 1312.7 1758.5)">G</text>
<text class="M c" transform="matrix(.0465 0 0 -.0535 1331.5 1758.5)">C</text>
<text class="M t" transform="matrix(.055 0 0 -.1159 1335.2 1758.5)">T</text>
<text class="M a" transform="matrix(.0504 0 0 -.1023 1339 1758.5)">A</text>
<text class="M c" transform="matrix(.0465 0 0 -.0724 1342.7 1758.5)">C</text>
<text class="M a" transform="matrix(.0504 0 0 -.0868 1346.5 1758.5)">A</text>
<text class="M c" transform="matrix(.0465 0 0 -.0487 1425.4 1758.5)">C</text>
<text class="M a" transform="matrix(.0504 0 0 .0721 1433 1758.5)">A</text>
<text class="M t" transform="matrix(.055 0 0 .1146 1436.7 1758.5)">T</text>
<text class="M g" transform="matrix(.0432 0 0 -.041 1440.5 1758.5)">G</text>
<text class="M g" transform="matrix(.0432 0 0 .0795 1493.1 1758.5)">G</text>
<text class="M c" transform="matrix(.0465 0 0 .0435 1504.4 1758.5)">C</text>
<text class="M a" transform="matrix(.0504 0 0 .0548 1538.2 1758.5)">A</text>
<text class="M a" transform="matrix(.0504 0 0 .0385 1549.5 1758.5)">A</text>
<text class="M g" transform="matrix(.0432 0 0 -.0394 1579.6 1758.5)">G</text>
<text class="M t" transform="matrix(.055 0 0 .0381 1587.1 1758.5)">T</text>
<text class="M g" transform="matrix(.0432 0 0 -.0515 1609.6 1758.5)">G</text>
<text class="M t" transform="matrix(.055 0 0 -.0461 1620.9 1758.5)">T</text>
<text class="M c" transform="matrix(.0465 0 0 -.0549 1632.2 1758.5)">C</text>
<text class="M g" transform="matrix(.0432 0 0 .0746 1643.5 1758.5)">G</text>
<text class="M t" transform="matrix(.055 0 0 .0511 1651 1758.5)">T</text>
<text class="M t" transform="matrix(.055 0 0 .0662 1654.7 1758.5)">T</text>
<text class="M g" transform="matrix(.0432 0 0 -.0392 1658.5 1758.5)">G</text>
<text class="M t" transform="matrix(.055 0 0 .0628 1703.6 1758.5)">T</text>
<text class="M g" transform="matrix(.0432 0 0 -.0444 1711.1 1758.5)">G</text>
<text class="M a" transform="matrix(.0504 0 0 .039 1718.6 1758.5)">A</text>
<text class="M a" transform="matrix(.0504 0 0 .0437 1722.4 1758.5)">A</text>
<text class="M t" transform="matrix(.055 0 0 .0687 1729.9 1758.5)">T</text>
<text class="M a" transform="matrix(.0504 0 0 .0548 1748.7 1758.5)">A</text>
<text class="M g" transform="matrix(.0432 0 0 .041 1771.3 1758.5)">G</text>
<text class="M t" transform="matrix(.055 0 0 -.0549 1797.6 1758.5)">T</text>
<text class="M c" transform="matrix(.0465 0 0 -.0412 1801.3 1758.5)">C</text>
<text class="M a" transform="matrix(.0504 0 0 .0822 1805.1 1758.5)">A</text>
<text class="M g" transform="matrix(.0432 0 0 -.0476 1842.7 1758.5)">G</text>
<text class="M c" transform="matrix(.0465 0 0 -.0545 1850.2 1758.5)">C</text>
<text class="M c" transform="matrix(.0465 0 0 -.0394 1865.2 1758.5)">C</text>
<text class="M a" transform="matrix(.0504 0 0 .0414 1876.5 1758.5)">A</text>
<text class="M t" transform="matrix(.055 0 0 -.041 1880.3 1758.5)">T</text>
<text class="M a" transform="matrix(.0504 0 0 .0561 1899.1 1758.5)">A</text>
<text class="M g" transform="matrix(.0432 0 0 .0711 1906.6 1758.5)">G</text>
<text class="M g" transform="matrix(.0432 0 0 .0502 1929.1 1758.5)">G</text>
<rect x="810" y="1693.6" width="1138" height="99.8" fill="none" stroke="#333" stroke-width="1.4"/>
<text x="1379" y="1686" text-anchor="middle" textLength="348.8" lengthAdjust="spacingAndGlyphs">chr5: 32995664–32996260</text>
<text x="1940.5" y="1719.5" text-anchor="end" textLength="163" lengthAdjust="spacingAndGlyphs">[–0.05, 0.25]</text>
<text x="1373.1" y="1786" font-style="italic" textLength="53.6" lengthAdjust="spacingAndGlyphs">IRF8</text>
<rect x="772.5" y="1834.4" width="23.1" height="99.8" fill="#7AC8AD" stroke="#333" stroke-width="1.1"/>
<rect x="1276" y="1837.6" width="48.8" height="67.4" fill="#e5e6e8"/>
<rect x="1360.1" y="1837.6" width="43.5" height="67.4" fill="#e5e6e8"/>
<rect x="1844.5" y="1837.6" width="67" height="67.4" fill="#e5e6e8"/>
<line x1="814" y1="1900" x2="1946" y2="1900" stroke="#c85050" stroke-width="0.6" opacity="0.6"/>
<path d="M813.3,1899.1h2.2v0.9h-2.2zM817.1,1899.3h2.2v0.7h-2.2zM832.1,1900h2.2v0.6h-2.2zM952.4,1898.4h2.2v1.6h-2.2zM1031.3,1900h2.2v0.6h-2.2zM1053.9,1898.6h2.2v1.4h-2.2zM1084,1900h2.2v1.2h-2.2zM1129.1,1898.7h2.2v1.3h-2.2zM1208,1900h2.2v0.7h-2.2zM1219.3,1898.6h2.2v1.4h-2.2zM1249.4,1900h2.2v1.3h-2.2zM1264.4,1900h2.2v2.3h-2.2zM1335.8,1900h2.2v1.2h-2.2zM1463.6,1898.9h2.2v1.1h-2.2zM1580.2,1898.3h2.2v1.7h-2.2zM1583.9,1898.7h2.2v1.3h-2.2zM1610.2,1900h2.2v2.2h-2.2zM1723,1899.1h2.2v0.9h-2.2zM1726.8,1900h2.2v0.7h-2.2zM1730.5,1899.2h2.2v0.8h-2.2zM1741.8,1898.3h2.2v1.7h-2.2zM1771.9,1898.7h2.2v1.3h-2.2zM1786.9,1897.5h2.2v2.5h-2.2zM1907.2,1898h2.2v2h-2.2z" fill="#178a44"/>
<path d="M854.7,1899h2.2v1h-2.2zM888.5,1898h2.2v2h-2.2zM892.3,1900h2.2v1.9h-2.2zM929.8,1898.4h2.2v1.6h-2.2zM937.4,1899.3h2.2v0.7h-2.2zM959.9,1898.4h2.2v1.6h-2.2zM963.7,1900h2.2v2.2h-2.2zM971.2,1900h2.2v1.6h-2.2zM1050.1,1898.3h2.2v1.7h-2.2zM1057.7,1898.3h2.2v1.7h-2.2zM1087.7,1898h2.2v2h-2.2zM1099,1898.7h2.2v1.3h-2.2zM1117.8,1899.4h2.2v0.6h-2.2zM1132.8,1900h2.2v1.7h-2.2zM1144.1,1900h2.2v0.7h-2.2zM1162.9,1900h2.2v0.7h-2.2zM1170.4,1898.6h2.2v1.4h-2.2zM1204.3,1900h2.2v1.8h-2.2zM1320.8,1900h2.2v1h-2.2zM1441.1,1900h2.2v1.1h-2.2zM1456.1,1900h2.2v2.2h-2.2zM1471.1,1898.6h2.2v1.4h-2.2zM1474.9,1900h2.2v0.9h-2.2zM1531.3,1898h2.2v2h-2.2zM1550.1,1900h2.2v1.1h-2.2zM1572.6,1900h2.2v0.9h-2.2zM1644.1,1898.3h2.2v1.7h-2.2zM1666.6,1899.2h2.2v0.8h-2.2zM1677.9,1900h2.2v1.1h-2.2zM1738,1898.3h2.2v1.7h-2.2zM1764.3,1900h2.2v1.4h-2.2zM1775.6,1900h2.2v1.6h-2.2zM1783.1,1900h2.2v0.6h-2.2zM1832,1900h2.2v2.3h-2.2zM1926,1900h2.2v0.9h-2.2z" fill="#3451a3"/>
<path d="M824.6,1900h2.2v2.4h-2.2zM843.4,1899.3h2.2v0.7h-2.2zM850.9,1898.5h2.2v1.5h-2.2zM858.4,1899.4h2.2v0.6h-2.2zM881,1899h2.2v1h-2.2zM899.8,1900h2.2v2h-2.2zM933.6,1899.5h2.2v0.5h-2.2zM948.6,1898.7h2.2v1.3h-2.2zM975,1897.7h2.2v2.3h-2.2zM978.7,1900h2.2v0.9h-2.2zM986.2,1899.3h2.2v0.7h-2.2zM990,1898.7h2.2v1.3h-2.2zM1001.3,1899.5h2.2v0.5h-2.2zM1005,1899.4h2.2v0.6h-2.2zM1012.5,1900h2.2v1.6h-2.2zM1035.1,1899.1h2.2v0.9h-2.2zM1038.9,1898.1h2.2v1.9h-2.2zM1065.2,1900h2.2v1.4h-2.2zM1076.5,1898.9h2.2v1.1h-2.2zM1114,1898.5h2.2v1.5h-2.2zM1211.8,1900h2.2v1.2h-2.2zM1268.2,1900h2.2v0.8h-2.2zM1339.6,1900h2.2v1.2h-2.2zM1444.8,1900h2.2v1.4h-2.2zM1467.4,1898.3h2.2v1.7h-2.2zM1478.7,1900h2.2v2.4h-2.2zM1482.4,1900h2.2v0.5h-2.2zM1516.3,1897.8h2.2v2.2h-2.2zM1520,1897.9h2.2v2.1h-2.2zM1523.8,1900h2.2v1.8h-2.2zM1614,1899.5h2.2v0.5h-2.2zM1632.8,1900h2.2v1.7h-2.2zM1651.6,1900h2.2v1.4h-2.2zM1670.4,1899.1h2.2v0.9h-2.2zM1813.2,1898h2.2v2h-2.2zM1817,1899.4h2.2v0.6h-2.2zM1835.8,1900h2.2v0.7h-2.2z" fill="#f6a31e"/>
<path d="M828.4,1900h2.2v2h-2.2zM869.7,1899h2.2v1h-2.2zM903.5,1900h2.2v2.3h-2.2zM907.3,1900h2.2v2.1h-2.2zM918.6,1900h2.2v2.1h-2.2zM997.5,1900h2.2v0.8h-2.2zM1008.8,1899.4h2.2v0.6h-2.2zM1023.8,1899.2h2.2v0.8h-2.2zM1027.6,1900h2.2v2.2h-2.2zM1068.9,1900h2.2v2.5h-2.2zM1110.3,1897.6h2.2v2.4h-2.2zM1147.9,1897.9h2.2v2.1h-2.2zM1166.7,1900h2.2v1.6h-2.2zM1215.5,1900h2.2v1h-2.2zM1241.8,1900h2.2v1.3h-2.2zM1271.9,1900h2.2v0.9h-2.2zM1343.3,1899h2.2v1h-2.2zM1354.6,1900h2.2v1.5h-2.2zM1403.5,1900h2.2v0.5h-2.2zM1535,1898.6h2.2v1.4h-2.2zM1565.1,1899.2h2.2v0.8h-2.2zM1568.9,1900h2.2v1.7h-2.2zM1629,1899h2.2v1h-2.2zM1636.5,1900h2.2v0.6h-2.2zM1745.6,1898.3h2.2v1.7h-2.2zM1749.3,1898.9h2.2v1.1h-2.2zM1756.8,1900h2.2v0.7h-2.2zM1760.6,1900h2.2v2.4h-2.2zM1768.1,1898.1h2.2v1.9h-2.2zM1779.4,1900h2.2v0.6h-2.2zM1790.7,1899.4h2.2v0.6h-2.2zM1839.5,1900h2.2v1.2h-2.2zM1929.7,1898.3h2.2v1.7h-2.2zM1933.5,1898.5h2.2v1.5h-2.2z" fill="#e8202a"/>
<text class="M a" transform="matrix(.0504 0 0 -.0436 1274.8 1900)">A</text>
<text class="M c" transform="matrix(.0465 0 0 -.0872 1278.6 1900)">C</text>
<text class="M c" transform="matrix(.0465 0 0 .0436 1282.3 1900)">C</text>
<text class="L c" transform="matrix(.0465 0 0 .2035 1286.1 1900)">C</text>
<text class="L a" transform="matrix(.0465 0 0 .3634 1289.9 1900)">A</text>
<text class="L g" transform="matrix(.0432 0 0 .436 1293.6 1900)">G</text>
<text class="L c" transform="matrix(.0465 0 0 .3779 1297.4 1900)">C</text>
<text class="L t" transform="matrix(.055 0 0 .2762 1301.1 1900)">T</text>
<text class="L g" transform="matrix(.0432 0 0 .4651 1304.9 1900)">G</text>
<text class="M t" transform="matrix(.055 0 0 .0581 1308.7 1900)">T</text>
<text class="M g" transform="matrix(.0432 0 0 -.1017 1312.4 1900)">G</text>
<text class="M g" transform="matrix(.0432 0 0 -.1017 1316.2 1900)">G</text>
<text class="M a" transform="matrix(.0504 0 0 .0872 1358.4 1900)">A</text>
<text class="L c" transform="matrix(.0465 0 0 .4506 1362.2 1900)">C</text>
<text class="L a" transform="matrix(.0465 0 0 .3634 1365.9 1900)">A</text>
<text class="L a" transform="matrix(.0465 0 0 .6686 1369.7 1900)">A</text>
<text class="L g" transform="matrix(.0432 0 0 .2616 1373.5 1900)">G</text>
<text class="L c" transform="matrix(.0465 0 0 .5378 1377.2 1900)">C</text>
<text class="L t" transform="matrix(.055 0 0 .5523 1381 1900)">T</text>
<text class="L g" transform="matrix(.0432 0 0 .7558 1384.7 1900)">G</text>
<text class="L t" transform="matrix(.055 0 0 .436 1388.5 1900)">T</text>
<text class="L g" transform="matrix(.0432 0 0 .3634 1392.3 1900)">G</text>
<text class="L t" transform="matrix(.055 0 0 .4651 1396 1900)">T</text>
<text class="L t" transform="matrix(.055 0 0 .4506 1399.8 1900)">T</text>
<text class="M c" transform="matrix(.0465 0 0 .0436 1842.8 1900)">C</text>
<text class="M a" transform="matrix(.0504 0 0 .0436 1846.6 1900)">A</text>
<text class="L c" transform="matrix(.0465 0 0 .3052 1850.3 1900)">C</text>
<text class="L c" transform="matrix(.0465 0 0 .2907 1854.1 1900)">C</text>
<text class="L a" transform="matrix(.0465 0 0 .407 1857.9 1900)">A</text>
<text class="L a" transform="matrix(.0465 0 0 .3924 1861.6 1900)">A</text>
<text class="L t" transform="matrix(.055 0 0 .2326 1865.4 1900)">T</text>
<text class="M a" transform="matrix(.0504 0 0 .0727 1869.1 1900)">A</text>
<text class="M a" transform="matrix(.0504 0 0 .1453 1872.9 1900)">A</text>
<text class="L c" transform="matrix(.0465 0 0 .189 1876.7 1900)">C</text>
<text class="L g" transform="matrix(.0432 0 0 .2907 1880.4 1900)">G</text>
<text class="L c" transform="matrix(.0465 0 0 .1744 1884.2 1900)">C</text>
<text class="L g" transform="matrix(.0432 0 0 .189 1887.9 1900)">G</text>
<text class="M c" transform="matrix(.0465 0 0 .1163 1891.7 1900)">C</text>
<text class="M g" transform="matrix(.0432 0 0 .0727 1895.4 1900)">G</text>
<text class="M a" transform="matrix(.0504 0 0 -.0491 846.6 1900)">A</text>
<text class="M g" transform="matrix(.0432 0 0 .0686 865.3 1900)">G</text>
<text class="M t" transform="matrix(.055 0 0 .0808 872.9 1900)">T</text>
<text class="M g" transform="matrix(.0432 0 0 -.0468 895.4 1900)">G</text>
<text class="M t" transform="matrix(.055 0 0 -.0562 910.5 1900)">T</text>
<text class="M g" transform="matrix(.0432 0 0 -.0494 921.7 1900)">G</text>
<text class="M t" transform="matrix(.055 0 0 .0605 940.5 1900)">T</text>
<text class="M a" transform="matrix(.0504 0 0 -.0376 966.8 1900)">A</text>
<text class="M a" transform="matrix(.0504 0 0 .0498 981.9 1900)">A</text>
<text class="M g" transform="matrix(.0432 0 0 -.0511 993.2 1900)">G</text>
<text class="M a" transform="matrix(.0504 0 0 .0429 1015.7 1900)">A</text>
<text class="M g" transform="matrix(.0432 0 0 .051 1019.5 1900)">G</text>
<text class="M g" transform="matrix(.0432 0 0 .0382 1042 1900)">G</text>
<text class="M t" transform="matrix(.055 0 0 -.0415 1060.8 1900)">T</text>
<text class="M g" transform="matrix(.0432 0 0 .0628 1079.6 1900)">G</text>
<text class="M c" transform="matrix(.0465 0 0 .0841 1094.6 1900)">C</text>
<text class="M c" transform="matrix(.0465 0 0 .0809 1105.9 1900)">C</text>
<text class="M g" transform="matrix(.0432 0 0 .0387 1121 1900)">G</text>
<text class="M a" transform="matrix(.0504 0 0 .0399 1124.7 1900)">A</text>
<text class="M c" transform="matrix(.0465 0 0 -.0388 1136 1900)">C</text>
<text class="L g" transform="matrix(.0432 0 0 .2516 1177.3 1900)">G</text>
<text class="M a" transform="matrix(.0504 0 0 .1739 1181.1 1900)">A</text>
<text class="L a" transform="matrix(.0465 0 0 .2476 1184.9 1900)">A</text>
<text class="L g" transform="matrix(.0432 0 0 .1798 1188.6 1900)">G</text>
<text class="M a" transform="matrix(.0504 0 0 .086 1192.4 1900)">A</text>
<text class="M g" transform="matrix(.0432 0 0 .0489 1199.9 1900)">G</text>
<text class="M a" transform="matrix(.0504 0 0 .1172 1222.5 1900)">A</text>
<text class="M a" transform="matrix(.0504 0 0 .1288 1226.2 1900)">A</text>
<text class="M c" transform="matrix(.0465 0 0 .0685 1230 1900)">C</text>
<text class="M t" transform="matrix(.055 0 0 .0914 1233.7 1900)">T</text>
<text class="M a" transform="matrix(.0504 0 0 .047 1237.5 1900)">A</text>
<text class="M c" transform="matrix(.0465 0 0 .0824 1252.5 1900)">C</text>
<text class="M t" transform="matrix(.055 0 0 -.0868 1323.9 1900)">T</text>
<text class="M t" transform="matrix(.055 0 0 -.1266 1327.7 1900)">T</text>
<text class="M a" transform="matrix(.0504 0 0 -.0585 1331.5 1900)">A</text>
<text class="M t" transform="matrix(.055 0 0 -.1051 1346.5 1900)">T</text>
<text class="M c" transform="matrix(.0465 0 0 -.1227 1350.3 1900)">C</text>
<text class="M g" transform="matrix(.0432 0 0 .0494 1406.6 1900)">G</text>
<text class="M c" transform="matrix(.0465 0 0 .1043 1410.4 1900)">C</text>
<text class="M g" transform="matrix(.0432 0 0 .0673 1417.9 1900)">G</text>
<text class="M c" transform="matrix(.0465 0 0 .1319 1421.7 1900)">C</text>
<text class="M t" transform="matrix(.055 0 0 .174 1425.4 1900)">T</text>
<text class="M a" transform="matrix(.0504 0 0 .1181 1429.2 1900)">A</text>
<text class="M c" transform="matrix(.0465 0 0 .1208 1433 1900)">C</text>
<text class="M g" transform="matrix(.0432 0 0 .0812 1436.7 1900)">G</text>
<text class="M g" transform="matrix(.0432 0 0 -.0378 1451.8 1900)">G</text>
<text class="M a" transform="matrix(.0504 0 0 .0472 1485.6 1900)">A</text>
<text class="M c" transform="matrix(.0465 0 0 .0989 1493.1 1900)">C</text>
<text class="M g" transform="matrix(.0432 0 0 .1074 1496.9 1900)">G</text>
<text class="M a" transform="matrix(.0504 0 0 .0879 1500.6 1900)">A</text>
<text class="M t" transform="matrix(.055 0 0 .1349 1504.4 1900)">T</text>
<text class="M c" transform="matrix(.0465 0 0 .1177 1508.1 1900)">C</text>
<text class="M g" transform="matrix(.0432 0 0 .1359 1511.9 1900)">G</text>
<text class="M c" transform="matrix(.0465 0 0 -.04 1526.9 1900)">C</text>
<text class="M c" transform="matrix(.0465 0 0 .0682 1557 1900)">C</text>
<text class="M c" transform="matrix(.0465 0 0 .0447 1560.8 1900)">C</text>
<text class="M a" transform="matrix(.0504 0 0 .0522 1587.1 1900)">A</text>
<text class="M g" transform="matrix(.0432 0 0 .0677 1590.8 1900)">G</text>
<text class="M c" transform="matrix(.0465 0 0 .0748 1594.6 1900)">C</text>
<text class="M c" transform="matrix(.0465 0 0 .0514 1598.4 1900)">C</text>
<text class="M t" transform="matrix(.055 0 0 .0571 1602.1 1900)">T</text>
<text class="M t" transform="matrix(.055 0 0 .0676 1605.9 1900)">T</text>
<text class="M c" transform="matrix(.0465 0 0 .0408 1617.1 1900)">C</text>
<text class="M c" transform="matrix(.0465 0 0 -.0396 1620.9 1900)">C</text>
<text class="M a" transform="matrix(.0504 0 0 .0834 1624.7 1900)">A</text>
<text class="M c" transform="matrix(.0465 0 0 .0415 1639.7 1900)">C</text>
<text class="M a" transform="matrix(.0504 0 0 -.0516 1658.5 1900)">A</text>
<text class="M g" transform="matrix(.0432 0 0 .1049 1681 1900)">G</text>
<text class="M c" transform="matrix(.0465 0 0 .0618 1684.8 1900)">C</text>
<text class="M a" transform="matrix(.0504 0 0 .0965 1688.6 1900)">A</text>
<text class="M a" transform="matrix(.0504 0 0 .0625 1692.3 1900)">A</text>
<text class="M c" transform="matrix(.0465 0 0 .0752 1696.1 1900)">C</text>
<text class="M g" transform="matrix(.0432 0 0 .0747 1699.8 1900)">G</text>
<text class="M g" transform="matrix(.0432 0 0 .0517 1703.6 1900)">G</text>
<text class="M t" transform="matrix(.055 0 0 .0417 1707.4 1900)">T</text>
<text class="M t" transform="matrix(.055 0 0 .0672 1711.1 1900)">T</text>
<text class="M t" transform="matrix(.055 0 0 .0706 1714.9 1900)">T</text>
<text class="M g" transform="matrix(.0432 0 0 .0558 1718.6 1900)">G</text>
<text class="M g" transform="matrix(.0432 0 0 .0792 1733.7 1900)">G</text>
<text class="M c" transform="matrix(.0465 0 0 .075 1793.8 1900)">C</text>
<text class="M g" transform="matrix(.0432 0 0 .0673 1797.6 1900)">G</text>
<text class="M t" transform="matrix(.055 0 0 -.0473 1805.1 1900)">T</text>
<text class="M c" transform="matrix(.0465 0 0 -.0523 1820.1 1900)">C</text>
<text class="M a" transform="matrix(.0504 0 0 -.0577 1827.7 1900)">A</text>
<text class="M a" transform="matrix(.0504 0 0 -.1024 1914.1 1900)">A</text>
<text class="M g" transform="matrix(.0432 0 0 -.0618 1917.9 1900)">G</text>
<text class="M a" transform="matrix(.0504 0 0 -.0835 1921.6 1900)">A</text>
<text class="M a" transform="matrix(.0504 0 0 .0808 1940.4 1900)">A</text>
<rect x="810" y="1834.4" width="1138" height="99.8" fill="none" stroke="#333" stroke-width="1.4"/>
<text x="1379" y="1823" text-anchor="middle" textLength="363.5" lengthAdjust="spacingAndGlyphs">chr4: 136140369–136140882</text>
<text x="1940.5" y="1860.9" text-anchor="end" textLength="166" lengthAdjust="spacingAndGlyphs">[–0.02, 0.08]</text>
<text x="1258" y="1926.6" font-style="italic" textLength="77.3" lengthAdjust="spacingAndGlyphs">TFAP4</text>
<text x="1345.8" y="1926.6" font-style="italic" textLength="77.7" lengthAdjust="spacingAndGlyphs">TFAP4</text>
<text x="1850.6" y="1926.6" font-style="italic" textLength="54.8" lengthAdjust="spacingAndGlyphs">Nfya</text>
<rect x="772.5" y="1974.8" width="23.1" height="99.8" fill="#0B6560" stroke="#333" stroke-width="1.1"/>
<rect x="1137.7" y="1977.4" width="71" height="68.1" fill="#e5e6e8"/>
<rect x="1221.4" y="1977.4" width="41" height="68.1" fill="#e5e6e8"/>
<rect x="1497.3" y="1977.4" width="41.1" height="68.1" fill="#e5e6e8"/>
<line x1="814" y1="2036" x2="1946" y2="2036" stroke="#c85050" stroke-width="0.6" opacity="0.6"/>
<path d="M813.3,2036h2.2v0.9h-2.2zM820.8,2036h2.2v0.9h-2.2zM824.6,2035h2.2v1h-2.2zM839.6,2036h2.2v0.8h-2.2zM850.9,2034.9h2.2v1.1h-2.2zM854.7,2034.7h2.2v1.3h-2.2zM892.3,2036h2.2v0.6h-2.2zM899.8,2036h2.2v1.1h-2.2zM914.8,2036h2.2v0.6h-2.2zM922.3,2035h2.2v1h-2.2zM956.2,2034.2h2.2v1.8h-2.2zM971.2,2036h2.2v2.4h-2.2zM978.7,2036h2.2v1.3h-2.2zM1016.3,2034.3h2.2v1.7h-2.2zM1031.3,2036h2.2v1.8h-2.2zM1121.6,2034.5h2.2v1.5h-2.2zM1264.4,2036h2.2v1.6h-2.2zM1298.2,2036h2.2v1h-2.2zM1328.3,2036h2.2v0.9h-2.2zM1411,2036h2.2v0.9h-2.2zM1422.3,2035.2h2.2v0.8h-2.2zM1456.1,2036h2.2v1.6h-2.2zM1478.7,2034.2h2.2v1.8h-2.2zM1482.4,2036h2.2v0.8h-2.2zM1538.8,2034.2h2.2v1.8h-2.2zM1565.1,2033.7h2.2v2.3h-2.2zM1655.3,2034.9h2.2v1.1h-2.2zM1704.2,2034.1h2.2v1.9h-2.2zM1734.3,2036h2.2v1.6h-2.2zM1738,2036h2.2v1.4h-2.2zM1756.8,2034.1h2.2v1.9h-2.2zM1764.3,2036h2.2v1.1h-2.2zM1768.1,2036h2.2v0.5h-2.2zM1839.5,2036h2.2v0.7h-2.2zM1843.3,2036h2.2v0.6h-2.2zM1862.1,2034.9h2.2v1.1h-2.2zM1869.6,2033.8h2.2v2.2h-2.2zM1880.9,2034h2.2v2h-2.2zM1884.6,2034.2h2.2v1.8h-2.2zM1907.2,2035h2.2v1h-2.2zM1918.5,2034.3h2.2v1.7h-2.2zM1922.2,2036h2.2v0.6h-2.2zM1929.7,2036h2.2v2.2h-2.2z" fill="#178a44"/>
<path d="M877.2,2034.1h2.2v1.9h-2.2zM881,2034.8h2.2v1.2h-2.2zM926.1,2036h2.2v0.8h-2.2zM959.9,2035.2h2.2v0.8h-2.2zM967.4,2036h2.2v0.5h-2.2zM993.8,2036h2.2v1.9h-2.2zM1005,2036h2.2v1.3h-2.2zM1020.1,2035.2h2.2v0.8h-2.2zM1211.8,2036h2.2v2.3h-2.2zM1362.1,2035.3h2.2v0.7h-2.2zM1369.7,2033.6h2.2v2.4h-2.2zM1377.2,2036h2.2v1.6h-2.2zM1437.3,2036h2.2v1.6h-2.2zM1463.6,2036h2.2v1h-2.2zM1493.7,2034.8h2.2v1.2h-2.2zM1535,2036h2.2v0.6h-2.2zM1557.6,2035.1h2.2v0.9h-2.2zM1587.7,2035.3h2.2v0.7h-2.2zM1591.4,2034.8h2.2v1.2h-2.2zM1599,2036h2.2v1.1h-2.2zM1629,2036h2.2v2.2h-2.2zM1644.1,2036h2.2v2.3h-2.2zM1662.9,2034.4h2.2v1.6h-2.2zM1715.5,2036h2.2v1.2h-2.2zM1749.3,2034.2h2.2v1.8h-2.2zM1786.9,2034.7h2.2v1.3h-2.2zM1828.3,2036h2.2v0.6h-2.2zM1832,2034.4h2.2v1.6h-2.2zM1877.1,2033.9h2.2v2.1h-2.2zM1903.4,2034.3h2.2v1.7h-2.2zM1933.5,2036h2.2v0.5h-2.2z" fill="#3451a3"/>
<path d="M817.1,2034.9h2.2v1.1h-2.2zM911.1,2036h2.2v0.8h-2.2zM937.4,2035h2.2v1h-2.2zM986.2,2035h2.2v1h-2.2zM1046.4,2033.8h2.2v2.2h-2.2zM1057.7,2035.1h2.2v0.9h-2.2zM1068.9,2033.9h2.2v2.1h-2.2zM1110.3,2034.8h2.2v1.2h-2.2zM1117.8,2035.1h2.2v0.9h-2.2zM1324.5,2036h2.2v1.6h-2.2zM1365.9,2036h2.2v1.1h-2.2zM1426,2036h2.2v1.2h-2.2zM1546.3,2034h2.2v2h-2.2zM1550.1,2034.4h2.2v1.6h-2.2zM1602.7,2034.9h2.2v1.1h-2.2zM1614,2034.1h2.2v1.9h-2.2zM1689.2,2036h2.2v1h-2.2zM1700.4,2035.4h2.2v0.6h-2.2zM1817,2036h2.2v0.9h-2.2zM1824.5,2036h2.2v1.5h-2.2zM1835.8,2036h2.2v1.6h-2.2zM1850.8,2034.5h2.2v1.5h-2.2zM1873.4,2036h2.2v1h-2.2zM1895.9,2036h2.2v1.3h-2.2zM1926,2036h2.2v1.3h-2.2z" fill="#f6a31e"/>
<path d="M828.4,2033.8h2.2v2.2h-2.2zM832.1,2035h2.2v1h-2.2zM835.9,2036h2.2v1.2h-2.2zM888.5,2034h2.2v2h-2.2zM952.4,2034.8h2.2v1.2h-2.2zM963.7,2034.6h2.2v1.4h-2.2zM975,2035.5h2.2v0.5h-2.2zM982.5,2033.8h2.2v2.2h-2.2zM997.5,2034.2h2.2v1.8h-2.2zM1008.8,2036h2.2v1.6h-2.2zM1027.6,2036h2.2v1h-2.2zM1042.6,2036h2.2v1.4h-2.2zM1050.1,2035.2h2.2v0.8h-2.2zM1087.7,2034.5h2.2v1.5h-2.2zM1091.5,2034.2h2.2v1.8h-2.2zM1260.6,2036h2.2v0.6h-2.2zM1290.7,2036h2.2v2h-2.2zM1302,2036h2.2v1.8h-2.2zM1339.6,2035.3h2.2v0.7h-2.2zM1354.6,2036h2.2v1.1h-2.2zM1384.7,2033.7h2.2v2.3h-2.2zM1429.8,2036h2.2v2h-2.2zM1474.9,2033.7h2.2v2.3h-2.2zM1553.8,2034.5h2.2v1.5h-2.2zM1580.2,2036h2.2v0.9h-2.2zM1606.5,2034.6h2.2v1.4h-2.2zM1621.5,2036h2.2v1.2h-2.2zM1670.4,2036h2.2v1.4h-2.2zM1681.6,2036h2.2v1h-2.2zM1685.4,2034.7h2.2v1.3h-2.2zM1726.8,2034.4h2.2v1.6h-2.2zM1779.4,2036h2.2v0.7h-2.2zM1783.1,2036h2.2v1.7h-2.2zM1813.2,2036h2.2v2.1h-2.2zM1865.8,2035.4h2.2v0.6h-2.2zM1899.7,2033.8h2.2v2.2h-2.2zM1937.3,2036h2.2v1.7h-2.2z" fill="#e8202a"/>
<text class="M g" transform="matrix(.0432 0 0 .1599 1129.5 2036)">G</text>
<text class="L g" transform="matrix(.0432 0 0 .189 1133.3 2036)">G</text>
<text class="L c" transform="matrix(.0465 0 0 .2326 1137 2036)">C</text>
<text class="L c" transform="matrix(.0465 0 0 .7994 1140.8 2036)">C</text>
<text class="L g" transform="matrix(.0432 0 0 .2326 1144.6 2036)">G</text>
<text class="M t" transform="matrix(.055 0 0 .0436 1148.3 2036)">T</text>
<text class="M t" transform="matrix(.055 0 0 .1599 1152.1 2036)">T</text>
<text class="L a" transform="matrix(.0465 0 0 .3052 1155.8 2036)">A</text>
<text class="L g" transform="matrix(.0432 0 0 .4797 1159.6 2036)">G</text>
<text class="L g" transform="matrix(.0432 0 0 .407 1163.4 2036)">G</text>
<text class="L g" transform="matrix(.0432 0 0 .3779 1167.1 2036)">G</text>
<text class="L g" transform="matrix(.0432 0 0 .4215 1170.9 2036)">G</text>
<text class="L c" transform="matrix(.0465 0 0 .4797 1174.6 2036)">C</text>
<text class="L g" transform="matrix(.0432 0 0 .2907 1178.4 2036)">G</text>
<text class="M a" transform="matrix(.0504 0 0 -.0581 1182.1 2036)">A</text>
<text class="M c" transform="matrix(.0465 0 0 .1453 1185.9 2036)">C</text>
<text class="M a" transform="matrix(.0504 0 0 .0872 1189.7 2036)">A</text>
<text class="M t" transform="matrix(.055 0 0 .0727 1193.4 2036)">T</text>
<text class="M t" transform="matrix(.055 0 0 .0436 1197.2 2036)">T</text>
<text class="M t" transform="matrix(.055 0 0 .1599 1220.7 2036)">T</text>
<text class="L t" transform="matrix(.055 0 0 .1744 1224.5 2036)">T</text>
<text class="M g" transform="matrix(.0432 0 0 .0872 1228.2 2036)">G</text>
<text class="L t" transform="matrix(.055 0 0 .189 1232 2036)">T</text>
<text class="L t" transform="matrix(.055 0 0 .3779 1235.8 2036)">T</text>
<text class="L t" transform="matrix(.055 0 0 .407 1239.5 2036)">T</text>
<text class="L c" transform="matrix(.0465 0 0 .3052 1243.3 2036)">C</text>
<text class="L c" transform="matrix(.0465 0 0 .4215 1247 2036)">C</text>
<text class="L g" transform="matrix(.0432 0 0 .189 1250.8 2036)">G</text>
<text class="M g" transform="matrix(.0432 0 0 .1453 1254.6 2036)">G</text>
<text class="M a" transform="matrix(.0504 0 0 .0872 1495.6 2036)">A</text>
<text class="M c" transform="matrix(.0465 0 0 .0581 1499.4 2036)">C</text>
<text class="M a" transform="matrix(.0504 0 0 .1163 1503.1 2036)">A</text>
<text class="L g" transform="matrix(.0432 0 0 .3343 1506.9 2036)">G</text>
<text class="L g" transform="matrix(.0432 0 0 .2907 1510.7 2036)">G</text>
<text class="L a" transform="matrix(.0465 0 0 .4651 1514.4 2036)">A</text>
<text class="L a" transform="matrix(.0465 0 0 .3343 1518.2 2036)">A</text>
<text class="L g" transform="matrix(.0432 0 0 .2471 1521.9 2036)">G</text>
<text class="M t" transform="matrix(.055 0 0 .1308 1525.7 2036)">T</text>
<text class="M a" transform="matrix(.0504 0 0 .0436 1529.5 2036)">A</text>
<text class="M t" transform="matrix(.055 0 0 .0728 842.8 2036)">T</text>
<text class="M a" transform="matrix(.0504 0 0 .0395 846.6 2036)">A</text>
<text class="M a" transform="matrix(.0504 0 0 .0545 857.8 2036)">A</text>
<text class="M c" transform="matrix(.0465 0 0 .0442 869.1 2036)">C</text>
<text class="M a" transform="matrix(.0504 0 0 -.0393 895.4 2036)">A</text>
<text class="M c" transform="matrix(.0465 0 0 .0817 929.2 2036)">C</text>
<text class="M g" transform="matrix(.0432 0 0 .0377 933 2036)">G</text>
<text class="M c" transform="matrix(.0465 0 0 -.0527 940.5 2036)">C</text>
<text class="M a" transform="matrix(.0504 0 0 .0401 1011.9 2036)">A</text>
<text class="M t" transform="matrix(.055 0 0 -.0524 1023.2 2036)">T</text>
<text class="M c" transform="matrix(.0465 0 0 .0547 1034.5 2036)">C</text>
<text class="M a" transform="matrix(.0504 0 0 .0394 1038.3 2036)">A</text>
<text class="M g" transform="matrix(.0432 0 0 .0636 1053.3 2036)">G</text>
<text class="M g" transform="matrix(.0432 0 0 .0996 1072.1 2036)">G</text>
<text class="M t" transform="matrix(.055 0 0 .0905 1075.9 2036)">T</text>
<text class="M a" transform="matrix(.0504 0 0 .1185 1079.6 2036)">A</text>
<text class="M g" transform="matrix(.0432 0 0 .094 1083.4 2036)">G</text>
<text class="M g" transform="matrix(.0432 0 0 -.0436 1102.2 2036)">G</text>
<text class="M a" transform="matrix(.0504 0 0 .0655 1199.9 2036)">A</text>
<text class="M t" transform="matrix(.055 0 0 -.0373 1218.7 2036)">T</text>
<text class="M a" transform="matrix(.0504 0 0 .0825 1267.6 2036)">A</text>
<text class="M t" transform="matrix(.055 0 0 .0742 1271.3 2036)">T</text>
<text class="M g" transform="matrix(.0432 0 0 .0696 1275.1 2036)">G</text>
<text class="M a" transform="matrix(.0504 0 0 .06 1278.8 2036)">A</text>
<text class="M t" transform="matrix(.055 0 0 .0609 1282.6 2036)">T</text>
<text class="M g" transform="matrix(.0432 0 0 .0833 1286.4 2036)">G</text>
<text class="M t" transform="matrix(.055 0 0 .0383 1293.9 2036)">T</text>
<text class="M t" transform="matrix(.055 0 0 .12 1320.2 2036)">T</text>
<text class="M t" transform="matrix(.055 0 0 .0396 1331.5 2036)">T</text>
<text class="M a" transform="matrix(.0504 0 0 .0646 1350.3 2036)">A</text>
<text class="M c" transform="matrix(.0465 0 0 .0703 1357.8 2036)">C</text>
<text class="M c" transform="matrix(.0465 0 0 .0781 1387.8 2036)">C</text>
<text class="M g" transform="matrix(.0432 0 0 .0857 1391.6 2036)">G</text>
<text class="M c" transform="matrix(.0465 0 0 .0554 1395.4 2036)">C</text>
<text class="M a" transform="matrix(.0504 0 0 .0777 1399.1 2036)">A</text>
<text class="M g" transform="matrix(.0432 0 0 .0502 1402.9 2036)">G</text>
<text class="M g" transform="matrix(.0432 0 0 .0864 1406.6 2036)">G</text>
<text class="M c" transform="matrix(.0465 0 0 .0401 1417.9 2036)">C</text>
<text class="M t" transform="matrix(.055 0 0 .0754 1440.5 2036)">T</text>
<text class="M c" transform="matrix(.0465 0 0 .0831 1444.2 2036)">C</text>
<text class="M a" transform="matrix(.0504 0 0 .1029 1448 2036)">A</text>
<text class="M a" transform="matrix(.0504 0 0 .1135 1451.8 2036)">A</text>
<text class="M t" transform="matrix(.055 0 0 -.0588 1466.8 2036)">T</text>
<text class="M c" transform="matrix(.0465 0 0 -.0519 1485.6 2036)">C</text>
<text class="M c" transform="matrix(.0465 0 0 .0415 1542 2036)">C</text>
<text class="M a" transform="matrix(.0504 0 0 -.0576 1609.6 2036)">A</text>
<text class="M a" transform="matrix(.0504 0 0 .0522 1617.1 2036)">A</text>
<text class="M g" transform="matrix(.0432 0 0 .0534 1647.2 2036)">G</text>
<text class="M c" transform="matrix(.0465 0 0 .0509 1658.5 2036)">C</text>
<text class="M g" transform="matrix(.0432 0 0 -.0369 1677.3 2036)">G</text>
<text class="M c" transform="matrix(.0465 0 0 -.0581 1707.4 2036)">C</text>
<text class="M t" transform="matrix(.055 0 0 -.0388 1711.1 2036)">T</text>
<text class="M a" transform="matrix(.0504 0 0 .0484 1722.4 2036)">A</text>
<text class="M c" transform="matrix(.0465 0 0 .0475 1729.9 2036)">C</text>
<text class="M t" transform="matrix(.055 0 0 .0757 1745 2036)">T</text>
<text class="M c" transform="matrix(.0465 0 0 .0669 1752.5 2036)">C</text>
<text class="M a" transform="matrix(.0504 0 0 -.0759 1771.3 2036)">A</text>
<text class="M c" transform="matrix(.0465 0 0 .0503 1775 2036)">C</text>
<text class="M t" transform="matrix(.055 0 0 -.0483 1790.1 2036)">T</text>
<text class="M g" transform="matrix(.0432 0 0 .079 1808.9 2036)">G</text>
<text class="M a" transform="matrix(.0504 0 0 .0517 1854 2036)">A</text>
<text class="M a" transform="matrix(.0504 0 0 -.0366 1857.7 2036)">A</text>
<text class="M g" transform="matrix(.0432 0 0 .0788 1910.3 2036)">G</text>
<text class="M c" transform="matrix(.0465 0 0 .0697 1914.1 2036)">C</text>
<text class="M t" transform="matrix(.055 0 0 -.042 1940.4 2036)">T</text>
<rect x="810" y="1974.8" width="1138" height="99.8" fill="none" stroke="#333" stroke-width="1.4"/>
<text x="1379" y="1966" text-anchor="middle" textLength="327.9" lengthAdjust="spacingAndGlyphs">chr1: 87187040–87187340</text>
<text x="1940.5" y="2001" text-anchor="end" textLength="167.5" lengthAdjust="spacingAndGlyphs">[–0.02, 0.06]</text>
<text x="1136.1" y="2066.8" font-style="italic" textLength="66.8" lengthAdjust="spacingAndGlyphs">CTCF</text>
<text x="1219.1" y="2066.8" font-style="italic" textLength="57" lengthAdjust="spacingAndGlyphs">ETS1</text>
<text x="1489" y="2066.8" font-style="italic" textLength="58" lengthAdjust="spacingAndGlyphs">ETS1</text>
<line x1="814.4" y1="2074.5" x2="814.4" y2="2088.2" stroke="#333" stroke-width="1.3"/>
<text x="814.4" y="2117" text-anchor="middle">0</text>
<line x1="1186.6" y1="2074.5" x2="1186.6" y2="2088.2" stroke="#333" stroke-width="1.3"/>
<text x="1189.8" y="2117" text-anchor="middle">100</text>
<line x1="1563.7" y1="2074.5" x2="1563.7" y2="2088.2" stroke="#333" stroke-width="1.3"/>
<text x="1566" y="2117" text-anchor="middle">200</text>
<line x1="1942" y1="2074.5" x2="1942" y2="2088.2" stroke="#333" stroke-width="1.3"/>
<text x="1941.8" y="2117" text-anchor="middle">300</text>
<text x="758.4" y="1400" text-anchor="middle" textLength="196.5" lengthAdjust="spacingAndGlyphs" transform="rotate(-90 758.4 1400)">Trained models</text>
<rect x="474" y="2134.4" width="24.2" height="23.9" fill="#F49EB5" stroke="#333" stroke-width="1.1"/>
<rect x="474" y="2180.4" width="24.2" height="24.2" fill="#CA76A9" stroke="#333" stroke-width="1.1"/>
<text x="513.3" y="2154.6" textLength="200.4" lengthAdjust="spacingAndGlyphs">Ventral neurons</text>
<text x="513.3" y="2200.6" textLength="190" lengthAdjust="spacingAndGlyphs">Dorsal neurons</text>
<rect x="759.6" y="2134.4" width="24.2" height="23.9" fill="#8B267E" stroke="#333" stroke-width="1.1"/>
<rect x="759.6" y="2180.4" width="24.2" height="24.2" fill="#F05A62" stroke="#333" stroke-width="1.1"/>
<text x="798.2" y="2154.6" textLength="133.5" lengthAdjust="spacingAndGlyphs">Astrocytes</text>
<text x="798.2" y="2200.6" textLength="140.8" lengthAdjust="spacingAndGlyphs">Ependymal</text>
<rect x="986.5" y="2134.4" width="24.2" height="23.9" fill="#FFCC00" stroke="#333" stroke-width="1.1"/>
<rect x="986.5" y="2180.4" width="24.2" height="24.2" fill="#F7A020" stroke="#333" stroke-width="1.1"/>
<text x="1023.6" y="2154.6" textLength="69.5" lengthAdjust="spacingAndGlyphs">OPCs</text>
<text x="1023.6" y="2200.6" textLength="228" lengthAdjust="spacingAndGlyphs">Oligodendrocytes</text>
<rect x="1297.3" y="2134.4" width="24.2" height="23.9" fill="#2E5591" stroke="#333" stroke-width="1.1"/>
<rect x="1297.3" y="2180.4" width="24.2" height="24.2" fill="#4BAFD2" stroke="#333" stroke-width="1.1"/>
<text x="1335.1" y="2154.6" textLength="116.5" lengthAdjust="spacingAndGlyphs">Microglia</text>
<text x="1335.1" y="2200.6" textLength="238.2" lengthAdjust="spacingAndGlyphs">Peripheral immune</text>
<rect x="1617.5" y="2134.4" width="24.2" height="23.9" fill="#7AC8AD" stroke="#333" stroke-width="1.1"/>
<rect x="1617.5" y="2180.4" width="24.2" height="24.2" fill="#0B6560" stroke="#333" stroke-width="1.1"/>
<text x="1655.7" y="2154.6" textLength="153.7" lengthAdjust="spacingAndGlyphs">Perivascular</text>
<text x="1655.7" y="2200.6" textLength="142.6" lengthAdjust="spacingAndGlyphs">Endothelial</text>
<text x="1996.7" y="704.5" font-weight="bold" font-size="40">g</text>
<line x1="2013.5" y1="815.3" x2="2163.5" y2="815.3" stroke="#F49EB5" stroke-width="1" opacity="0.4"/>
<path d="M2019.5,815.3l0.5,-2l2.5,-1l0.8,1.2l1.7,-1.9l0.8,0.8l0.9,-3.2l0.8,2.8l0.8,-2.2l0.9,0.4l0.8,-2.2l0.8,1.8l1.7,-2.1l1.7,-0.2l0.8,-2.4l0.8,0.6l0.9,-2.8l0.8,1.5l2.5,-5.9l0.8,2.9l0.8,-0.8l0.8,-3.6l0.8,2.8l0.8,-4.8l1.6,1.8l0.8,-3.5l0.8,-0.3l0.8,1.4l0.8,-2.9l0.8,2.3l0.8,-2.7l0.8,-0.3l0.8,-2.1l0.9,1.4l1.7,-4.7l0.8,0.3l3.4,-6.2l0.8,1.9l0.8,-1.6l1.6,2.8l0.8,-4.8l0.8,2.9l0.8,-4.4l0.8,-1.1l0.8,1.1l0.9,3.5l1.7,-0.5l0.8,2.3l0.9,-1.9l0.8,-0.3l0.9,1.9l1,-1.4l1,-1.6l1,-5.8l0.8,-0.5l5.2,-35.3l2,-18.3l1.6,10.5l0.8,-1.2l0.8,4.5l0.8,-6.8l3,33.5l3,3.3l3.3,-12.6l0.9,-0l1.6,-6l0.9,1.5l0.8,-4.2l0.8,3l0.9,-5.9l0.8,3.3l0.8,-3.1l0.9,5.3l0.8,-2.5l0.8,9l1.7,1.3l1.7,10.5l1.6,2.9l1.7,11.1l0.9,-0.4l0.8,1.8l2.7,8l0.8,-3.1l0.9,6.2l0.9,-1.1l0.8,0.6l0.9,2.7l0.8,-2l0.8,-0.7l2.5,6.1l0.9,-3.6l0.8,2.9l1.7,-0l1.6,5l0.9,0.5l0.8,-1.7l0.8,2.3l0.9,-1.5l0.8,1.4l0.8,-0.1l1.7,4.5l0.8,-1.2l0.9,4l1.6,-2.1l1.7,3.9l0.8,-0.9l1.7,1.5l0.8,-1.5l0.9,2.6l0.8,0.7l0.8,-0.3l0.9,1.6l1.6,-0l0.9,-1.7l0.8,3.2l1.7,-1l3.3,0.9l0,2z" fill="#F49EB5"/>
<line x1="2030.5" y1="954.4" x2="2137" y2="954.4" stroke="#CA76A9" stroke-width="1" opacity="0.4"/>
<path d="M2036.5,954.4l0,-27.4l0.8,-4.5l0.9,5.1l0.8,-4.4l0.9,5.5l0.8,-3.1l0.9,0.9l0.9,3.2l0.8,-4.5l0.9,1.6l0.8,-0.4l0.8,3l2.5,3.6l0.9,-2.1l0.8,-0.1l0.8,2.1l0.9,-0.1l0.8,-2.7l0.8,0.1l1.7,-2.3l0.9,-2.9l0.8,0.8l0.9,-1.2l0.9,0.4l0.9,-3.8l1.7,4.3l0.9,-1l1.6,-5.3l0.8,4.2l1.6,-5.1l1.6,4.2l0.8,-3.4l0.8,1l0.8,0l0.8,-4.8l0.8,4.7l0.8,-4.8l1.6,0.6l1.6,2.4l1.6,-6.3l0.8,4.5l0.8,-2l1.7,-10l0.8,3.6l0.9,-8.2l0.8,2.7l1.8,-4.1l1.7,-10.1l0.9,0.4l0.8,3.2l1.8,-7.2l0.9,1.9l0.8,-6.7l0.9,1.3l0.9,-7l0.9,-0.3l0.8,-1.5l0.9,4.1l1.7,-7.3l0.9,4.3l0.8,-0.6l2.5,-12.5l0.8,0.3l0.8,8.5l0.8,0.5l0.8,-8.3l1.6,11.4l0.8,-4.1l1.6,7.1l0.8,1.1l1.7,6.1l0.8,8.4l0.8,2l0.9,-1.1l0.8,8.1l1.7,2.2l2.5,11.9l0.8,0.7l0.8,6.4l1.7,-0.2l1.7,8.1l0.8,-1.2l0.9,0.1l1.7,1.8l1.7,-4.3l0.8,2.6l0.9,-2.1l0,28z" fill="#CA76A9"/>
<line x1="2027.2" y1="1094.9" x2="2150.2" y2="1094.9" stroke="#8B267E" stroke-width="1" opacity="0.4"/>
<path d="M2033.2,1094.9l0,-3l0.8,-1.5l0.9,2.3l0.8,-0.2l0.9,-3.1l0.8,1.1l1.7,-1.6l0.8,-0l0.9,0.9l2.5,-3.3l1.7,2.2l1.8,-6.4l0.8,-5.7l0.9,-0.4l1.8,-5.4l0.8,-5.1l1.7,-5.3l2.5,-25.2l0.9,-0l0.8,-11l0.8,-0.1l1.7,-13.3l0.8,0.1l2.5,-12l0.9,1.5l0.8,8.8l0.8,1.1l0.9,-4.4l0.8,2.9l0.8,7.4l0.9,-1.6l0.8,9.4l0.8,0.3l0.9,9.3l0.8,-0.4l0.8,3.3l4.2,25.3l1.6,-2l1.6,7.5l0.8,1.6l0.8,0.7l0.8,-2.2l0.8,4.8l0.8,-1.6l1.7,4.2l1.7,3l0.9,0.5l0.9,2.3l0.8,-0.3l0.9,0.7l0.9,1.7l0.9,-2.3l1.7,-0.4l1.7,2.3l0.8,-3.1l0.9,-1.3l0.9,0.1l0.8,-0.7l2.6,-6.2l0.8,0.3l0.9,-0.8l0.9,-4.2l0.8,-0l0.9,-2.9l0.8,0.2l3.4,-10l0.8,1.4l0.8,-0.2l1.6,-5.6l4.3,12.3l0.8,-1.5l0.9,5.3l1.6,-1.7l0.8,4.3l1.6,2.1l2.4,7.7l0.8,-0.2l1.6,3.7l0.8,-1.9l1.6,3.6l0.8,-1.3l0.8,1.3l0.8,-0.1l0.8,3.2l0.8,0.2l0.8,1.6l0.8,-1.6l0.8,-0.1l1.7,1.1l0.8,2.4l0.8,-2.6l0.8,3.2l0.9,-2.1l0.8,2.6l0.8,-0.9l0,5z" fill="#8B267E"/>
<line x1="2020.6" y1="1237.1" x2="2150.6" y2="1237.1" stroke="#F05A62" stroke-width="1" opacity="0.4"/>
<path d="M2026.6,1237.1l0,-2l2.5,-1.6l0.9,0.1l0.8,-1.9l0.8,1.2l0.9,-2.1l0.8,2.6l1.7,-2.2l0.8,0.7l0.9,-3.5l0.8,-0.6l0.8,1.1l1.7,-1.9l1.7,0.6l0.8,-3.3l0.8,-1.1l0.9,0.8l2.5,-6.2l0.9,0.9l1.8,-7.7l0.8,0.5l0.9,-3.7l0.9,1.6l0.8,-5l0.9,-1.3l1.6,-10.2l0.9,0.1l0.8,-3.5l0.8,-7.2l0.9,1l0.8,-9.9l0.8,-2.1l0.9,-0.1l0.8,-1.1l1.6,-5.3l0.8,-7.9l0.8,2.5l0.8,-5.2l0.8,4.1l0.8,-9.3l0.8,-1.8l1.6,0.8l0.8,7.5l1.6,0l0.8,-1.6l1.6,10.5l1.6,3.1l0.8,5.2l0.8,-4.1l1.6,14.6l0.8,0.5l0.8,7.6l0.8,-0.3l0.9,2.5l1.7,8l0.8,-0.7l0.9,5.4l0.8,-1l0.9,3.5l1.8,1.3l1.7,6.5l1.8,1.9l0.8,0.2l0.9,5.1l0.8,1.2l0.9,-0.5l1.6,4.3l0.9,-0.1l0.8,3.2l0.8,-1.8l0.9,2.2l0.8,-1.7l0.8,0.6l0.9,-3l0.8,2.5l0.8,-2.4l1.7,-2l0.8,-4.7l1.7,-3.2l0.8,2.7l0.9,-1.2l0.8,2.5l1.7,-1.7l0.8,0.4l0.8,4.6l1.7,-0.8l0.8,1.9l0.9,-2.2l0.8,2.1l0.8,-1l0.9,4.3l0.8,-2.4l0.8,2.8l1.7,-2.5l0.8,3.8l0.9,-1l2.5,1.8l0.8,-1.2l0.8,0.6l0.8,1.9l2.5,-1.6l1.6,1.9l0.8,-1.3l1.6,1.6l0.8,-1.6l0.8,1.4l4.9,1l0,2z" fill="#F05A62"/>
<line x1="2027.9" y1="1373.6" x2="2143.5" y2="1373.6" stroke="#FFCC00" stroke-width="1" opacity="0.4"/>
<path d="M2033.9,1373.6l0,-19l0.9,-3.5l0.8,2.1l0.9,-1.9l1.8,0.6l0.8,-0.8l2.6,-10.1l0.8,2.4l0.8,-4.4l0.9,-0.1l0.8,-6.9l0.8,-0l0.9,-5.2l1.6,-4.3l0.9,-0.6l1.6,-7.7l0.9,-1.8l0.8,1.4l0.8,-2.6l1.7,-10.8l0.8,3l2.5,-9l0.9,2.1l1.6,-10.1l0.9,2.4l0.8,-2.9l0.8,4.2l0.9,-4.8l0.8,1.6l0.9,-2.7l0.8,3.9l0.9,-4l0.9,4l0.9,-1.2l0.8,-5.8l0.9,-1.5l0.9,0.2l0.9,3.9l0.8,-0l0.9,3.9l0.8,-0.2l0.9,2.2l0.8,0.7l0.9,-5.4l0.8,9.9l0.9,1.2l0.8,3.5l0.8,-1.7l0.9,4.4l0.8,-0.8l0.8,1.1l0.9,9.8l0.8,-5.1l0.8,5.7l2.5,4.8l1.7,10.2l0.8,-1.8l1.7,9.4l1.8,0.2l0.8,-0.8l1.8,6.1l0.8,-1.5l0.9,0.1l0.9,2.9l0.8,-0.4l0.9,2.8l0.8,0.9l0.8,0.2l0.9,-1.5l0.8,1.2l0.8,3.3l0.9,-3.4l0.8,1l1.7,-0.9l1.6,5.6l0.9,0.3l0.8,-4.5l0.8,4.8l0.9,0.2l0.8,-3.1l0.8,3.4l0.9,-1l0.8,1l2.5,0.5l0.8,1.2l2.5,-1l0.9,1.1l0.8,0l0.8,-3.6l1.7,2.1l0.8,-0.3l0.9,2.3l2.5,-1.9l0.8,1.5l0.8,-2.5l0.9,-0l0.8,3.5l0.8,-1.5l1.7,-0.2l0,20z" fill="#FFCC00"/>
<line x1="2022.3" y1="1515.6" x2="2154.2" y2="1515.6" stroke="#F7A020" stroke-width="1" opacity="0.4"/>
<path d="M2028.3,1515.6l0,-4.6l0.8,-1.5l0.9,1.1l1.6,-3l1.7,1.7l0.9,-2.6l0.8,0.7l1.7,-1.2l0.8,2l0.8,-2.6l0.9,1.8l0.8,-3.3l0.8,2.7l0.9,-2.4l0.8,0.5l0.8,-2.3l0.9,0.1l0.8,2.2l0.8,-2.5l0.9,2.7l0.8,-2.5l1.7,-1.9l0.8,2.3l0.8,-0.2l0.9,-1.9l0.8,1.4l0.8,-0l0.9,-3.5l1.6,3.4l0.9,-2.5l0.8,0.2l0.8,-2.2l0.9,0.2l0.8,1.3l0.8,-3.1l0.9,2.1l0.8,-2.1l0.8,1.7l0.9,0.3l0.8,-1.1l2.5,-15l0.8,-0.8l1.7,-7.8l1.7,-9.8l0.8,-10.1l1.7,-7.6l0.8,2.1l0.8,-7.4l0.9,1.6l0.8,-9.7l1.7,-0.6l0.8,-4.2l0.8,0.8l0.9,-5.9l0.8,10l0.8,-7.7l0.9,0.1l0.8,1.8l0.8,9l0.9,-3.6l0.8,7.2l0.8,-1.9l0.9,8.8l0.8,-5l2.5,9.1l1.7,10.1l0.8,0.4l0.8,4.7l0.9,-2.3l0.8,7.3l0.8,2.4l0.9,-3l0.8,5.3l2.5,6.2l0.8,4.6l0.9,1.8l1.6,0.5l0.9,-1.2l0.8,-0.1l2.5,6.1l0.8,-0.5l0.9,0.3l0.8,3l0.8,-2.7l0.9,-0.7l0.8,4.2l0.8,-2.8l0.9,2.7l1.6,-1.1l1.7,1.5l0.8,2l0.9,-3.1l3.3,4.6l0.8,-1.9l1.7,-0.7l0.8,2.2l2.5,2.4l3.3,-2l0.9,0.3l0.8,2.5l0.8,-1.2l0.8,2.5l1.7,-2.5l0.8,2.6l0.9,-1.1l1.6,0.4l0.8,1.2l1.7,-0.8l1.6,3.6l1.7,-0.5l0,8z" fill="#F7A020"/>
<line x1="2013.2" y1="1655.1" x2="2153.9" y2="1655.1" stroke="#2E5591" stroke-width="1" opacity="0.4"/>
<path d="M2019.2,1655.1l0,-5.2l0.8,0.3l0.9,-0.5l0.8,-1.5l0.8,1l0.9,-2.3l1.6,1.7l0.8,-3.1l0.9,-0.6l0.8,1.7l0.8,-0.6l0.9,-2.4l1.6,1.6l1.7,-2.4l0.8,3l0.9,-3.2l0.8,2.6l0.8,-3.3l1.7,3l0.8,-2.1l0.9,2.5l0.8,-4.1l0.8,-0.4l2.5,3.3l0.9,-3.2l0.8,-1l0.8,1.5l2.5,1.2l0.9,-1.9l0.8,0.6l1.7,-3.8l0.8,0.3l0.8,2l0.9,-3.2l0.8,-0.2l0.8,1.9l0.9,-4l0.8,2.5l0.8,-0.9l0.9,-4.1l0.8,0.3l0.9,-2.5l1.7,0.3l1.7,-6.8l0.8,1.7l1.8,-10.4l0.8,0.6l1.7,-11.8l0.9,2.1l3.4,-16.2l2.6,-4.6l1.7,-11.7l0.8,4l0.9,-4.3l0.8,0.8l0.8,-1.6l0.9,0.4l1.6,-1l0.9,-3.4l1.6,-2.9l1.7,6.6l0.8,-1.9l1.6,7.2l1.6,2.8l2.4,25.1l2.4,14.9l1.6,7.6l0.8,1l0.8,5.6l0.8,-1.5l1.7,4.2l1.7,-0.7l0.8,3.3l0.9,-1.3l1.7,0.6l3.5,-4.7l1.8,0.5l2.5,5.3l0.9,-2.7l0.8,4.6l0.9,-1l0.9,1.3l0.8,0.2l0.9,1.7l1.8,0.6l0.8,-2l1.8,4.6l0.8,-2.9l0.9,0.2l0.8,3.5l0.8,-3.2l0.9,2.7l0.8,-2.1l1.7,2.7l0.8,-2.1l0.8,2.8l1.7,1.4l0.8,-2.8l0.8,2.8l0.8,-2.3l0.8,2l0.8,-1.9l0.8,-0.5l0.8,3.6l0.8,-0.1l1.7,-2.3l0.8,2.9l0.8,-2.5l0.8,2.5l0.8,-1.8l0.8,0.1l0.8,0.7l0,5z" fill="#2E5591"/>
<line x1="2041.3" y1="1790.6" x2="2141.9" y2="1790.6" stroke="#4BAFD2" stroke-width="1" opacity="0.4"/>
<path d="M2047.3,1790.6l0,-16.3l0.9,-2.9l0.8,0.8l0.9,-1.4l1.7,-0.4l0.8,-2.1l0.9,-0.7l0.8,1.6l0.9,0l0.8,-1.9l0.9,2.9l0.8,-2.1l0.8,0.4l1.7,-0.5l0.8,2.4l0.9,-1l0.8,2.8l0.8,0.4l0.9,-4l0.8,0l0.9,1.2l0.8,-2.2l1.8,3.3l0.9,-2.7l0.8,-1.1l0.9,-0.2l1.8,-2.7l0.8,1.1l2.6,-3.7l0.8,0.3l0.9,-2.8l0.8,-0.6l1.7,-11.3l0.8,2.7l0.9,-8l0.8,-1l1.7,-13l0.8,1.5l2.5,-20.4l0.8,2.5l1.6,-9.7l0.8,0.9l1.6,-0.6l0.8,-4.1l0.8,4.2l0.8,-2.7l0.8,1.9l1.6,0.2l0.8,-5.3l1.6,5.5l0.8,-2.7l0.9,0.9l0.8,6.9l0.8,-8.6l1.7,4.1l3.3,18.1l1.7,6.3l0.8,9.7l0.8,0.9l0.8,9.2l0.8,0.8l0.8,2.9l1.7,9.3l1.7,4.6l0.9,0.2l2.6,11.1l0.8,0l1.8,4.1l0.9,-2.4l1.7,5.8l1.7,-2.4l0.8,2.9l2.4,-0.8l0.9,0.4l0.8,-1.2l0.8,1.2l0.8,-0.2l0.8,-2.6l0.8,0.3l0,10z" fill="#4BAFD2"/>
<line x1="2029.4" y1="1932.7" x2="2150" y2="1932.7" stroke="#7AC8AD" stroke-width="1" opacity="0.4"/>
<path d="M2035.4,1932.7l0,-2l0.9,-2l0.8,-0.5l0.9,-3.6l2.6,-1.9l0.9,-3.8l0.9,0.7l0.9,-1.5l0.8,-4.7l0.9,0.2l0.9,-1.9l0.8,-5.8l0.9,1.2l0.9,-6.7l0.9,2.4l0.8,-6.8l3.5,-10.2l2.6,-14.3l0.8,0.3l1.8,-2.9l0.8,-9.6l0.9,5.3l0.8,-5.1l1.7,-1.6l0.9,-10.7l0.9,6.1l0.8,-3l0.9,-1l0.8,-8.1l0.9,7.9l1.7,-7.5l0.8,-0.6l0.8,4.8l1.6,-4l0.8,8.9l0.8,2.1l0.8,0.7l0.8,-0.2l1.6,3.5l0.9,-4.1l0.8,6.8l1.8,-4.4l1.8,1.7l0.8,5.2l0.9,1.8l0.9,-0l0.8,1.9l0.9,0.4l0.9,6.7l0.9,-2.8l1.7,7.3l2.5,3.9l0.8,-2.3l0.8,5.6l0.8,1.4l0.8,-2.4l1.6,6.9l0.8,1.6l0.8,-0.6l0.8,3.4l0.8,-1.9l0.8,3.5l0.8,0.1l0.8,1.9l1.6,0.7l0.8,2.8l0.8,-2l0.8,0.7l0.8,4.2l0.8,-1.4l1.6,2.6l0.8,3.9l0.8,-1.7l0.8,4.8l0.8,-1.1l0.8,2.9l0.8,-0.5l0.8,3.2l0.8,-2.5l0.9,-0.1l0.8,3.9l1.6,-0.7l0.8,0.9l0.8,3.6l0.9,-2.6l0.8,1.8l0.8,0l1.7,3.3l0.8,-1.8l1.7,3.6l0.8,-0.6l0.8,0.8l0.9,-1.1l0.8,1.5l0.8,-0.3l0.9,1.4l1.6,0l0.8,1.2l0.9,-1l0.8,1.9l1.6,-0.9l4.1,0.9l0,2z" fill="#7AC8AD"/>
<line x1="2042.2" y1="2066.4" x2="2123" y2="2066.4" stroke="#0B6560" stroke-width="1" opacity="0.4"/>
<path d="M2048.2,2066.4l0,-10l16.8,0l0,-18l7,0l0,-17l6,0l0,-17l7,0l0,-18l7,0l0,20l6,0l0,25l7,0l0,20l5,0l0,10l7,0l0,5z" fill="#0B6560"/>
<path d="M2019,808.5l0.9,-1.8l0.9,0.4l1,1.8l0.9,-0.8l0.9,1.3l2.7,-0.7l1,-0.8l1.8,1.2l0.9,-0.5l0.9,0.8l1.8,-0.5l0.9,1.3l0.9,-1.2l3.7,1.7l0.9,-0.5l0.9,0.9l1.8,-2.1l2.7,0.4l1,-0.6l0.9,1.1l0.9,-0l0.9,-2.1l0.9,1l2.9,-2.2l1,-2l1,0.1l2,-3.2l1,0.7l1,-3.2l1,1.5l1,-2l1,-0l1,-0.7l1,2l1,-0.9l1,0.8l1,-0.8l1,3l1,0.4l1,-0.6l1,2.1l1,0l1,3.9l1,0.9l1,-0.4l2,-4.1l4,-52.5l0.9,-0.9l0.9,1.5l0.9,-2.4l0.9,0.8l0.9,-2.3l1,3.1l0.9,-3.8l0.9,3.9l0.9,0.7l0.9,-3.6l0.9,-0.5l2,4.3l1,-4.7l1,4.8l1,-3.5l1,0.3l2,-26.4l1,37.6l2,-12.2l1,0.4l1,2.4l2,-3.9l1,3.3l1,-0.5l1,-1.7l1,4.3l1,-0l1,1.4l1,-0.3l2,21.2l2,29.3l1,1.3l1,-0.3l2.9,1.7l0.9,1.6l0.9,-1l2.8,2.9l1.8,-0.3l1.8,1.5l0.9,-1.3l1,2.4l1,-0.4l6,3l7,-3l1,-1.9l1,0.3l1,-1.8l1,0.7l1,-2l1,-0.4l1,0.8l2,-0.2l1,0.7l2,-0.1l1,-0.6 M2067,820.9 H2100.2 M2067,817.4 V824.4 M2100.2,817.4 V824.4 M2029,952.9l7,0l4,-1.5l10,1l3,2l4,-4.3l1,0.3l2,-1.5l1,-1.4l1,0.7l1,-1.9l1,-0.6l2,2.6l1,-0.8l2,1.2l1,1.3l1,-0.6l2,0.7l1,-2.4l1.9,1.4l1,-1.2l0.9,2.1l1.8,0l1,0.5l1.8,-0.7l1.9,0.6l0.9,1.2l1.9,-1.4l0.9,1.2l3,-7.3l3,-14.5l3,-3.8l2,-61.1l3,-3.8l1,5.1l1,-0.4l1,0.8l1,6.9l1,3.4l1,1.4l1,5l1,9.8l3,61.5l3,-4.5l1,1l1,-0.8l2,2.3l5,1l14,-0.5 M2077.6,962.4 H2111.3 M2077.6,958.9 V965.9 M2111.3,958.9 V965.9 M2032,1082.4l1,0.1l1,1.7l1,-0.7l1,1l1,-1.5l1,2.2l1,-1.8l2,3.9l3,2l2,2.7l1,-0.1l2,1l4,-24.9l4,-32.9l2,-10l2,-17.1l1,-0.2l1,-6.7l1,-0.6l1,3.4l1,-0.1l5,22.7l1,7.1l3,10.9l2,12.7l1,2.8l1,6.1l2,6.4l1,-1.2l1,3.2l2,3.6l4,14.8l1,-2.4l1,0.8l1,-2.4l1,-0.5l1,-1.3l1,0.8l3,-2.6l4,-6.7l1,-3.3l1,0.8l2,-3.5l2,-0.1l1,-2.9l1,0.6l2,-0.1l1,0.7l4,7.4l1,-1.2l1,1.3l1,2.9l1,-0.8l3,3.1l1,-1l1,1.6l1,-0.4l1,0.2l0.9,1.1l1.8,-0.7l0.9,-1.1l0.9,1.4l0.9,-1.3l0.9,0.6l1.8,-1.4l0.9,0.6l1,-0.6l0.9,1.6l1.8,-0.8l0.9,0.6l0.9,-0.3l0.9,-1.2l0.9,1.4l0.9,-0.8l0.9,0.4l0.9,-0.5 M2087.1,1100 H2118.6 M2087.1,1096.5 V1103.5 M2118.6,1096.5 V1103.5 M2020,1230.7l0.9,-0.5l0.9,-1.5l0.9,1.4l0.9,-0.9l0.9,1l1,-0l0.9,-1.9l0.9,0.7l1.8,-0.4l1.8,0.6l0.9,-1l0.9,1.4l0.9,-0.3l0.9,1l1,-1.2l0.9,0.8l0.9,-0.2l2.7,2l2.8,-0.8l0.9,1.6l0.9,-0.4l1,0.3l0.9,1.8l0.9,-1.7l1,0.1l0.9,1.9l0.9,-0.3l2.8,0.9l2,-4.5l1,-3.7l4,-30.6l2,-8.5l1,-8l1,-0.5l2,-24.9l4,-12.3l1,6.2l1,0.6l4,20.3l6,60.8l2,2.5l2,4.6l2,-3l1,-2.6l2,0.7l2,-1.8l1,1.7l1,-1l7,4l2,-2.1l2,-4.9l2,-1.3l2,-2.9l1,1.8l1,-0.6l1,0.1l1,-2.9l1,2l1,0.3l2,3l1,2.4l1,0.1l0.9,1.7l1.8,-0.2l0.9,1.3l1.9,-0.9l0.9,2l0.9,-1.1l0.9,-0.2l1.8,1.4l20,0 M2068.7,1244.6 H2102.4 M2068.7,1241.1 V1248.1 M2102.4,1241.1 V1248.1 M2032,1368.9l1,1.5l2,-0.1l1,-1.5l1,1.3l1,-0.8l1,1.2l1,-0.3l1,-1.6l1,0.1l1,-0.5l1,-1.8l1,1l1,-2.2l1,1.6l1,-1.5l1,-3.1l1,-0.2l1,-2.7l1,-1.2l3,-16.6l2,-14.7l1,-3.8l1,-1l1,-5.1l1,-2l1,-7.8l1,0.2l1,-4l1,-8.3l1,-0.7l3,-8.1l1,2.5l1,-4.4l2,-4.7l2,7.6l1,-3.9l4,10l2,3.7l1,7l1,3.3l3,27.2l8,37.1l5,0l1,-0.7l1,0.2l1,-2.6l1,0.2l2,-1.3l0.9,0.9l1.8,-0.7l1.8,1.2l0.9,-0.2l2.7,2.4l0.9,-0.4l10,1l6.5,-1l0.9,0.5l1,-1.1l1.8,0.9l0.9,-1.8l1,1.2l0.9,-0.7 M2036.1,1379.5 H2117.5 M2036.1,1376 V1383 M2117.5,1376 V1383 M2022,1508.4l0.9,-0.2l1,0.5l0.9,-0.9l0.9,0.9l0.9,-0.1l1,-1.5l0.9,0.2l0.9,-0.6l1,0.5l0.9,-0.6l0.9,1.2l1.9,-1.7l0.9,-0.1l0.9,1.6l0.9,0.5l0.9,-0.2l0.9,0.4l0.9,-0.7l1,1.8l0.9,-1.3l0.9,0.9l0.9,-0.7l0.9,0.7l1.9,0l1,-1.3l2,-0.8l1,1l1,-0.4l3,3.2l1,1.9l7,1l2,-2.4l1,-0.3l1,-2.2l1,0.9l1,-2.8l1,1l2,-5.1l2,-9.7l1,-1.5l2,-6.2l2,-3.4l3,-22.4l4,-21.1l2,-6.7l1,-7.6l1,0.3l1,2l1,3.9l1,8l1,-0.4l1,5l7,75.7l2,-10.8l1,-0.6l1,-0l1,-1l1,1.5l2,-2.1l1,1.6l1.8,0.3l0.9,-0.6l0.9,1.5l1.9,-0.8l0.9,1.4l1.8,-1.7l0.9,1.4l0.9,0.2l1.9,-0.3l0.9,0.5l1.9,-0.7l0.9,1.5l1.9,-1.7l0.9,1.7l1,-1.8l0.9,1.8l0.9,-0.6l1,0.5l0.9,-0.7l1.9,0.6l1.8,-0.8l1.8,0.4l0.9,-0.8l1,1.2l2.7,-1.4l0.9,1l0.9,0.1l1.8,-1.2l0.9,0.6l1.8,-0.9l2.8,1.3l0.9,-1.5l0.9,1l0.9,-0.1 M2075.2,1522 H2100.6 M2075.2,1518.5 V1525.5 M2100.6,1518.5 V1525.5 M2033,1652.1l17,1l15,-1l1,0.8l1,-1.8l3,1.4l1,-1.7l1,1l2,-4.7l1,0.1l1,-1.8l3,-35.2l1,-5.2l1,-2.6l1,-6.9l1,-3l1,-8.3l1,-2.7l2,-10.4l1,-3.6l1,0.6l1,-2.4l1,2.6l1,8.7l5,62.2l3,13.9l3.9,-3.6l0.9,-0l1.8,-3.9l1.8,-0.3l0.9,-2.7l0.9,0.9l0.9,-2.7l0.9,0.5l3,-1.1l1,1l1,-2.3l1,1.9l1,-1.8l1,2.4l3,11.7l25,0 M2067.7,1661.1 H2093.1 M2067.7,1657.6 V1664.6 M2093.1,1657.6 V1664.6 M2036.3,1788.1l8.7,0l20,2.5l7,-1l5,-2.5l1,0.4l1,-1.3l1,0l3,-7.7l1,-5.1l2,0.1l1,-2.3l1,1.5l1,-1.9l1,1l3,-61.8l1,-4.8l1,1.8l1,-2.7l1,-1.3l1,-4l1,-1.9l1,5l1,0.3l1,-2.6l2,-2.1l1,2.3l1,6.2l1,1.6l1,5.4l1,0.2l1,-1.2l2,4.9l2,42.6l2,22.7l1,-0.2l2,2.5l1,-0.9l1,0.3l1,1.1l2,-0.6l2,1.5l1,-1l3,1.5l1,-0.5l1,1.3l1,0.2l14,0.5 M2071.3,1798.1 H2114.7 M2071.3,1794.6 V1801.6 M2114.7,1794.6 V1801.6 M2030,1928.6l2,-1.9l1,0.9l1,-0.4l1,0.9l1,-0.7l1,0.2l1,1.9l3,3.2l3,-20.8l1,-0.2l3,-10.7l2,-2.2l1,-3.1l1,-1.2l1,0.1l2,-5.9l1,0.6l2,-6.5l1,0.5l1,-0.4l2,-7.5l1,-10.5l2,-8.5l1,-11.6l1,3.1l1,-5.5l2,-1.8l1,8.2l1,1.2l1,6.3l1,-1.4l2,4.6l2,1.6l1,0.4l1,-1.7l2,1.1l1,7.3l2,7.5l1,7.6l2,9.2l1,0.7l1,1.6l2,5.9l1,-0.8l2,2.6l2,1.6l1,3.2l1,-1.5l1,2.4l3,3l4,8.2l2,2l1,3.4l1,0.2l1,2.1l1,-0.5l2,3.1l3,3l3,-3.6l1,-2.5l1.8,2.2l0.9,-1.5l1,0.6l0.9,-0.5l0.9,0.9l0.9,-1.2l0.9,0.7l0.9,-0.7l1,1.3l1.8,-1.4l0.9,0.4l1.8,-0.4l1,1.2l0.9,-1.6l0.9,2.2l0.9,-1.6l0.9,1.4l0.9,-1.4l1,1.2l0.9,-1.6l0.9,0.9 M2048.8,1938.4 H2119.1 M2048.8,1934.9 V1941.9 M2119.1,1934.9 V1941.9 M2033.3,2063.4l0.9,-1.3l0.9,-0.3l3.7,1.6l1.9,-0.4l0.9,-1.1l0.9,1.3l1.8,-1.1l0.9,1.1l1.9,-1l0.9,0.8l1,-11.9l3,0.6l2,3.4l1,0l2,-6.1l2,-2.9l1,-3.2l2,3.5l1,1l4,-11.2l4,-38.6l2,-11.5l1,2.8l1,-3.2l1,-1.4l1,0.8l1,-3.4l1,4l1,-6.8l1,0.3l1,-1.4l1,3.4l1,-0l1,-2.8l1,-0.9l1,3.5l1,-0.9l2,5.6l1,1.3l1,4l1,-2.1l1,5.9l1,-0.1l1,8.6l1,0.9l4,20.9l3,19.4l1,4.1l4,8.7l1,4.1l1,0.3l7,8.7l4,-9l0.9,1.8l2.8,-1.3l0.9,1.4l0.9,-0.9l0.9,0.8l0.9,-1l3.7,-0.1l0.9,0.9l0.9,0l0.9,-1.7l0.9,1.7l0.9,-0.6l0.9,0.4l0.9,-0.6l1,1l1.8,-0.1l0.9,-0.7 M2048.2,2079.9 H2119 M2048.2,2076.4 V2083.4 M2119,2076.4 V2083.4" fill="none" stroke="#231f20" stroke-width="1.5" stroke-linejoin="round"/>
</svg>
</body></html>
